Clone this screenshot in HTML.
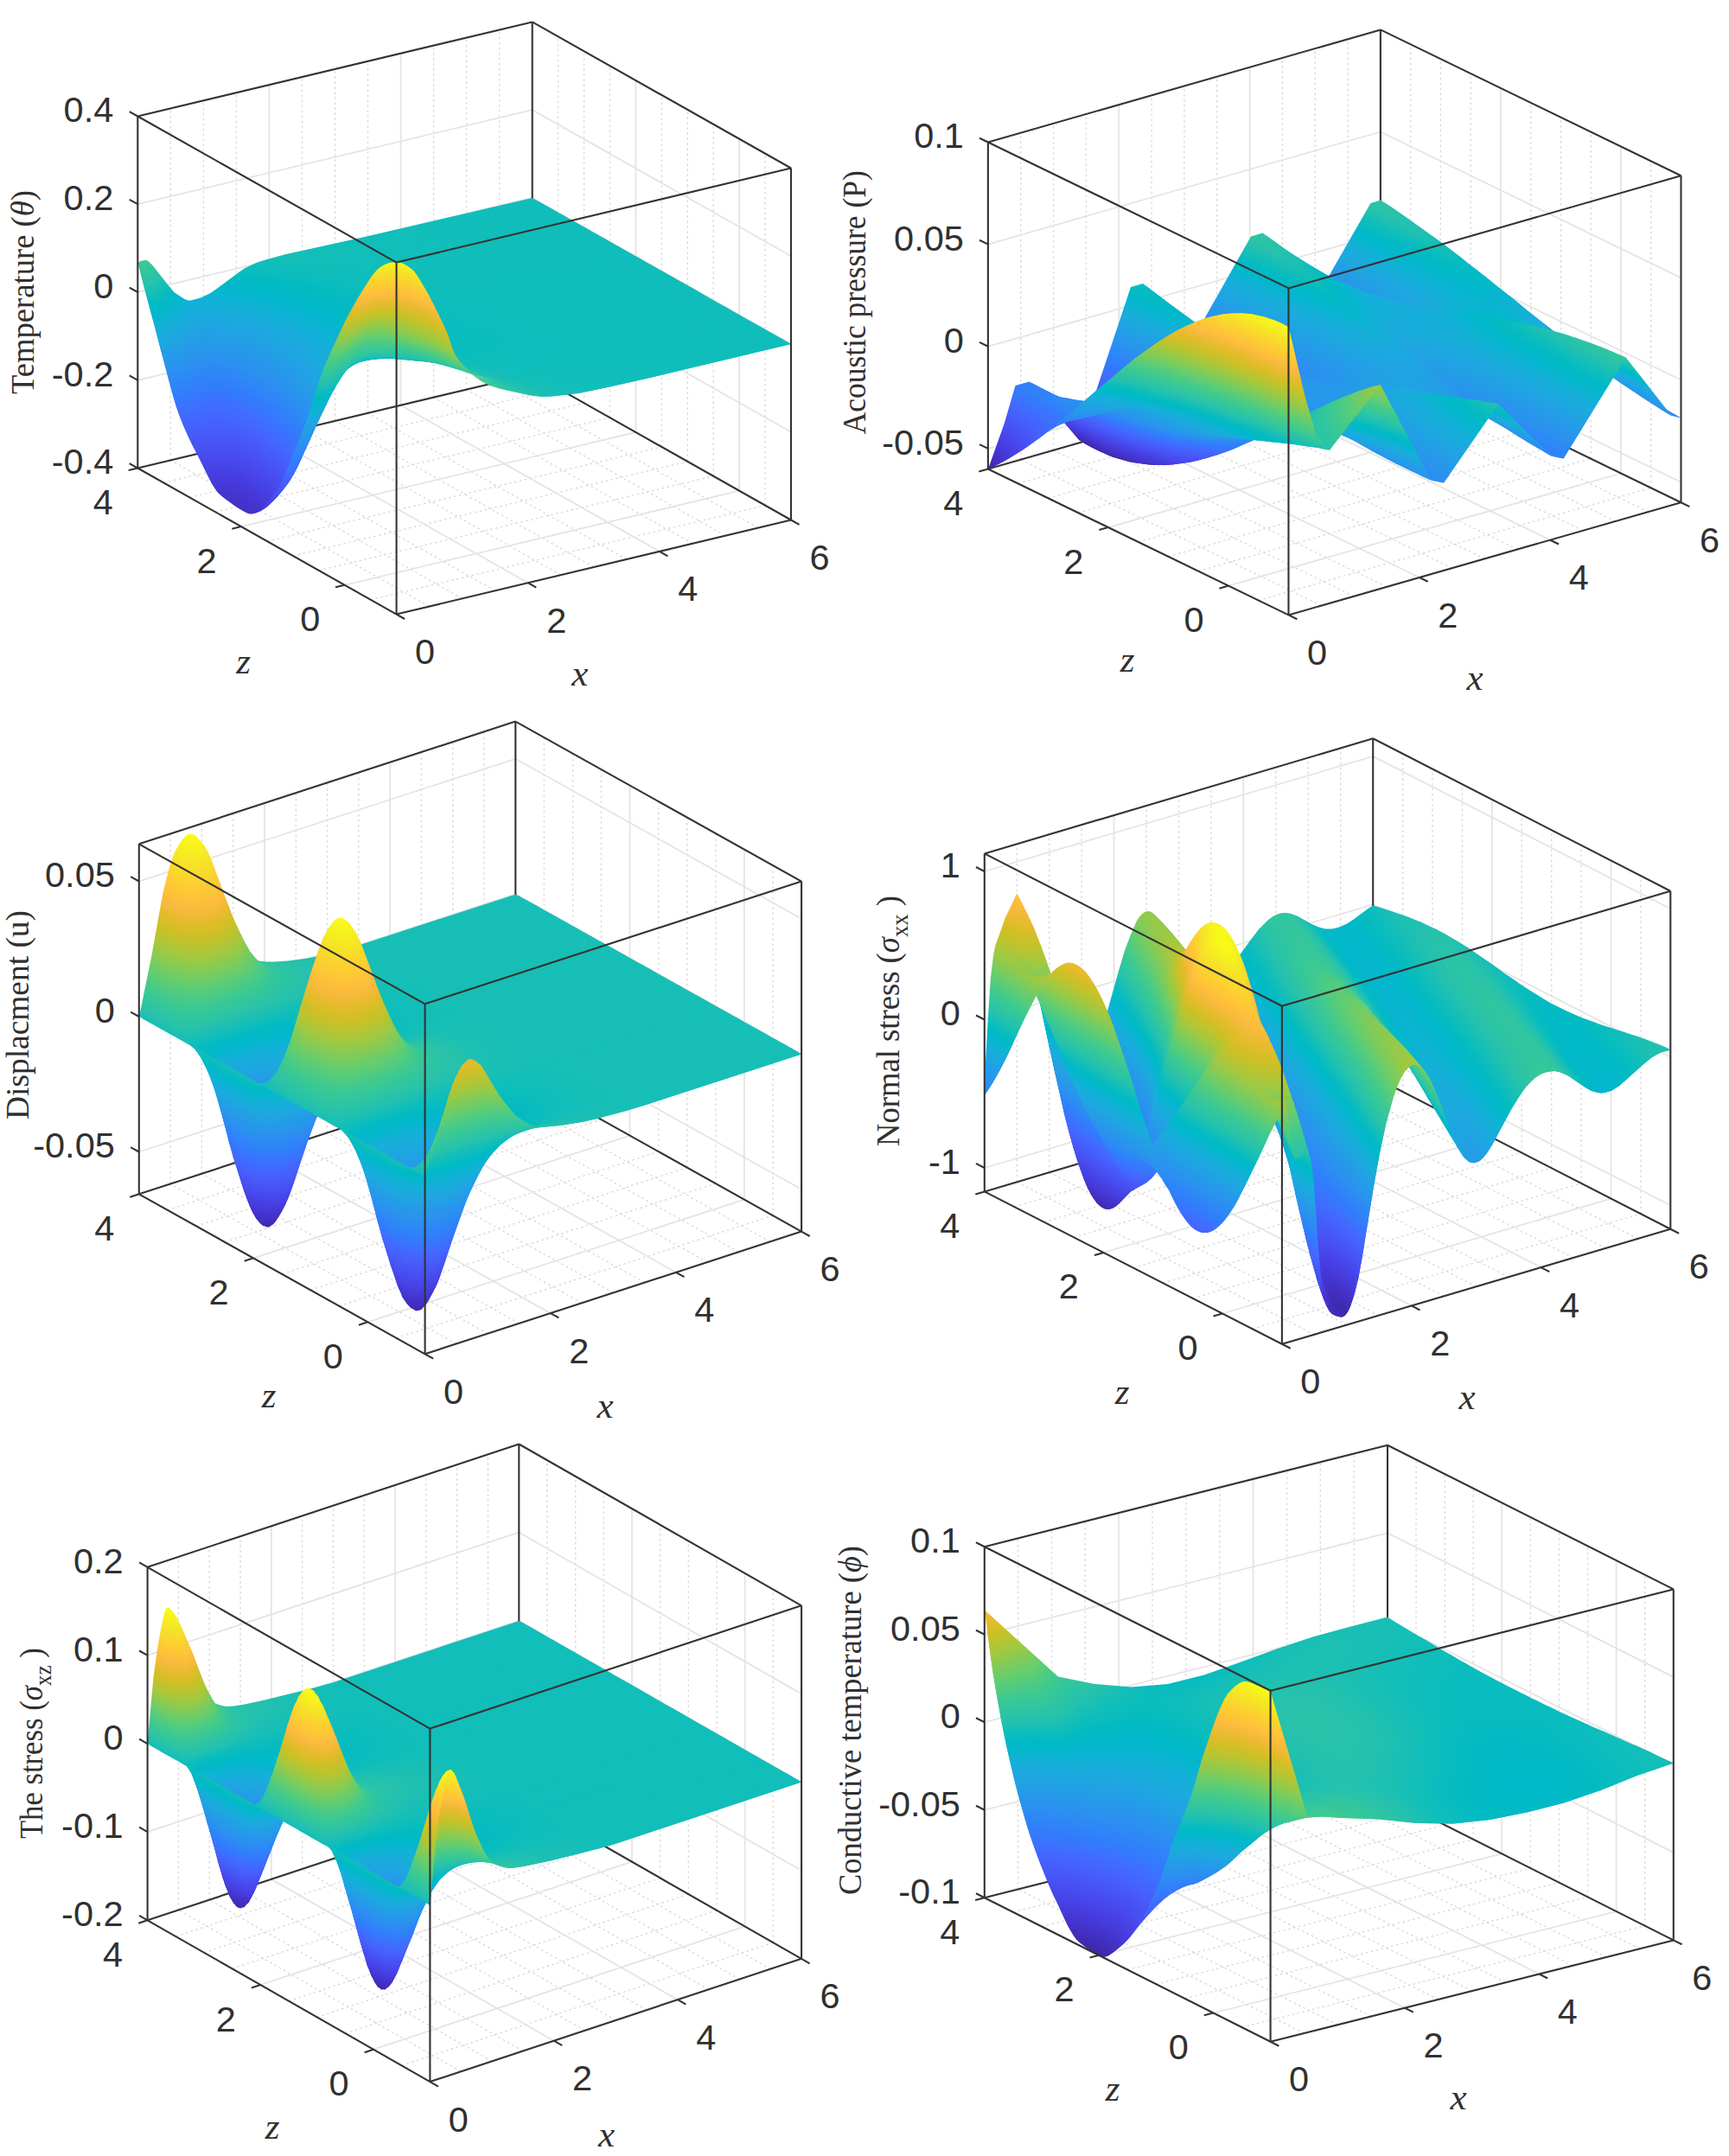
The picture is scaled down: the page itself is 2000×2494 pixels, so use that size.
<!DOCTYPE html>
<html><head><meta charset="utf-8"><title>Figure</title><style>
html,body{margin:0;padding:0;background:#fff}
svg{display:block}
.mn{fill:none;stroke:#dadada;stroke-width:1.4;stroke-dasharray:2.6 3.4}
.mj{fill:none;stroke:#e4e4e4;stroke-width:1.8}
.bx{fill:none;stroke:#333;stroke-width:2.1}
.t{font-family:"Liberation Sans",sans-serif;font-size:41.5px;fill:#303030}
.i{font-family:"Liberation Serif",serif;font-style:italic;font-size:43px;fill:#303030}
.y{font-family:"Liberation Serif",serif;font-size:37px;fill:#303030}
.y tspan.g{font-style:italic}
</style></head><body>
<svg width="2000" height="2494" viewBox="0 0 2000 2494">
<rect width="2000" height="2494" fill="#fff"/>
<g>
<path class="mn" d="M496.6 701.5L197.3 532.4M197.3 532.4L197.3 125.4M534.7 692.4L235.4 523.3M235.4 523.3L235.4 116.3M572.7 683.3L273.4 514.2M273.4 514.2L273.4 107.2M648.8 665.1L349.5 496.0M349.5 496.0L349.5 89.0M686.8 656.0L387.5 486.9M387.5 486.9L387.5 79.9M724.8 647.0L425.5 477.9M425.5 477.9L425.5 70.9M800.9 628.8L501.6 459.7M501.6 459.7L501.6 52.7M838.9 619.7L539.6 450.6M539.6 450.6L539.6 43.6M877.0 610.6L577.7 441.5M577.7 441.5L577.7 34.5M428.7 693.7L885.1 584.6M885.1 584.6L885.1 177.6M368.8 659.9L825.2 550.8M825.2 550.8L825.2 143.8M338.9 643.0L795.3 533.9M795.3 533.9L795.3 126.9M309.0 626.0L765.4 517.0M765.4 517.0L765.4 110.0M249.1 592.2L705.5 483.1M705.5 483.1L705.5 76.1M219.2 575.3L675.6 466.2M675.6 466.2L675.6 59.2M189.2 558.4L645.6 449.3M645.6 449.3L645.6 42.3"/>
<path class="mj" d="M610.7 674.2L311.4 505.1M311.4 505.1L311.4 98.1M762.9 637.9L463.6 468.8M463.6 468.8L463.6 61.8M398.7 676.8L855.1 567.7M855.1 567.7L855.1 160.7M279.0 609.1L735.4 500.0M735.4 500.0L735.4 93.0M159.3 439.8L615.7 330.6M615.7 330.6L915.0 499.8M159.3 338.0L615.7 228.9M615.7 228.9L915.0 398.0M159.3 236.2L615.7 127.1M615.7 127.1L915.0 296.2"/>
<path class="bx" d="M159.3 541.5L615.7 432.4M615.7 432.4L915.0 601.5M615.7 432.4L615.7 25.4"/>
<g class="s">
<defs><linearGradient id="ma" gradientUnits="userSpaceOnUse" x1="917.2" y1="1416.1" x2="734.3" y2="650.9"><stop offset="0" stop-color="#3e26a8"/><stop offset="0.063" stop-color="#4537d5"/><stop offset="0.095" stop-color="#4741e5"/><stop offset="0.143" stop-color="#4852f4"/><stop offset="0.19" stop-color="#4563fd"/><stop offset="0.222" stop-color="#3e6fff"/><stop offset="0.254" stop-color="#327cfc"/><stop offset="0.286" stop-color="#2e87f7"/><stop offset="0.317" stop-color="#2b91ef"/><stop offset="0.397" stop-color="#1ca9df"/><stop offset="0.413" stop-color="#18addb"/><stop offset="0.429" stop-color="#12b1d6"/><stop offset="0.444" stop-color="#08b5d0"/><stop offset="0.46" stop-color="#01b8ca"/><stop offset="0.476" stop-color="#02bac3"/><stop offset="0.492" stop-color="#0bbdbd"/><stop offset="0.524" stop-color="#24c1ae"/><stop offset="0.556" stop-color="#31c69f"/><stop offset="0.587" stop-color="#3fca8e"/><stop offset="0.635" stop-color="#64cd6f"/><stop offset="0.698" stop-color="#9dc943"/><stop offset="0.73" stop-color="#b9c431"/><stop offset="0.746" stop-color="#c5c22a"/><stop offset="0.762" stop-color="#d1bf27"/><stop offset="0.778" stop-color="#dcbd29"/><stop offset="0.794" stop-color="#e6bb2d"/><stop offset="0.825" stop-color="#f8ba3d"/><stop offset="0.841" stop-color="#febe3c"/><stop offset="0.889" stop-color="#fccf30"/><stop offset="0.937" stop-color="#f5e327"/><stop offset="0.984" stop-color="#f7f51b"/><stop offset="1" stop-color="#f9fb15"/></linearGradient></defs>
<g transform="scale(0.5)" fill="url(#ma)">
<path transform="translate(0 -479)" d="M319 1087l6-4 10-2 4 0 5 3 9 9 42 53 9 10 23 15 8 3 7 0 22-6 23-11 13-9 54-40 13-9 28-13 26-8 41-11 186-41 383-89 12 7-381 89-167 37-30 7-22 7-34 12-31 16-16 12-64 52-43 25-6 2-7 0-6-2-16-7-6-4-33-34-17-20-8-7-5-2-4 0-10 3-6 4z"/>
<path transform="translate(0 -474)" d="M325 1105l6-3 10-3 4 0 5 3 8 7 17 21 34 38 23 13 7 2 7 1 23-10 24-13 64-50 16-11 30-14 30-10 45-13 177-38 382-90 12 7-381 89-132 30-54 12-31 10-36 14-32 17-17 13-61 52-45 31-6 2-7 0-7-1-14-5-6-3-33-31-18-20-8-6-5-2-3 1-10 3-6 4z"/>
<path transform="translate(0 -469)" d="M331 1124l6-4 10-3 4 0 5 2 8 7 17 20 33 34 6 4 16 7 6 2 7 0 6-2 43-25 64-52 16-12 31-16 34-12 22-7 30-7 167-37 381-89 12 6-275 65-230 52-59 15-31 9-38 15-17 9-17 10-18 15-60 54-29 21-16 13-7 3-7 1-7-1-14-4-5-2-33-29-19-19-6-4-5-1-3 0-16 7z"/>
<path transform="translate(0 -464)" d="M337 1142l6-4 10-3 3-1 5 2 8 6 18 20 33 31 6 3 14 5 7 1 7 0 6-2 45-31 61-52 17-13 32-17 36-14 31-10 54-12 132-30 381-89 12 7-258 60-240 55-64 16-31 10-40 16-17 10-17 10-14 12-30 27-34 33-29 22-18 17-8 3-6 1-8 0-11-2-6-3-31-24-19-17-8-5-4-1-3 0-16 8z"/>
<path transform="translate(0 -460)" d="M343 1160l16-7 3 0 5 1 6 4 19 19 33 29 5 2 14 4 7 1 7-1 7-3 16-13 29-21 60-54 18-15 17-10 17-9 38-15 31-9 59-15 230-52 275-65 12 7-242 57-252 58-67 17-31 10-41 18-19 11-16 10-14 12-29 27-33 33-32 27-16 17-4 3-6 2-8 2-13-1-8-2-31-21-19-16-8-5-4-1-4 1-15 8z"/>
<path transform="translate(0 -455)" d="M349 1178l16-8 3 0 4 1 8 5 19 17 31 24 6 3 11 2 8 0 6-1 8-3 18-17 29-22 34-33 30-27 14-12 17-10 17-10 40-16 31-10 64-16 240-55 258-60 12 6-228 54-262 61-70 18-31 10-42 19-20 12-16 11-42 38-34 36-29 27-19 21-4 4-7 3-19 2-10-2-29-17-20-16-8-4-7 0-15 8z"/>
<path transform="translate(0 -450)" d="M355 1195l15-8 4-1 4 1 8 5 19 16 31 21 8 2 13 1 8-2 6-2 4-3 16-17 32-27 33-33 29-27 14-12 16-10 19-11 41-18 31-10 67-17 252-58 242-57 12 7-215 51-272 62-72 19-32 11-43 20-22 14-15 10-40 39-34 37-28 27-21 26-6 4-8 4-17 3-9-1-29-15-19-13-8-4-7 1-16 8z"/>
<path transform="translate(0 -445)" d="M361 1211l15-8 7 0 8 4 20 16 29 17 10 2 19-2 7-3 4-4 19-21 29-27 34-36 42-38 16-11 20-12 42-19 31-10 70-18 262-61 228-54 12 7-479 112-59 15-37 11-24 10-29 14-23 14-20 14-38 38-35 39-25 24-9 11-15 22-4 4-7 5-8 3-12 4-4 0-6-1-29-11-19-13-8-3-7 1-16 9z"/>
<path transform="translate(0 -440)" d="M366 1228l16-8 7-1 8 4 19 13 29 15 9 1 17-3 8-4 6-4 21-26 28-27 34-37 40-39 15-10 22-14 43-20 32-11 72-19 272-62 215-51 12 7-478 111-61 17-38 11-24 11-30 15-25 16-17 13-38 38-33 38-24 25-10 13-16 25-6 6-6 4-19 8-10 1-28-9-20-11-8-3-6 2-16 9z"/>
<path transform="translate(0 -436)" d="M372 1246l16-9 7-1 8 3 19 13 29 11 6 1 4 0 12-4 8-3 7-5 4-4 15-22 9-11 25-24 35-39 38-38 20-14 23-14 29-14 24-10 37-11 59-15 479-112 12 7-477 112-65 17-37 12-24 11-29 15-26 18-16 13-37 38-33 39-23 25-10 13-18 30-7 7-7 6-17 8-10 2-27-5-7-3-13-7-8-2-6 1-16 9z"/>
<path transform="translate(0 -431)" d="M378 1263l16-9 6-2 8 3 20 11 28 9 10-1 19-8 6-4 6-6 16-25 10-13 24-25 33-38 38-38 17-13 25-16 30-15 24-11 38-11 61-17 478-111 12 6-476 112-67 18-38 13-25 12-28 16-29 20-15 13-34 36-32 40-21 24-12 16-18 33-7 8-9 7-14 9-9 3-31-2-6-3-12-5-7-2-7 2-16 10z"/>
<path transform="translate(0 -426)" d="M384 1280l16-9 6-1 8 2 13 7 7 3 27 5 10-2 17-8 7-6 7-7 18-30 10-13 23-25 33-39 37-38 16-13 26-18 29-15 24-11 37-12 65-17 477-112 12 7-474 111-69 19-22 7-17 7-25 12-28 17-28 19-17 16-33 36-31 39-21 26-12 16-19 37-9 11-11 9-12 8-12 3-25 1-7-2-12-5-7 0-6 2-16 9z"/>
<path transform="translate(0 -421)" d="M390 1299l16-10 7-2 7 2 12 5 6 3 31 2 9-3 14-9 9-7 7-8 18-33 12-16 21-24 32-40 34-36 15-13 29-20 28-16 25-12 38-13 67-18 476-112 12 7-473 111-72 21-21 7-18 7-27 15-28 16-26 20-18 17-31 35-50 63-13 19-15 31-5 10-11 12-16 15-5 4-7 3-26 4-8-1-14-4-7 0-6 2-16 10z"/>
<path transform="translate(0 -416)" d="M396 1316l16-9 6-2 7 0 12 5 7 2 25-1 12-3 12-8 11-9 9-11 19-37 12-16 21-26 31-39 33-36 17-16 28-19 28-17 25-12 17-7 22-7 69-19 474-111 12 7-473 111-35 9-39 13-20 6-18 8-32 17-27 18-23 18-21 21-27 31-49 64-13 19-15 33-5 10-12 15-16 16-5 4-7 3-25 7-8 0-15-3-7 0-21 13z"/>
<path transform="translate(0 -412)" d="M402 1334l16-10 6-2 7 0 14 4 8 1 26-4 7-3 5-4 16-15 11-12 5-10 15-31 13-19 50-63 31-35 18-17 26-20 28-16 27-15 18-7 21-7 72-21 473-111 12 7-472 111-36 10-40 12-20 8-18 8-38 21-26 18-21 17-23 24-22 26-49 66-12 18-15 34-5 11-12 16-17 18-11 8-27 9-8 1-13-3-7 1-21 13z"/>
<path transform="translate(0 -407)" d="M408 1349l21-13 7 0 15 3 8 0 25-7 7-3 5-4 16-16 12-15 5-10 15-33 13-19 49-64 27-31 21-21 23-18 27-18 32-17 18-8 20-6 39-13 35-9 473-111 12 6-471 112-35 9-42 13-20 8-18 8-41 24-33 24-20 18-27 30-14 17-46 62-10 17-15 35-7 13-11 17-17 19-11 8-24 11-8 2-14-2-7 1-5 2-17 11z"/>
<path transform="translate(0 -402)" d="M414 1361l21-13 7-1 13 3 8-1 27-9 11-8 17-18 12-16 5-11 15-34 12-18 49-66 22-26 23-24 21-17 26-18 38-21 18-8 20-8 40-12 36-10 472-111 12 7-471 111-37 10-41 13-20 8-18 8-40 24-35 25-19 18-27 31-15 18-45 61-10 19-14 33-7 14-12 19-17 20-10 8-24 13-8 3-14-1-7 1-22 14z"/>
<path transform="translate(0 -397)" d="M420 1371l17-11 5-2 7-1 14 2 8-2 24-11 11-8 17-19 11-17 7-13 15-35 10-17 46-62 14-17 27-30 20-18 33-24 41-24 18-8 20-8 42-13 35-9 471-112 12 7-471 112-37 10-42 14-19 7-20 9-40 24-34 25-19 18-28 31-14 19-44 60-10 19-14 34-7 14-12 20-18 23-11 9-24 14-8 3-12 0-7 2-22 13z"/>
<path transform="translate(0 -392)" d="M426 1381l22-14 7-1 14 1 8-3 24-13 10-8 17-20 12-19 7-14 14-33 10-19 45-61 15-18 27-31 19-18 35-25 40-24 18-8 20-8 41-13 37-10 471-111 12 6-471 112-38 11-43 14-20 8-18 8-39 24-34 25-20 20-29 32-46 61-10 15-10 19-15 38-7 14-13 22-18 22-10 9-23 16-8 3-12 1-7 2-22 14z"/>
<path transform="translate(0 -387)" d="M432 1389l22-13 7-2 12 0 8-3 24-14 11-9 18-23 12-20 7-14 14-34 10-19 44-60 14-19 28-31 19-18 34-25 40-24 20-9 19-7 42-14 37-10 471-112 12 7-471 112-38 11-44 14-19 7-19 10-38 23-35 26-20 20-29 32-43 58-12 17-10 19-15 39-8 16-15 24-10 15-7 8-9 8-23 18-8 4-11 1-7 2-22 15z"/>
<path transform="translate(0 -383)" d="M438 1398l22-14 7-2 12-1 8-3 23-16 10-9 18-22 13-22 7-14 15-38 10-19 10-15 46-61 29-32 20-20 34-25 39-24 18-8 20-8 43-14 38-11 471-112 12 7-333 79-137 33-39 11-45 16-19 7-19 10-37 22-35 26-22 21-29 33-41 56-13 19-9 17-15 39-8 17-17 29-16 22-9 8-23 20-7 3-11 3-7 2-22 14z"/>
<path transform="translate(0 -378)" d="M444 1406l22-15 7-2 11-1 8-4 23-18 9-8 7-8 10-15 15-24 8-16 15-39 10-19 12-17 43-58 29-32 20-20 35-26 38-23 19-10 19-7 44-14 38-11 471-112 12 7-333 78-137 34-40 11-47 16-18 8-18 9-36 22-34 25-19 18-25 27-22 27-29 40-11 17-9 18-15 40-7 15-13 24-18 26-11 13-24 23-7 4-11 3-7 3-22 14z"/>
<path transform="translate(0 -373)" d="M450 1412l22-14 7-2 11-3 7-3 23-20 9-8 16-22 17-29 8-17 15-39 9-17 13-19 41-56 29-33 22-21 35-26 37-22 19-10 19-7 45-16 39-11 137-33 333-79 12 7-333 79-137 33-41 12-47 16-18 8-18 10-36 22-34 25-19 18-27 28-14 19-30 40-15 23-9 17-15 41-7 15-15 28-17 26-11 14-24 24-7 4-17 7-22 14z"/>
<path transform="translate(0 -368)" d="M456 1419l22-14 7-3 11-3 7-4 24-23 11-13 18-26 13-24 7-15 15-40 9-18 11-17 29-40 22-27 25-27 19-18 34-25 36-22 18-9 18-8 47-16 40-11 137-34 333-78 12 6-333 79-137 34-41 12-47 16-18 8-20 10-34 22-34 25-22 20-26 28-15 19-28 39-15 23-8 16-15 41-8 18-15 28-17 28-10 13-24 26-7 5-17 7-22 15z"/>
<path transform="translate(0 -363)" d="M462 1425l22-14 17-7 7-4 24-24 11-14 17-26 15-28 7-15 15-41 9-17 15-23 30-40 14-19 27-28 19-18 34-25 36-22 18-10 18-8 47-16 41-12 137-33 333-79 12 7-333 79-137 33-41 13-48 16-18 8-20 11-34 22-35 26-23 21-26 29-40 53-15 23-8 17-16 44-8 19-17 32-16 26-25 32-8 8-7 5-15 8-23 16z"/>
<path transform="translate(0 -359)" d="M468 1433l22-15 17-7 7-5 24-26 10-13 17-28 15-28 8-18 15-41 8-16 15-23 28-39 15-19 26-28 22-20 34-25 34-22 20-10 18-8 47-16 41-12 137-34 333-79 12 7-333 79-137 34-41 12-48 17-19 9-21 11-34 22-34 26-27 24-25 28-37 51-15 24-8 17-15 43-8 18-21 41-13 22-24 33-9 10-44 29z"/>
<path transform="translate(0 -354)" d="M474 1441l23-16 15-8 7-5 8-8 25-32 16-26 17-32 8-19 16-44 8-17 15-23 40-53 26-29 23-21 35-26 34-22 20-11 18-8 48-16 41-13 137-33 333-79 12 6-333 80-137 34-41 12-48 17-19 9-22 12-34 22-36 27-28 27-24 26-34 47-16 26-7 15-15 44-9 21-21 42-15 25-22 33-10 10-33 24-9 6z"/>
<path transform="translate(0 -349)" d="M480 1448l44-29 9-10 24-33 13-22 21-41 8-18 15-43 8-17 15-24 37-51 25-28 27-24 34-26 34-22 21-11 19-9 48-17 41-12 137-34 333-79 12 7-333 79-137 34-42 13-48 17-21 10-21 12-38 25-33 25-32 31-22 25-31 42-14 25-7 15-15 44-9 22-22 45-16 28-22 33-9 11-31 23-10 7z"/>
<path transform="translate(0 -344)" d="M486 1455l9-6 33-24 10-10 22-33 15-25 21-42 9-21 15-44 7-15 16-26 34-47 24-26 28-27 36-27 34-22 22-12 19-9 48-17 41-12 137-34 333-80 12 7-332 79-138 35-42 13-48 17-21 9-23 14-45 31-28 21-32 30-22 28-28 37-15 26-6 16-15 44-9 22-22 46-17 31-20 30-9 12-29 24-12 7z"/>
<path transform="translate(0 -339)" d="M492 1461l10-7 31-23 9-11 22-33 16-28 22-45 9-22 15-44 7-15 14-25 31-42 22-25 32-31 33-25 38-25 21-12 21-10 48-17 42-13 137-34 333-79 12 7-332 79-138 34-43 14-48 17-21 10-24 14-49 33-27 22-30 28-26 32-23 32-14 25-7 17-13 41-9 22-22 47-18 34-20 32-9 12-27 24-13 8z"/>
<path transform="translate(0 -334)" d="M498 1465l12-7 29-24 9-12 20-30 17-31 22-46 9-22 15-44 6-16 15-26 28-37 22-28 32-30 28-21 45-31 23-14 21-9 48-17 42-13 138-35 332-79 12 7-332 79-138 35-43 13-48 18-22 10-25 15-53 35-28 23-28 27-28 36-17 24-13 22-7 17-13 41-11 26-22 50-19 34-17 29-10 15-26 23-13 7z"/>
<path transform="translate(0 -330)" d="M504 1470l13-8 27-24 9-12 20-32 18-34 22-47 9-22 13-41 7-17 14-25 23-32 26-32 30-28 27-22 49-33 24-14 21-10 48-17 43-14 138-34 332-79 12 6-333 80-138 35-44 13-48 18-22 11-27 16-52 35-32 26-14 13-12 13-30 38-13 18-10 19-7 17-14 44-16 38-24 51-24 44-10 14-6 9-23 21-14 8z"/>
<path transform="translate(0 -325)" d="M510 1470l13-7 26-23 10-15 17-29 19-34 22-50 11-26 13-41 7-17 13-22 17-24 28-36 28-27 28-23 53-35 25-15 22-10 48-18 43-13 138-35 332-79 12 7-333 79-138 35-44 14-48 18-24 11-27 16-52 35-34 27-12 12-13 13-29 37-12 17-10 19-20 58-16 39-26 55-24 44-9 15-7 9-21 20-7 5-7 4z"/>
<path transform="translate(0 -320)" d="M516 1470l14-8 23-21 6-9 10-14 24-44 24-51 16-38 14-44 7-17 10-19 13-18 30-38 12-13 14-13 32-26 52-35 27-16 22-11 48-18 44-13 138-35 333-80 12 7-333 80-139 35-44 14-48 18-25 12-30 18-51 34-33 26-12 12-13 13-29 36-10 15-9 17-21 58-15 39-26 56-25 48-10 17-11 13-16 15-13 7z"/>
<path transform="translate(0 -315)" d="M522 1470l7-4 7-5 21-20 7-9 9-15 24-44 26-55 16-39 20-58 10-19 12-17 29-37 13-13 12-12 34-27 52-35 27-16 24-11 48-18 44-14 138-35 333-79 12 7-334 80-141 36-44 14-47 17-25 13-33 20-49 32-32 24-25 26-28 34-10 15-8 15-21 58-17 42-26 59-24 47-10 17-14 16-13 12-12 6z"/>
<path transform="translate(0 -310)" d="M528 1469l13-7 16-15 11-13 10-17 25-48 26-56 15-39 21-58 9-17 10-15 29-36 13-13 12-12 33-26 51-34 30-18 25-12 48-18 44-14 139-35 333-80 12 7-342 82-100 25-44 13-49 16-39 15-30 17-54 34-34 22-24 20-25 27-22 30-14 25-20 55-17 42-26 60-24 49-10 17-14 17-14 12-11 7z"/>
<path transform="translate(0 -306)" d="M534 1469l12-6 13-12 14-16 10-17 24-47 26-59 17-42 21-58 8-15 10-15 28-34 25-26 32-24 49-32 33-20 25-13 47-17 44-14 141-36 334-80 12 6-345 83-105 27-40 11-51 18-35 14-30 16-64 40-28 20-22 18-24 26-21 27-12 23-20 54-17 43-27 64-24 49-10 18-14 17-13 12-11 6z"/>
<path transform="translate(0 -301)" d="M540 1469l11-7 14-12 14-17 10-17 24-49 26-60 17-42 20-55 14-25 22-30 25-27 24-20 34-22 54-34 30-17 39-15 49-16 44-13 100-25 342-82 12 7-347 83-108 28-37 10-52 19-33 13-30 16-73 45-25 18-21 18-24 26-17 24-11 21-21 58-34 83-33 72-10 18-14 17-12 11-11 6z"/>
<path transform="translate(0 -296)" d="M546 1468l11-6 13-12 14-17 10-18 24-49 27-64 17-43 20-54 12-23 21-27 24-26 22-18 28-20 64-40 30-16 35-14 51-18 40-11 105-27 345-83 12 7-348 84-109 28-36 10-54 19-32 13-27 15-82 50-22 15-22 20-21 24-16 23-10 20-21 57-35 87-32 71-9 16-15 19-12 10-10 5z"/>
<path transform="translate(0 -291)" d="M552 1467l11-6 12-11 14-17 10-18 33-72 34-83 21-58 11-21 17-24 24-26 21-18 25-18 73-45 30-16 33-13 52-19 37-10 108-28 347-83 12 6-349 85-108 27-37 11-54 19-31 13-26 14-89 52-20 15-21 19-21 23-14 22-9 18-21 57-39 96-29 67-10 16-13 18-12 10-10 5z"/>
<path transform="translate(0 -286)" d="M558 1465l10-5 12-10 15-19 9-16 32-71 35-87 21-57 10-20 16-23 21-24 22-20 22-15 82-50 27-15 32-13 54-19 36-10 109-28 348-84 12 7-348 84-103 26-42 13-51 17-34 14-23 13-97 55-21 15-19 18-20 22-14 20-9 19-18 51-42 106-29 65-9 17-13 18-11 9-10 4z"/>
<path transform="translate(0 -282)" d="M564 1465l10-5 12-10 13-18 10-16 29-67 39-96 21-57 9-18 14-22 21-23 21-19 20-15 89-52 26-14 31-13 54-19 37-11 108-27 349-85 12 7-348 84-101 26-44 13-49 17-34 14-23 12-104 58-21 15-18 17-17 20-14 20-8 17-17 47-45 116-27 61-9 17-13 18-11 9-10 5z"/>
<path transform="translate(0 -277)" d="M570 1463l10-4 11-9 13-18 9-17 29-65 42-106 18-51 9-19 14-20 20-22 19-18 21-15 97-55 23-13 34-14 51-17 42-13 103-26 348-84 12 7-346 83-92 24-53 15-48 16-36 15-130 69-21 15-18 17-17 20-13 19-8 17-15 41-48 123-26 61-10 18-11 16-11 9-10 4z"/>
<path transform="translate(0 -272)" d="M576 1461l10-5 11-9 13-18 9-17 27-61 45-116 17-47 8-17 14-20 17-20 18-17 21-15 104-58 23-12 34-14 49-17 44-13 101-26 348-84 12 7-346 84-89 23-55 15-47 16-37 15-24 11-45 25-50 24-15 9-20 14-18 17-16 18-13 19-7 15-15 41-49 125-26 62-10 18-10 14-11 9-10 4z"/>
<path transform="translate(0 -267)" d="M594 1453l2-1-12 4-2 0zM584 1456l11-6 9-8 11-16 9-17 26-61 48-123 15-41 8-17 13-19 17-20 18-17 21-15 130-69 36-15 48-16 53-15 92-24 346-83 12 6-345 84-85 22-59 16-45 15-39 15-24 12-44 24-55 25-16 9-20 14-16 14-14 17-13 18-8 18-65 167-24 57-10 18-11 15-9 8-9 4z"/>
<path transform="translate(0 -262)" d="M600 1444l8-3-12 6-8 3zM596 1447l9-6 8-10 10-16 8-15 24-57 49-125 15-41 7-15 13-19 16-18 18-17 20-14 15-9 50-24 45-25 24-11 37-15 47-16 55-15 89-23 346-84 12 7-343 83-81 20-62 18-45 15-41 15-24 11-45 24-26 12-32 13-19 11-17 12-16 14-14 16-11 16-8 18-64 163-23 55-8 16-10 16-7 8-9 6z"/>
<path transform="translate(0 -257)" d="M606 1434l7-2 7-5-12 9-7 4-7 3zM608 1436l6-6 8-11 8-13 8-17 22-52 64-164 7-16 11-17 15-18 17-15 20-14 17-10 55-25 44-24 24-12 39-15 45-15 59-16 85-22 345-84 12 7-341 83-80 20-64 18-45 15-41 15-24 11-47 24-25 11-34 13-22 11-15 11-15 13-14 16-10 16-8 17-64 162-22 52-7 14-9 15-7 9-5 4z"/>
<path transform="translate(0 -253)" d="M612 1424l8-3 9-6-12 11-9 6-8 3zM617 1426l7-8 7-10 13-27 22-53 63-160 8-18 11-16 14-16 16-14 17-12 19-11 32-13 26-12 45-24 24-11 41-15 45-15 62-18 81-20 343-83 12 7-339 82-77 19-66 19-43 13-44 16-23 11-50 24-25 10-35 12-25 13-15 10-14 13-13 15-9 14-47 113-24 62-21 49-13 27-7 10-6 6z"/>
<path transform="translate(0 -248)" d="M618 1412l8-2 10-7-12 12-10 7-8 3zM624 1415l6-7 7-10 13-27 84-209 8-17 10-16 14-16 15-13 15-11 22-11 34-13 25-11 47-24 24-11 41-15 45-15 64-18 80-20 341-83 12 7-337 81-74 19-69 19-43 14-43 15-76 35-26 10-36 11-28 14-13 9-13 11-11 13-9 14-10 19-37 90-26 67-20 47-12 24-6 9-6 7z"/>
<path transform="translate(0 -243)" d="M624 1400l4-1 6-3 6-3 4-5-12 14-10 8-6 3-4 1zM632 1402l13-19 11-24 21-49 23-59 47-113 9-14 13-15 14-13 15-10 25-13 35-12 25-10 50-24 23-11 44-16 43-13 66-19 77-19 339-82 12 6-335 81-72 19-68 18-44 14-44 15-24 10-55 25-26 9-37 11-29 13-14 9-12 11-12 13-8 12-10 22-35 82-26 67-20 47-11 22-11 15z"/>
<path transform="translate(0 -238)" d="M630 1387l6-1 5-3 6-3 5-5-12 14-5 5-6 4-5 3-6 1zM640 1389l11-18 10-21 21-49 24-62 37-90 10-19 9-14 11-13 13-11 14-10 27-13 36-11 26-10 76-35 44-15 44-14 68-19 73-19 337-81 12 7-331 80-139 36-46 14-45 16-22 9-60 25-25 9-37 9-19 7-13 6-13 9-13 11-11 13-7 10-20 45-24 55-28 69-19 46-10 20-9 14z"/>
<path transform="translate(0 -233)" d="M636 1374l6-1 5-2 6-4 5-5-12 15-5 5-6 4-5 2-6 2zM646 1377l10-16 10-20 20-47 26-67 35-82 10-22 8-12 12-13 12-11 14-9 29-13 37-11 26-9 55-25 24-10 44-15 44-14 68-18 72-19 335-81 12 7-327 79-138 36-49 15-49 17-83 34-23 7-38 7-19 7-14 6-12 8-14 12-10 12-7 12-18 38-25 56-27 66-19 46-10 21-9 13z"/>
<path transform="translate(0 -229)" d="M642 1362l6-1 5-2 6-3 5-5-12 15-5 5-6 3-5 3-6 1zM652 1366l9-14 10-20 19-46 28-69 24-55 20-45 7-10 11-13 13-11 13-9 13-6 19-7 37-9 25-9 60-25 22-9 45-16 46-14 139-36 331-80 12 6-323 79-136 35-50 15-53 17-82 33-25 7-38 6-21 7-15 7-13 8-13 12-8 9-8 14-17 35-24 53-27 65-20 48-10 20-8 12z"/>
<path transform="translate(0 -224)" d="M648 1348l7-1 8-4 4-4 5-5-12 16-5 6-4 4-8 4-7 1zM660 1350l8-12 9-19 19-46 27-66 25-56 18-38 7-12 10-12 14-12 12-8 14-6 19-7 38-7 23-7 83-34 49-17 49-15 138-36 327-79 12 7-308 75-120 30-60 17-60 19-25 8-55 22-16 6-25 6-39 6-21 5-15 6-14 9-14 12-8 10-9 15-15 30-22 49-27 64-20 48-8 16-8 13z"/>
<path transform="translate(0 -219)" d="M654 1331l8-2 9-4 6-6 6-10-11 20-7 10-6 7-9 5-8 1zM672 1329l14-30 44-106 23-50 17-35 8-14 9-10 13-12 13-8 15-6 20-7 38-6 24-7 83-33 53-17 50-15 136-35 323-79 12 7-247 60-155 39-68 18-58 17-41 14-58 22-16 5-25 6-33 3-19 3-15 4-12 5-14 9-13 11-7 8-10 17-14 26-21 45-44 103-14 28z"/>
<path transform="translate(0 -214)" d="M660 1312l9-2 7-3 3-3 8-10 10-19-12 25-10 19-8 10-10 7-9 2zM685 1300l22-50 28-67 22-49 14-28 9-16 7-9 13-11 13-10 12-6-15 9-12 10-8 9-10 16-13 23-22 44-26 62-22 48zM825 1054l15-5 19-3-11 2-20 5-15 7zM848 1048l13-3 31-4 24-6 17-6 57-22 32-11 59-19 63-17 123-31 294-71 12 7-306 74-123 31-51 14-52 16-38 12-58 21-15 4-26 6-31 1-14 2z"/>
<path transform="translate(0 -209)" d="M666 1291l5 0 7-2 5-3 4-4 12-17 12-27-12 28-12 26-12 18-4 5-6 3-5 2-6 1zM699 1266l7-16 12-27-7 15zM718 1223l4-7-12 26-4 8zM710 1242l28-69 25-52 21-37 6-8 6-8 12-10-8 7-8 10-18 30-24 45-28 66zM808 1058l19-11 13-4 12-2 20-2 20 0-12 0-20 2-19 3-11 4-15 7-19 13zM880 1039l21-3 27-6 69-26 37-12 57-17 61-17 137-35 278-67 12 7-269 65-149 38-107 30-112 36-29 6-21 1z"/>
<path transform="translate(0 -205)" d="M672 1272l7-1 9-3 4-4 5-5 11-20 23-48-12 27-22 48-12 22-5 6-4 4-9 4-7 1zM719 1218l25-60 21-41 18-33 14-19 12-11-15 16-17 27-21 38-25 56zM809 1054l9-7 10-5 8-4 9-2 12-1 22-1 24 1-12 0-25 1-20 3-13 3-9 3-9 6-10 7-8 7zM891 1035l18-2 28-7 69-24 41-13 54-16 65-18 157-39 250-60 12 6-241 59-168 42-111 30-114 36-29 5-19 1z"/>
<path transform="translate(0 -200)" d="M678 1252l7-1 9-3 4-3 5-6 11-19 24-49-12 26-23 50-12 22-5 5-4 4-9 4-7 0zM726 1197l28-63 12-22-28 59zM766 1112l4-8-12 22-4 8zM758 1126l23-42 9-15 10-13 12-11-10 10-9 12-23 37zM812 1045l8-5 11-5 10-5 9-2 11 0 24 0 27 2-12 0-27 0-22 2-13 2-10 4-10 5-11 7-7 6zM900 1030l16-1 29-7 69-23 45-14 55-16 70-18 395-97 12 7-222 53-180 45-103 28-125 38-32 5-17 0z"/>
<path transform="translate(0 -195)" d="M684 1232l7 0 9-3 4-3 5-5 11-19 23-46-12 25-23 48-11 20-5 5-4 4-9 3-7 1zM731 1181l29-63 12-21-10 17-19 42zM772 1097l4-8-12 21-4 8zM764 1110l18-33 13-18 12-14-13 15-18 29zM807 1045l9-8 8-6 15-6 12-3 20-1 24 1 24 4-12-1-24-1-22 0-12 1-11 3-14 6-13 8-7 6-9 11zM907 1025l15-1 29-5 114-36 111-30 168-42 241-59 12 7-396 97-89 24-142 40-31 5-10 1-10 0z"/>
<path transform="translate(0 -190)" d="M690 1213l7 0 9-3 4-3 5-5 10-17 25-49-12 25-24 49-11 19-5 6-4 3-9 3-7 1zM738 1161l28-59 12-21-10 17-18 38zM778 1081l5-8-12 19-5 10zM771 1092l15-25 10-15 12-14-10 12-15 23zM808 1038l10-8 10-7 13-5 15-4 19 0 26 3 26 4-12-1-26-2-24 0-12 0-10 2-15 6-12 6-9 8-11 12zM915 1020l18-1 28-4 125-38 103-28 180-45 222-53 12 6-391 96-234 64-27 4-14 1-10-1z"/>
<path transform="translate(0 -185)" d="M696 1193l7 0 9-3 4-3 5-4 10-17 27-52-11 24-27 54-11 19-5 5-4 3-9 3-7 0zM747 1138l22-47 12-21-23 44zM781 1070l14-20-12 18-14 23zM783 1068l10-16 12-16-10 14zM805 1036l12-13 10-6 14-6 18-4 9-1 10 1 56 10-12-1-27-4-28-1-11 0-10 2-17 6-12 7-11 10-13 16zM922 1016l10 0 13-1 25-5 142-40 89-24 396-97 12 7-388 95-216 58-37 7-22 2-12-1z"/>
<path transform="translate(0 -180)" d="M702 1173l7 0 9-2 4-3 5-5 10-16 31-57-12 24-30 59-10 17-6 7-4 3-9 3-7 0zM756 1114l15-30 12-22-15 28zM783 1062l8-13 24-30 10-9 14-6 22-4 13-1 13 2 55 12-12-1-31-5-36-3-14 1-20 8-15 9-10 11-15 21-18 30zM930 1012l24-1 24-4 234-64 391-96 12 7-386 95-207 54-43 9-23 1-14 0z"/>
<path transform="translate(0 -176)" d="M708 1153l7 0 10-2 4-3 5-6 9-14 49-87 23-28 7-7 7-5 8-3 11-3 19-2 8 0 14 2 62 15-12-2-58-9-16-2-10 2-18 4-9 4-9 6-7 6-8 9-23 33-48 92-10 17-6 7-4 4-9 3-8 0zM939 1008l15 0 18-1 35-8 214-57 388-95 11 7-383 93-201 53-48 9-19 1-18 0z"/>
<path transform="translate(0 -171)" d="M714 1132l7 0 9-2 4-2 5-5 9-13 50-85 22-25 12-10 6-2 13-2 22-1 8 0 12 2 52 16 14 3-12-2-11-1-52-11-13-2-10 1-18 3-9 3-10 5-7 5-7 8-23 30-49 91-10 17-6 6-4 3-9 2-7 0zM947 1004l17 0 17-1 42-9 206-54 386-95 11 7-382 93-197 51-51 10-19 0-18 0z"/>
<path transform="translate(0 -166)" d="M720 1109l7 1 9-2 4-2 5-5 8-11 17-29 33-52 20-21 7-6 7-4 9-2 41 1 12 3 52 18 15 3-12-1-12-2-54-14-13-1-8 0-19 2-11 3-8 3-7 5-7 7-23 28-49 87-9 14-5 6-4 3-10 2-7 0zM954 1000l18 0 18-1 46-9 201-53 383-93 12 6-381 94-191 48-25 5-31 5-18 0-20-1z"/>
<path transform="translate(0 -161)" d="M726 1084l6 1 10-2 4-2 5-4 7-9 18-29 33-48 6-6 14-13 13-8 8-1 43 6 64 24 19 4-12-1-15-2-55-16-13-3-28 1-14 1-6 2-6 5-7 6-22 25-50 85-9 13-5 5-4 2-9 2-7 0zM964 996l18 0 16-1 50-9 196-51 382-93 12 7-279 68-285 71-28 6-33 4-17 0-20-1z"/>
<path transform="translate(0 -156)" d="M732 1058l6 0 10-1 3-1 5-3 6-8 19-28 33-45 5-5 14-11 7-4 7-3 7 0 16 5 29 6 65 28 13 4 11 1-12-1-11-1-10-2-56-19-12-3-40-1-9 1-7 4-6 6-22 22-33 52-17 29-8 11-5 5-4 2-9 2-7-1zM976 992l16 0 15-1 31-4 26-6 187-47 381-94 12 7-227 55-165 41-100 26-67 16-27 5-29 3-19 1-22-1z"/>
<path transform="translate(0 -152)" d="M738 1034l16 0 3-1 5-3 8-9 18-26 32-40 5-5 13-8 7-3 7-2 8 0 16 8 30 9 32 16 36 15 10 3 11 2-11-1-12-1-11-3-69-25-43-6-7 1-13 8-14 13-6 6-33 48-18 29-7 9-5 4-4 2-10 2-6-1zM984 989l18 0 16-1 31-4 27-5 279-70 283-69 12 7-260 63-229 57-65 15-27 5-27 3-24 2-23-2z"/>
<path transform="translate(0 -147)" d="M744 1013l16 0 6-3 8-8 20-27 31-35 6-5 11-5 8-4 7-1 8 1 17 10 30 11 31 17 32 15 13 4 10 3-12-2-10-2-13-4-64-27-29-6-16-5-7 0-7 3-7 4-14 11-5 5-33 45-19 28-6 8-5 3-3 1-10 1-6 0zM986 984l21 1 17 0 32-4 28-5 68-16 100-26 168-41 224-55 12 7-244 59-241 60-66 15-29 6-28 2-25 1-25-2z"/>
<path transform="translate(0 -142)" d="M750 992l16 1 6-3 8-8 20-25 31-31 6-5 10-4 8-2 6-1 8 1 19 13 30 13 31 18 27 13 13 6 12 3-12-2-11-2-11-5-30-13-32-15-29-9-16-8-8 0-7 2-7 3-13 8-5 5-32 40-18 26-8 9-5 3-3 1-16 0zM989 979l21 2 19 0 33-3 29-5 69-16 230-57 260-63 12 6-231 56-249 62-68 16-31 5-29 2-26 1-27-4z"/>
<path transform="translate(0 -137)" d="M756 973l16 1 6-3 8-7 19-22 30-30 10-5 12-3 8-1 6 0 4 2 19 16 30 14 35 21 30 16 16 5-12-2-10-3-13-6-27-12-32-17-29-11-17-10-8-1-7 1-8 4-11 5-6 5-31 35-20 27-8 8-6 3-16 0zM993 975l26 3 21 0 31-3 31-5 69-16 241-60 244-59 12 7-220 53-257 64-68 15-33 6-27 2-29-1-29-4z"/>
<path transform="translate(0 -132)" d="M762 954l16 1 5-1 8-7 20-22 29-25 11-5 11-2 8-1 6 1 4 2 20 18 32 17 30 20 32 17 17 6-12-2-10-3-13-6-27-13-31-18-30-13-19-13-8-1-6 1-8 2-10 4-6 5-31 31-20 25-8 8-6 3-16-1zM999 971l28 4 25 0 30-3 30-5 70-16 249-62 231-56 12 7-473 116-66 15-35 6-28 2-31-1-30-5z"/>
<path transform="translate(0 -128)" d="M768 937l16 1 5-1 8-6 20-21 28-22 10-4 20-1 7 2 4 3 16 17 7 5 27 15 31 21 32 18 18 7-12-3-16-5-30-16-35-21-30-14-19-16-4-2-6 0-8 1-12 3-10 5-30 30-19 22-8 7-6 3-16-1zM1005 968l29 4 29 1 27-2 33-6 68-15 257-64 220-53 12 6-471 116-64 14-35 6-29 2-33-1-31-5z"/>
<path transform="translate(0 -123)" d="M774 919l16 2 6-2 7-5 20-19 25-17 7-4 8-2 17 1 6 2 6 4 17 20 12 9 21 12 35 24 29 17 17 6-12-3-17-6-32-17-30-20-32-17-20-18-4-2-6-1-8 1-11 2-11 5-29 25-20 22-8 7-5 1-16-1zM1011 964l30 5 31 1 28-2 35-6 66-15 473-116 12 7-469 114-60 13-39 7-27 2-36-1-32-6z"/>
<path transform="translate(0 -118)" d="M780 902l15 1 7-1 7-5 20-18 30-17 8-1 16 2 8 3 6 4 18 23 13 10 20 13 35 24 29 17 17 7-12-3-18-7-32-18-31-21-27-15-7-5-16-17-4-3-7-2-20 1-10 4-28 22-20 21-8 6-5 1-16-1zM1017 961l31 5 33 1 29-2 35-6 64-14 471-116 12 7-466 114-57 12-43 8-27 2-38-2-32-6z"/>
<path transform="translate(0 -113)" d="M786 884l17 2 5-1 7-5 18-15 31-14 9-1 14 3 9 4 7 5 18 24 14 12 19 13 35 25 29 18 17 7-12-4-17-6-29-17-35-24-21-12-12-9-17-20-6-4-6-2-17-1-8 2-7 4-25 17-20 19-7 5-6 2-16-2zM1023 957l32 6 36 1 27-2 39-7 60-13 469-114 12 7-464 113-54 11-45 8-28 2-39-2-33-6z"/>
<path transform="translate(0 -108)" d="M791 867l18 2 5-1 7-4 12-10 6-4 29-11 10 0 13 3 9 5 8 6 6 7 13 20 14 13 18 13 36 27 29 17 19 8-12-4-19-7-29-17-35-24-20-13-13-10-18-23-6-4-8-3-16-2-8 1-30 17-20 18-7 5-7 1-15-1zM1031 954l31 6 38 2 28-2 43-8 55-12 466-114 12 7-463 113-51 11-48 8-26 2-40-3-33-6z"/>
<path transform="translate(0 -103)" d="M797 850l16 2 6 0 7-4 13-9 6-4 27-7 10-1 10 4 13 6 9 8 6 8 13 22 15 14 53 40 29 18 18 7-11-3-19-7-29-18-35-25-19-13-14-12-18-24-7-5-9-4-14-3-9 1-31 14-18 15-7 5-5 1-17-2zM1037 951l33 6 38 2 27-2 46-8 53-11 464-113 12 6-462 113-51 10-49 9-26 1-40-2-34-8z"/>
<path transform="translate(0 -99)" d="M803 834l21 2 7-2 14-9 9-4 26-4 7 1 5 2 16 8 11 9 5 8 15 25 7 8 9 8 52 40 29 18 18 8-11-3-19-8-29-17-36-27-18-13-14-13-13-20-6-7-8-6-9-5-13-3-10 0-29 11-6 4-12 10-7 4-5 1-18-2zM1043 949l33 6 40 3 26-2 48-8 51-11 463-113 12 7-461 112-50 10-50 8-26 2-40-3-35-8z"/>
<path transform="translate(0 -94)" d="M809 818l18 2 4 0 7-2 14-8 9-3 24-1 7 1 5 2 16 10 11 10 6 9 15 27 7 8 9 9 50 40 29 18 19 9-12-4-18-8-28-17-53-40-15-14-13-22-6-8-9-8-13-6-10-4-10 1-27 7-6 4-13 9-7 4-6 0-16-2zM1047 945l17 4 18 4 40 2 26-1 49-9 51-10 462-113 12 7-460 111-50 11-51 8-26 2-19-2-22-2-35-8z"/>
<path transform="translate(0 -89)" d="M815 802l18 2 4 0 7-2 14-7 8-1 25 1 11 4 16 12 12 11 6 10 15 28 7 9 9 9 50 41 29 18 19 8-12-3-18-8-28-18-52-40-9-8-7-8-15-25-5-8-11-9-16-8-5-2-7-1-26 4-9 4-14 9-7 2-21-2zM1053 942l35 8 40 3 26-2 50-8 51-10 461-112 12 7-458 110-51 11-52 8-25 1-18-1-23-3-36-9z"/>
<path transform="translate(0 -84)" d="M821 786l22 3 7-2 12-5 8-1 26 3 11 5 16 13 11 12 7 10 16 32 7 8 9 10 50 42 29 18 19 8-12-3-19-9-29-18-50-40-9-9-7-8-15-27-6-9-11-10-16-10-5-2-7-1-24 1-9 3-14 8-7 2-4 0-18-2zM1059 939l35 8 22 2 19 2 26-2 51-8 50-11 460-111 12 7-457 110-51 11-52 8-26 1-19-2-22-3-36-9z"/>
<path transform="translate(0 -79)" d="M827 771l22 3 7-1 12-5 8 0 24 6 12 6 17 15 11 13 7 11 16 32 7 9 8 9 38 33 13 11 28 17 19 9-12-4-18-8-29-18-51-42-8-8-7-9-15-28-6-10-12-11-16-12-11-4-25-1-8 1-14 7-7 2-4 0-18-2zM1064 935l36 9 22 3 19 1 26-1 51-8 52-11 458-110 12 6-456 110-50 11-54 7-25 1-20-1-22-3-37-10z"/>
<path transform="translate(0 -75)" d="M833 757l22 4 7-1 11-4 8 1 24 8 12 6 17 17 12 15 7 11 16 34 7 10 8 9 37 33 13 11 28 17 20 9-12-4-19-9-28-17-51-43-8-9-7-8-15-30-6-10-12-13-17-14-11-5-26-3-8 1-12 5-7 2-22-3zM1070 933l17 5 20 4 22 3 19 2 25-1 52-8 52-11 457-110 12 7-357 86-107 25-41 8-55 8-25 1-18-1-23-4-21-5-17-5z"/>
<path transform="translate(0 -70)" d="M839 742l22 4 7 0 11-3 7 1 24 11 10 6 18 17 13 18 8 13 16 35 7 10 8 9 35 33 15 12 26 16 21 10-12-4-19-9-28-18-50-43-8-9-7-9-16-32-7-11-11-13-17-15-12-6-24-6-8 0-12 5-7 1-22-3zM1075 930l17 5 21 5 22 3 19 1 26-1 52-7 52-11 456-110 12 7-357 86-107 25-41 8-55 8-25 1-18-2-24-4-38-10z"/>
<path transform="translate(0 -65)" d="M845 728l22 4 7 0 10-2 7 1 6 3 18 10 9 6 7 7 9 10 16 21 8 14 17 39 7 10 8 9 34 32 16 13 26 17 21 9-12-4-19-9-28-17-13-11-37-33-8-9-7-10-16-34-7-11-12-15-17-17-12-6-24-8-8-1-11 4-7 1-22-4zM1081 927l17 5 21 5 22 3 20 2 25-1 54-7 42-9 106-25 358-86 12 6-356 86-107 25-40 8-56 8-25 0-18-1-24-4-39-11z"/>
<path transform="translate(0 -60)" d="M851 713l23 5 15-1 7 1 8 5 24 17 12 13 21 28 9 16 17 40 7 10 8 10 32 31 17 14 26 16 22 11-12-5-21-10-26-16-15-12-35-33-8-9-7-10-16-35-8-13-13-18-18-17-10-6-24-11-7-1-11 3-7 0-22-4zM1087 924l38 10 24 4 18 2 25-1 55-8 41-8 107-25 357-86 12 7-355 85-107 25-40 8-57 8-24 0-18-2-24-4-40-10z"/>
<path transform="translate(0 -55)" d="M857 699l9 1 14 4 15 1 6 1 8 5 23 18 13 15 21 30 10 19 17 41 6 9 8 10 31 30 19 17 25 15 22 10-12-4-21-10-26-17-16-13-33-31-8-9-7-10-17-39-8-14-16-21-9-10-7-7-9-6-18-10-6-3-7-1-10 2-7 0-22-4zM1092 921l18 6 22 5 24 4 18 1 25 0 55-8 41-8 106-24 357-87 12 7-355 86-107 24-40 8-57 7-24 1-18-2-24-4-23-6-18-6z"/>
<path transform="translate(0 -51)" d="M863 686l9 2 15 4 14 2 5 1 9 6 20 18 15 18 21 31 10 19 18 45 6 9 8 10 28 29 21 17 24 16 22 10-12-5-21-10-25-16-17-15-32-30-8-10-6-9-17-40-9-16-21-28-11-12-25-18-8-5-7-1-15 1-23-5zM1096 918l17 6 24 6 24 4 18 2 25 0 56-8 41-7 106-25 357-86 12 7-355 85-107 25-40 7-57 7-25 1-18-3-24-4-25-7-17-5z"/>
<path transform="translate(0 -46)" d="M869 674l9 1 14 5 18 4 10 6 18 18 17 21 20 33 12 21 18 46 13 19 25 26 23 20 21 14 23 11-12-5-22-11-21-14-19-16-29-29-8-10-6-9-17-41-10-19-21-30-13-15-23-18-8-5-6-1-15-1-14-4-9-1zM1098 914l17 6 25 7 24 4 20 3 26 0 55-7 42-8 105-25 358-86 12 7-356 85-106 25-41 7-56 7-25 0-19-2-24-5-28-7-17-6z"/>
<path transform="translate(0 -41)" d="M875 663l9 1 15 5 14 4 7 4 8 7 25 29 22 33 17 32 19 49 11 18 15 16 32 29 16 11 24 13-12-6-24-13-16-11-34-32-12-13-12-17-17-42-10-20-22-33-15-18-20-18-9-6-5-1-14-2-15-4-9-2zM1097 908l16 7 25 7 27 6 21 3 15 1 14 0 52-7 45-8 102-23 362-87 12 6-358 86-104 24-43 8-55 6-28 0-20-3-26-6-28-7-17-7z"/>
<path transform="translate(0 -36)" d="M881 653l11 2 27 9 7 5 8 8 25 31 23 37 16 31 18 48 10 17 14 16 27 26 16 12 17 10-12-7-17-10-15-12-29-28-13-14-10-17-16-41-11-22-21-33-16-20-19-20-9-7-6-2-15-3-13-4-9-1zM1088 898l19 10 16 6 30 8 30 6 17 1 16 1 47-5 51-9 94-21 374-90 12 7-368 88-97 22-50 8-50 5-15 0-16-1-29-6-33-8-17-6-19-9z"/>
<path transform="translate(0 -31)" d="M887 645l12 2 25 10 7 4 8 9 25 32 23 39 17 34 18 48 8 14 11 14 17 17 19 17 15 10-12-7-15-11-17-16-19-18-11-14-8-14-17-44-10-21-22-36-16-21-19-21-10-8-30-10-11-1zM1080 888l20 12 19 8 22 7 31 7 23 4 18 2 15-1 30-3 52-8 63-14 93-21 322-78 12 7-387 92-84 19-55 9-44 4-18-1-20-3-30-7-29-8-21-9-20-11z"/>
<path transform="translate(0 -26)" d="M893 637l13 2 24 11 7 5 6 8 27 36 23 40 17 35 17 46 8 15 9 12 12 13 21 19 17 13-12-8-17-13-23-22-10-11-9-12-8-15-16-42-10-21-22-38-18-25-19-22-9-7-28-11-12-2zM1082 884l21 12 20 9 21 7 32 8 22 4 20 1 16 0 28-3 54-8 67-14 90-21 321-77 12 6-386 92-85 19-55 9-44 3-19-1-20-3-39-9-22-6-21-9-21-11z"/>
<path transform="translate(0 -22)" d="M899 631l6 0 7 2 23 11 6 5 7 8 27 38 24 43 17 36 16 44 8 16 9 13 10 11 21 19 17 13-12-8-16-13-22-21-10-11-8-11-8-15-17-45-16-32-23-39-25-33-8-9-8-5-25-10-12-2zM1085 882l19 11 22 10 19 7 33 8 25 4 20 2 16 0 28-3 56-8 70-15 88-20 319-77 12 7-387 92-84 19-56 8-32 3-13 0-18-1-22-3-39-9-22-7-23-9-19-11z"/>
<path transform="translate(0 -17)" d="M905 624l6 1 7 1 17 9 10 7 9 10 27 41 23 45 18 36 16 44 6 14 8 12 11 12 17 16 16 13-12-9-15-13-18-17-9-11-8-11-8-16-16-43-16-33-24-42-25-35-8-9-7-5-24-11-13-2zM1084 876l16 11 24 12 19 6 29 8 29 6 23 3 18 0 27-2 57-8 67-14 94-22 319-77 12 7-392 94-81 17-58 8-29 3-16 0-21-2-24-4-37-9-22-6-25-11-17-11z"/>
<path transform="translate(0 -12)" d="M911 619l12 1 13 7 13 8 10 12 25 40 25 48 19 40 14 41 7 15 8 12 9 11 28 25-12-10-28-26-8-9-8-12-6-14-16-44-16-33-24-44-25-37-10-11-6-5-23-11-7-2-6 0zM1082 869l16 12 15 8 20 9 21 7 41 10 27 4 22 1 25-1 59-8 64-14 99-22 321-77 12 7-316 75-84 20-77 16-59 8-29 3-21-1-26-4-42-9-24-7-20-8-16-8-16-11z"/>
<path transform="translate(0 -7)" d="M905 614l3 0 11 0-2 0zM919 614l12 2 15 9 10 8 10 13 24 40 26 52 18 38 14 41 6 13 14 19 18 19-12-11-18-19-13-18-7-15-14-41-16-34-25-47-24-37-10-12-6-6-21-11-7-2-5-1zM1074 857l17 14 16 12 17 8 20 8 25 6 47 10 24 3 20 0 59-7 55-10 119-27 325-78 12 7-318 76-101 23-67 14-31 4-33 4-23 1-23-2-29-6-49-11-20-6-17-8-16-10-17-14z"/>
<path transform="translate(0 -2)" d="M911 609l4 0 6 0-4 0zM921 609l5 1 7 2 17 11 8 7 9 13 24 40 25 50 18 38 14 41 6 13 10 15 14 15-6-5-14-16-10-15-6-13-14-41-16-35-25-49-24-39-10-12-6-7-20-11-7-2-5-1zM1072 850l18 16 17 13 15 8 21 8 26 7 50 11 24 3 22 0 62-7 57-11 116-26 324-77 6 3-322 77-113 25-60 12-64 7-22 0-24-3-52-11-26-7-20-7-15-8-16-12-18-16z"/>
</g>
</g>
<path class="bx" d="M159.3 541.5L458.6 710.6M458.6 710.6L915.0 601.5M159.3 541.5L159.3 134.5M915.0 601.5L915.0 194.5M458.6 710.6L458.6 303.6M159.3 134.5L458.6 303.6M458.6 303.6L915.0 194.5M159.3 134.5L615.7 25.4M615.7 25.4L915.0 194.5M458.6 710.6L468.2 716.0M610.7 674.2L620.3 679.6M762.9 637.9L772.4 643.3M915.0 601.5L924.6 606.9M398.7 676.8L388.0 679.3M279.0 609.1L268.3 611.7M159.3 541.5L148.6 544.1M159.3 541.5L149.7 536.1M159.3 439.8L149.7 434.3M159.3 338.0L149.7 332.6M159.3 236.2L149.7 230.8M159.3 134.5L149.7 129.1"/>
<text class="t" x="491.6" y="768.0" text-anchor="middle">0</text>
<text class="t" x="643.7" y="731.7" text-anchor="middle">2</text>
<text class="t" x="795.9" y="695.3" text-anchor="middle">4</text>
<text class="t" x="948.0" y="658.9" text-anchor="middle">6</text>
<text class="t" x="358.7" y="730.2" text-anchor="middle">0</text>
<text class="t" x="239.0" y="662.6" text-anchor="middle">2</text>
<text class="t" x="119.3" y="594.9" text-anchor="middle">4</text>
<text class="t" x="131.3" y="548.4" text-anchor="end">-0.4</text>
<text class="t" x="131.3" y="446.7" text-anchor="end">-0.2</text>
<text class="t" x="131.3" y="344.9" text-anchor="end">0</text>
<text class="t" x="131.3" y="243.2" text-anchor="end">0.2</text>
<text class="t" x="131.3" y="141.4" text-anchor="end">0.4</text>
<text class="i" x="281.7" y="779.0" text-anchor="middle">z</text>
<text class="i" x="670.9" y="793.0" text-anchor="middle">x</text>
<text class="y" transform="translate(39.3 338.0) rotate(-90)" text-anchor="middle" textLength="236" lengthAdjust="spacingAndGlyphs">Temperature (<tspan class="g">θ</tspan>)</text>
</g>
<g>
<path class="mn" d="M1528.3 700.6L1180.7 531.7M1180.7 531.7L1180.7 153.7M1566.2 689.7L1218.6 520.8M1218.6 520.8L1218.6 142.8M1604.0 678.9L1256.4 510.0M1256.4 510.0L1256.4 132.0M1679.7 657.2L1332.1 488.3M1332.1 488.3L1332.1 110.3M1717.5 646.3L1369.9 477.4M1369.9 477.4L1369.9 99.4M1755.3 635.5L1407.7 466.6M1407.7 466.6L1407.7 88.6M1831.0 613.8L1483.4 444.9M1483.4 444.9L1483.4 66.9M1868.8 603.0L1521.2 434.1M1521.2 434.1L1521.2 56.1M1906.7 592.1L1559.1 423.2M1559.1 423.2L1559.1 45.2M1455.7 694.5L1909.7 564.4M1909.7 564.4L1909.7 186.4M1386.2 660.7L1840.2 530.6M1840.2 530.6L1840.2 152.6M1351.5 643.8L1805.5 513.7M1805.5 513.7L1805.5 135.7M1316.7 627.0L1770.7 496.8M1770.7 496.8L1770.7 118.8M1247.2 593.2L1701.2 463.1M1701.2 463.1L1701.2 85.1M1212.4 576.3L1666.4 446.2M1666.4 446.2L1666.4 68.2M1177.7 559.4L1631.7 429.3M1631.7 429.3L1631.7 51.3"/>
<path class="mj" d="M1641.8 668.0L1294.2 499.1M1294.2 499.1L1294.2 121.1M1793.2 624.7L1445.6 455.8M1445.6 455.8L1445.6 77.8M1421.0 677.6L1875.0 547.5M1875.0 547.5L1875.0 169.5M1281.9 610.1L1735.9 480.0M1735.9 480.0L1735.9 102.0M1142.9 518.9L1596.9 388.8M1596.9 388.8L1944.5 557.7M1142.9 400.8L1596.9 270.6M1596.9 270.6L1944.5 439.5M1142.9 282.6L1596.9 152.5M1596.9 152.5L1944.5 321.4"/>
<path class="bx" d="M1142.9 542.5L1596.9 412.4M1596.9 412.4L1944.5 581.3M1596.9 412.4L1596.9 34.4"/>
<g class="s">
<defs><linearGradient id="mb" gradientUnits="userSpaceOnUse" x1="2981.0" y1="1422.8" x2="2804.5" y2="806.8"><stop offset="0" stop-color="#3e26a8"/><stop offset="0.063" stop-color="#4537d5"/><stop offset="0.095" stop-color="#4741e5"/><stop offset="0.143" stop-color="#4852f4"/><stop offset="0.19" stop-color="#4563fd"/><stop offset="0.222" stop-color="#3e6fff"/><stop offset="0.254" stop-color="#327cfc"/><stop offset="0.286" stop-color="#2e87f7"/><stop offset="0.317" stop-color="#2b91ef"/><stop offset="0.397" stop-color="#1ca9df"/><stop offset="0.413" stop-color="#18addb"/><stop offset="0.429" stop-color="#12b1d6"/><stop offset="0.444" stop-color="#08b5d0"/><stop offset="0.46" stop-color="#01b8ca"/><stop offset="0.476" stop-color="#02bac3"/><stop offset="0.492" stop-color="#0bbdbd"/><stop offset="0.524" stop-color="#24c1ae"/><stop offset="0.556" stop-color="#31c69f"/><stop offset="0.587" stop-color="#3fca8e"/><stop offset="0.635" stop-color="#64cd6f"/><stop offset="0.698" stop-color="#9dc943"/><stop offset="0.73" stop-color="#b9c431"/><stop offset="0.746" stop-color="#c5c22a"/><stop offset="0.762" stop-color="#d1bf27"/><stop offset="0.778" stop-color="#dcbd29"/><stop offset="0.794" stop-color="#e6bb2d"/><stop offset="0.825" stop-color="#f8ba3d"/><stop offset="0.841" stop-color="#febe3c"/><stop offset="0.889" stop-color="#fccf30"/><stop offset="0.937" stop-color="#f5e327"/><stop offset="0.984" stop-color="#f7f51b"/><stop offset="1" stop-color="#f9fb15"/></linearGradient></defs>
<g transform="scale(0.5)" fill="url(#mb)">
<path transform="translate(0 -534)" d="M2286 1619l37-104 26-89 32-9 14 7-32 6-26 86-37 97zM2395 1424l116 137-14-8-116-136zM2497 1553l1-1 117-351 1-3 28-8 14 11-28 7-1 2-117 351-1 0zM2658 1201l125 107-14-8-125-110zM2769 1300l1 0 124-219 27-8 14 10-27 7-124 218-1 0zM2935 1083l143 108-14-4-143-114zM3064 1187l2 0 105-183 23-7 14 9-23 6-106 179-1 0z"/>
<path transform="translate(0 -529)" d="M2293 1611l37-101 26-87 32-7 14 7-32 4-26 85-37 92zM2402 1423l116 137-14-8-116-136zM2504 1552l1 0 117-352 1-2 28-8 14 11-28 6-1 3-117 350-1 0zM2665 1201l125 105-14-7-125-109zM2776 1299l1 0 124-219 27-7 14 10-27 6-124 217-1 0zM2942 1083l143 106-14-5-143-111zM3071 1184l1 0 106-181 23-6 14 9-23 5-106 177-1 1z"/>
<path transform="translate(0 -524)" d="M2300 1603l37-97 26-86 32-6 14 8-32 2-26 83-37 89zM2409 1422l116 137-14-8-116-137zM2511 1551l1 0 117-351 1-2 28-7 14 10-28 6-1 3-117 349-1 0zM2672 1201l125 104-14-7-125-107zM2783 1298l1 0 124-218 27-7 1 1 14 10-1-1-27 6-124 216-1 0zM2950 1084l142 102-14-5-142-107zM3078 1181l1 0 106-179 23-6 14 9-23 5-106 175-1 1z"/>
<path transform="translate(0 -518)" d="M2307 1593l37-92 26-85 32-4 14 7-32 1-26 81-37 85zM2416 1419l116 137-14-7-116-137zM2518 1549l1 0 117-350 1-3 28-6 14 11-28 5-1 2-117 348-1 0zM2679 1201l125 102-14-8-125-105zM2790 1295l1 0 124-217 27-6 10 8 14 10-10-7-27 5-124 215-1 0zM2966 1090l133 92-14-4-133-98zM3085 1178l1-1 106-177 23-5 14 9-23 4-106 173-1 1z"/>
<path transform="translate(0 -513)" d="M2314 1585l37-89 26-83 32-2 14 7-32-1-26 79-37 81zM2423 1418l116 137-14-7-116-137zM2525 1548l1 0 117-349 1-3 28-6 14 11-28 5-1 2-117 347-1 0zM2686 1201l125 100-14-7-125-104zM2797 1294l1 0 124-216 27-6 18 13 14 10-18-12-27 4-124 214-1 0zM2981 1095l125 83-14-3-125-90zM3092 1175l1-1 106-175 23-5 14 10-23 4-106 170-1 0z"/>
<path transform="translate(0 -507)" d="M2321 1575l37-85 26-81 32-1 14 7-32-2-26 77-38 78zM2430 1415l116 137-14-7-116-137zM2532 1545l1 0 117-348 1-2 28-5 14 10-28 5-1 2-117 345-1 0zM2693 1200l125 99-14-7-125-102zM2804 1292l1 0 124-215 27-5 26 18 14 9-26-17-27 4-124 213-1 0zM2996 1099l117 75-14-3-117-81zM3099 1171l1-1 106-173 23-4 13 9-22 4-106 168-1 0z"/>
<path transform="translate(0 -502)" d="M2328 1566l37-81 26-79 32 1 14 7-32-4-26 75-38 73zM2437 1414l116 136-14-6-116-137zM2539 1544l1 0 117-347 1-2 28-5 14 11-28 3-1 3-117 343-1 0zM2700 1201l125 96-14-7-125-100zM2811 1290l1 0 124-214 27-4 34 23 14 9-34-22-27 4-124 211-1 0zM3011 1104l109 67-14-4-109-72zM3106 1167l1 0 106-170 23-4 13 9-22 3-106 166-1 0z"/>
<path transform="translate(0 -497)" d="M2334 1558l38-78 26-77 32 2 14 7-32-5-26 73-38 69zM2444 1412l115 136-13-6-116-137zM2546 1542l1 0 117-345 1-2 28-5 14 11-28 3-1 3-117 341-2 0zM2707 1201l125 95-14-7-125-99zM2818 1289l1 0 124-213 27-4 42 27 14 9-42-25-27 3-124 210-1 0zM3026 1108l101 60-14-4-101-65zM3113 1164l1 0 106-168 22-4 14 10-22 2-106 164-1 0z"/>
<path transform="translate(0 -491)" d="M2341 1547l38-73 26-75 32 4 14 6-32-7-26 72-38 65zM2451 1409l115 136-13-6-116-136zM2553 1539l1 0 117-343 1-3 28-3 7 5 14 10-7-5-28 3-2 2-116 340-2 0zM2721 1205l118 88-14-7-118-91zM2825 1286l1 0 124-211 27-4 50 31 14 9-50-29-27 3-124 208-1 0zM3041 1111l93 53-14-4-93-58zM3120 1160l1 0 106-166 22-3 14 10-22 2-106 161-1 0z"/>
<path transform="translate(0 -486)" d="M2348 1538l38-69 26-73 32 5 14 6-32-8-26 70-38 60zM2458 1407l115 136-14-6-115-136zM2559 1537l2 0 117-341 1-3 28-3 15 11 14 10-15-10-28 2-2 2-116 337-2 1zM2736 1211l110 80-14-6-110-84zM2832 1285l1 0 124-210 27-3 57 34 14 8-57-31-27 2-124 206-1 0zM3055 1114l86 47-14-4-86-51zM3127 1157l1 0 106-164 22-2 14 10-22 1-106 158-1 1z"/>
<path transform="translate(0 -481)" d="M2355 1529l38-65 26-72 14 3-26 68-38 57zM2433 1395l7 3-14-4-7-2zM2426 1394l25 5 14 7-25-8zM2465 1406l115 134-14-5-115-136zM2566 1535l2 0 118-342 28-3 22 16 13 10-21-15-28 2-119 337-1 0zM2749 1216l104 74-14-7-103-77zM2839 1283l1 0 124-208 27-3 65 37 14 8-65-34-27 2-124 204-1 1zM3070 1117l78 40-14-3-78-45zM3134 1154l1 0 106-161 22-2 14 10-22 1-106 155-1 0z"/>
<path transform="translate(0 -475)" d="M2362 1518l38-60 26-70 14 3-26 66-38 52zM2440 1391l14 5-13-4-15-4zM2441 1392l17 4 14 7-18-7zM2472 1403l115 133-14-4-115-136zM2573 1532l2-1 118-339 28-2 28 20 14 10-28-19-29 1-118 334-1 0zM2763 1220l97 67-14-7-97-70zM2846 1280l1 0 124-206 27-2 71 39 14 7-71-35-27 0-124 204-1 0zM3083 1118l72 35-14-3-72-39zM3141 1150l1-1 106-158 22-1 14 10-23 0-105 153-1 0z"/>
<path transform="translate(0 -470)" d="M2369 1509l38-57 26-68 14 3-26 64-38 48zM2447 1387l22 10-14-5-22-8zM2455 1392l10 3 13 6-9-4zM2478 1401l116 132-14-4-115-134zM2580 1529l1 0 119-337 28-2 35 25 14 10-35-24-29 1-118 331-1 0zM2777 1225l90 60-14-6-90-64zM2853 1279l1-1 124-204 27-2 78 41 14 7-78-37-28 1-123 201-1 0zM3097 1120l65 30-14-4-65-33zM3148 1146l1 0 106-155 22-1 14 10-23 0-105 149-1 1z"/>
<path transform="translate(0 -465)" d="M2376 1499l38-52 26-66 14 3-26 61-38 44zM2454 1384l30 14-14-6-30-11zM2470 1392l2 1 13 5-1 0zM2485 1398l116 132-14-4-115-133zM2587 1526l1 0 118-334 29-1 41 28 14 9-41-26-29 0-118 328-1 0zM2790 1228l84 55-14-6-84-58zM2860 1277l1 0 124-204 27 0 85 42 14 6-85-37-28 0-123 199-1 0zM3111 1121l58 25-14-3-58-28zM3155 1143l1 0 105-153 23 0 14 10-23-1-105 147-1 0z"/>
<path transform="translate(0 -459)" d="M2383 1488l38-48 26-64 14 3-27 60-37 39zM2461 1379l31 16 116 131-14-4-116-132-31-14zM2594 1522l1 0 118-331 29-1 46 31 14 9-46-29-29 0-118 325-1 0zM2802 1230l79 50-14-6-79-53zM2867 1274l1 0 123-201 28-1 92 43 14 6-92-38-28 0-123 197-1 0zM3125 1121l51 21-14-3-51-24zM3162 1139l1-1 105-149 23 0 14 10-23-1-105 144-1 0z"/>
<path transform="translate(0 -454)" d="M2390 1478l38-44 26-61 14 2-27 58-37 35zM2468 1375l31 18 116 130-14-4-116-132-31-14zM2601 1519l1 0 118-328 29 0 53 34 14 9-53-33-29 0-118 321-1 1zM2816 1234l71 44-13-6-72-47zM2874 1272l1 0 123-199 28 0 98 43 14 6-98-38-28-1-123 194-2 1zM3138 1122l45 16-14-3-45-19zM3169 1135l1 0 105-147 23 1 14 10-23-1-105 140-1 0z"/>
<path transform="translate(0 -448)" d="M2397 1467l37-39 27-60 13 2-26 56-37 31zM2474 1370l32 20 116 128-14-3-116-131-31-16zM2608 1515l1 0 118-325 29 0 59 37 14 9-59-35-29-1-118 318-1 0zM2829 1236l65 38-13-5-66-42zM2881 1269l1 0 123-197 28 0 104 43 14 5-104-36-28-2-123 192-2 0zM3151 1120l39 14-14-3-39-16zM3176 1131l1 0 105-144 23 1 14 10-23-1-105 137-1 0z"/>
<path transform="translate(0 -443)" d="M2404 1457l37-35 27-58 13 3-26 53-37 26zM2481 1367l32 21 116 126-14-2-116-130-31-18zM2615 1512l1-1 118-321 29 0 64 40 14 8-64-37-29-1-118 314-1 0zM2841 1238l60 34-14-5-60-37zM2887 1267l2-1 123-194 28 1 111 42 14 5-112-36-27-2-123 190-2 0zM3165 1120l31 10-13-3-32-12zM3183 1127l1 0 105-140 23 1 14 10-23-2-105 134-2 0z"/>
<path transform="translate(0 -438)" d="M2425 1436l3-2-14 10-3 3zM2414 1444l34-28 26-56 14 3-26 51-34 20zM2488 1363l32 22 116 125-14-2-116-128-32-20zM2622 1508l1 0 118-318 29 1 70 41 14 8-70-38-29-2-118 310-1 0zM2854 1240l54 30-14-6-54-32zM2894 1264l2 0 123-192 28 2 118 41 13 5-118-35-27-3-124 188-1 0zM3178 1120l25 7-13-3-25-9zM3190 1124l1 0 105-137 23 1 14 10-23-2-105 131-2 0z"/>
<path transform="translate(0 -432)" d="M2432 1424l11-5-14 8-11 8zM2429 1427l26-18 26-53 14 2-26 49-26 12zM2495 1358l32 24 116 123-14-2-116-126-32-21zM2629 1503l1 0 118-314 29 1 74 43 14 7-75-39-28-2-118 306-1 0zM2865 1240l50 26-14-5-50-28zM2901 1261l2 0 123-190 27 2 124 40 14 4-124-32-27-3-124 184-1 0zM3191 1117l19 5-14-3-19-6zM3196 1119l2 0 105-134 23 2 14 10-23-2-105 127-2 0z"/>
<path transform="translate(0 -427)" d="M2439 1414l19-7-14 6-19 12zM2444 1413l18-10 26-51 14 2-26 46-18 7zM2502 1354l32 25 116 122-14-2-116-125-32-22zM2636 1499l1 0 118-310 29 2 80 44 14 7-81-40-28-3-118 302-1 0zM2878 1242l44 22-14-5-44-24zM2908 1259l1 0 124-188 27 3 131 38 14 4-131-30-27-4-124 182-1 0zM3205 1116l12 3-14-3-12-4zM3203 1116l2 0 105-131 23 2 14 11-23-3-106 124-1 0z"/>
<path transform="translate(0 -422)" d="M2446 1403l27-6-14 4-27 13zM2459 1401l10-4 1-2 25-47 14 2-25 43-1 1-10 3zM2509 1350l32 26 116 121-14-2-116-123-32-24zM2643 1495l1 0 118-306 28 2 87 45 14 7-87-41-28-3-118 298-1 0zM2891 1243l38 19-14-6-38-20zM2915 1256l1 0 124-184 27 3 137 36 13 3-136-28-27-4-124 179-1 1zM3217 1114l7 1-14-3-6-1zM3210 1112l2 0 105-127 23 2 14 11-23-3-106 120-1 0z"/>
<path transform="translate(0 -416)" d="M2453 1392l34-5-14 4-34 12zM2473 1391l3-2 1-1 25-45 14 2-25 40-1 2-3 0zM2516 1345l32 28 116 118-14-1-116-122-32-25zM2650 1490l1 0 118-302 28 3 91 45 14 7-91-41-28-4-118 293-1 0zM2902 1243l34 15-14-5-34-17zM2922 1253l1 0 124-182 27 4 144 33 106-124 23 3 14 10-23-3-106 116-171-28-124 176-1 0z"/>
<path transform="translate(0 -411)" d="M2460 1381l37-1-14 3-37 9zM2483 1383l26-44 14 2-26 39zM2523 1341l32 29 116 117-14-1-116-121-32-26zM2657 1486l1 0 118-298 28 3 97 46 14 6-97-41-28-4-118 289-1 0zM2915 1243l28 12-14-4-28-14zM2929 1251l1-1 124-179 27 4 144 29 106-120 23 3 14 11-23-5-106 114-144-20-27-5-124 173-1 0z"/>
<path transform="translate(0 -405)" d="M2467 1369l37 4-14 3-37 5zM2490 1376l26-42 14 2-26 37zM2530 1336l148 145-14-1-116-118-32-28zM2664 1480l1 0 118-293 28 4 101 45 14 6-101-40-28-5-118 284-1 0zM2926 1242l24 10-14-5-24-11zM2936 1247l1 0 124-176 171 28 106-116 23 3 14 11-23-5-106 110-144-15-27-6-124 171-1 0z"/>
<path transform="translate(0 -400)" d="M2474 1358l37 8-14 3-37 1zM2497 1369l26-39 14 2-26 34zM2537 1332l148 144-14 0-116-117-32-29zM2671 1476l1 0 118-289 28 4 106 45 14 6-106-40-28-5-118 279-1 0zM2938 1242l19 7-14-5-19-8zM2943 1244l1 0 124-173 27 5 144 20 106-114 23 5 14 10-23-5-107 107-143-11-27-6-124 167-1 0z"/>
<path transform="translate(0 -395)" d="M2480 1347l38 13-14 3-37-4zM2504 1363l26-37 14 1-26 33zM2544 1327l32 34 116 110-14 0-148-145zM2678 1471l1 0 118-284 28 5 111 44 14 6-111-39-28-6-118 274-1 0zM2950 1242l14 4-14-4-14-6zM2950 1242l1 0 124-171 27 6 144 15 106-110 23 5 13 11-22-5-107 102-143-6-27-7-124 164-1 0z"/>
<path transform="translate(0 -389)" d="M2487 1335l38 17-14 3-37-8zM2511 1355l26-34 14 1-26 30zM2551 1322l32 35 116 108-14 0-148-144zM2685 1465l1 0 118-279 28 5 116 44 14 5-116-38-28-6-118 269-1 0zM2962 1240l9 2-14-4-9-3zM2957 1238l1 0 124-167 27 6 143 11 107-107 23 5 13 11-22-5-107 98-143-2-27-6-124 160-1 0z"/>
<path transform="translate(0 -384)" d="M2494 1324l38 21-14 4-38-13zM2518 1349l26-33 14 2-26 27zM2558 1318l32 36 115 105-13 1-116-110-32-34zM2692 1460l1 0 118-274 28 6 122 42 13 5-121-36-28-7-118 263-2 0zM2974 1239l4 1-14-5-3-1zM2964 1235l1 0 124-164 27 7 143 6 107-102 22 5 14 11-22-6-107 94-143 3-27-7-124 157-1 1z"/>
<path transform="translate(0 -379)" d="M2501 1313l38 26-14 3-38-17zM2525 1342l26-30 14 2-26 25zM2565 1314l32 37 115 103-13 1-116-108-32-35zM2699 1455l1 0 118-269 28 6 126 40 124-160 27 6 143 2 107-98 22 5 14 11-22-6-107 91-143 7-27-7-124 153-154-40-118 258-2 0z"/>
<path transform="translate(0 -373)" d="M2508 1301l38 30-14 3-38-21zM2532 1334l26-27 14 1-26 23zM2572 1308l32 38 115 101-14 1-115-105-32-36zM2705 1448l2 0 118-263 28 7 126 36 124-157 27 7 143-3 107-94 22 6 14 10-22-6-107 87-143 12-27-8-124 150-154-37-118 252-2 0z"/>
<path transform="translate(0 -368)" d="M2515 1290l38 34-14 4-38-26zM2539 1328l26-25 14 1-26 20zM2579 1304l32 39 115 98-14 2-115-103-32-37zM2712 1443l2 0 118-258 154 40 124-153 27 7 143-7 107-91 22 6 14 11-22-7-107 83-143 17-27-8-124 146-126-26-28-8-119 246-1 0z"/>
<path transform="translate(0 -362)" d="M2522 1278l38 38 1 0-14 4-1 0-38-30zM2547 1320l25-23 14 2-25 17zM2586 1299l32 40 115 95-14 2-115-101-32-38zM2719 1436l2 0 118-252 154 37 124-150 27 8 143-12 107-87 22 6 14 11-23-7-106 79-143 22-27-9-124 143-126-23-29-8-118 240-1 0z"/>
<path transform="translate(0 -357)" d="M2529 1267l38 43 1 0-14 3-1 0-38-34zM2554 1313l25-20 14 1-25 16zM2593 1294l31 42 116 92 1 0-14 2-1 0-115-98-32-39zM2727 1430l119-246 28 8 126 26 124-146 27 8 143-17 107-83 22 7 14 11-23-8-106 76-143 26-28-9-123 139-126-19-29-9-118 234z"/>
<path transform="translate(0 -352)" d="M2536 1256l38 47 1 0-14 3-1 0-38-38zM2561 1306l25-17 14 1-25 13zM2600 1290l31 42 116 90 1 0-14 2-1 0-115-95-32-40zM2734 1424l118-240 29 8 126 23 124-143 27 9 143-22 106-79 23 7 14 11-23-7-106 71-143 31-28-10-123 136-126-16-29-9-118 228z"/>
<path transform="translate(0 -346)" d="M2543 1244l37 51 2 0-14 4-1 0-38-43zM2568 1299l25-16 14 2-25 10zM2607 1285l31 43 116 87 1 0-14 2-1 0-116-92-31-42zM2741 1417l118-234 29 9 126 19 123-139 28 9 143-26 106-76 23 8 14 11-23-8-106 67-143 36-28-10-123 132-126-13-29-9-118 222z"/>
<path transform="translate(0 -341)" d="M2550 1233l37 55 2 0-14 4-1 0-38-47zM2575 1292l25-13 14 1-25 8zM2614 1280l31 45 116 83 1 0-14 3-1 0-116-90-31-42zM2748 1411l118-228 29 9 126 16 123-136 28 10 143-31 106-71 23 7 14 12-23-9-106 63-143 41-28-10-123 127-126-8-29-10-118 215z"/>
<path transform="translate(0 -336)" d="M2557 1222l37 59 2 0-14 4-2 0-37-51zM2582 1285l25-10 13 1-24 5zM2620 1276l32 45 116 81 1 0-14 3-1 0-116-87-31-43zM2755 1405l118-222 29 9 126 13 123-132 28 10 143-36 106-67 23 8 14 11-23-9-105 59-144 46-28-11-123 124-126-5-29-10-118 209z"/>
<path transform="translate(0 -330)" d="M2564 1211l37 62 4 0-14 4-4 0-37-55zM2591 1277l23-8 13 1-22 3zM2627 1270l32 47 116 77 1 0-14 3-1 0-116-83-31-45zM2762 1397l118-215 29 10 126 8 123-127 28 10 143-41 106-63 23 9 14 11-23-9-105 54-145 51-27-11-123 120-126-2-29-10-118 202z"/>
<path transform="translate(0 -325)" d="M2571 1200l37 66 1 1 10-1-14 2-11 2-37-59zM2605 1268l15-3 14 1-15 0zM2634 1266l32 47 116 74 1 0-14 4-1 0-116-81-32-45zM2769 1391l118-209 29 10 126 5 123-124 28 11 144-46 105-59 23 9 14 11-23-9-105 50-145 55-27-11-124 116-126 2-28-10-118 195z"/>
<path transform="translate(0 -320)" d="M2578 1189l37 70 1 1 17 1-14 0-17 3-1-1-37-62zM2619 1261l8-1 14 1-8 0zM2641 1261l32 48 116 72 1-1-14 4-1 0-116-77-32-47zM2776 1384l118-202 29 10 126 2 123-120 27 11 145-51 105-54 23 9 14 11-23-10-105 46-145 60-27-11-124 112-126 6-28-11-118 188z"/>
<path transform="translate(0 -314)" d="M2585 1177l37 74 1 1 24 4-14-1-24 1-1-1-37-66zM2633 1255l1 0 14 1-1 0zM2648 1256l32 49 116 68 1-1-14 4-1 0-116-74-32-47zM2783 1376l118-195 28 10 126-2 124-116 27 11 145-55 105-50 23 9 14 11-23-9-106 42-144 64-27-11-125 107-125 10-28-11-118 181z"/>
<path transform="translate(0 -309)" d="M2592 1166l37 78 1 1 25 6 32 50 116 64 1 0-14 4-1 1-116-72-32-48-25-1-1-1-37-70zM2790 1369l118-188 28 11 126-6 124-112 27 11 145-60 105-46 23 10 14 11-23-10-106 38-144 69-27-12-125 104-125 13-28-11-118 174z"/>
<path transform="translate(0 -303)" d="M2599 1154l37 82 1 1 25 9 32 50 116 61 1 0-14 4-1 1-116-68-32-49-25-4-1-1-37-74zM2797 1361l118-181 28 11 125-10 125-107 27 11 144-64 106-42 23 9 14 11-23-10-106 34-144 74-27-12-125 99-125 17-28-11-118 167z"/>
<path transform="translate(0 -298)" d="M2606 1144l37 85 1 2 25 10 32 51 116 58 1 0-14 4-1 0-116-64-32-50-25-6-1-1-37-78zM2804 1354l118-174 28 11 125-13 125-104 27 12 144-69 106-38 23 10 14 11-23-10-106 29-144 79-27-12-125 95-125 20-28-11-118 160z"/>
<path transform="translate(0 -293)" d="M2613 1133l37 89 26 15 32 52 116 54 1-1-14 5-1 0-116-61-32-50-25-9-1-1-37-82zM2811 1347l118-167 28 11 125-17 125-99 27 12 144-74 106-34 23 10 14 12-23-11-106 25-144 84-27-13-125 91-125 24-28-12-118 153z"/>
<path transform="translate(0 -287)" d="M2619 1122l38 93 26 16 32 53 117 50-14 5-1 0-116-58-32-51-25-10-1-2-37-85zM2818 1339l118-160 28 11 125-20 125-95 27 12 144-79 106-29 23 10 13 11-22-11-106 22-144 88-27-13-125 86-125 28-28-12-118 146z"/>
<path transform="translate(0 -282)" d="M2626 1111l38 97 26 19 32 53 117 46-14 5-1 1-116-54-32-52-26-15-37-89zM2825 1331l118-153 28 12 125-24 125-91 27 13 144-84 106-25 23 11 13 11-22-11-106 17-144 92-27-13-124 82-126 32-28-12-118 138z"/>
<path transform="translate(0 -277)" d="M2633 1101l38 100 26 21 32 54 117 43-14 5-117-50-32-53-26-16-38-93zM2832 1324l118-146 28 12 125-28 125-86 27 13 144-88 106-22 22 11 14 11-22-11-106 13-144 97-27-13-124 77-126 36-28-12-118 131z"/>
<path transform="translate(0 -271)" d="M2640 1090l38 103 26 24 32 54 117 39-14 5-117-46-32-53-26-19-38-97zM2839 1315l118-138 28 12 126-32 124-82 27 13 144-92 106-17 22 11 14 11-22-11-106 8-144 102-27-13-125 73-125 39-28-12-118 123z"/>
<path transform="translate(0 -266)" d="M2647 1080l38 106 26 26 32 55 117 35-14 6-117-43-32-54-26-21-38-100zM2846 1308l118-131 28 12 126-36 124-77 27 13 144-97 106-13 22 11 14 11-22-11-106 5-144 106-27-14-125 69-125 43-28-13-118 116z"/>
<path transform="translate(0 -260)" d="M2654 1069l38 109 26 29 32 55 117 31-14 6-117-39-32-54-26-24-38-103zM2853 1299l118-123 28 12 125-39 125-73 27 13 144-102 106-8 22 11 14 11-22-12-106 1-144 110-27-13-124 64-126 47-28-13-2 1-116 107z"/>
<path transform="translate(0 -255)" d="M2661 1059l38 112 26 31 32 56 116 27-13 6-117-35-32-55-26-26-38-106zM2860 1291l118-116 28 13 125-43 125-69 27 14 144-106 106-5 22 11 14 11-22-11-106-4-144 115-27-14-124 60-126 51-29-13-1 0-117 100z"/>
<path transform="translate(0 -250)" d="M2668 1049l38 116 26 33 32 56 116 23-13 6-117-31-32-55-26-29-38-109zM2867 1283l116-107 2-1 28 13 126-47 124-64 27 13 144-110 106-1 22 12 14 11-23-12-105-8-144 120-27-14-250 110-29-13-1 0-117 92z"/>
<path transform="translate(0 -244)" d="M2675 1038l38 119 26 35 31 57 117 19-14 6-116-27-32-56-26-31-38-112zM2873 1274l117-100 1 0 29 13 126-51 124-60 27 14 144-115 106 4 22 11 14 11-23-12-105-11-144 123-28-14-123 51-126 59-29-14-1 1-117 84z"/>
<path transform="translate(0 -239)" d="M2682 1028l38 122 26 38 31 56 117 16-14 6-116-23-32-56-26-33-38-116zM2880 1266l117-92 1 0 29 13 250-110 27 14 144-120 105 8 23 12 14 11-23-12-105-16-144 128-28-14-123 46-126 62-29-13-1 0-117 77z"/>
<path transform="translate(0 -234)" d="M2689 1019l37 125 27 39 31 57 117 12-14 6-117-19-31-57-26-35-38-119zM2887 1258l117-84 1-1 29 14 126-59 123-51 28 14 144-123 105 11 23 12 14 11-23-12-105-19-144 132-28-15-123 42-126 66-29-14-1 1-117 69z"/>
<path transform="translate(0 -228)" d="M2696 1009l37 127 27 42 31 57-14-2-31-56-26-38-38-122zM2777 1233l4 1 14 1-4 0zM2795 1235l113 8-14 6-113-15zM2894 1249l117-77 1 0 29 13 126-62 123-46 28 14 144-128 105 16 23 12 14 10-23-11-105-24-144 136-28-14-123 37-126 70-29-14-1 0-117 62z"/>
<path transform="translate(0 -223)" d="M2703 999l37 130 26 45 32 57-14-2-31-57-27-39-37-125zM2784 1229l9 1 14 1-9 0zM2807 1231l108 3-14 7-108-11zM2901 1241l117-69 1-1 29 14 126-66 123-42 28 15 144-132 14 2-144 141-28-15-123 32-126 74-29-13-1 0-117 53zM3483 962l4 2-14-4-4 0zM3473 960l101 19 23 12 14 11-23-12-101-26z"/>
<path transform="translate(0 -217)" d="M2710 989l37 133 58 104-14-2-31-57-27-42-37-127zM2791 1224l16 1 14 1-16 0zM2821 1226l102-1-14 6-2 1-100-7zM2909 1231l116-61 1 0 29 14 126-70 123-37 28 14 144-136 14 3-145 144-27-14-123 27-126 78-30-14-116 46zM3490 958l10 3-14-4-10-2zM3486 957l95 22 23 11 14 11-23-12-95-28z"/>
<path transform="translate(0 -212)" d="M2717 980l37 136 58 105-14-1-32-57-26-45-37-130zM2798 1220l22 1 14 0-22 0zM2834 1221l94-4 10-3-14 5-10 5-94-3zM2924 1219l108-49 1 0 29 13 126-74 123-32 28 15 144-141 14 3-145 149-27-15-124 23-126 81-29-13-108 35zM3497 954l17 6-14-4-17-5zM3500 956l88 23 23 12 14 11-23-12-88-30z"/>
<path transform="translate(0 -207)" d="M2724 971l37 138 26 51 32 57-14-1-58-104-37-133zM2805 1216l29 0 13-1-28 2zM2847 1215l88-6 18-5-14 4-18 7-87 1zM2939 1208l100-39 30 14 126-78 123-27 27 14 145-144 14 3-145 152-27-14-124 18-126 85-29-14-100 26zM3504 951l22 8-14-4-22-7zM3512 955l83 24 23 12 14 11-23-12-83-31z"/>
<path transform="translate(0 -201)" d="M2731 962l37 140 26 52 32 58-14-2-58-105-37-136zM2812 1210l35-1 14-1-35 4zM2861 1208l81-9 25-5-14 4-25 8-81 3zM2953 1198l93-30 29 13 126-81 124-23 27 15 145-149 13 3-144 156-27-14-124 14-126 88-29-13-93 17zM3510 946l30 12-14-5-29-10zM3526 953l76 26 23 12 14 10-23-12-76-31z"/>
<path transform="translate(0 -196)" d="M2738 953l37 143 26 54 32 58-14-2-32-57-26-51-37-138zM2819 1206l41-3 14-1-41 6zM2874 1202l108-15-14 2-33 9-75 5zM2968 1189l85-22 29 14 126-85 124-18 27 14 145-152 13 3-144 160-27-15-124 10-126 92-29-14-85 11zM3517 943l37 16-14-6-36-13zM3540 953l69 26 23 12 14 10-23-12-69-30z"/>
<path transform="translate(0 -191)" d="M2745 945l37 144 26 57 32 57-14-1-32-58-26-52-37-140zM2826 1202l48-5 14-2-48 8zM2888 1195l69-13 38-2-13 2-39 7-69 8zM2982 1182l78-15 29 13 126-88 124-14 27 14 144-156 14 3-144 164-27-14-124 5-126 95-29-14-79 5zM3524 939l44 21-14-6-44-18zM3554 954l62 25 23 12 14 11-23-12-62-30z"/>
<path transform="translate(0 -185)" d="M2752 936l38 149 25 55 32 58-14-1-32-58-26-54-37-143zM2833 1197l55-8 13-3-54 12zM2901 1186l63-13 45 0-14 1-107 15zM2995 1174l72-9 29 14 126-92 124-10 27 15 144-160 14 3-144 167-27-14-124 0-126 99-29-13-72-1zM3531 935l50 26-14-7-50-22zM3567 954l56 24 23 12 14 11-79-40z"/>
<path transform="translate(0 -180)" d="M2759 928l38 151 25 57 32 58-14-2-32-57-26-57-37-144zM2840 1192l61-11 14-3-61 16zM2915 1178l56-14 53 4-14 0-53 3-56 10zM3010 1168l64-4 29 14 126-95 124-5 27 14 144-164 14 4-144 170-27-14-124-4-126 103-29-14-64-5zM3538 932l57 31-14-8-57-27zM3581 955l49 24 23 12 14 10-72-38z"/>
<path transform="translate(0 -175)" d="M2765 920l39 154 25 58 32 57-14-1-32-58-25-55-38-149zM2847 1188l68-15 14-3-68 19zM2929 1170l49-14 60 8-14-1-60 0-49 10zM3024 1163l58 1 28 13 126-99 124 0 27 14 144-167 14 3-144 175-27-15-124-8-126 106-28-14-58-8zM3545 928l64 37-14-8-64-32zM3595 957l65 34 13 10-22-12-42-24z"/>
<path transform="translate(0 -169)" d="M2772 911l39 156 25 60 32 57-14-1-32-58-25-57-38-151zM2854 1183l75-19 14-4-75 24zM2943 1160l42-14 68 14-14-2-68-5-42 11zM3039 1158l50 4 28 14 126-103 124 4 27 14 144-170 14 3-144 178-27-15-124-12-126 109-28-13-50-11zM3552 924l71 43-14-8-71-38zM3609 959l58 31 13 10-22-11-35-22z"/>
<path transform="translate(0 -164)" d="M2779 904l39 157 25 62 32 57-14-2-32-57-25-58-39-154zM2861 1178l82-23 13-5-81 30zM2956 1150l36-12 75 20-14-3-75-10-35 10zM3053 1155l43 6 28 14 126-106 124 8 27 15 144-175 14 4-144 181-27-14-124-17-126 112-28-13-43-12zM3559 921l77 49-14-8-77-45zM3622 962l29 16 22 12 14 11-22-12-29-19z"/>
<path transform="translate(0 -158)" d="M2786 895l39 159 25 64 32 56-14-1-32-57-25-60-39-156zM2868 1173l88-29 14-5-88 35zM2970 1139l29-11 82 28-13-4-83-17-29 9zM3068 1152l35 8 28 13 126-109 14 1-126 116-28-13-36-12zM3271 1065l5 1-14-2-5 0zM3262 1064l119 12 27 15 144-178 14 4-144 184-27-14-119-21zM3566 917l84 56-14-9-84-51zM3636 964l22 14 22 11 14 11-22-12-22-15z"/>
<path transform="translate(0 -153)" d="M2793 888l39 161 25 65 32 56-14-1-32-57-25-62-39-157zM2875 1169l95-35 14-5-95 41zM2984 1129l22-9 89 36-14-5-89-24-22 7zM3081 1151l29 8 28 13 126-112 14 1-126 119-28-13-29-11zM3278 1061l11 3-14-3-11-1zM3275 1061l113 16 27 14 144-181 14 3-144 188-27-14-113-23zM3573 913l92 65-14-9-92-59zM3651 969l14 9 22 12 14 10-22-12-14-10z"/>
<path transform="translate(0 -148)" d="M2800 881l39 162 25 67 32 56-14-2-32-56-25-64-39-159zM2882 1164l102-40 14-6-102 48zM2998 1118l14-7 97 45-14-5-96-33-15 6zM3095 1151l22 7 28 13 126-116 14 2-126 122-50-23zM3285 1057l18 4-14-2-18-4zM3289 1059l106 18 27 14 144-184 14 3-144 191-27-14-106-26zM3580 910l99 73-14-10-99-66zM3665 973l7 5 22 12 14 10-22-12-7-5z"/>
<path transform="translate(0 -142)" d="M2807 874l39 163 25 68 32 55-14-1-32-56-25-65-39-161zM2889 1159l110-48 14-6-110 55zM3013 1105l6-3 105 55-14-6-104-42-7 2zM3110 1151l42 18 126-119 14 2-126 125-42-20zM3292 1052l26 7-14-3-26-6zM3304 1056l98 20 27 14 144-188 14 4-144 194-27-14-98-27zM3587 906l105 81-13-10-106-75zM3679 977l22 12 14 10-23-12z"/>
<path transform="translate(0 -137)" d="M2814 867l39 165 25 69 31 55-13-1-32-56-25-67-39-162zM2896 1155l115-55 14-6-116 62zM3025 1094l1-1 113 67-14-7-113-53-1 0zM3125 1153l34 15 126-122 14 2-126 128-34-16zM3299 1048l33 10-14-4-33-8zM3318 1054l91 22 27 14 144-191 14 4-144 196-27-13-91-28zM3594 903l105 84-13-10-106-78zM3686 977l22 12 14 10-23-12z"/>
<path transform="translate(0 -132)" d="M2821 861l39 165 25 71 31 55-13-2-32-55-25-68-39-163zM2903 1150l115-58 14-7-116 67zM3032 1085l1 0 117 77-14-8-117-62-1 0zM3136 1154l30 13 126-125 14 1-126 132-30-13zM3306 1043l39 14-13-4-40-11zM3332 1053l84 23 27 14 144-194 14 4-144 199-28-13-84-29zM3601 900l105 87-14-10-105-81zM3692 977l23 12 14 9-23-11z"/>
<path transform="translate(0 -126)" d="M2828 853l39 167 25 73 31 53-14-1-31-55-25-69-39-165zM2909 1145l116-62 14-7-116 70zM3039 1076l1 0 118 84-14-8-118-70-1 1zM3144 1152l29 13 126-128 14 1-126 135-29-13zM3313 1038l47 18-14-5-47-14zM3346 1051l77 24 27 13 144-196 14 4-144 202-28-13-76-29zM3608 896l105 90-14-10-105-84zM3699 976l23 12 14 9-23-11z"/>
<path transform="translate(0 -121)" d="M2835 847l39 168 25 74 31 53-14-1-31-55-25-71-39-165zM2916 1141l116-67 14-7-116 75zM3046 1067l1 0 118 92-14-8-118-77-1 0zM3151 1151l29 13 126-132 14 2-126 137-29-12zM3320 1034l54 22-14-5-54-19zM3360 1051l69 24 28 13 144-199 14 4-144 205-28-13-69-29zM3615 893l105 93-14-10-105-87zM3706 976l23 11 14 10-23-11z"/>
<path transform="translate(0 -115)" d="M2842 841l39 168 25 75 31 53-14-2-31-53-25-73-39-167zM2923 1135l116-70 14-7-116 79zM3053 1058l1 0 118 99-14-8-118-84-1 0zM3158 1149l29 13 126-135 14 2-126 140-29-12zM3327 1029l62 27-14-5-62-24zM3375 1051l61 23 28 13 144-202 14 4-144 207-89-40zM3622 889l105 96-14-10-105-90zM3713 975l23 11 14 10-23-11z"/>
<path transform="translate(0 -110)" d="M2849 835l39 169 24 77 32 52-14-2-31-53-25-74-39-168zM2930 1131l116-75 14-6-116 83zM3060 1050l1 0 118 106-14-8-118-92-1 0zM3165 1148l29 12 126-137 14 2-126 143-29-12zM3334 1025l69 32-14-6-69-28zM3389 1051l54 23 28 13 144-205 14 4-144 210-82-39zM3629 886l105 99-14-10-105-93zM3720 975l23 11 14 10-23-11z"/>
<path transform="translate(0 -105)" d="M2856 830l38 170 25 77 32 51-14-1-31-53-25-75-39-168zM2937 1127l116-79 14-6-116 86zM3067 1042l1-1 118 114-14-8-118-99-1 0zM3172 1147l29 12 126-140 14 2-126 145-29-11zM3341 1021l77 38-14-6-77-34zM3404 1053l74 33 144-207 14 5-145 211-27-12-46-24zM3636 884l105 101-14-10-105-96zM3727 975l23 11 14 9-23-10z"/>
<path transform="translate(0 -99)" d="M2863 824l37 166 26 82 32 51-14-1-32-52-24-77-39-169zM2944 1122l116-83 14-7-116 91zM3074 1032l1 0 118 120-14-7-118-106-1 0zM3179 1145l29 12 126-143 13 1-126 149-28-12zM3347 1015l86 46-14-7-85-40zM3419 1054l66 31 144-210 14 5-145 214-27-12-38-21zM3643 880l105 104-14-10-105-99zM3734 974l23 11 14 9-23-10z"/>
<path transform="translate(0 -94)" d="M2870 819l37 166 26 84 32 50-14-2-32-51-25-77-38-170zM2951 1117l116-86 14-7-116 95zM3081 1024l1 0 118 127-14-7-118-114-1 1zM3186 1144l29 11 126-145 13 1-126 151-28-11zM3354 1011l93 53-13-8-93-46zM3434 1056l30 16 27 12 145-211 14 4-145 216-27-12-31-17zM3650 877l105 107-14-10-105-101zM3741 974l23 10 14 9-23-9z"/>
<path transform="translate(0 -89)" d="M2877 814l37 167 26 85 32 49-14-2-32-51-26-82-37-166zM2958 1113l116-91 14-6-116 99zM3088 1016l1 0 118 134-14-8-118-120-1 0zM3193 1142l28 12 126-149 14 2-126 154-28-11zM3361 1007l101 60-14-8-101-54zM3448 1059l23 13 27 12 145-214 13 5-144 217-27-11-23-14zM3656 875l106 108-14-9-105-104zM3748 974l23 10 14 9-23-10z"/>
<path transform="translate(0 -83)" d="M2884 809l37 167 26 85 32 48-14-1-32-50-26-84-37-166zM2965 1108l116-95 14-6-116 102zM3095 1007l1 0 118 140-14-7-118-127-1 0zM3200 1140l28 11 126-151 14 2-126 156-28-11zM3368 1002l109 68-14-8-109-62zM3463 1062l15 8 27 12 145-216 13 5-144 220-27-12-15-9zM3663 871l106 111-14-9-105-107zM3755 973l23 9 14 10-23-10z"/>
<path transform="translate(0 -78)" d="M2891 804l37 167 26 87 32 47-14-1-32-49-26-85-37-167zM2972 1104l116-99 14-6-116 106zM3102 999l1 0 118 147-14-7-118-134-1 0zM3207 1139l28 11 126-154 14 2-126 158-28-10zM3375 998l117 76-14-8-117-70zM3478 1066l7 4 27 11 144-217 14 4-144 222-27-11-7-5zM3670 868l106 114-14-10-106-108zM3762 972l23 10 14 9-23-9z"/>
<path transform="translate(0 -72)" d="M2898 799l37 167 26 88 32 46-14-2-32-48-26-85-37-167zM2979 1098l116-102 14-6-116 110zM3109 990l1 0 118 154-14-8-118-140-1 0zM3214 1136l28 11 126-156 14 2-126 161-28-10zM3382 993l124 84-14-9-124-77zM3492 1068l27 12 144-220 14 5-144 223-27-11zM3677 865l106 115-14-9-106-111zM3769 971l23 10 14 8-23-9z"/>
<path transform="translate(0 -67)" d="M2905 796l37 166 26 89 32 45-14-2-32-47-26-87-37-167zM2986 1094l116-106 14-5-116 113zM3116 983l1-1 118 160-14-7-118-147-1 0zM3221 1135l28 10 126-158 14 2-126 163-28-10zM3389 989l124 88-14-9-124-81zM3499 1068l27 11 144-222 14 5-144 225-27-10zM3684 862l106 118-14-9-106-114zM3776 971l23 9 14 9-23-9z"/>
<path transform="translate(0 -62)" d="M2911 792l38 166 26 89 32 45-14-2-32-46-26-88-37-167zM2993 1090l116-110 14-5-116 117zM3123 975l1 0 118 165-14-6-118-154-1 0zM3228 1134l28 10 126-161 14 2-126 165-28-10zM3396 985l124 91-14-9-124-84zM3506 1067l27 11 144-223 14 5-144 226-27-10zM3691 860l106 120-14-10-106-115zM3783 970l23 9 13 9-22-8z"/>
<path transform="translate(0 -56)" d="M2918 788l38 166 26 89 32 44-14-2-32-45-26-89-37-166zM3000 1085l116-113 14-6-116 121zM3130 966l1 0 118 172-14-7-118-160-1 1zM3235 1131l28 10 126-163 14 2-126 167-28-9zM3403 980l124 94-14-8-124-88zM3513 1066l27 10 144-225 14 6-144 227-27-10zM3698 857l106 121-14-9-106-118zM3790 969l23 9 13 8-22-8z"/>
<path transform="translate(0 -51)" d="M2925 784l38 166 26 90 32 43-14-2-32-45-26-89-38-166zM3007 1081l116-117 13-5-115 124zM3136 959l2-1 118 178-14-7-118-165-1 0zM3242 1129l28 10 126-165 14 2-126 169-28-9zM3410 976l124 98-14-9-124-91zM3520 1065l27 10 144-226 14 5-144 229-27-9zM3705 854l106 124-14-9-106-120zM3797 969l22 8 14 9-22-8z"/>
<path transform="translate(0 -46)" d="M2932 782l38 164 26 91 32 42-14-2-32-44-26-89-38-166zM3014 1077l116-121 13-5-115 128zM3143 951l2 0 118 184-14-7-118-172-1 0zM3249 1128l28 9 126-167 14 2-126 171-28-8zM3417 972l124 101-14-9-124-94zM3527 1064l27 10 144-227 14 5-144 230-27-9zM3712 852l106 125-14-9-106-121zM3804 968l22 8 14 9-22-8z"/>
<path transform="translate(0 -40)" d="M2939 778l38 164 26 92 32 40-14-2-32-43-26-90-38-166zM3021 1072l115-124 14-5-115 131zM3150 943l2 0 118 189-14-7-118-178-2 1zM3256 1125l28 9 126-169 14 2-126 173-28-8zM3424 967l124 104-14-8-124-98zM3534 1063l27 9 144-229 14 6-144 231-27-9zM3719 849l106 127-14-9-106-124zM3811 967l22 8 14 8-22-7z"/>
<path transform="translate(0 -35)" d="M2946 775l38 164 26 92 32 39-14-2-32-42-26-91-38-164zM3028 1068l115-128 14-4-115 134zM3157 936l1-1 119 195-14-6-118-184-2 0zM3263 1124l28 8 126-171 14 2-126 175-28-8zM3431 963l124 107-14-8-124-101zM3541 1062l27 9 144-230 14 6-144 231-27-8zM3726 847l106 128-14-9-106-125zM3818 966l22 8 14 8-22-7z"/>
<path transform="translate(0 -30)" d="M2953 773l38 163 26 92 32 38-14-2-32-40-26-92-38-164zM3035 1064l115-131 14-5-115 138zM3164 928l1 0 118 200-13-6-118-189-2 0zM3270 1122l28 8 126-173 14 3-126 176-29-8zM3438 960l124 109-14-8-124-104zM3548 1061l27 9 144-231 14 6-144 232-27-8zM3733 845l105 129-13-8-106-127zM3825 966l22 7 14 8-23-7z"/>
<path transform="translate(0 -24)" d="M2960 770l38 162 26 92 31 37-13-2-32-39-26-92-38-164zM3042 1059l115-134 14-5-116 141zM3171 920l1 0 118 206-13-7-119-195-1 1zM3277 1119l28 8 126-175 14 3-126 178-29-7zM3445 955l124 112-14-8-124-107zM3555 1059l27 8 144-231 14 6-144 233-27-8zM3740 842l105 131-13-9-106-128zM3832 964l22 7 14 8-23-6z"/>
<path transform="translate(0 -19)" d="M2967 768l38 161 26 93 31 36-13-3-32-38-26-92-38-163zM3049 1055l115-138 14-4-116 145zM3178 913l1 0 118 211-14-7-118-200-1 0zM3283 1117l29 8 126-176 14 2-126 179-29-6zM3452 951l123 115-13-8-124-109zM3562 1058l27 8 144-232 14 6-144 233-28-7zM3747 840l105 132-14-9-105-129zM3838 963l23 7 14 8-23-6z"/>
<path transform="translate(0 -13)" d="M2974 766l38 159 26 93 31 35-14-3-31-37-26-92-38-162zM3055 1050l116-141 14-4-116 148zM3185 905l1 0 118 216-14-6-118-206-1 0zM3290 1115l29 7 126-178 14 2-126 181-29-6zM3459 946l123 118-13-8-124-112zM3569 1056l27 8 144-233 14 6-144 234-28-7zM3754 837l105 133-14-8-105-131zM3845 962l23 6 14 8-23-6z"/>
<path transform="translate(0 -8)" d="M2981 765l37 157 27 94 31 33-14-2-31-36-26-93-38-161zM3062 1047l116-145 14-3-116 150zM3192 899l1-1 118 221-14-6-118-211-1 0zM3297 1113l29 6 126-179 14 3-126 182-29-6zM3466 943l123 120-14-8-123-115zM3575 1055l28 7 144-233 14 6-144 234-28-6zM3761 835l105 134-14-8-105-132zM3852 961l23 6 14 8-23-6z"/>
<path transform="translate(0 -3)" d="M2981 760l37 157 27 94 31 33-7-1-31-35-26-93-38-159zM3069 1043l116-148 7-1-116 150zM3192 894l1-1 118 221-7-3-118-216-1 0zM3304 1111l29 6 126-181 7 2-126 182-29-6zM3466 938l123 120-7-4-123-118zM3582 1054l28 7 144-234 7 3-144 234-28-6zM3761 830l105 134-7-4-105-133zM3859 960l23 6 7 4-23-6z"/>
</g>
</g>
<path class="bx" d="M1142.9 542.5L1490.5 711.4M1490.5 711.4L1944.5 581.3M1142.9 542.5L1142.9 164.5M1944.5 581.3L1944.5 203.3M1490.5 711.4L1490.5 333.4M1142.9 164.5L1490.5 333.4M1490.5 333.4L1944.5 203.3M1142.9 164.5L1596.9 34.4M1596.9 34.4L1944.5 203.3M1490.5 711.4L1500.4 716.2M1641.8 668.0L1651.7 672.8M1793.2 624.7L1803.1 629.5M1944.5 581.3L1954.4 586.1M1421.0 677.6L1410.4 680.7M1281.9 610.1L1271.4 613.1M1142.9 542.5L1132.3 545.5M1142.9 518.9L1133.0 514.1M1142.9 400.8L1133.0 395.9M1142.9 282.6L1133.0 277.8M1142.9 164.5L1133.0 159.7"/>
<text class="t" x="1523.5" y="768.8" text-anchor="middle">0</text>
<text class="t" x="1674.8" y="725.5" text-anchor="middle">2</text>
<text class="t" x="1826.2" y="682.1" text-anchor="middle">4</text>
<text class="t" x="1977.5" y="638.7" text-anchor="middle">6</text>
<text class="t" x="1381.0" y="731.1" text-anchor="middle">0</text>
<text class="t" x="1241.9" y="663.5" text-anchor="middle">2</text>
<text class="t" x="1102.9" y="595.9" text-anchor="middle">4</text>
<text class="t" x="1114.9" y="525.8" text-anchor="end">-0.05</text>
<text class="t" x="1114.9" y="407.7" text-anchor="end">0</text>
<text class="t" x="1114.9" y="289.6" text-anchor="end">0.05</text>
<text class="t" x="1114.9" y="171.4" text-anchor="end">0.1</text>
<text class="i" x="1304.0" y="776.5" text-anchor="middle">z</text>
<text class="i" x="1706.0" y="798.0" text-anchor="middle">x</text>
<text class="y" transform="translate(1001.3 349.8) rotate(-90)" text-anchor="middle" textLength="305" lengthAdjust="spacingAndGlyphs">Acoustic pressure (P)</text>
</g>
<g>
<path class="mn" d="M527.9 1554.5L197.1 1369.5M197.1 1369.5L197.1 964.5M564.2 1542.7L233.4 1357.7M233.4 1357.7L233.4 952.7M600.5 1530.9L269.7 1345.9M269.7 1345.9L269.7 940.9M673.1 1507.3L342.3 1322.3M342.3 1322.3L342.3 917.3M709.4 1495.4L378.6 1310.4M378.6 1310.4L378.6 905.4M745.6 1483.6L414.8 1298.6M414.8 1298.6L414.8 893.6M818.2 1460.0L487.4 1275.0M487.4 1275.0L487.4 870.0M854.5 1448.2L523.7 1263.2M523.7 1263.2L523.7 858.2M890.8 1436.4L560.0 1251.4M560.0 1251.4L560.0 846.4M458.5 1547.8L894.0 1406.1M894.0 1406.1L894.0 1001.1M392.4 1510.8L827.9 1369.1M827.9 1369.1L827.9 964.1M359.3 1492.3L794.8 1350.6M794.8 1350.6L794.8 945.6M326.2 1473.8L761.7 1332.1M761.7 1332.1L761.7 927.1M260.0 1436.8L695.5 1295.1M695.5 1295.1L695.5 890.1M227.0 1418.3L662.5 1276.6M662.5 1276.6L662.5 871.6M193.9 1399.8L629.4 1258.1M629.4 1258.1L629.4 853.1"/>
<path class="mj" d="M636.8 1519.1L306.0 1334.1M306.0 1334.1L306.0 929.1M781.9 1471.8L451.1 1286.8M451.1 1286.8L451.1 881.8M425.4 1529.3L860.9 1387.6M860.9 1387.6L860.9 982.6M293.1 1455.3L728.6 1313.6M728.6 1313.6L728.6 908.6M160.8 1332.5L596.3 1190.8M596.3 1190.8L927.1 1375.8M160.8 1176.0L596.3 1034.3M596.3 1034.3L927.1 1219.3M160.8 1019.5L596.3 877.8M596.3 877.8L927.1 1062.8"/>
<path class="bx" d="M160.8 1381.3L596.3 1239.6M596.3 1239.6L927.1 1424.6M596.3 1239.6L596.3 834.6"/>
<g class="s">
<defs><linearGradient id="mc" gradientUnits="userSpaceOnUse" x1="983.2" y1="3132.5" x2="744.9" y2="2400.1"><stop offset="0" stop-color="#3e26a8"/><stop offset="0.063" stop-color="#4537d5"/><stop offset="0.095" stop-color="#4741e5"/><stop offset="0.143" stop-color="#4852f4"/><stop offset="0.19" stop-color="#4563fd"/><stop offset="0.222" stop-color="#3e6fff"/><stop offset="0.254" stop-color="#327cfc"/><stop offset="0.286" stop-color="#2e87f7"/><stop offset="0.317" stop-color="#2b91ef"/><stop offset="0.397" stop-color="#1ca9df"/><stop offset="0.413" stop-color="#18addb"/><stop offset="0.429" stop-color="#12b1d6"/><stop offset="0.444" stop-color="#08b5d0"/><stop offset="0.46" stop-color="#01b8ca"/><stop offset="0.476" stop-color="#02bac3"/><stop offset="0.492" stop-color="#0bbdbd"/><stop offset="0.524" stop-color="#24c1ae"/><stop offset="0.556" stop-color="#31c69f"/><stop offset="0.587" stop-color="#3fca8e"/><stop offset="0.635" stop-color="#64cd6f"/><stop offset="0.698" stop-color="#9dc943"/><stop offset="0.73" stop-color="#b9c431"/><stop offset="0.746" stop-color="#c5c22a"/><stop offset="0.762" stop-color="#d1bf27"/><stop offset="0.778" stop-color="#dcbd29"/><stop offset="0.794" stop-color="#e6bb2d"/><stop offset="0.825" stop-color="#f8ba3d"/><stop offset="0.841" stop-color="#febe3c"/><stop offset="0.889" stop-color="#fccf30"/><stop offset="0.937" stop-color="#f5e327"/><stop offset="0.984" stop-color="#f7f51b"/><stop offset="1" stop-color="#f9fb15"/></linearGradient></defs>
<g transform="scale(0.5)" fill="url(#mc)">
<path transform="translate(0 -582)" d="M322 2934l29-142 20-112 7-37 13-51 9-29 7-15 10-16 14-16-11 17-7 16-8 30-14 54-7 40-20 119-29 149zM431 2516l3-3 3-1 3 0 4 1 8 9 10 15 8 19 38 112 22 53 15 31 12 17 16 20 12 11 11 6-13-4-11-6-12-10-16-18-12-17-16-28-21-50-38-104-8-19-10-13-9-8-3-2-3 0-3 2-4 3zM583 2802l15 3 18 2 19 0 31-2 44-6 51-11 65-18 367-119 13 7-367 119-64 18-51 11-45 5-31 1-19 0-18-2-15-4z"/>
<path transform="translate(0 -576)" d="M328 2932l30-147 19-116 9-44 13-52 10-31 4-10 7-11 5-7 4-3 14-4-5 3-5 7-7 11-4 10-10 32-13 54-9 45-19 119-30 151zM443 2507l5 0 6 4 12 15 4 8 20 55 23 72 21 51 14 30 10 17 18 23 13 13 10 7-13-6-11-7-13-12-17-22-10-16-14-29-21-50-24-69-19-54-5-8-12-14-5-4-6 0zM586 2796l14 4 18 3 18 0 28-1 26-2 23-2 51-12 36-9 31-9 368-120 13 8-368 119-31 10-36 9-51 11-23 2-26 2-27 1-19-1-17-3-15-4z"/>
<path transform="translate(0 -571)" d="M335 2930l29-149 24-143 14-61 10-35 9-22 6-10 6-7 4-2 6 1 13 7-6-1-4 3-5 6-7 10-9 22-9 35-15 61-24 143-29 150zM456 2509l5 5 7 7 5 8 5 9 42 124 19 45 14 31 11 19 15 20 13 14 12 9-13-7-12-9-13-14-16-21-10-18-15-31-18-46-43-123-4-9-5-8-7-8-5-4zM591 2793l13 4 16 3 18 1 23 0 29-2 25-2 20-4 31-7 39-10 33-9 368-120 13 7-368 120-33 10-39 10-30 6-21 4-25 3-28 1-24 1-18-1-16-3-13-5z"/>
<path transform="translate(0 -565)" d="M341 2928l30-151 24-143 11-49 11-41 5-17 5-12 9-13 6-6 4-1 5 3 6 5 9 12 13 18-9-11-5-5-6-3-4 1-6 5-8 13-6 12-5 17-11 40-11 47-24 140-29 146zM479 2533l4 8 6 14 38 109 28 66 11 20 11 16 16 19 13 11-13-9-13-12-16-20-11-16-11-21-29-68-38-113-5-14-4-8zM593 2787l9 5 14 4 15 2 19 1 32-1 27-2 24-4 25-5 47-11 37-11 370-120 14 7-370 120-38 11-46 12-25 5-24 4-28 2-32 1-19 0-15-2-14-4-9-5z"/>
<path transform="translate(0 -559)" d="M348 2926l29-150 26-148 13-56 9-35 6-15 4-8 9-13 3-3 3-2 6 1 5 5 11 13 5 9 13 28-5-8-10-13-6-4-5 0-4 1-3 3-9 12-4 8-5 15-10 33-13 53-25 139-30 142zM490 2552l20 54 22 61 26 59 10 19 9 14 16 20 13 12-13-11-13-14-16-21-9-15-10-20-26-63-22-66-20-57zM593 2780l9 7 8 4 17 4 17 2 24 0 35-2 26-3 23-4 54-13 42-12 371-121 13 8-371 121-41 11-55 14-23 4-26 3-35 3-24 0-17-1-16-4-9-4-9-6z"/>
<path transform="translate(0 -553)" d="M355 2923l29-146 25-145 14-59 11-37 7-15 8-13 6-5 5 0 8 5 12 15 5 11 7 18 13 36-6-16-6-10-12-13-7-5-6 1-5 5-9 12-7 14-10 33-15 54-25 133-29 135zM505 2588l8 20-14-34-7-22zM499 2574l2 3 13 33-1-2zM514 2610l25 66 23 49 17 31 19 22-14-15-18-25-18-34-22-55-25-72zM584 2763l13 14 11 9 10 4 16 4 22 1 33-1 33-2 28-5 58-13 45-13 373-121 13 7-372 122-46 13-58 13-28 5-33 3-33 2-21-1-17-2-9-4-11-7-13-13z"/>
<path transform="translate(0 -547)" d="M361 2921l30-142 19-112 8-37 12-47 9-29 7-19 10-15 7-5 3-1 3 1 9 8 11 15 7 18 35 96 15 36 14 28-16-31-34-83-8-16-11-12-9-7-3-1-3 1-7 5-10 13-7 17-9 26-12 42-7 33-20 100-29 126zM560 2716l19 36-13-23-20-41zM566 2729l11 18 18 22 15 13 12 6 18 5 22 1 38-2 35-3 23-4 27-6 71-19 376-122 14 7-377 123-71 19-27 6-23 5-35 4-38 3-22-1-18-2-12-6-14-11-19-18-11-15z"/>
<path transform="translate(0 -541)" d="M368 2919l29-135 20-106 9-40 13-48 9-29 5-9 6-10 6-7 4-3 6 0 5 4 12 12 4 8 7 15 38 98 22 46 16 29 19 22 16 15 13 7 17 4 16 1 17 0 57-5 33-5 57-14 49-15 366-119 13 8-366 119-49 14-56 15-34 6-57 7-17 1-15 0-18-2-13-6-16-11-19-18-16-24-22-38-38-81-6-12-5-6-12-10-5-3-6 0-4 3-5 6-7 9-4 8-10 24-13 42-9 34-19 91-30 115z"/>
<path transform="translate(0 -536)" d="M375 2918l29-126 20-100 8-37 13-45 10-27 4-9 7-9 5-6 5-3 5 0 6 3 12 11 4 7 7 14 38 90 21 43 17 26 18 20 17 14 13 6 17 3 15 1 18 0 56-6 34-6 57-15 49-14 366-119 13 8-366 119-49 14-57 15-33 7-57 8-33 2-17-1-13-4-17-10-18-15-16-20-22-33-45-81-4-5-12-9-6-2-5 0-4 3-6 5-6 8-5 7-9 23-14 37-8 30-20 82-29 103z"/>
<path transform="translate(0 -530)" d="M381 2915l30-115 19-91 9-34 13-42 10-24 4-8 7-9 5-6 4-3 6 0 5 3 12 10 5 6 6 12 38 81 22 38 16 24 19 18 16 11 13 6 18 2 15 0 17-1 57-7 34-6 56-15 49-14 366-119 13 7-365 119-49 15-57 16-34 7-56 10-33 3-18 0-13-3-16-8-18-12-17-17-22-27-44-67-5-4-11-7-6-2-5 1-5 3-5 4-7 7-4 7-10 19-13 33-9 26-19 71-30 90z"/>
<path transform="translate(0 -524)" d="M388 2913l29-103 20-82 8-30 14-37 9-23 5-7 6-8 6-5 4-3 5 0 6 2 12 9 4 5 45 81 22 33 16 20 18 15 17 10 13 4 17 1 33-2 57-8 33-7 57-15 49-14 366-119 13 7-366 119-49 15-56 16-34 8-57 12-32 4-18 1-13-2-16-5-19-9-16-12-22-21-45-53-4-3-12-5-5-1-6 1-10 7-10 11-10 17-13 27-9 22-20 59-29 75z"/>
<path transform="translate(0 -518)" d="M394 2911l30-90 19-71 9-26 13-33 10-19 4-7 7-7 5-4 5-3 5-1 6 2 11 7 5 4 44 67 22 27 17 17 18 12 16 8 13 3 18 0 33-3 56-10 34-7 57-16 49-15 365-119 14 8-415 134-57 17-34 8-56 13-33 6-17 2-13 0-17-3-18-5-17-8-21-15-45-36-4-2-12-3-6 0-5 1-10 6-11 9-10 14-13 22-8 17-20 47-29 59z"/>
<path transform="translate(0 -512)" d="M401 2908l29-75 20-59 9-22 13-27 10-17 10-11 10-7 6-1 5 1 12 5 4 3 45 53 22 21 16 12 19 9 16 5 13 2 18-1 32-4 57-12 34-8 56-16 49-15 366-119 13 7-415 135-90 27-57 14-32 8-18 3-13 1-16 0-19-1-16-4-22-8-44-19-17-2-11 2-9 5-11 8-10 10-13 16-9 12-19 34-30 43z"/>
<path transform="translate(0 -506)" d="M408 2906l29-59 20-47 8-17 13-22 10-14 11-9 10-6 5-1 6 0 12 3 4 2 45 36 21 15 17 8 18 5 17 3 13 0 17-2 33-6 56-13 34-8 57-17 415-134 13 7-415 135-90 28-90 26-30 7-35 5-38 0-45-2-16 2-11 2-21 10-22 17-29 27-29 26z"/>
<path transform="translate(0 -500)" d="M414 2904l30-43 19-34 9-12 13-16 10-10 11-8 9-5 11-2 17 2 44 19 22 8 16 4 19 1 16 0 13-1 18-3 32-8 57-14 90-27 415-135 13 8-594 193-175 58-102 32z"/>
<path transform="translate(0 -495)" d="M421 2902l29-26 29-27 22-17 21-10 11-2 16-2 45 2 38 0 35-5 30-7 90-26 90-28 415-135 13 7-415 136-90 30-89 33-31 13-35 18-38 25-44 32-17 9-11 5-20 3-23-2-9-2-20-8-29-8z"/>
<path transform="translate(0 -489)" d="M427 2900l102-32 175-58 594-193 14 7-415 136-90 32-57 22-33 14-17 8-13 7-35 25-16 15-22 22-45 50-16 12-11 5-10 2-11-1-10-4-13-8-8-7-20-21-29-25z"/>
<path transform="translate(0 -483)" d="M447 2905l2 3-13-10-2 0zM436 2898l27 8 21 8 9 2 22 2 20-3 11-5 17-9 44-32 38-25 35-18 31-13 89-33 90-30 415-136 13 8-366 119-49 17-56 20-34 13-56 24-33 15-18 10-13 9-16 13-18 18-17 19-22 29-44 67-17 15-10 7-10 0-7-1-4-2-9-6-13-13-9-12-20-36-28-39z"/>
<path transform="translate(0 -477)" d="M454 2903l10 18-14-18-9-7zM450 2903l21 19 22 23 12 8 10 6 8 2 11 1 9-2 11-6 15-11 45-50 22-22 16-15 35-25 13-7 17-8 33-14 57-22 90-32 415-136 13 8-366 119-49 16-57 21-33 14-57 26-33 17-17 10-13 11-16 16-19 21-16 23-22 36-45 83-15 18-5 4-6 3-4 1-4 0-11-4-9-8-10-13-12-20-22-51-20-42z"/>
<path transform="translate(0 -471)" d="M461 2901l18 44-13-26-19-26zM466 2919l13 19 21 36 14 17 10 9 7 4 11 1 8-1 11-7 15-14 44-67 22-29 17-19 18-18 16-13 13-9 18-10 33-15 56-24 34-13 56-20 49-17 366-119 14 7-366 119-49 17-57 22-34 14-56 28-33 18-17 12-13 11-17 19-18 24-17 28-21 42-45 98-4 7-11 13-6 6-5 3-8 0-11-4-7-8-10-16-14-29-21-62-13-34z"/>
<path transform="translate(0 -465)" d="M467 2898l28 83-13-35-28-55zM482 2946l24 56 6 10 11 16 7 10 8 6 11 3 7-1 6-3 5-4 15-18 45-83 22-36 16-23 19-21 16-16 13-11 17-10 33-17 57-26 33-14 57-21 49-16 366-119 13 7-366 119-49 17-56 22-34 15-57 29-32 20-18 12-13 13-16 21-19 28-16 31-22 48-44 111-5 8-11 16-5 6-6 3-3 1-4-1-11-6-8-9-7-15-11-24-6-15-24-84z"/>
<path transform="translate(0 -459)" d="M474 2896l29 98 14 58-13-49-14-42-29-72zM504 3003l13 36 11 21 9 14 5 6 6 4 9 3 7-1 5-4 6-6 10-12 4-7 45-98 21-42 16-26 17-24 18-20 13-12 18-12 33-18 56-28 34-14 57-22 49-17 366-119 13 8-366 119-49 17-57 22-33 16-57 30-33 21-18 15-13 14-18 25-17 29-15 32-22 53-45 125-4 9-10 15-5 7-6 4-3 2-3-1-10-5-6-5-5-9-9-19-11-29-13-48z"/>
<path transform="translate(0 -454)" d="M480 2895l30 109 20 93-13-50-20-74-30-86zM517 3047l6 16 7 18 9 19 7 11 6 7 7 4 6 2 6-1 5-4 5-7 10-14 5-8 44-111 22-48 15-30 18-26 17-22 13-14 19-13 32-20 57-29 34-15 56-22 49-17 366-119 13 7-365 119-49 18-57 23-34 16-56 31-33 22-19 15-13 16-17 26-17 32-16 35-22 58-44 135-4 10-10 16-6 8-5 5-6 1-6-3-7-5-6-10-7-15-8-23-8-23-6-21z"/>
<path transform="translate(0 -448)" d="M487 2892l29 119 25 119-13-48-25-99-29-98zM528 3082l17 43 6 14 6 8 7 6 8 4 5-2 6-4 14-21 6-13 44-122 24-58 17-35 22-34 17-22 8-7 13-11 28-18 44-24 37-18 32-14 56-22 35-12 365-118 13 7-365 119-35 12-56 22-32 14-37 20-43 26-29 20-13 11-7 8-18 25-22 39-17 41-24 68-43 142-7 15-14 23-6 5-5 1-8-4-7-8-6-10-6-16-17-52z"/>
<path transform="translate(0 -442)" d="M494 2890l29 126 21 106 8 36-13-42-9-31-20-93-30-109zM539 3116l14 39 6 12 5 8 9 8 6 2 6-2 5-5 15-23 5-12 43-133 24-63 17-37 22-37 17-24 8-8 10-9 27-19 43-25 40-21 25-11 64-25 37-13 364-119 14 8-365 118-37 14-63 25-25 12-41 22-43 27-26 20-11 10-8 8-17 27-22 41-16 41-24 71-44 149-5 14-14 25-6 6-5 2-7-3-9-9-5-10-5-13-15-46z"/>
<path transform="translate(0 -436)" d="M500 2888l30 131 24 127 4 18 13 44-13-38-13-40-5-17-24-114-29-119zM558 3170l6 16 6 10 4 5 8 6 4 1 4-1 6-5 5-8 10-17 6-13 43-142 22-62 16-40 21-39 17-26 14-16 24-19 39-24 49-27 29-14 60-24 42-15 365-119 13 7-364 119-43 15-60 25-29 14-49 28-38 26-24 20-14 17-18 29-21 41-16 44-22 67-43 155-6 14-9 19-6 8-5 6-5 1-4-2-8-6-4-6-5-11-7-19z"/>
<path transform="translate(0 -430)" d="M507 2886l29 134 25 135 14 52 10 29-13-31-10-26-14-49-25-126-29-126zM572 3205l8 13 7 7 6 2 4-1 4-4 10-16 8-14 5-15 43-146 22-65 15-39 19-40 19-30 13-15 22-19 33-23 55-31 30-15 59-24 45-16 366-119 13 7-366 119-45 16-58 25-31 15-54 32-34 24-22 19-13 17-18 31-20 42-15 41-22 69-43 155-5 15-8 16-9 16-5 4-4 1-6-2-7-7-8-14z"/>
<path transform="translate(0 -424)" d="M513 2883l30 136 18 104 8 37 16 59 7 18 5 11-13-20-5-11-7-17-16-57-8-36-18-100-30-131zM584 3228l6 6 6 5 4 1 4-1 4-4 4-6 12-23 10-29 39-140 21-64 15-41 19-39 18-32 13-18 22-19 15-12 19-12 55-33 32-15 58-24 45-16 366-120 13 8-365 119-46 17-58 24-31 15-56 33-18 13-16 12-21 20-13 17-19 33-18 40-16 43-20 66-40 145-9 29-12 23-5 7-4 4-3 1-5-1-6-5-6-7z"/>
<path transform="translate(0 -418)" d="M520 2881l29 135 20 109 8 36 12 44 8 26 8 15 9 8-14-9-8-9-8-15-9-26-12-43-7-35-20-109-29-134zM600 3245l5 2 3 0 3-2 4-3 8-14 11-23 8-25 38-140 24-75 16-43 19-38 15-26 12-16 18-17 16-12 17-12 57-34 34-17 56-23 48-18 366-119 13 8-366 119-48 17-56 24-34 17-57 34-17 12-15 12-19 17-12 16-15 26-19 38-16 43-24 75-38 141-8 25-10 23-9 15-3 3-4 2-3 0-4-3z"/>
<path transform="translate(0 -413)" d="M527 2880l29 132 20 107 8 40 13 45 10 26 5 7 5 6 6 4 4 1-13 2-5-1-5-4-6-6-4-8-10-26-13-47-9-40-19-110-30-136zM614 3250l5-3 7-9 12-23 4-11 45-163 21-69 17-45 18-39 17-29 13-17 17-17 15-12 18-12 56-34 34-17 57-24 49-18 365-119 14 7-366 119-49 18-57 24-33 17-57 34-18 12-15 12-17 16-13 17-17 28-18 38-16 44-22 68-45 159-4 12-12 22-7 9-5 3z"/>
<path transform="translate(0 -407)" d="M533 2877l30 128 24 124 13 47 10 29 4 10 4 7 8 7 5 3 5 0 4-4-13 14-5 3-4 1-5-4-8-7-4-8-5-10-10-31-13-50-24-131-29-135zM627 3242l5-8 6-10 7-15 5-13 43-159 22-68 15-42 18-37 17-32 13-18 19-17 15-12 17-12 57-35 34-17 56-23 49-18 366-119 13 7-366 119-49 18-56 23-34 17-56 33-18 12-15 12-19 17-13 17-17 30-18 36-15 40-22 65-43 152-4 11-8 16-6 9-5 7z"/>
<path transform="translate(0 -401)" d="M540 2875l29 121 24 118 7 23 12 37 5 14 6 11 4 5 9 6 4 1 4-2 6-6 5-8-13 24-5 9-6 6-4 2-4-1-9-7-5-6-5-12-5-15-12-41-7-25-24-129-29-132zM642 3219l10-20 5-15 42-149 21-69 16-41 17-37 19-33 14-19 18-17 16-12 17-12 57-34 33-17 57-23 48-18 366-119 13 8-366 119-48 17-56 23-34 16-57 33-32 23-19 16-14 18-19 30-17 35-15 39-22 63-41 138-6 15-10 18z"/>
<path transform="translate(0 -395)" d="M547 2873l29 112 25 114 12 37 10 25 5 11 5 5 8 7 4 1 3 0 4-3 6-6 15-26-13 32-16 29-5 6-4 3-4 0-3-1-9-8-4-6-5-12-10-29-12-42-25-129-30-128zM660 3182l8-27 38-134 21-62 14-38 18-37 19-34 14-18 20-18 33-23 56-33 33-16 57-24 47-17 366-119 14 7-366 119-48 18-57 22-32 16-57 31-33 22-19 17-14 16-20 31-18 34-14 34-20 56-38 121-9 24z"/>
<path transform="translate(0 -389)" d="M553 2870l30 103 25 103 14 40 10 21 6 9 7 5 6 3 6-2 6-5 9-13 7-13 7-16-13 39-7 18-7 15-9 14-7 7-5 1-7-4-6-5-7-11-9-26-15-47-25-122-29-121zM673 3144l40-135 22-63 15-38 19-36 18-30 13-16 22-19 34-22 55-32 31-14 58-24 45-16 366-119 13 7-366 119-44 16-59 23-31 14-55 30-34 21-22 16-13 15-18 26-19 32-15 33-22 55-40 118z"/>
<path transform="translate(0 -383)" d="M560 2868l29 91 25 91 17 40 6 12 6 8 8 6 8 2 6-3 7-6 12-18 4-8 22-56-13 39-22 66-4 10-12 20-7 8-3 2-3 1-8-3-5-5-4-4-5-9-7-16-16-49-25-114-29-112zM697 3066l18-60 16-43 17-45 14-31 20-34 16-23 15-15 24-18 42-26 44-24 27-12 61-24 42-15 365-119 13 8-365 118-41 15-61 23-28 12-44 22-42 23-23 17-16 13-16 20-20 29-14 26-17 38-15 36-19 50z"/>
<path transform="translate(0 -377)" d="M566 2866l30 77 18 60 8 21 17 35 7 9 6 6 10 4 5 0 3-1 9-7 12-16 9-19 34-79-13 34-34 100-10 23-12 19-4 5-4 3-4 2-4-1-10-6-6-8-7-13-17-46-8-29-18-78-30-103zM721 2990l19-51 17-39 12-23 18-30 14-20 12-13 21-16 25-16 43-23 35-18 35-15 54-20 33-12 365-119 13 7-398 131-88 34-36 16-43 21-25 15-20 14-12 11-15 16-18 24-12 20-16 31-20 41z"/>
<path transform="translate(0 -372)" d="M573 2865l29 62 20 52 8 16 13 22 8 11 7 5 11 3 6-1 7-4 9-9 9-12 8-14 35-70 21-37-14 26-20 49-35 92-8 18-10 16-8 11-7 5-6 1-11-6-7-8-9-17-13-31-7-24-20-73-29-91zM750 2915l14-30 12-21 21-30 16-19 16-13 21-15 24-13 39-20 49-23 87-33 382-124 13 7-382 125-87 31-49 21-62 30-22 13-15 10-17 16-20 23-12 17-14 22z"/>
<path transform="translate(0 -366)" d="M580 2862l29 48 20 39 8 14 13 15 9 8 7 3 12 1 5-1 7-4 17-17 46-74 22-32 16-20-13 18-17 29-21 44-39 89-7 16-9 13-9 10-6 5-6 1-5-1-7-3-6-6-9-13-13-26-9-23-19-63-30-77zM778 2860l14-20 15-19 12-13 11-9 19-13 23-13 42-20 33-16 56-22 59-21 375-123 14 8-376 122-59 21-55 20-75 33-43 21-11 7-12 10-29 29z"/>
<path transform="translate(0 -360)" d="M586 2860l30 31 19 26 9 9 13 10 9 5 7 2 12-1 6-2 6-3 17-14 42-53 19-21 20-21 20-17-13 13-20 24-21 33-18 33-35 70-8 14-16 19-6 5-6 2-5 0-7-2-8-5-8-11-13-21-9-18-20-52-29-62zM802 2824l13-14 11-10 8-7 18-10 22-12 31-15 62-28 105-38 372-121 13 8-372 121-105 36-62 24-53 23-26 13-24 17z"/>
<path transform="translate(0 -354)" d="M593 2858l29 14 20 12 9 5 13 4 9 1 10 0 10-2 11-4 16-10 44-38 24-19 19-14 26-16-13 10-26 25-19 24-24 35-44 71-16 16-6 4-5 2-10 0-5-1-5-2-10-9-13-15-8-14-20-39-29-48zM820 2801l20-15 31-17 59-26 51-21 98-34 372-121 13 7-371 121-98 33-110 41-32 13-20 9z"/>
<path transform="translate(0 -348)" d="M586 2848l1 1 14 6-2 0zM601 2855l56-4 23-4 20-5 28-11 77-36 47-19-13 6-23 16-24 21-34 37-43 54-17 14-12 6-9 1-10-2-10-5-13-10-9-9-19-26-29-30zM839 2782l24-12 35-15 60-24 50-19 80-27 369-120 13 7-449 147-169 57z"/>
<path transform="translate(0 -342)" d="M593 2846l7 3 14-1-8 5zM614 2848l53-38 21-12 19-8 28-6 43-3 36-5 29-6 25-6-13 5-25 12-29 18-36 28-44 38-16 10-11 5-9 2-10 0-9-1-12-3-9-4-22-14-23-11zM855 2769l33-14 52-19 95-34 429-140 13 8-429 139-95 30-85 25z"/>
<path transform="translate(0 -337)" d="M599 2844l15-1 13-9-14 18zM627 2834l17-22 21-30 13-15 17-16 11-7 9-3 11-2 15 0 44 14 22 4 15 2 32 0 28-4-14 4-59 23-81 38-26 10-20 5-17 3-51 5zM868 2759l181-61 421-137 14 7-422 137-92 28-56 15-32 7z"/>
<path transform="translate(0 -331)" d="M606 2842l22-15 13-17-22 39zM641 2810l31-62 16-26 9-12 7-8 11-8 8-3 11 0 14 3 44 31 22 12 15 6 17 4 17 2 13 0 17-2-14 3-29 8-34 7-37 4-44 4-25 6-19 7-16 9-17 10-30 22zM879 2750l90-27 90-28 418-136 13 7-418 135-90 26-57 14-32 6z"/>
<path transform="translate(0 -325)" d="M613 2840l30-39 13-26-30 72zM656 2775l23-63 18-35 7-12 8-9 11-9 7-3 10 1 10 3 4 3 45 47 22 19 15 10 17 7 18 5 13 2 18-2-13 3-31 5-35 1-15-3-22-4-45-14-14 0-10 1-7 3-11 6-16 12-17 19-23 33zM889 2742l90-24 90-27 415-135 13 8-366 119-49 15-56 16-34 9-57 11-33 5z"/>
<path transform="translate(0 -319)" d="M619 2837l26-47 15-29 13-37-14 46-26 75zM673 2724l15-50 12-29 9-18 7-12 9-9 8-6 6-1 11 4 8 4 4 4 44 61 21 25 16 15 18 11 18 7 13 3 19 0-13 1-20 3-13 0-17-2-19-4-15-6-22-12-43-30-12-4-11 0-7 1-7 5-9 6-7 8-21 31-15 31zM898 2734l33-7 56-13 90-26 413-134 14 7-366 119-48 15-57 16-32 7-57 11-33 4z"/>
<path transform="translate(0 -313)" d="M626 2835l29-69 19-52 13-43-18 73-30 99zM687 2671l11-37 12-32 9-20 6-10 10-10 5-4 7 0 5 2 7 4 5 4 5 6 43 75 22 30 15 18 19 15 17 9 13 4 20 1-13 1-20 2-13-2-17-4-19-8-15-10-22-19-44-46-4-3-5-2-12-3-7 1-5 2-10 9-7 7-8 14-12 23-11 26zM905 2727l32-5 57-12 33-8 56-16 48-15 366-119 13 7-366 119-48 15-56 15-33 7-56 9-33 2z"/>
<path transform="translate(0 -307)" d="M633 2833l29-85 24-80 13-44-24 105-29 111zM699 2624l16-52 12-29 6-9 10-11 5-3 7 1 5 3 9 7 6 8 44 88 22 36 15 21 18 17 18 12 13 5 20 2-14 1-19 0-13-3-18-7-18-11-16-15-21-25-44-61-6-5-15-7-6 0-6 3-9 9-6 7-12 23-16 39zM911 2721l33-4 57-11 32-7 57-16 48-15 366-119 13 8-366 119-48 14-57 15-32 7-57 7-32 1z"/>
<path transform="translate(0 -301)" d="M639 2831l30-99 19-77 9-30 13-42-9 36-19 97-30 122zM710 2583l15-50 11-27 9-12 6-6 6-2 5 2 6 4 9 8 5 9 42 96 22 41 15 25 7 8 11 11 18 15 15 7 18 3-13-1-19-1-14-4-18-11-18-14-15-18-22-31-42-73-6-6-14-9-5-1-6 1-6 6-9 10-11 22-15 40zM917 2714l32-2 57-9 34-7 56-15 48-15 366-119 13 8-365 119-48 14-57 14-34 6-56 7-18 0-15 0z"/>
<path transform="translate(0 -296)" d="M646 2829l29-111 24-105 15-49 14-42-16 58-24 125-29 132zM728 2522l12-35 5-11 7-9 5-6 5-3 6 1 5 5 11 12 6 9 41 104 21 43 15 27 8 11 8 10 20 19 8 5 6 3 17 4-13-2-17-2-14-6-20-14-9-8-7-9-16-21-20-35-42-84-5-8-11-9-5-3-6-1-5 2-6 5-6 8-6 10-12 30zM921 2709l33-1 57-7 34-7 56-14 50-15 366-119 13 7-366 119-50 15-55 14-35 6-57 4-17 1-16-1z"/>
<path transform="translate(0 -290)" d="M652 2827l30-122 25-121 12-42 10-29 13-37-10 33-12 48-25 138-29 139zM742 2476l5-15 5-8 7-12 6-5 4-2 4 1 5 3 6 7 7 8 5 11 42 111 20 46 14 27 15 21 20 22 14 10 17 4-13-2-17-3-14-8-21-18-14-17-14-24-21-39-41-94-5-9-7-7-6-6-5-2-4-1-5 2-5 5-8 10-9 21zM925 2703l15 1 17 0 57-6 36-6 54-14 54-15 365-119 14 7-366 119-54 15-54 13-36 6-57 4-17-1-15-2z"/>
<path transform="translate(0 -284)" d="M659 2825l29-132 25-130 17-60 6-20 6-13 13-29-5 14-7 22-16 66-25 144-30 145zM755 2441l11-18 4-5 5-2 4 0 4 3 13 15 5 8 5 13 39 111 20 46 13 27 12 19 22 26 14 11 6 3 8 2-13-3-14-4-14-10-22-22-12-17-13-24-20-41-39-98-6-12-4-7-13-13-4-3-5 0-4 3-4 4-11 17zM927 2697l15 2 18 1 55-4 39-7 54-12 55-16 367-120 13 8-367 119-55 16-54 12-39 6-55 2-18-1-15-3z"/>
<path transform="translate(0 -278)" d="M666 2822l29-139 20-110 7-37 11-43 9-29 7-19 8-13 13-19-7 13-8 21-9 31-11 45-7 40-20 118-29 149zM770 2413l8-9 3-1 3 0 8 5 12 15 9 21 38 111 18 45 13 29 12 21 20 25 14 13 7 4 6 3-13-4-7-2-6-4-14-12-20-23-12-19-13-27-18-41-38-103-9-19-12-14-8-5-3 0-3 2-8 8zM928 2691l15 3 18 2 20-1 32-2 43-5 52-12 62-18 367-119 13 7-367 120-62 17-51 11-44 5-31 2-21 0-18-2-15-4z"/>
<path transform="translate(0 -272)" d="M672 2820l30-145 19-115 9-43 13-52 10-31 4-10 6-8 5-8 4-4 14-8-5 4-5 8-6 9-4 10-10 32-13 53-9 45-19 120-30 150zM786 2396l5-1 7 5 12 15 4 8 20 55 24 72 20 51 15 32 10 16 18 22 13 13 11 7-14-5-11-7-13-12-17-21-10-15-15-31-21-49-24-68-19-53-5-8-12-14-6-4-6 0zM931 2686l16 4 16 2 18 0 30-1 25-2 23-3 50-11 66-19 368-119 13 7-368 120-30 9-36 9-50 11-23 3-25 1-29 1-19 0-16-3-15-4z"/>
<path transform="translate(0 -266)" d="M679 2818l29-149 23-136 13-58 10-37 9-24 6-11 7-9 4-3 4 0 14 3-5 0-4 3-7 9-6 11-9 25-10 37-13 58-23 138-29 150zM798 2394l5 3 6 6 8 12 5 9 42 124 20 48 14 31 11 18 16 22 13 13 11 8-13-7-11-8-13-13-16-21-11-18-15-30-19-48-43-123-4-9-9-11-5-6-6-3zM936 2681l14 5 16 2 19 1 25-1 27-1 24-3 20-4 31-7 37-9 33-10 368-120 13 8-368 119-33 10-37 9-31 8-20 3-24 3-27 2-25 0-18-1-17-3-14-4z"/>
<path transform="translate(0 -260)" d="M685 2815l30-150 24-144 17-74 7-23 5-15 5-8 7-12 5-4 4-2 5 2 6 5 13 15-5-5-6-2-4 2-5 4-7 11-5 9-5 15-7 22-17 73-24 141-29 148zM813 2405l11 14 5 11 41 116 18 46 13 28 11 20 13 18 14 16 12 10-13-9-12-10-14-16-13-19-11-20-13-29-19-46-40-119-5-12-11-14zM938 2675l9 5 15 4 16 2 19 0 33-1 27-2 24-4 26-6 44-11 36-10 369-120 14 7-369 121-36 10-45 11-26 6-24 3-27 3-33 1-18 0-17-2-15-4-9-4z"/>
<path transform="translate(0 -255)" d="M692 2814l29-150 26-149 12-52 9-36 6-15 4-10 9-13 6-6 5 0 5 3 7 7 8 13 14 25-9-12-7-7-5-3-4 0-7 6-9 13-4 9-5 15-10 34-12 50-25 142-30 144zM832 2431l8 20 36 101 27 63 10 18 9 14 17 21 15 13-14-10-14-14-17-23-9-14-10-20-27-66-36-107-9-21zM940 2671l9 6 11 4 15 3 18 1 28 0 30-2 24-3 23-4 52-13 42-11 371-121 13 7-371 121-41 12-53 12-22 5-24 3-31 2-28 1-18-1-15-3-11-3-8-6z"/>
<path transform="translate(0 -249)" d="M699 2812l29-148 25-147 14-59 10-34 7-16 6-10 7-8 5-3 3 1 4 1 8 10 8 11 7 15 13 34-7-14-7-10-9-8-7-2-5 2-7 8-6 10-7 15-9 31-15 55-25 136-29 137zM845 2459l37 98 25 56 10 18 8 14 13 16 12 13-13-13-12-14-13-18-9-15-9-21-25-60-37-108zM937 2661l11 10 10 5 14 4 16 3 23 0 36-1 27-3 25-4 56-14 43-12 372-121 13 8-371 121-44 12-55 14-25 4-28 3-36 3-22 0-17-2-14-3-10-5-11-9z"/>
<path transform="translate(0 -243)" d="M705 2810l30-144 26-147 16-65 7-21 5-13 10-16 6-6 4-1 3 1 8 5 9 12 6 10 25 69 13 36-25-60-5-9-10-10-8-5-3-1-3 1-7 6-10 15-5 12-7 19-16 58-26 132-29 129zM873 2530l14 36 13 28 17 32 13 21-13-20-14-24-16-37-13-32-14-40zM917 2627l14 19 15 17 12 9 11 5 19 4 23 1 42-2 33-4 21-4 35-8 59-16 375-122 14 8-376 122-59 16-55 13-34 4-42 3-22 0-20-2-11-4-12-8-15-15-14-16z"/>
<path transform="translate(0 -237)" d="M712 2807l29-137 20-109 9-41 13-49 10-29 4-9 6-10 6-7 4-3 6 0 5 3 12 14 4 7 7 15 38 101 22 48 16 29 19 23 16 15 13 8 17 4 16 1 17 0 57-5 34-5 56-14 49-14 366-119 13 7-366 119-49 15-56 14-34 7-57 6-17 1-15-1-18-2-13-6-16-12-19-19-16-25-22-39-38-85-6-13-5-6-12-11-5-3-6 1-4 2-5 6-7 9-4 9-10 25-13 43-9 35-19 94-30 120z"/>
<path transform="translate(0 -231)" d="M719 2805l29-129 20-102 8-39 13-46 10-28 4-8 7-10 5-6 5-3 5 0 6 3 12 12 4 7 7 14 38 93 21 45 17 27 18 21 17 14 13 6 17 4 15 1 18-1 56-5 34-6 57-14 49-14 366-119 13 7-366 119-49 15-57 14-33 7-57 8-33 1-17-1-13-5-16-11-19-16-16-21-22-35-45-86-4-5-12-9-6-2-5 0-4 3-6 5-6 8-5 8-9 23-14 39-8 32-20 85-29 107z"/>
<path transform="translate(0 -225)" d="M725 2803l30-120 19-94 9-35 13-43 10-25 4-9 7-9 5-6 4-2 6-1 5 3 12 11 5 6 6 13 38 85 22 39 16 25 19 19 16 12 13 6 18 2 15 1 17-1 57-6 34-7 56-14 49-15 366-119 13 8-365 119-49 14-57 16-34 7-56 9-33 3-17-1-14-3-16-9-18-13-17-18-21-29-45-73-4-4-12-8-6-1-5 0-5 3-5 5-7 7-4 7-10 21-13 34-9 28-19 74-30 95z"/>
<path transform="translate(0 -219)" d="M732 2800l29-107 20-85 8-32 14-39 9-23 5-8 6-8 6-5 4-3 5 0 6 2 12 9 4 5 45 86 22 35 16 21 19 16 16 11 13 5 17 1 33-1 57-8 33-7 57-14 49-15 366-119 13 7-366 119-49 15-56 16-34 8-57 11-32 4-18 0-13-2-16-6-19-10-16-14-22-23-45-58-4-4-12-5-5-1-6 0-10 7-6 7-4 5-10 18-13 29-9 24-20 63-29 81z"/>
<path transform="translate(0 -214)" d="M738 2799l30-95 19-74 9-28 13-34 10-21 4-7 7-7 5-5 5-3 5 0 6 1 12 8 4 4 45 73 21 29 17 18 18 13 16 9 14 3 17 1 33-3 56-9 34-7 57-16 49-14 365-119 14 7-366 119-49 15-57 17-34 8-56 13-33 5-17 2-13-1-17-4-18-7-16-9-22-17-45-42-4-3-12-3-6-1-5 1-10 6-11 11-10 14-13 24-8 19-20 51-29 65z"/>
<path transform="translate(0 -208)" d="M745 2797l29-81 20-63 9-24 13-29 10-18 4-5 6-7 10-7 6 0 5 1 12 5 4 4 45 58 22 23 16 14 19 10 16 6 13 2 18 0 32-4 57-11 34-8 56-16 49-15 366-119 13 8-415 134-90 26-57 15-32 7-18 2-13 1-16-1-19-3-16-6-22-9-44-26-17-3-10 2-10 5-11 8-10 11-13 18-9 15-19 38-30 49z"/>
<path transform="translate(0 -202)" d="M752 2794l29-65 20-51 8-19 13-24 10-14 11-11 10-6 5-1 6 1 12 3 4 3 45 42 22 17 16 9 18 7 17 4 13 1 17-2 33-5 56-13 34-8 57-17 49-15 366-119 13 7-415 135-90 28-90 24-30 6-35 3-16-1-22-3-45-9-16 1-11 2-10 5-11 6-22 20-29 34-29 33z"/>
<path transform="translate(0 -196)" d="M758 2792l30-49 19-38 9-15 13-18 10-11 11-8 10-5 10-2 17 3 44 26 22 9 16 6 19 3 16 1 13-1 18-2 32-7 57-15 90-26 415-134 13 7-414 135-180 57-65 18-83 17-27 7-21 8-23 11-58 31z"/>
<path transform="translate(0 -190)" d="M765 2790l29-33 29-34 22-20 11-6 10-5 11-2 16-1 45 9 22 3 16 1 35-3 30-6 90-24 90-28 415-135 13 8-415 135-90 30-89 32-31 11-35 16-38 21-44 26-28 12-20 4-23 2-28-4-30-2z"/>
<path transform="translate(0 -184)" d="M771 2788l58-31 23-11 21-8 27-7 83-17 65-18 180-57 414-135 14 8-415 135-90 32-90 34-30 15-35 22-16 13-22 20-45 43-16 11-11 6-10 1-11 0-10-2-13-6-8-6-20-16-29-19z"/>
<path transform="translate(0 -179)" d="M778 2786l30 2 28 4 23-2 20-4 28-12 44-26 38-21 35-16 31-11 89-32 90-30 415-135 13 7-414 136-91 33-56 23-33 15-18 9-13 8-16 13-18 16-17 18-22 26-44 61-17 14-10 6-10 1-11-2-10-6-13-11-9-11-19-30-30-35z"/>
<path transform="translate(0 -173)" d="M798 2791l8 13-14-15-7-5zM792 2789l23 15 22 18 11 5 11 5 8 2 11-1 9-2 11-5 15-11 45-43 22-20 16-13 35-22 30-15 90-34 90-32 415-135 13 7-366 119-49 17-56 20-34 14-57 25-33 16-17 11-13 10-16 15-19 20-16 22-22 33-45 77-15 17-5 4-6 3-8 1-11-3-9-7-11-14-11-16-22-47-22-41z"/>
<path transform="translate(0 -167)" d="M805 2789l15 33-13-23-16-17zM807 2799l16 21 21 31 13 14 9 7 8 4 11 1 9-1 11-6 15-14 44-61 22-26 17-18 18-16 16-13 13-8 18-9 33-15 56-23 91-33 414-136 14 8-366 119-49 17-57 21-34 14-56 27-33 18-17 11-13 11-17 18-18 23-17 26-21 40-45 93-4 6-11 13-6 5-5 4-4 1-5-1-11-5-7-8-10-15-13-25-21-58-16-39z"/>
<path transform="translate(0 -161)" d="M811 2787l24 65-13-31-24-42zM822 2821l9 17 19 42 6 9 9 13 9 10 8 5 11 3 7-1 6-3 5-4 15-17 45-77 22-33 16-22 19-20 16-15 13-10 17-11 33-16 57-25 34-14 56-20 49-17 366-119 13 7-366 119-49 18-56 21-34 15-57 28-32 20-18 12-13 12-16 20-19 27-16 30-22 46-44 107-5 7-11 15-5 6-5 3-4 1-4-1-11-5-8-9-8-16-10-21-6-14-19-66-9-26z"/>
<path transform="translate(0 -155)" d="M818 2784l26 83 14 53-13-46-14-38-26-59zM845 2874l15 40 19 32 6 7 6 4 9 3 8-1 5-4 6-5 14-18 45-93 21-40 16-24 17-23 18-19 13-11 18-12 33-18 56-27 34-14 57-21 49-17 366-119 13 7-366 119-49 17-57 23-33 15-57 30-33 20-18 14-13 14-18 24-17 29-15 31-22 51-45 120-4 9-10 15-5 6-6 5-3 1-4 0-10-6-6-6-6-11-19-44-15-57z"/>
<path transform="translate(0 -149)" d="M824 2782l30 105 18 81-13-50-18-62-30-81zM859 2918l10 28 12 25 9 15 6 7 7 3 6 2 6-1 5-4 6-6 9-14 5-7 44-107 22-46 15-28 18-26 17-21 13-13 19-13 32-20 57-28 34-15 56-21 49-18 366-119 13 8-365 119-49 17-57 23-34 16-56 31-33 21-19 15-13 15-17 26-17 31-16 34-21 56-45 132-4 10-10 16-6 7-5 5-6 1-6-3-7-5-6-9-9-20-12-33-10-36z"/>
<path transform="translate(0 -143)" d="M831 2780l29 115 24 112-13-49-24-92-29-94zM871 2958l16 42 7 13 5 9 6 5 10 5 5-1 7-5 14-19 6-13 44-118 24-56 17-34 22-33 19-23 21-17 29-18 43-23 36-18 35-14 53-21 34-11 365-119 13 7-365 119-33 12-54 21-35 15-36 19-43 25-28 20-15 12-7 7-9 11-10 15-21 38-18 40-24 66-43 139-7 15-14 23-7 6-5 0-10-7-5-6-6-11-6-16-17-52z"/>
<path transform="translate(0 -138)" d="M838 2779l29 123 20 99 7 33-13-44-8-28-19-86-30-105zM881 2990l16 44 6 12 5 8 9 7 6 2 6-2 5-5 15-22 5-12 44-130 23-61 18-37 22-36 17-23 20-17 27-19 43-25 39-19 26-12 62-24 36-13 364-118 14 7-365 119-36 13-62 25-26 11-38 21-44 26-27 20-12 11-8 8-17 26-22 40-17 43-24 69-44 147-5 14-14 25-6 6-5 1-7-2-9-9-5-10-5-13-17-52z"/>
<path transform="translate(0 -132)" d="M844 2776l30 129 24 126 14 51-13-41-15-45-24-112-29-115zM899 3041l12 30 5 8 5 5 7 4 4 0 6-4 6-8 11-19 6-13 43-139 22-60 16-39 21-38 18-28 16-15 24-19 41-25 46-25 27-13 61-24 41-15 365-119 13 8-364 119-42 14-61 25-27 13-46 26-41 27-24 20-8 7-7 10-19 30-21 41-16 43-22 67-43 153-6 14-11 20-6 10-5 3-5 0-6-5-6-5-5-9-12-34z"/>
<path transform="translate(0 -126)" d="M851 2774l29 133 25 135 12 44 10 30-13-34-10-27-12-41-25-124-29-123zM914 3082l4 10 5 7 7 7 6 2 4 0 4-3 10-15 9-16 5-15 43-144 22-63 15-39 19-39 19-29 13-16 23-19 35-23 53-31 30-14 59-24 45-16 365-119 13 8-365 118-44 16-59 25-31 15-53 31-35 24-23 20-13 17-18 31-20 41-15 42-22 68-42 154-6 15-9 18-9 15-5 3-4 1-6-3-7-8-5-7-4-11z"/>
<path transform="translate(0 -120)" d="M857 2772l30 135 25 137 15 56 7 20 5 12-13-24-6-12-6-19-15-53-25-131-30-129zM926 3108l4 6 8 7 4 2 5 0 4-3 4-6 12-22 5-10 5-17 40-142 21-64 15-40 19-39 18-32 13-17 22-19 34-24 55-32 32-16 58-23 45-17 366-119 13 7-365 119-46 17-58 24-31 16-56 33-18 12-16 12-21 20-13 17-19 33-18 40-16 43-20 66-41 148-5 18-4 10-12 23-5 6-4 3-5 0-4-2-7-7-5-7z"/>
<path transform="translate(0 -114)" d="M864 2769l30 136 18 104 8 37 18 65 7 17 6 10-13-13-7-10-6-17-19-64-7-37-19-102-29-133zM938 3125l10 7 4 1 3-2 8-10 12-23 10-29 39-142 21-65 15-42 18-40 19-32 13-18 21-19 15-11 17-12 57-34 33-16 56-23 47-17 366-119 13 7-366 119-47 17-56 24-33 16-56 34-18 12-15 11-21 20-13 17-18 33-19 40-15 43-21 66-39 144-10 30-12 23-7 10-4 1-4 0-10-8z"/>
<path transform="translate(0 -108)" d="M871 2767l29 134 20 108 8 40 13 45 9 24 5 8 3 4 6 6 6 3-13-2-6-3-6-6-4-4-4-8-9-25-13-46-9-40-19-110-30-135zM957 3137l5-2 7-8 8-16 8-17 8-25 38-141 21-69 17-45 18-39 17-29 13-17 17-17 15-12 18-12 56-34 34-17 57-24 49-18 365-119 14 8-366 119-49 18-57 23-33 17-57 34-17 12-16 12-17 17-13 17-17 28-18 39-16 44-22 68-38 139-8 25-8 17-8 16-7 8-5 2z"/>
<path transform="translate(0 -102)" d="M877 2765l30 129 23 121 12 46 10 34 9 18 6 6 6 5 5 1 4-2-13 10-5 2-4-2-7-5-5-6-9-20-11-35-12-48-22-126-30-136zM969 3133l4-5 5-9 10-19 5-12 44-162 22-70 15-41 18-38 17-31 13-18 19-18 15-12 17-12 57-34 34-17 56-24 49-18 366-119 13 7-365 119-49 18-57 24-34 17-56 33-18 12-15 12-19 17-13 18-17 30-18 36-15 40-22 67-44 156-5 11-9 19-6 9-4 4z"/>
<path transform="translate(0 -97)" d="M884 2763l29 124 24 120 17 56 11 27 4 7 5 5 7 4 4 1 5-3 5-6-13 20-6 7-4 3-4-1-7-5-5-5-5-8-11-29-16-61-24-129-29-134zM982 3118l13-25 5-14 43-154 22-69 15-42 17-37 19-33 13-18 18-18 16-12 17-12 57-34 33-17 57-23 49-18 366-119 13 7-366 119-49 18-56 23-34 17-57 33-17 11-15 12-19 17-13 16-19 32-17 35-15 39-22 65-42 144-6 13-13 24z"/>
<path transform="translate(0 -91)" d="M891 2761l29 116 25 117 12 38 10 26 5 11 5 6 8 6 4 1 3 0 4-2 6-7 14-24-13 29-15 27-5 6-4 3-4 0-3-2-9-7-4-7-5-12-10-29-12-43-25-131-30-129zM1003 3078l8-26 39-139 21-64 14-38 18-37 19-34 14-19 20-18 15-12 18-11 56-34 33-16 57-23 48-18 365-119 14 8-366 119-48 17-57 23-32 16-57 31-33 22-19 17-14 17-20 32-17 34-15 35-20 58-40 126-8 24z"/>
<path transform="translate(0 -85)" d="M897 2759l30 106 25 107 13 38 9 23 6 9 4 5 9 5 3 1 4-1 5-4 8-10 9-17 6-12-13 36-6 15-10 19-7 11-6 4-3 1-3-1-9-7-4-5-6-11-10-27-13-44-25-125-29-124zM1015 3045l41-140 22-65 15-39 19-37 18-31 13-17 22-19 34-23 55-32 32-15 57-23 46-17 366-119 13 7-366 120-45 16-58 23-32 14-55 30-34 22-22 17-13 15-18 28-19 33-15 35-22 56-41 125z"/>
<path transform="translate(0 -79)" d="M904 2757l29 94 25 96 15 39 7 14 5 9 6 5 6 3 5 2 5-1 7-6 8-12 9-15 19-48-14 38-18 57-9 17-8 14-7 6-5 1-5-2-6-4-6-7-5-11-7-16-15-48-25-117-29-116zM1036 2975l29-91 23-64 16-38 21-37 16-24 14-15 24-19 40-25 47-25 29-13 59-24 43-16 365-118 13 7-365 119-42 15-60 23-29 12-46 24-41 23-24 17-14 14-16 20-21 33-16 32-23 54-28 78z"/>
<path transform="translate(0 -73)" d="M910 2754l30 82 18 64 8 22 17 37 7 11 5 5 10 5 7 0 7-5 9-10 8-11 5-11 28-69-13 38-28 85-6 12-7 14-9 12-4 4-4 2-6-1-10-7-5-8-7-13-17-48-8-30-18-81-30-106zM1056 2912l13-40 22-56 14-33 13-24 19-30 15-19 18-17 24-16 44-25 40-21 25-11 63-25 37-13 365-119 13 8-364 119-37 12-63 24-26 11-40 19-43 23-24 15-19 14-15 16-19 25-13 20-14 27-22 46-13 32z"/>
<path transform="translate(0 -67)" d="M917 2752l29 68 20 56 8 18 12 21 8 13 8 7 9 3 6 1 7-4 7-7 12-15 9-16 35-75 14-27-13 28-14 35-35 97-9 20-12 19-7 9-7 4-7-2-8-5-8-10-9-18-12-30-7-26-20-77-29-94zM1088 2823l16-37 13-25 21-33 16-20 12-12 22-16 22-13 33-19 31-15 27-12 87-34 387-126 13 8-386 126-88 32-57 25-56 28-22 14-12 10-16 16-21 26-13 20-16 29z"/>
<path transform="translate(0 -61)" d="M924 2750l29 53 20 43 8 16 12 16 9 9 8 5 11 2 5-1 7-4 8-8 10-11 45-78 30-47-13 22-31 63-37 91-7 17-10 15-9 10-6 5-6 0-11-4-7-8-9-15-12-25-9-25-19-67-30-82zM1113 2767l12-21 17-24 14-18 14-12 18-13 22-14 37-19 35-17 45-19 77-28 377-123 14 7-378 123-76 27-46 18-72 32-22 12-18 10-13 10-14 14-18 18-12 15z"/>
<path transform="translate(0 -56)" d="M930 2748l30 37 19 31 9 11 13 12 9 6 7 2 12 0 6-2 6-4 17-14 42-59 15-19 21-24 19-18-14 14-18 25-21 36-15 29-35 75-8 14-16 21-6 5-6 2-5-1-7-2-7-6-9-11-13-23-9-20-20-56-29-68zM1141 2721l14-16 12-12 10-8 15-10 21-12 28-15 38-17 30-13 58-22 48-17 373-121 13 7-373 122-106 37-67 27-49 22-25 14-26 20z"/>
<path transform="translate(0 -50)" d="M937 2746l29 20 20 18 9 6 13 6 9 3 10 0 10-1 11-5 16-11 44-44 22-20 19-16 24-16-13 10-24 26-20 26-21 35-44 76-16 17-6 4-5 3-10-1-5-1-5-3-10-10-13-17-8-16-20-43-29-53zM1160 2696l22-18 29-17 59-27 53-22 99-36 373-121 13 8-372 121-100 34-53 19-59 23-29 13-22 13z"/>
<path transform="translate(0 -44)" d="M944 2744l29 3 28 5 23 0 20-5 26-11 72-43 18-10 32-14-13 7-15 11-17 15-19 19-27 34-36 51-8 10-16 13-11 6-9 0-10-2-10-6-13-12-9-11-19-31-30-37zM1179 2676l19-11 33-16 59-25 46-18 94-32 371-121 14 7-465 152-106 37-52 20z"/>
<path transform="translate(0 -38)" d="M937 2734l5 4 14 1-6 2zM956 2739l54-26 21-9 20-8 28-8 78-18 52-14-13 5-24 13-28 20-35 31-44 44-16 11-11 5-10 2-11 0-8-3-12-5-10-6-21-19-24-16zM1196 2661l32-14 47-19 98-35 435-142 13 7-434 141-178 57z"/>
<path transform="translate(0 -32)" d="M944 2732l11 1 14-6-12 12zM969 2727l18-20 22-26 12-12 18-14 20-10 11-2 15-1 44 7 37 3 31-2 26-5-13 4-26 11-31 15-37 21-44 27-26 12-20 4-18 1-12-1-22-4-19-2zM1210 2649l88-31 93-32 424-138 13 8-424 137-92 28-89 24z"/>
<path transform="translate(0 -26)" d="M950 2729l20-9 13-14-20 31zM983 2706l12-21 21-39 14-20 10-12 7-8 11-7 8-3 11-2 15 3 44 24 22 10 15 4 17 3 17 1 13 0 16-3-14 4-62 17-81 19-27 8-35 14-47 22zM1222 2640l180-58 419-136 13 7-419 136-90 26-57 15-32 6z"/>
<path transform="translate(0 -20)" d="M957 2727l26-27 13-22-26 57zM996 2678l26-65 18-33 7-12 8-9 11-8 7-4 6 0 5 1 10 3 4 2 45 41 22 16 15 9 18 6 17 4 13 1 17-1-13 2-30 6-35 3-37-2-45-8-14 1-11 2-18 8-16 12-17 16-26 31zM1232 2631l89-25 91-27 416-135 13 7-366 119-50 16-55 16-35 9-57 12-33 6z"/>
<path transform="translate(0 -15)" d="M963 2726l22-35 15-27 14-34-16 45-21 58zM1014 2630l17-54 20-43 6-11 7-8 11-9 7-3 10 3 9 4 4 3 45 57 21 23 16 13 18 10 18 6 13 2 18 0-13 1-19 3-13 1-17-1-19-3-15-4-22-10-44-24-13-2-10 0-8 2-11 7-13 12-19 27-18 32zM1241 2624l33-7 56-14 91-26 413-135 14 8-366 119-48 15-57 15-34 9-56 10-33 5z"/>
<path transform="translate(0 -9)" d="M970 2724l29-64 17-42 13-42-16 61-30 94zM1029 2576l12-40 12-31 9-19 6-11 10-10 6-5 7 0 5 2 7 4 5 4 5 4 43 71 22 28 15 17 19 13 17 9 13 4 20 0-13 1-20 2-13-1-17-3-19-7-15-9-22-16-43-40-10-5-12-2-7 1-6 3-10 8-7 8-8 13-12 22-12 27zM1249 2617l32-5 57-13 33-8 56-17 48-15 366-119 13 8-366 119-48 14-56 15-33 8-56 9-33 3z"/>
<path transform="translate(0 -3)" d="M977 2721l29-79 20-62 6-22-19 73-30 94zM1032 2558l7-22 8-24 9-21 8-15 5-8 10-10 5-4 7 0 5 2 7 4 5 4 5 4 43 71 22 28 15 17 19 13 18 10 13 3 20 0-7 0-19 1-13-2-19-6-18-10-16-13-21-23-44-56-4-3-6-3-12-5-6 1-6 3-9 9-6 7-7 13-9 18-9 20-6 19zM1256 2610l33-4 57-11 32-8 57-16 47-14 366-119 6 4-366 119-46 14-57 15-33 8-56 9-33 3z"/>
</g>
</g>
<path class="bx" d="M160.8 1381.3L491.6 1566.3M491.6 1566.3L927.1 1424.6M160.8 1381.3L160.8 976.3M927.1 1424.6L927.1 1019.6M491.6 1566.3L491.6 1161.3M160.8 976.3L491.6 1161.3M491.6 1161.3L927.1 1019.6M160.8 976.3L596.3 834.6M596.3 834.6L927.1 1019.6M491.6 1566.3L501.2 1571.7M636.8 1519.1L646.4 1524.4M781.9 1471.8L791.5 1477.2M927.1 1424.6L936.7 1430.0M425.4 1529.3L415.0 1532.7M293.1 1455.3L282.7 1458.7M160.8 1381.3L150.3 1384.7M160.8 1332.5L151.2 1327.1M160.8 1176.0L151.2 1170.6M160.8 1019.5L151.2 1014.1"/>
<text class="t" x="524.6" y="1623.7" text-anchor="middle">0</text>
<text class="t" x="669.8" y="1576.5" text-anchor="middle">2</text>
<text class="t" x="814.9" y="1529.3" text-anchor="middle">4</text>
<text class="t" x="960.1" y="1482.0" text-anchor="middle">6</text>
<text class="t" x="385.4" y="1582.7" text-anchor="middle">0</text>
<text class="t" x="253.1" y="1508.7" text-anchor="middle">2</text>
<text class="t" x="120.8" y="1434.7" text-anchor="middle">4</text>
<text class="t" x="132.8" y="1339.4" text-anchor="end">-0.05</text>
<text class="t" x="132.8" y="1182.9" text-anchor="end">0</text>
<text class="t" x="132.8" y="1026.4" text-anchor="end">0.05</text>
<text class="i" x="311.0" y="1628.0" text-anchor="middle">z</text>
<text class="i" x="700.0" y="1640.0" text-anchor="middle">x</text>
<text class="y" transform="translate(32.6 1174.0) rotate(-90)" text-anchor="middle" textLength="242" lengthAdjust="spacingAndGlyphs">Displacment (u)</text>
</g>
<g>
<path class="mn" d="M1520.4 1543.7L1176.2 1367.3M1176.2 1367.3L1176.2 976.3M1557.8 1532.6L1213.7 1356.2M1213.7 1356.2L1213.7 965.2M1595.2 1521.5L1251.1 1345.1M1251.1 1345.1L1251.1 954.1M1670.2 1499.3L1326.0 1322.9M1326.0 1322.9L1326.0 931.9M1707.6 1488.2L1363.5 1311.9M1363.5 1311.9L1363.5 920.9M1745.0 1477.2L1400.9 1300.8M1400.9 1300.8L1400.9 909.8M1820.0 1455.0L1475.8 1278.6M1475.8 1278.6L1475.8 887.6M1857.4 1443.9L1513.3 1267.5M1513.3 1267.5L1513.3 876.5M1894.8 1432.8L1550.7 1256.4M1550.7 1256.4L1550.7 865.4M1448.5 1537.2L1897.9 1404.1M1897.9 1404.1L1897.9 1013.1M1379.7 1501.9L1829.1 1368.8M1829.1 1368.8L1829.1 977.8M1345.3 1484.2L1794.7 1351.1M1794.7 1351.1L1794.7 960.1M1310.8 1466.6L1760.2 1333.5M1760.2 1333.5L1760.2 942.5M1242.0 1431.3L1691.4 1298.2M1691.4 1298.2L1691.4 907.2M1207.6 1413.7L1657.0 1280.6M1657.0 1280.6L1657.0 889.6M1173.2 1396.0L1622.6 1262.9M1622.6 1262.9L1622.6 871.9"/>
<path class="mj" d="M1632.7 1510.4L1288.6 1334.0M1288.6 1334.0L1288.6 943.0M1782.5 1466.1L1438.4 1289.7M1438.4 1289.7L1438.4 898.7M1414.1 1519.5L1863.5 1386.4M1863.5 1386.4L1863.5 995.4M1276.4 1449.0L1725.8 1315.9M1725.8 1315.9L1725.8 924.9M1138.8 1351.0L1588.2 1217.9M1588.2 1217.9L1932.3 1394.3M1138.8 1179.5L1588.2 1046.4M1588.2 1046.4L1932.3 1222.8M1138.8 1008.0L1588.2 874.9M1588.2 874.9L1932.3 1051.3"/>
<path class="bx" d="M1138.8 1378.4L1588.2 1245.3M1588.2 1245.3L1932.3 1421.7M1588.2 1245.3L1588.2 854.3"/>
<g class="s">
<defs><linearGradient id="md" gradientUnits="userSpaceOnUse" x1="2965.8" y1="3091.7" x2="2758.9" y2="2393.0"><stop offset="0" stop-color="#3e26a8"/><stop offset="0.063" stop-color="#4537d5"/><stop offset="0.095" stop-color="#4741e5"/><stop offset="0.143" stop-color="#4852f4"/><stop offset="0.19" stop-color="#4563fd"/><stop offset="0.222" stop-color="#3e6fff"/><stop offset="0.254" stop-color="#327cfc"/><stop offset="0.286" stop-color="#2e87f7"/><stop offset="0.317" stop-color="#2b91ef"/><stop offset="0.397" stop-color="#1ca9df"/><stop offset="0.413" stop-color="#18addb"/><stop offset="0.429" stop-color="#12b1d6"/><stop offset="0.444" stop-color="#08b5d0"/><stop offset="0.46" stop-color="#01b8ca"/><stop offset="0.476" stop-color="#02bac3"/><stop offset="0.492" stop-color="#0bbdbd"/><stop offset="0.524" stop-color="#24c1ae"/><stop offset="0.556" stop-color="#31c69f"/><stop offset="0.587" stop-color="#3fca8e"/><stop offset="0.635" stop-color="#64cd6f"/><stop offset="0.698" stop-color="#9dc943"/><stop offset="0.73" stop-color="#b9c431"/><stop offset="0.746" stop-color="#c5c22a"/><stop offset="0.762" stop-color="#d1bf27"/><stop offset="0.778" stop-color="#dcbd29"/><stop offset="0.794" stop-color="#e6bb2d"/><stop offset="0.825" stop-color="#f8ba3d"/><stop offset="0.841" stop-color="#febe3c"/><stop offset="0.889" stop-color="#fccf30"/><stop offset="0.937" stop-color="#f5e327"/><stop offset="0.984" stop-color="#f7f51b"/><stop offset="1" stop-color="#f9fb15"/></linearGradient></defs>
<g transform="scale(0.5)" fill="url(#md)">
<path transform="translate(0 -554)" d="M2278 3088l2-79 7-120 5-75 6-49 5-25 9-24 14-40 15-30 9-21 2-3 2 1 14 28-4-7-1 0-2 1-18 33-6 13-12 38-10 23-5 18-5 45-5 57-6 117-3 79zM2368 2651l5 29 13 92 6 38-13-63-6-28-12-74-4-14-3-8zM2379 2747l27 104 10 44 14 65-9-39-29-111zM2430 2960l21 101 13 53-13-50-13-56-22-113zM2451 3064l10 34 4 9 6 7 5 2 7-1 7-6 6-8 12-30 24-71 13-46 43-154 15-50 13-34 13-30 7-11 7-7 5-4 7-2 7 1 7 5 13 14-8-8-6-4-8-1-7 3-7 6-7 11-8 15-8 18-13 34-14 46-15 52-32 123-26 91-10 33-9 23-6 9-6 8-5 4-5 1-4-2-5-6-4-10-5-14zM2682 2682l8 11 9 16 37 81 17 31-14-23-12-24-37-77-11-18-10-11zM2739 2798l15 22 8 9 7 5 6 4 8 3 7 0 8-2 7-3 7-5 16-15 18-22 44-61 22-29 21-21 9-7 9-5 7-3 9-2 8 0 9 1 17 6 34 19 16 7 15 4 16 0 16-4 18-8 14-9 35-26 11-7 14 4-12 8-37 28-17 11-18 9-17 4-16 0-17-5-14-7-33-18-15-7-8-1-8-1-8 1-8 3-9 4-10 7-10 9-11 12-25 31-55 77-15 17-13 12-8 4-8 2-8 0-7-1-6-4-8-7-8-9-8-11z"/>
<path transform="translate(0 -548)" d="M2284 3073l3-80 6-119 6-72 6-44 4-18 9-22 16-47 20-40 2-3 3-1 13 27-2-4-1-1-2 1-17 29-6 13-13 40-10 20-5 18-5 46-5 59-6 96-2 80zM2372 2654l6 27 15 116 6 39-13-64-7-36-13-83-4-20-3-6zM2386 2772l27 106 10 44 13 64-37-150zM2436 2986l20 87 13 51-14-49-12-54-20-99zM2455 3075l10 33 5 9 5 7 6 1 6-2 6-7 6-9 6-12 6-19 23-72 13-47 42-152 16-51 13-38 15-32 7-11 6-8 7-4 6-2 6 2 7 4 14 15-7-8-7-4-6-1-6 1-6 3-6 8-7 10-7 12-17 42-19 59-72 271-8 27-6 20-7 15-7 11-5 7-5 2-4-1-5-5-4-9-6-16zM2686 2680l8 11 9 16 37 82 18 33-14-23-13-25-38-79-11-18-10-12zM2744 2799l15 22 6 8 7 6 7 4 7 2 6 0 8-1 7-3 8-6 16-15 16-20 44-62 23-29 20-21 10-9 9-5 9-4 8-2 9 0 9 1 17 7 33 18 16 8 16 4 16 0 15-3 18-9 15-9 37-28 12-8 14 4-15 10-38 29-17 11-18 9-15 4-16 0-17-5-15-7-33-19-16-6-8-2-8 0-8 1-7 2-11 5-10 7-10 9-11 13-26 32-54 77-14 17-13 11-8 4-7 3-8 0-7-2-8-5-7-5-6-8-8-12z"/>
<path transform="translate(0 -543)" d="M2291 3057l3-79 6-117 5-57 5-45 5-18 10-23 16-46 19-36 2-3 2 0 14 27-2-4-1 0-2 1-15 23-7 15-13 39-4 7-6 10-5 14-6 41-4 56-6 93-2 79zM2378 2660l6 29 14 126 9 54-13-65-8-43-14-99-4-22-4-7zM2394 2804l27 106 10 44 13 63-37-148zM2444 3017l17 74 13 44-14-48-11-47-18-86zM2460 3087l10 33 4 8 6 6 5 1 5-3 6-6 7-11 7-19 9-27 30-103 42-160 15-48 13-38 8-20 8-16 7-11 7-8 6-5 7-2 7 1 7 5 13 14-6-7-7-4-7-2-5 2-7 4-7 8-7 10-6 13-9 21-9 24-20 61-16 63-54 212-14 44-12 27-6 8-4 2-5 0-4-5-5-9-5-15zM2689 2678l8 12 9 16 37 83 18 34-13-23-14-26-37-80-11-19-10-11zM2748 2800l14 23 7 7 7 6 6 4 7 2 7 1 8-2 6-3 7-5 16-15 17-21 42-60 24-31 21-23 10-8 9-6 9-4 8-1 9-1 9 2 17 6 35 20 15 6 16 5 16 0 16-4 18-9 17-11 37-28 12-8 14 4-17 11-39 31-17 11-18 9-16 4-16 0-16-5-15-7-33-19-16-7-9-2-8 0-8 1-8 3-10 5-10 7-11 11-12 12-26 34-51 75-15 17-12 11-8 4-8 3-8 0-7-2-7-4-7-6-7-8-8-12z"/>
<path transform="translate(0 -537)" d="M2298 3040l2-80 6-96 5-59 5-46 5-18 10-20 18-51 17-29 2-3 2 1 14 28-2-4-1 0-3 1-13 19-7 15-13 38-5 8-7 7-4 14-5 31-4 52-6 89-2 78zM2384 2667l2 8 4 20 15 145 5 32 4 24-14-65-7-45-16-123-3-17-4-7zM2400 2831l27 106 11 43 13 61-10-41-18-66-9-38zM2451 3041l14 57 10 36-14-49-23-105zM2461 3085l11 39 6 12 4 6 5 2 6-2 5-7 7-11 8-18 9-28 71-267 14-49 15-42 16-36 6-12 7-8 7-6 7-2 6 0 8 5 14 15-8-8-8-5-8 0-8 5-7 8-8 12-9 18-9 22-16 46-17 60-66 267-10 32-10 25-5 8-4 5-5 2-3-2-4-4-4-8-9-25zM2693 2676l8 12 9 17 38 86 18 34-14-23-13-26-39-84-11-19-10-12zM2752 2802l15 22 6 8 7 5 7 4 7 2 6 0 7-2 7-3 7-5 14-14 17-21 43-62 23-31 12-13 11-11 10-8 9-6 9-3 8-2 9 0 9 1 18 7 33 19 15 7 17 5 16 0 15-4 18-9 17-11 38-29 15-10 14 5-19 12-41 31-15 11-18 10-16 4-16 0-17-5-14-7-34-20-17-7-9-1-8-1-8 1-7 3-11 5-10 7-11 11-12 14-25 32-53 77-13 17-13 11-8 5-6 2-8 1-7-2-8-4-6-6-7-8-8-11z"/>
<path transform="translate(0 -532)" d="M2305 3023l2-79 6-93 4-56 6-41 5-14 6-10 4-7 13-39 6-13 14-24 4-2 2 2 14 31-2-6-2-1-2 1-11 14-8 15-16 42-3 4-6 3-2 2-2 5-2 9-5 31-4 54-5 70-2 76zM2391 2678l3 17 4 27 14 145 5 33 4 24-14-66-9-54-14-126-4-20-3-11zM2407 2858l37 148 14 59-10-39-17-60-10-42zM2458 3065l18 69-14-50-18-78zM2462 3084l13 43 5 15 5 8 4 3 5 0 5-5 6-9 11-26 9-28 68-264 15-54 15-44 9-22 8-17 8-13 7-9 6-5 7-3 7 1 8 5 13 15-9-9-7-4-8 0-8 5-8 9-9 14-9 19-9 23-16 47-18 66-30 123-32 135-11 38-10 27-4 8-5 4-4 1-4-2-4-7-5-9-10-29zM2696 2675l8 12 9 17 38 88 11 20 9 16-14-23-15-29-37-83-11-19-11-14zM2757 2805l8 13 8 10 7 8 7 5 8 3 8 0 8-2 8-4 13-11 15-17 54-78 25-33 12-12 11-11 10-7 10-5 8-2 8-1 8 0 8 2 16 7 33 19 15 7 16 5 16 0 16-4 18-9 17-11 39-31 17-11 14 5-22 13-41 33-16 11-18 10-16 4-15 0-17-5-15-7-34-20-16-7-9-2-8 0-9 1-8 3-10 5-11 8-12 11-12 14-25 33-50 76-14 16-12 12-8 5-7 2-8 1-6-1-7-4-7-5-7-8-7-11z"/>
<path transform="translate(0 -526)" d="M2312 3004l2-78 6-89 4-52 5-31 4-14 7-7 5-8 13-38 7-15 13-19 3-1 2 1 14 32-3-5-2 0-3 2-7 9-9 16-16 40-2 3-2 1-7-1-2 3-2 7-5 27-4 50-5 66-2 74zM2397 2685l3 16 3 27 16 165 5 33 4 24-14-65-4-24-5-32-15-145-4-20-3-11zM2414 2885l9 38 18 66 11 46 14 57-28-100-10-42zM2466 3092l11 41-13-51-12-47zM2464 3082l13 48 6 15 5 11 5 5 4 0 5-3 5-9 12-27 10-32 64-259 17-60 14-45 17-40 8-15 8-10 8-7 7-2 6 1 8 5 14 15-9-9-8-4-8 0-8 5-8 8-9 15-9 18-10 25-13 41-16 57-30 124-33 146-13 49-10 28-5 7-4 4-4 1-4-4-5-7-5-12-12-32zM2700 2673l8 12 9 17 39 91 10 21 9 16-14-23-15-32-37-84-12-20-11-13zM2761 2807l8 12 8 11 8 7 7 5 6 2 8 1 8-2 8-5 12-10 15-17 54-79 26-34 12-13 11-10 11-8 10-5 7-2 8-1 8 1 8 1 17 7 34 20 14 7 17 5 16 0 16-4 18-10 15-11 41-31 19-12 14 4-11 6-13 9-43 34-15 11-17 9-16 5-16 0-17-5-15-7-34-21-17-7-9-2-8 0-9 1-8 3-11 6-11 9-12 12-13 14-23 31-51 77-13 17-12 11-8 5-6 3-8 0-7-1-7-4-6-5-14-17z"/>
<path transform="translate(0 -520)" d="M2319 2985l2-76 5-70 4-54 5-31 2-9 2-5 2-2 6-3 4-7 14-36 7-15 12-17 2-1 3 1 13 33-2-3-3 0-12 13-5 11-13 31-4 8-3 2-6-4-2-1-2 3-3 6-4 27-4 37-4 62-2 72zM2402 2693l4 15 3 27 17 184 4 33 5 24-14-64-4-24-5-33-17-164-3-21-3-10zM2421 2912l10 42 17 60 14 53 13 53-29-99-11-45zM2475 3120l4 12-14-51-3-14zM2465 3081l15 52 6 18 6 11 4 6 5 1 4-3 6-8 10-26 12-41 31-130 29-120 17-62 16-50 9-24 9-20 7-14 8-11 8-7 8-3 7 1 8 4 13 16-9-10-7-3-8 0-9 5-8 9-9 15-10 21-9 23-15 45-16 58-27 114-32 152-15 55-10 28-4 7-4 3-4 0-5-4-5-9-6-12-12-36zM2703 2671l8 12 9 17 40 93 10 21 9 15-14-23-15-29-38-88-11-20-11-14zM2765 2806l8 13 8 11 8 8 6 4 7 3 8 0 8-2 8-4 12-11 15-18 52-79 25-32 12-14 12-10 11-9 10-5 8-2 8-1 8 0 9 2 16 7 34 20 15 7 17 5 15 0 16-4 18-10 16-11 41-33 22-13 13 5-11 6-14 9-44 36-16 11-17 9-16 5-15 0-17-5-15-7-35-21-16-8-9-2-9 0-8 1-9 3-11 7-12 9-12 12-12 14-24 32-49 77-14 17-11 11-8 5-7 3-6 1-7-1-7-4-7-5-6-7-8-12z"/>
<path transform="translate(0 -515)" d="M2326 2966l2-74 5-66 4-50 5-27 2-7 2-3 7 1 2-1 2-3 16-40 8-15 10-12 2 0 2 2 14 35-2-4-2-1-5 3-7 7-6 12-13 29-4 8-2 1-3-1-6-9-3 0-2 4-4 23-4 32-4 58-2 69zM2409 2706l4 17 3 30 17 193 4 33 5 24-14-64-6-31-4-36-16-165-3-24-4-12zM2428 2939l11 46 17 58 19 71 8 26 8 20 8 13 3 3 2 1 3-1 3-2 6-9 5-14 15-49 10-42 25-113 23-98 18-69 17-53 9-24 9-20 8-14 8-11 8-7 8-3 6 1 8 5 14 16-9-10-8-4-8 1-9 5-9 10-9 15-10 21-9 23-18 59-20 79-18 80-27 131-15 63-10 35-4 11-5 7-2 2-3 1-4-1-3-3-7-9-8-17-6-19-32-100-12-47zM2707 2670l8 12 9 17 40 97 10 21 9 15-13-23-16-32-38-89-12-20-11-14zM2770 2809l14 22 8 8 7 4 7 3 7 0 8-2 8-4 12-12 14-16 52-79 24-33 13-14 12-11 11-9 12-6 7-2 8-1 8 0 9 2 17 7 34 21 15 7 17 5 16 0 16-5 17-9 15-11 43-34 13-9 11-6 13 5-12 6-16 11-45 37-15 11-16 9-16 4-8 1-9 0-17-5-14-7-35-22-17-7-9-2-9-1-8 2-9 3-11 6-11 9-13 12-13 15-24 33-49 78-12 16-12 11-7 5-7 3-7 1-7-1-6-3-7-6-7-7-7-10z"/>
<path transform="translate(0 -509)" d="M2333 2946l2-72 7-88 2-19 3-19 3-6 1-2 2-1 14 14-4-4-2 2-3 11-3 14-6 75-3 66zM2367 2753l4 10-14-20-4-4zM2357 2743l4 1 4-5 15-36 8-14 6-8 4-3 2 1 2 3 14 37-2-5-2-2-4 1-4 4-5 5-4 7-17 36-3 2-4-4zM2416 2719l2 12 4 28 17 202 4 36 6 31-14-63-5-24-4-33-17-184-3-27-4-15zM2435 2965l12 49 15 47 18 64 8 23 8 19 7 12 4 3 2 1 2-1 4-3 4-7 6-13 12-43 11-47 26-122 22-92 19-74 17-55 8-24 9-20 9-16 8-10 8-7 8-3 8 2 8 5 14 16-9-10-9-5-8 0-9 5-9 10-9 14-10 21-9 24-18 58-22 86-15 71-27 136-16 70-9 32-5 12-3 6-2 2-4 2-3 0-3-2-7-7-8-15-8-20-28-83-13-48zM2712 2669l7 13 9 18 40 95 10 21 9 16-14-23-16-32-38-90-11-21-10-13zM2773 2809l15 22 8 8 6 5 7 2 8 1 8-3 8-4 12-12 13-17 51-78 25-33 12-14 12-12 12-9 11-6 8-3 9-1 8 0 9 2 16 8 35 21 15 7 17 5 15 0 16-5 17-9 16-11 44-36 14-9 11-6 14 4-13 7-16 11-47 38-16 12-16 9-15 4-16 1-17-5-16-8-35-22-17-7-9-2-9 0-8 1-9 3-12 7-11 8-12 12-14 16-23 33-49 78-13 18-11 11-7 4-7 3-6 1-7-1-7-3-7-6-6-7-7-10z"/>
<path transform="translate(0 -504)" d="M2340 2926l2-69 5-70 5-34 2-9 4-5 13 12-2-2-1 0-2 4-5 23-5 59-3 62zM2371 2751l8 21-14-23-5-8-2-2zM2365 2749l4 1 3-4 15-34 6-12 11-10 2 0 2 2 14 39-2-5-3-1-3 2-5 3-7 10-16 32-3 3-4-3zM2422 2731l3 16 4 31 16 208 5 37 6 29-14-60-5-24-4-33-18-204-4-26-3-13zM2442 2992l12 47 32 100 7 22 8 16 7 9 3 2 4 0 2-1 3-3 5-8 4-12 11-37 13-58 26-126 18-80 20-80 17-56 9-24 9-21 9-16 8-11 9-7 8-3 7 2 8 5 14 16-9-10-9-5-8 0-9 5-9 9-10 16-9 19-10 26-9 28-10 36-21 88-14 64-26 134-15 74-9 33-5 12-3 6-6 4-3 1-4-2-6-6-8-13-7-16-27-72-8-25-5-22zM2715 2668l8 13 9 18 39 96 10 22 10 18-13-23-16-32-39-94-12-21-10-13zM2778 2812l8 13 6 8 8 8 7 5 7 2 8 0 6-3 8-4 12-12 14-17 51-80 23-32 14-16 12-11 11-9 11-6 8-2 9-2 8 1 9 2 17 7 35 22 14 7 17 5 16 0 16-5 17-9 15-11 45-37 16-11 12-6 14 5-15 7-16 11-49 40-15 12-16 9-16 4-16 1-16-5-15-8-36-22-18-8-9-2-9 0-9 2-9 3-11 6-13 10-12 13-12 14-23 32-49 81-12 16-12 12-6 4-7 3-7 1-7-1-5-2-7-5-7-8-7-9z"/>
<path transform="translate(0 -498)" d="M2346 2906l3-66 5-65 5-29 2-6 2-2 14 11-2-2-2 1-3 6-2 12-6 52-2 58zM2377 2749l9 30-14-25-6-14-3-2zM2372 2754l4 2 3-3 15-32 7-13 6-5 3-2 3 1 2 3 14 40-3-5-2-2-3 1-5 3-8 9-15 30-4 2-3-4zM2429 2745l3 19 3 32 17 214 5 36 5 29-13-58-5-24-4-33-18-212-4-28-3-15zM2449 3017l13 48 28 83 8 20 8 15 7 7 3 2 3 0 4-2 2-2 3-6 5-12 10-36 16-72 24-125 14-62 21-87 18-61 9-25 9-21 9-16 9-12 9-8 8-2 8 2 8 5 14 16-9-10-9-5-5-1-4 1-9 5-9 10-10 16-9 19-11 27-15 52-18 73-16 74-42 216-10 40-8 20-3 4-3 2-4 1-3 0-7-5-7-9-7-17-25-60-8-23-6-21zM2719 2666l7 13 9 18 41 100 10 22 9 16-14-23-16-33-28-69-11-26-11-21-10-13zM2781 2812l8 13 7 9 8 7 6 5 7 2 8 0 7-2 8-5 11-11 13-17 51-81 22-32 14-16 12-12 13-9 11-6 9-3 8-1 9 0 9 2 16 7 35 22 16 8 17 5 16-1 15-4 16-9 16-12 47-38 16-11 13-7 14 5-17 8-17 11-49 42-16 12-16 9-15 4-16 1-17-5-15-8-35-23-18-8-9-2-9 0-9 2-9 3-13 7-12 10-12 12-13 15-22 33-49 80-12 17-11 12-7 5-7 3-6 1-7-2-6-2-7-5-6-8-7-9z"/>
<path transform="translate(0 -493)" d="M2353 2886l3-62 3-38 4-36 3-8 2-4 14 8-3-1-2 4-4 24-4 30-2 53zM2382 2746l3 9 6 24 3 11-14-27-9-23-2-2-1 0zM2380 2763l3 1 3-3 14-30 8-11 6-4 3-2 3 1 2 5 14 42-3-6-2-3-3 1-5 2-8 8-15 27-4 1-2-2zM2436 2762l2 11 3 30 13 167 5 65 5 35 5 27-13-56-6-29-5-37-16-208-4-31-3-16zM2456 3041l5 22 8 25 27 72 8 19 8 12 6 5 4 1 3-1 6-6 8-19 8-30 15-74 26-134 12-59 21-84 18-63 9-25 9-21 9-17 9-12 9-8 7-2 8 1 9 6 14 17-9-11-9-5-4-1-5 1-9 4-10 11-9 14-9 19-10 27-16 53-18 73-15 76-41 217-9 37-4 14-5 9-6 7-3 2-3 1-4-1-3-2-7-7-8-14-23-51-8-22-6-20zM2722 2666l8 12 9 19 40 101 11 22 10 17-14-23-16-32-29-73-11-26-12-21-10-13zM2786 2814l8 13 6 9 7 7 7 4 7 2 8 0 6-2 8-5 11-11 14-18 49-81 23-32 13-16 13-12 12-9 11-7 9-3 8-1 9 0 9 2 18 8 36 22 15 8 16 5 16-1 16-4 16-9 15-12 49-40 16-11 15-7 14 5-17 8-18 11-17 13-35 31-16 12-15 8-15 5-15 1-8-2-9-3-16-8-36-24-18-7-10-2-9 0-9 1-9 4-12 7-13 10-12 12-12 15-23 34-47 79-12 18-12 11-6 6-7 3-7 1-6-1-5-2-7-5-7-7-6-10z"/>
<path transform="translate(0 -487)" d="M2360 2865l2-58 4-34 3-25 2-9 3-3 13 7-2-1-2 3-3 16-4 26-2 49zM2387 2743l4 10 7 33 3 12-14-28-2-5-7-24-2-5-2 0zM2387 2770l2 2 4-2 14-28 7-9 5-4 4-2 2 1 3 3 13 43-2-5-2-1-7 1-8 8-15 23-4 1-2-3zM2441 2774l4 16 3 32 17 224 4 38 7 33-14-53-5-29-5-36-18-226-3-28-3-14zM2462 3064l6 21 8 23 25 60 7 17 7 9 7 5 3 0 4-1 3-2 3-4 8-20 8-30 53-270 19-81 18-64 9-26 9-21 9-17 9-13 9-8 9-3 8 2 9 6 14 17-9-11-9-5-5-1-4 0-5 2-5 3-11 11-9 15-9 19-10 27-15 54-17 70-16 78-39 217-9 38-5 14-4 9-6 8-7 4-3 0-3-1-7-7-8-12-21-40-7-17-7-22zM2726 2664l7 13 9 18 41 102 10 22 10 18-14-23-15-33-40-97-11-22-11-15zM2789 2814l8 13 7 9 7 7 6 4 7 2 7 0 7-2 8-5 11-10 13-18 50-82 23-34 13-15 12-12 12-10 13-6 9-4 9-1 9 1 9 2 18 8 34 22 15 8 17 5 16-1 15-4 16-9 16-12 49-42 17-11 17-8 14 6-18 7-19 12-17 14-36 32-17 12-15 8-14 5-8 1-8-1-8-1-9-3-16-9-34-23-10-5-9-3-11-2-9 0-9 1-10 4-12 8-12 9-12 12-12 15-22 33-48 81-12 18-11 12-7 5-7 4-6 1-6-1-7-3-5-4-7-7-7-10z"/>
<path transform="translate(0 -481)" d="M2367 2844l2-53 6-46 2-8 2-4 14 7-2-2-1 1-4 12-3 21-2 44zM2393 2740l5 15 6 39 4 13-14-29-3-11-7-28-2-5-3-1zM2394 2778l2 2 4-1 14-25 8-9 5-3 3-1 2 1 2 4 14 44-2-5-2-2-4 0-3 1-8 6-16 20-2 1-1 0-2-4zM2448 2790l4 18 3 33 11 159 6 67 4 37 7 32-14-51-5-27-5-35-5-65-13-167-3-30-4-15zM2469 3085l6 20 8 22 23 51 8 14 7 7 3 2 4 1 3-1 3-2 7-9 8-21 9-37 41-217 13-66 17-71 16-55 9-26 9-21 9-17 9-12 9-7 8-3 8 2 9 7 14 16-10-11-9-6-4 0-5 0-4 1-6 4-9 10-9 14-9 19-10 28-16 53-17 72-14 74-40 221-9 39-4 13-5 10-5 8-7 6-6 0-6-4-9-12-19-30-7-15-7-20zM2729 2662l8 13 9 19 42 105 10 22 10 18-14-23-17-36-39-98-11-21-12-15zM2794 2816l13 20 7 7 7 4 7 2 6 0 7-2 8-5 11-11 14-18 49-83 23-33 12-15 12-12 13-10 12-7 9-3 9-2 9 1 9 2 18 7 36 24 16 8 9 3 8 2 15-1 15-5 15-8 16-12 35-31 17-13 18-11 17-8 14 6-21 8-19 12-18 14-36 32-16 13-15 8-15 5-8 1-7-1-8-1-9-4-15-8-36-23-10-5-9-4-10-2-10 0-9 2-10 4-13 7-12 10-11 11-13 16-22 34-47 82-13 18-10 11-6 5-7 4-7 1-6-1-6-3-6-4-5-6-7-9z"/>
<path transform="translate(0 -476)" d="M2374 2825l2-49 5-33 2-9 2-3 14 6-2-2-3 3-4 21-2 38zM2399 2737l4 17 8 49 4 14-14-30-3-12-8-37-3-6-2-1zM2401 2787l2 3 4-1 15-23 8-8 7-1 2 1 2 5 14 45-3-8-4-1-3 0-8 4-17 19-2 0-1-1-2-4zM2455 2808l3 19 4 35 11 160 6 66 4 36 7 30-14-48-7-33-4-38-17-224-3-32-4-16zM2476 3106l7 22 7 17 21 40 9 14 7 5 3 1 3-1 7-5 6-8 8-21 9-38 39-217 14-67 15-68 16-56 9-26 9-22 8-15 9-13 9-8 9-4 4 0 5 1 9 7 14 16-11-11-9-5-9 0-5 2-5 3-9 10-9 14-9 20-10 28-14 51-16 66-16 82-37 214-9 40-4 14-6 14-7 11-5 5-6 2-7-3-9-10-17-22-6-13-7-18zM2732 2660l8 15 9 18 42 106 10 23 10 18-13-23-17-36-28-73-12-26-12-24-11-14zM2798 2817l13 20 7 7 6 4 7 3 7 0 7-3 8-5 11-11 13-19 49-83 22-33 12-15 13-13 12-9 12-7 9-4 9-1 9 0 11 2 9 3 10 5 34 23 16 9 9 3 8 1 8 1 8-1 14-5 15-8 17-12 36-32 17-14 19-12 18-7 14 5-18 7-18 10-20 15-38 34-15 13-18 11-16 5-8 1-8-1-8-2-9-3-14-8-36-24-10-5-11-4-10-2-10 0-9 2-10 4-12 7-13 10-11 12-12 16-22 33-47 84-12 18-10 11-7 5-7 4-6 1-6-1-7-3-5-4-6-6-7-9z"/>
<path transform="translate(0 -470)" d="M2381 2805l2-44 3-21 4-12 14 2-2 0-2 2-3 13-2 33zM2404 2730l2 6 3 14 9 61 5 19-14-32-3-10-11-53-3-7-1-1-1 1zM2409 2798l2 2 4-2 13-18 8-7 4-1 4 0 2 2 2 5 14 46-3-8-4-2-3-1-8 4-16 14-3 1-2-3zM2462 2825l3 20 3 22 11 160 7 80 4 34 7 28-14-44-7-32-4-37-6-67-11-159-3-33-4-18zM2483 3125l7 20 7 15 19 30 9 12 6 4 4 1 3-2 7-6 5-9 5-11 4-14 9-40 38-210 14-75 16-68 14-52 9-26 9-22 8-15 9-13 9-7 9-3 9 1 9 7 14 16-10-11-9-6-5 0-5 0-9 5-9 9-9 14-9 20-10 28-18 64-17 76-14 74-27 162-9 49-7 32-10 28-6 10-6 6-5 2-7-1-9-8-15-15-6-11-7-16zM2735 2658l9 15 9 19 43 110 10 22 10 17-14-22-17-36-29-76-11-27-13-24-11-14zM2802 2819l7 11 7 8 6 7 7 4 7 2 7-1 6-2 7-5 11-12 14-19 48-84 23-34 12-15 11-11 13-10 12-7 10-4 9-1 9 0 10 2 9 4 10 5 36 23 15 8 9 4 8 1 7 1 8-1 15-5 15-8 16-13 36-32 18-14 19-12 21-8 13 5-19 7-19 11-20 15-38 35-16 13-17 10-16 6-7 0-8 0-8-2-9-3-16-8-37-25-10-5-9-4-10-2-10 0-10 3-12 4-12 8-11 9-11 12-13 16-21 33-46 84-13 18-10 12-6 5-6 3-7 2-5 0-7-3-6-4-5-6-7-9z"/>
<path transform="translate(0 -465)" d="M2388 2786l2-38 3-17 3-7 13 2-1-1-1 0-3 9-3 27zM2409 2726l3 5 3 16 10 74 5 20-14-32-5-17-9-55-3-11-2-2-1 0zM2416 2809l2 2 3-1 15-17 8-5 3 0 4 1 2 2 2 6 14 46-3-9-4-2-3-1-8 2-16 12-3-1-2-3zM2469 2843l3 21 3 23 11 161 5 66 6 44 7 25-14-40-7-30-4-36-6-66-11-160-4-35-3-19zM2490 3143l7 18 6 13 18 24 9 9 7 2 6-2 5-6 7-12 9-26 9-40 36-208 15-77 14-64 15-53 9-27 9-23 9-17 9-12 9-7 9-3 9 2 9 7 14 17-11-12-9-6-5-1-5 0-9 4-10 11-9 14-9 20-9 25-14 51-15 64-17 90-35 209-9 40-5 18-6 14-5 11-6 8-6 3-6 0-9-5-13-9-7-9-6-15zM2739 2658l9 15 9 18 42 111 10 22 10 18-13-23-17-36-29-76-12-27-12-24-11-15zM2806 2819l6 11 7 9 7 7 7 4 6 2 7-1 7-2 7-5 11-12 12-18 48-85 23-35 12-15 12-12 12-9 12-7 10-4 9-2 10 0 11 2 9 4 10 5 36 24 14 8 9 3 8 2 8 1 8-1 16-5 18-11 15-13 38-34 20-15 18-10 18-7 13 7-21 7-19 10-20 16-40 36-15 13-17 10-16 5-8 1-8 0-8-2-9-3-15-9-37-25-11-5-10-4-10-1-10 0-10 2-11 4-13 8-11 9-11 12-12 16-22 35-45 83-12 19-10 11-7 6-7 4-6 1-6-1-6-2-5-4-6-6-7-9z"/>
<path transform="translate(0 -459)" d="M2395 2767l2-33 4-15 14 0-1-1-1 1-2 3-3 21zM2415 2719l2 7 4 17 11 88 4 21-13-33-5-19-10-67-3-12-3-2-1 0zM2423 2819l2 3 3-1 15-14 7-3 6 0 3 2 2 4 14 46-4-6-5-3-8 1-16 8-3-1-3-3zM2475 2856l3 18 3 32 12 160 5 64 6 41 3 14 4 10-14-37-7-28-4-34-7-80-11-160-4-31-3-15zM2497 3158l7 16 6 11 16 17 9 6 7 1 5-3 6-7 6-11 9-25 7-32 49-279 16-73 16-63 9-27 9-22 8-15 9-12 9-8 9-2 9 1 9 7 14 16-10-11-9-6-6-1-4 0-9 5-10 10-9 16-9 20-9 25-17 62-16 73-13 75-25 155-9 50-10 42-10 29-6 11-6 7-5 4-6 1-13-4-7-4-7-8-5-10zM2741 2654l9 15 10 21 44 114 10 22 10 18-14-23-17-36-30-80-11-27-12-24-7-10-6-6zM2810 2821l7 11 7 9 5 5 7 4 7 2 7-1 6-2 7-5 11-12 13-18 47-86 22-35 13-16 11-11 12-10 13-7 10-4 10-2 9 0 10 2 9 4 10 5 37 25 16 8 9 3 8 2 8 0 7 0 16-6 17-10 16-13 38-35 20-15 19-11 19-7 14 7-22 7-21 10-21 17-39 36-16 13-17 11-16 5-7 1-8 0-8-2-9-4-15-8-38-25-10-6-10-3-11-2-10 0-12 2-10 4-12 8-11 10-12 12-11 15-21 35-45 84-13 19-10 12-6 6-6 3-7 2-5 0-6-2-6-4-5-5-7-9z"/>
<path transform="translate(0 -454)" d="M2401 2750l3-27 3-9 14-1-1-1-3 0-2 16zM2421 2713l2 7 3 18 13 103 4 22-13-33-5-20-11-80-4-13-1-2-1-1-1 0zM2430 2830l2 3 3 1 15-11 8-3 3 0 3 2 4 6 14 47-4-7-5-4-8 0-16 5-3-2-3-4zM2482 2875l3 18 3 33 10 143 7 77 6 38 3 13 3 8-13-33-7-25-5-33-6-77-11-161-4-32-3-16zM2504 3172l6 15 7 9 14 10 9 4 6-1 6-4 6-8 5-11 10-30 8-34 9-50 25-152 13-75 15-69 17-63 9-27 9-22 8-15 9-12 9-7 9-2 9 2 9 7 13 17-9-11-7-6-8-3-8 1-8 5-8 8-8 13-8 17-9 24-10 33-9 35-9 40-18 98-30 190-9 44-9 33-7 19-5 12-6 8-7 6-9 1-8 0-4-1-7-5-7-10zM2744 2654l9 15 11 21 43 114 10 23 11 18-14-23-17-37-30-80-12-27-12-24-7-10-5-7zM2814 2822l7 11 6 9 6 5 7 4 6 2 7-1 7-3 7-4 11-13 12-18 47-87 22-34 12-16 11-12 12-9 12-7 11-4 10-2 10 0 10 2 11 4 10 5 36 24 15 9 9 3 8 2 8 0 8-1 16-5 17-10 15-13 40-36 20-16 19-10 21-7 14 6-24 7-10 4-11 7-21 16-41 38-15 13-17 11-16 5-8 1-8-1-8-1-9-4-14-8-38-26-11-5-10-4-11-2-10 0-11 2-11 5-13 7-11 10-11 12-11 16-22 35-44 84-12 19-10 13-7 6-5 3-7 2-6 0-5-2-6-4-6-5-6-9z"/>
<path transform="translate(0 -448)" d="M2408 2732l3-21 13-9-2 10zM2424 2702l1 2-13 6-1 1zM2412 2710l1-2 14-3-2-1zM2427 2705l2 7 3 20 13 110 3 23 2 9-14-33-4-21-12-95-4-14-2-4-1 1zM2436 2841l3 3 3 1 16-8 8-1 5 3 4 6 13 47-3-8-4-4-8-1-17 2-4-2-2-5zM2488 2892l4 18 2 21 11 154 7 74 6 35 3 11 3 7-13-28-4-10-3-14-6-41-5-64-12-160-3-32-3-18zM2511 3184l6 12 7 7 10 4 10 3 6-1 6-5 5-8 6-12 10-30 9-38 9-50 23-148 14-76 15-70 15-60 9-27 9-22 8-16 9-12 9-7 9-3 9 2 9 7 14 16-9-10-8-6-9-3-8 2-8 5-8 10-7 13-8 18-9 25-9 31-9 35-8 36-17 92-30 192-9 44-9 34-6 18-6 13-5 10-7 7-9 5-11 2-7-3-7-8zM2747 2650l10 17 10 22 44 115 10 23 10 18-14-23-17-37-29-78-12-30-14-27-6-10-6-6zM2817 2822l7 11 7 9 7 6 5 3 7 2 7-1 6-3 7-5 11-12 13-19 47-88 21-35 11-14 12-12 11-10 12-7 10-4 12-2 10 0 11 2 10 4 10 5 36 25 16 8 9 4 8 2 8 0 7-1 16-5 17-11 16-13 39-36 21-17 21-10 22-7 14 6-14 3-11 4-11 5-11 6-23 17-40 39-16 13-17 11-15 5-8 1-8-1-8-2-9-3-15-8-38-26-10-6-10-4-11-2-12 0-11 2-11 5-11 6-12 10-11 13-11 15-21 36-45 87-12 18-10 12-6 6-6 4-7 2-5 0-6-2-6-4-5-5-7-9z"/>
<path transform="translate(0 -443)" d="M2415 2717l2-16 14-6-2 3zM2431 2695l4 10 3 21 13 127 4 24 2 9-14-34-4-22-14-110-4-18-1-1-3 0zM2443 2852l3 4 3 2 16-5 8 0 5 4 4 7 13 46-3-8-5-4-6-3-18-2-4-2-2-5zM2495 2910l4 19 2 21 11 151 6 60 5 38 4 11 3 6-14-25-3-9-3-14-5-33-7-77-10-143-3-33-3-18zM2516 3191l6 10 7 7 6 2 13 0 7-3 5-5 6-9 5-13 11-32 10-43 9-52 22-143 14-77 13-65 16-59 9-28 8-19 7-16 9-13 9-7 9-3 9 2 9 7 14 16-9-10-8-6-9-3-8 2-7 5-8 10-8 14-8 18-9 26-9 30-8 31-8 37-15 88-30 186-9 45-10 41-5 18-6 14-6 11-6 8-12 8-7 3-7-1-7-7zM2749 2648l10 17 10 21 13 30 32 88 12 25 10 18-14-23-8-15-9-21-31-84-13-30-13-26-7-10-6-6zM2822 2824l7 11 6 9 6 5 7 4 7 1 6-1 7-4 7-5 10-12 12-19 46-88 22-35 11-15 11-12 11-10 13-7 10-4 11-2 10 0 11 2 10 4 11 5 38 26 14 8 9 4 8 1 8 1 8-1 16-5 17-11 15-13 41-38 21-16 11-7 10-4 24-7 14 7-15 3-11 3-12 5-12 7-23 18-40 37-15 14-17 11-16 6-8 0-8 0-7-2-9-3-16-9-38-26-12-6-10-4-11-2-11 0-11 2-12 5-11 7-11 9-11 13-12 16-20 34-45 89-11 18-10 13-7 6-5 4-7 2-6 0-5-2-6-4-11-13z"/>
<path transform="translate(0 -437)" d="M2422 2701l2-10 14-4-2-3zM2438 2687l4 14 3 26 14 145 3 15 3 13-14-34-3-12-2-14-15-127-3-16-4-6zM2451 2866l3 3 2 1 17-2 6 1 6 4 3 8 14 46-3-9-5-5-5-2-19-6-3-2-2-3zM2502 2927l4 19 2 21 10 134 7 70 5 34 4 10 3 5-14-21-3-8-4-13-5-40-6-64-11-154-2-21-4-18zM2523 3199l6 8 7 4 6 0 10-3 7-4 6-6 5-10 5-10 10-33 11-48 8-44 23-145 13-79 14-66 14-55 9-28 8-20 8-16 9-13 9-8 9-3 9 2 9 7 14 16-9-11-9-6-9-2-8 2-8 6-8 11-8 15-8 19-9 26-8 28-14 64-15 82-28 180-10 53-10 42-11 34-6 11-6 8-10 10-8 6-6 1-4-2-3-2zM2752 2645l10 16 11 24 12 30 34 91 10 23 10 18-14-23-7-16-9-21-31-82-13-33-14-26-6-10-7-7zM2825 2824l7 11 7 9 7 6 5 3 6 1 7-1 6-3 7-5 11-14 13-19 45-87 21-36 11-15 11-13 12-10 12-7 11-4 12-2 11 0 10 2 10 4 10 6 38 26 15 8 9 3 8 2 8 1 8-1 15-5 17-11 16-13 40-39 23-17 11-6 11-5 11-4 14-3 14 8-16 2-12 3-13 6-11 6-24 18-40 39-16 14-17 11-7 3-8 2-8 1-8 0-8-2-9-3-16-9-38-27-11-6-10-3-11-3-13 0-11 2-11 4-11 7-12 10-10 12-11 16-20 35-45 90-11 19-11 13-6 6-6 4-6 2-5 0-6-2-5-3-6-5-7-9z"/>
<path transform="translate(0 -431)" d="M2443 2672l3 13 4 23 15 165 4 24 3 13-14-33-3-12-2-15-16-144-5-21-1-2-2 3zM2458 2877l2 3 3 1 18 2 5 2 5 3 3 7 14 45-3-7-4-4-25-13-4-6zM2508 2940l3 15 4 28 10 130 7 66 5 30 4 8 3 4-14-17-3-6-4-11-5-38-6-60-11-151-3-29-4-14zM2530 3204l7 7 7 1 7-3 12-8 6-8 6-11 6-14 5-18 10-41 9-45 30-186 15-88 14-59 17-56 6-17 7-15 7-11 8-9 6-4 8-2 8 2 8 6 14 15-9-10-9-6-9-2-8 3-8 8-8 11-8 16-9 23-14 48-14 61-13 76-28 181-10 52-10 44-12 35-5 12-6 9-10 13-7 6-6 2-6-1zM2753 2640l11 18 12 25 13 31 34 92 10 23 10 18-14-23-8-16-9-21-31-86-14-32-14-28-7-9-7-7zM2829 2824l7 11 6 9 7 6 6 3 5 1 7-1 7-3 7-6 11-13 12-20 45-89 22-36 11-15 11-13 11-9 11-7 12-4 11-2 11 0 11 3 11 4 10 5 38 26 16 9 9 3 7 2 8 0 8 0 16-6 17-11 15-14 40-37 23-18 12-7 12-5 11-3 15-3 14 7-17 3-13 3-12 4-12 7-13 9-12 10-41 40-15 13-17 12-8 3-8 2-8 1-8-1-7-1-9-4-16-9-38-26-12-6-10-4-12-3-12 0-12 2-11 4-11 7-11 11-10 12-12 16-20 36-44 89-11 19-10 13-7 7-5 4-6 2-6 0-5-2-6-3-6-5-6-9z"/>
<path transform="translate(0 -426)" d="M2450 2662l6 48 16 173 3 25 4 14-14-33-3-13-4-24-15-154-4-18-1-4-2-3zM2465 2889l2 3 3 2 19 6 4 2 5 4 3 6 14 44-4-7-3-4-25-17-4-6zM2515 2956l3 16 4 28 10 125 5 53 6 31 3 8 4 3-14-13-3-6-3-7-5-34-7-70-10-134-4-29-3-15zM2536 3207l3 4 4 1 6 0 8-5 10-10 7-9 6-11 11-34 10-42 10-53 28-180 15-82 13-60 15-49 8-21 7-14 6-12 7-8 7-5 8-2 7 1 8 5 14 15-9-10-9-5-4-1-5 0-8 4-8 8-7 12-8 17-9 23-14 46-12 57-12 71-29 180-10 54-10 44-10 33-6 14-6 12-9 14-7 8-7 3-5 0zM2754 2636l12 19 13 26 13 33 34 92 11 26 10 17-13-22-8-16-9-21-33-89-13-33-8-16-8-13-8-11-7-7zM2834 2827l12 18 7 6 5 3 6 1 7-1 6-3 7-6 11-14 13-20 45-90 20-35 11-16 11-13 12-9 11-7 10-4 11-2 13 0 11 3 10 3 11 6 38 27 16 9 9 3 8 2 8 0 8-1 8-2 7-3 17-11 16-14 40-39 24-18 11-6 13-6 12-3 16-2 13 7-18 2-13 3-13 5-13 7-12 9-13 11-40 39-16 14-17 11-7 4-8 2-8 1-8-1-8-2-9-3-16-9-38-27-11-6-11-4-13-3-12 0-11 1-11 5-12 7-11 11-10 12-11 17-19 34-44 91-11 19-11 14-6 7-6 3-6 3-5 0-6-2-5-3-6-5-6-8z"/>
<path transform="translate(0 -420)" d="M2457 2652l6 59 16 182 3 25 4 14-14-33-3-13-4-24-15-165-4-23-3-13zM2472 2899l4 6 25 13 4 4 3 7 14 43-3-6-3-5-25-21-3-4-2-4zM2522 2972l3 15 2 17 10 118 6 52 6 32 3 8 3 3-13-10-4-6-2-7-6-35-5-57-10-130-4-28-3-15zM2542 3207l5 4 7-1 7-5 10-12 7-10 6-14 12-35 10-44 10-52 28-181 12-70 13-58 13-48 15-37 6-13 8-11 7-6 8-3 7 1 7 4 14 13-9-8-8-4-4-1-5 1-7 4-8 9-8 13-9 19-8 21-11 40-13 58-11 65-27 173-10 55-10 47-11 38-13 28-8 14-6 9-7 6-6 1zM2754 2629l14 21 13 27 14 34 35 95 11 25 10 18-14-23-8-15-9-22-32-89-15-35-9-18-8-13-8-11-8-7zM2837 2826l12 19 7 6 6 3 5 1 7-1 7-4 7-5 11-14 11-19 46-94 20-35 12-16 10-12 11-9 11-7 11-5 12-1 11 0 12 3 10 4 12 6 38 26 16 9 9 4 7 1 8 1 8-1 8-2 8-3 17-12 15-13 41-40 12-10 13-9 12-7 12-4 13-3 17-3 13 8-19 2-13 3-14 4-13 8-13 8-12 11-41 41-16 14-17 11-8 4-8 2-8 1-8-1-7-2-9-4-16-9-39-27-12-6-11-4-12-3-13-1-11 2-11 5-11 7-10 10-11 12-11 17-20 37-43 90-11 20-10 13-7 7-5 4-6 3-6 0-5-2-6-3-6-6-5-7z"/>
<path transform="translate(0 -415)" d="M2463 2644l6 57 16 192 3 29 5 20-14-31-4-14-3-25-16-173-6-48zM2479 2911l4 6 25 17 3 4 4 7 14 42-6-11-17-16-10-12-3-6zM2529 2987l3 15 2 17 10 112 6 48 6 27 3 6 3 1-13-5-4-4-2-6-6-31-5-53-10-125-4-28-3-16zM2549 3208l5 2 7-4 7-7 9-13 6-12 6-13 11-36 10-44 12-60 25-167 13-72 12-59 11-40 8-22 8-19 7-13 7-10 6-6 8-4 7 0 8 4 14 12-9-8-8-4-8 1-8 4-8 9-9 15-8 17-8 21-11 42-11 54-10 59-28 179-10 55-9 41-11 36-12 31-13 25-7 8-6 3zM2756 2625l13 20 15 29 14 37 36 98 10 23 10 18-13-23-8-16-9-21-33-90-16-38-9-18-7-13-9-11-8-7zM2841 2827l12 19 7 6 5 3 6 1 7-1 6-4 7-6 11-14 13-21 44-91 20-36 11-17 10-11 11-11 12-7 10-4 11-1 12 0 13 3 11 4 11 6 38 27 16 9 9 3 8 2 8 1 8-1 8-2 7-4 17-11 16-14 40-39 13-11 12-9 13-7 13-5 13-3 18-2 14 8-20 1-13 3-15 5-14 7-12 9-13 11-42 42-16 14-17 11-7 3-8 3-8 0-8 0-8-2-9-4-16-9-39-28-12-6-12-5-12-3-12 0-11 2-11 4-11 7-10 10-10 12-11 17-21 37-42 92-11 20-11 14-6 7-6 4-6 3-5 0-6-2-5-3-6-6-6-7z"/>
<path transform="translate(0 -409)" d="M2470 2636l22 266 4 36 5 16-14-31-5-16-3-25-16-182-6-59zM2487 2923l3 5 9 8 16 13 3 4 4 8 13 40-5-12-15-15-14-20zM2535 3001l4 15 2 16 10 106 5 36 5 26 4 6 3 0-14-1-3-4-2-6-6-32-6-52-10-118-2-17-3-15zM2554 3205l5 1 7-4 5-7 8-13 8-15 7-16 11-37 10-45 10-54 28-180 10-59 11-55 12-42 13-35 8-16 7-11 7-7 6-4 7-1 8 2 14 12-8-7-8-3-8 1-7 4-8 9-10 17-6 14-7 18-11 42-12 55-37 231-10 55-9 42-10 37-13 35-13 25-5 8-6 4zM2756 2619l6 8 8 12 16 32 15 36 37 102 11 25 10 17-14-22-8-16-9-21-34-95-17-41-9-17-9-15-9-11-8-6zM2845 2829l7 11 6 7 6 6 6 2 6 1 6-2 6-3 7-6 10-13 12-21 45-94 20-37 12-17 10-12 10-9 11-7 10-4 11-2 13 1 12 3 11 4 12 6 39 27 16 9 9 4 7 2 8 1 8-1 8-2 8-4 17-11 16-14 41-41 12-11 13-8 13-8 14-4 13-3 19-2 14 8-21 1-15 3-14 4-14 7-12 9-14 11-42 43-16 14-17 12-8 3-8 2-8 1-8-1-7-2-9-3-16-9-39-28-13-7-12-5-12-3-13-1-11 2-10 4-11 8-11 10-10 12-11 17-19 37-43 93-11 20-10 15-11 10-6 3-6 1-5-1-6-3-5-6-6-7z"/>
<path transform="translate(0 -404)" d="M2477 2631l20 269 5 41 2 12 4 11-14-30-5-16-4-36-16-192-6-57zM2494 2934l13 16 15 14 5 9 14 38-4-8-14-16-15-23zM2541 3011l4 12 3 22 9 89 6 41 3 16 2 6 2 3 4 0-14 2-3-4-3-7-4-23-6-48-10-112-3-23-4-12zM2560 3202l5-1 6-6 6-7 8-15 14-35 12-39 10-47 10-56 26-165 10-60 11-56 10-39 12-33 8-16 8-12 7-8 7-4 6-1 7 2 14 10-8-6-7-2-8 1-6 4-9 10-8 12-7 14-7 18-11 43-11 55-36 224-9 50-9 43-10 39-14 38-12 27-7 11-4 5zM2757 2614l7 8 8 12 15 31 16 39 38 105 11 25 11 18-14-22-8-16-9-22-36-98-17-41-10-19-9-14-9-11-8-5zM2849 2830l7 10 5 8 7 5 5 3 6 1 7-2 5-3 7-6 10-14 13-21 43-94 21-37 11-17 10-12 11-11 12-7 10-4 11-1 12 1 13 3 11 4 11 6 39 28 16 9 9 4 8 2 8 0 8 0 8-3 7-3 17-11 16-14 42-42 13-11 12-9 14-7 15-5 13-3 20-1 14 8-22 1-15 2-15 4-14 8-14 9-13 11-43 44-16 14-17 12-7 3-8 2-8 1-8-1-8-2-9-4-16-9-40-28-12-7-13-5-12-3-11-1-12 1-10 4-11 8-10 9-10 13-11 17-19 37-43 95-11 21-11 14-5 7-6 4-5 3-6 1-6-1-5-3-6-6-5-7z"/>
<path transform="translate(0 -398)" d="M2484 2627l2 43 17 227 6 52 2 12 3 11-13-29-5-16-4-36-22-266zM2501 2943l14 20 15 15 4 8 14 37-4-9-15-18-15-24zM2548 3023l3 12 3 13 10 90 4 30 4 15 2 6 2 2 4-1-14 6-4-4-2-6-4-23-5-36-10-106-3-22-4-13zM2566 3196l4-2 7-8 6-9 6-13 15-37 11-41 9-42 10-55 36-224 12-57 10-39 5-17 7-17 7-12 8-12 6-8 6-3 7-2 6 1 14 10-8-6-8-2-6 2-8 5-9 10-7 11-7 15-5 17-10 39-12 56-34 216-9 50-9 44-10 39-14 40-11 27-7 12-4 6zM2758 2609l7 7 8 12 17 34 17 41 38 105 11 26 10 18-14-23-8-16-9-21-36-99-17-43-11-20-9-14-9-11-9-6zM2852 2829l7 11 6 7 6 6 6 3 6 1 6-2 6-3 7-7 10-13 12-22 44-95 20-38 11-17 11-13 10-9 11-7 10-4 11-2 12 1 12 3 12 5 13 7 39 28 16 9 9 3 7 2 8 1 8-1 8-2 8-3 17-12 16-14 42-43 14-11 12-9 14-7 14-4 15-3 21-1 14 9-24 0-15 2-15 4-15 7-13 9-14 12-43 45-17 15-16 10-8 4-8 2-8 0-7 0-8-2-9-4-16-9-41-29-13-7-13-6-13-3-11-1-10 2-10 4-12 7-10 10-10 13-11 18-19 38-42 94-11 21-10 15-6 6-5 5-6 3-5 1-6-1-6-4-5-5-6-7z"/>
<path transform="translate(0 -392)" d="M2491 2624l2 48 17 234 6 51 3 16 3 8-13-27-4-9-2-10-6-47-20-269zM2509 2954l14 21 14 16 4 8 14 34-5-8-13-18-15-26zM2555 3033l3 12 3 13 9 74 4 29 2 10 4 8 2 3 3-2-13 8-4-3-2-6-5-22-4-35-9-89-3-22-4-12zM2572 3188l4-3 6-7 5-10 7-15 15-39 11-41 9-42 10-56 36-224 10-50 10-40 10-29 6-11 7-10 7-10 7-5 6-2 7 0 13 8-8-5-6-1-8 3-9 6-7 8-5 9-6 13-6 17-10 40-10 49-35 215-17 90-10 40-13 42-11 30-12 22zM2758 2602l7 7 8 11 8 14 9 19 19 47 39 108 11 26 11 18-14-23-16-35-38-105-19-45-10-20-10-15-9-10-9-5zM2856 2829l7 11 5 7 7 6 6 3 5 1 7-2 5-3 7-7 10-14 13-22 44-97 20-39 11-17 10-12 10-9 11-7 11-4 10-1 11 1 12 3 13 5 12 7 40 28 16 9 9 4 8 2 8 1 8-1 8-2 7-3 17-12 16-14 43-44 13-11 14-9 14-8 15-4 15-2 22-1 14 9-25 0-16 1-15 5-15 6-14 9-14 13-44 45-17 16-17 11-8 3-7 2-8 0-8-1-8-2-9-4-15-9-41-29-15-8-12-5-11-4-12-1-10 2-10 4-11 7-10 10-10 13-11 18-20 38-42 98-10 19-10 16-6 6-6 5-5 3-6 1-6-1-5-4-6-5-5-7z"/>
<path transform="translate(0 -387)" d="M2498 2623l2 53 16 226 7 63 3 15 3 9-13-26-4-9-2-9-6-47-18-239-2-43zM2516 2963l14 24 12 15 5 7 14 32-4-6-12-17-16-29zM2561 3041l3 10 3 16 9 68 5 24 4 12 3 1 3-2-14 11-3-3-2-6-5-21-13-114-4-18-3-10zM2577 3181l4-3 5-9 7-13 7-16 14-43 12-42 9-44 9-50 34-216 11-51 10-41 10-28 10-18 7-8 7-6 7-3 6 0 14 7-7-4-8-1-9 3-8 5-5 6-6 10-10 28-10 40-10 50-35 214-16 82-10 41-12 41-12 32-11 26zM2760 2597l6 7 8 10 8 14 9 19 20 50 41 112 12 28 10 17-14-22-7-16-9-21-40-109-20-48-10-19-10-15-9-9-9-5zM2860 2832l7 10 6 7 5 5 6 3 6 1 6-2 6-4 7-6 10-14 12-23 44-99 19-37 11-17 10-13 11-10 11-7 10-4 10-1 11 1 13 3 12 6 13 7 41 29 15 8 9 4 7 3 8 0 8 0 8-2 8-3 17-11 17-15 43-45 14-12 13-9 15-7 15-4 15-2 24 0 14 8-27 0-16 1-16 4-14 7-14 9-14 12-47 48-15 14-17 11-8 4-8 1-8 1-8-1-16-6-16-10-42-29-14-8-13-6-11-3-11-1-10 1-10 4-12 8-10 10-10 13-10 17-19 39-43 99-10 20-10 15-6 7-5 5-6 3-5 1-6-2-5-2-5-5-6-7z"/>
<path transform="translate(0 -381)" d="M2505 2623l2 57 9 141 10 125 3 25 4 15 14 31-13-27-14-25-3-13-4-23-10-122-10-146-2-48zM2534 2990l20 30 14 29-15-21-6-11zM2568 3049l5 19 9 60 5 22 2 7 2 3 2 1 4-4-14 14-2-1-2-4-5-16-4-29-9-74-4-18-3-9zM2583 3171l3-3 4-7 13-31 14-40 10-36 9-41 9-48 32-203 13-66 9-39 8-26 8-20 9-14 13-10-4 3-5 4-8 13-7 21-9 32-7 30-8 41-31 194-15 78-9 39-12 44-11 32-14 39zM2737 2587l9-1-14 4-8 7zM2732 2590l8-4 6-1 14 5-6-3-8-1zM2760 2590l8 7 7 11 8 13 9 19 21 50 42 118 13 28 10 18-14-23-8-15-9-22-40-111-22-51-11-21-10-15-9-8-5-2-4-1zM2864 2831l7 11 5 7 6 5 6 3 5 1 7-2 6-4 6-6 10-15 13-23 44-100 19-38 10-16 10-13 10-10 11-7 10-4 10-2 12 1 11 4 12 5 15 8 41 29 15 9 9 4 8 2 8 1 8 0 7-2 8-3 17-11 17-16 44-45 14-13 14-9 15-6 15-5 16-1 25 0 14 9-29-1-15 1-16 3-16 7-14 10-15 12-46 49-16 14-17 11-7 3-8 2-8 1-8-1-9-3-9-4-15-9-42-30-15-9-12-6-12-3-11-1-10 1-9 4-11 7-10 11-10 13-10 17-20 39-42 101-10 20-10 16-6 7-6 5-5 3-6 0-4 0-6-3-6-5-5-7z"/>
<path transform="translate(0 -376)" d="M2512 2625l2 61 8 128 5 79 6 61 3 24 4 14 18 39-14-26-17-32-3-13-4-23-4-46-6-74-10-152-2-53zM2544 3005l16 23 13 27-15-24zM2573 3055l4 8 3 12 9 53 3 15 3 5 2 2 2 0 2-2-13 13-3-1-2-5-3-12-4-19-9-68-3-16-4-12zM2588 3161l2-1 3-5 15-37 15-46 10-38 8-36 8-48 32-195 11-61 8-36 9-32 7-18 8-14 13-13-4 3-3 4-7 13-9 26-8 29-14 67-30 186-14 78-9 38-14 49-19 62-5 12zM2737 2581l5-2 6 0 7 3 8 4 10 11 12 18 11 24 12 31 52 141 11 26 10 17-14-22-9-18-10-25-33-94-15-38-13-31-12-21-6-10-6-6-7-5-5-3-7 0-9 3-6 4-5 6zM2867 2832l7 11 6 7 5 5 6 3 6 1 6-2 6-4 7-7 10-14 12-24 43-99 19-39 11-18 10-13 10-10 12-8 9-3 10-1 11 1 11 3 13 6 14 8 42 29 16 10 16 6 8 1 8-1 8-1 8-4 17-11 15-14 47-48 14-12 14-9 14-7 16-4 16-1 27 0 13 10-30-2-16 1-15 3-16 7-15 9-14 12-48 50-15 15-17 11-8 3-8 2-8 0-8-1-9-2-9-4-14-9-46-33-14-8-12-6-11-3-10-1-11 2-9 3-10 7-10 10-10 14-11 19-19 40-42 100-10 20-10 17-6 6-5 5-6 3-5 1-5-1-6-3-5-5-6-7z"/>
<path transform="translate(0 -370)" d="M2518 2627l3 65 8 131 5 78 6 59 3 22 4 14 20 45-14-24-19-39-3-12-4-22-4-44-7-90-9-141-2-57zM2553 3017l13 19 14 25-13-20zM2580 3061l4 7 3 12 8 41 3 13 2 4 3 1 2-1 2-3-14 15-2-1-2-3-3-11-13-78-3-13-4-8zM2593 3150l3-2 3-6 16-46 13-45 10-39 16-79 32-193 11-61 7-30 7-28 8-22 7-13 14-14-7 7-8 15-8 22-8 29-12 62-29 178-14 73-18 74-24 89-5 14zM2740 2572l4-2 6 0 6 3 9 7 11 12 11 18 10 22 12 31 53 145 13 28 10 18-14-22-9-19-10-25-50-135-12-29-11-22-13-17-5-5-7-4-9-1-8 1-5 3-6 7zM2871 2832l7 11 5 7 6 5 6 3 5 0 7-1 6-4 6-7 10-15 12-22 43-103 20-39 11-18 10-14 10-9 11-8 9-3 10-1 10 1 12 3 12 6 15 9 42 30 15 9 9 4 9 3 8 1 8-1 8-2 7-3 17-11 16-14 46-49 15-12 14-10 16-7 16-3 15-1 29 1 13 9-31-2-17 0-17 4-16 7-14 9-15 13-47 50-16 15-17 11-7 3-8 2-8 0-8-1-9-3-9-4-16-9-47-34-13-8-12-6-10-3-10-1-10 1-9 4-11 8-10 10-10 14-11 18-19 41-41 101-10 21-10 16-6 7-6 5-5 3-6 1-4-1-6-3-6-5-5-7z"/>
<path transform="translate(0 -365)" d="M2525 2632l3 68 7 133 6 77 5 47 3 25 4 18 17 39 6 11-14-22-7-12-15-35-4-14-3-24-6-61-5-79-8-128-2-61zM2562 3028l10 14 14 22-10-14zM2586 3064l3 7 4 9 8 35 3 11 3 4 3-1 2-4-14 15-3-3-4-9-11-64-3-12-5-10zM2598 3140l2-2 3-4 4-12 19-63 17-63 16-79 30-186 11-61 7-30 8-28 8-22 7-13 13-14-3 3-5 6-7 16-8 22-7 26-11 56-29 176-13 66-13 59-31 118-4 14zM2743 2563l5-2 4 1 5 2 5 5 16 18 12 21 11 22 11 29 53 147 13 31 11 19-13-22-9-18-12-27-52-145-12-26-10-20-7-10-6-9-7-5-8-4-8-2-5 1-6 3-4 5zM2876 2834l6 11 6 7 6 4 5 3 6 0 5-2 6-3 7-7 10-16 11-22 44-105 19-39 10-17 10-14 10-10 12-7 9-4 10-1 10 1 11 4 12 6 14 8 44 31 15 10 9 4 9 2 8 1 8 0 8-2 8-3 17-11 15-15 48-50 14-12 15-9 16-7 15-3 16-1 30 2 14 9-34-3-16 0-17 4-16 6-15 9-15 14-48 51-15 14-17 12-8 3-8 1-8 1-9-1-9-3-9-5-15-9-49-35-12-8-11-5-10-4-11-1-8 1-9 4-12 7-10 11-10 14-10 18-19 41-42 103-10 21-10 17-6 7-5 5-6 3-4 1-6-1-4-2-6-5-6-7z"/>
<path transform="translate(0 -359)" d="M2532 2637l2 71 8 135 6 75 4 45 4 22 4 17 18 42 8 14-14-20-7-13-17-37-5-17-3-22-6-59-5-78-8-131-3-65zM2572 3038l5 6 14 20-5-6zM2591 3064l4 7 4 8 7 29 4 9 1 1 2 1 3-4-13 13-4-3-3-10-11-54-4-9-4-8zM2603 3128l3-2 5-12 23-84 15-58 14-72 31-185 11-60 7-30 6-23 8-21 7-13 14-15-8 9-8 15-8 22-7 26-11 57-27 161-11 61-10 46-25 99-10 47-6 19zM2747 2553l3-1 5 0 4 2 5 4 18 24 11 20 9 21 11 28 54 152 14 31 12 22-14-22-10-21-11-27-53-146-10-24-10-21-7-11-7-9-8-7-10-7-5-2-6 0-4 3-5 6zM2879 2834l7 11 5 6 6 5 6 3 5 0 6-2 6-4 6-7 10-15 12-22 43-107 20-40 10-17 10-14 10-10 11-8 9-3 9-1 10 1 11 4 12 5 13 9 46 33 16 9 9 4 9 3 8 1 8 0 8-2 7-3 17-11 16-15 47-50 15-13 14-9 16-7 17-4 17 0 31 2 14 10-36-4-17 0-17 3-15 6-15 10-16 13-48 52-16 15-17 11-9 4-7 1-8 0-9-1-9-3-9-4-17-11-48-36-13-7-10-5-10-4-10-1-9 1-9 4-10 7-10 11-10 14-11 18-19 41-41 105-10 22-10 17-6 7-6 5-5 3-5 1-5-1-5-3-6-4-5-7z"/>
<path transform="translate(0 -353)" d="M2539 2643l2 73 8 136 7 85 6 45 5 21 20 47 14 21 3 6 10 29 4 3 3-4-14 13-3-4-2-7-8-35-3-11-4-7-11-16-6-11-17-39-4-18-6-46-6-86-9-150-3-68zM2607 3118l3-1 2-4 4-14 32-123 10-43 13-71 31-182 11-56 11-39 6-14 7-13 13-15-8 8-7 15-7 18-7 26-11 56-27 158-10 55-9 41-24 98-13 68-6 19zM2750 2543l5-1 3 0 5 3 4 4 15 23 14 27 19 47 36 105 18 49 15 34 12 21-13-22-9-18-10-24-54-150-13-30-10-22-7-11-6-9-12-12-6-6-6-2-4 1-5 3-4 5zM2883 2833l6 11 6 7 6 5 5 2 6 1 5-2 6-4 7-7 10-16 11-22 43-106 19-41 10-18 10-14 10-11 12-7 9-4 8-1 11 1 10 4 11 5 12 8 49 35 15 9 9 5 9 3 9 1 8-1 8-1 8-3 17-12 15-14 48-51 15-14 15-9 16-6 17-4 16 0 34 3 14 10-38-4-16-1-17 3-17 6-15 10-16 13-15 15-32 37-17 16-17 11-9 4-8 1-8 0-9-1-9-3-10-5-18-12-48-36-22-12-10-4-9-1-9 1-9 4-10 7-10 10-10 15-11 20-19 43-40 101-10 22-10 17-5 8-6 5-6 4-5 1-5 0-5-3-6-5-6-7z"/>
<path transform="translate(0 -348)" d="M2546 2652l2 75 8 135 6 71 5 46 6 23 21 49 16 25 10 23 2 2 2 0 2-3-14 10-2-2-2-6-7-25-5-13-15-24-20-44-3-10-3-16-6-48-7-88-8-135-2-71zM2612 3108l2-1 2-3 5-14 12-56 28-115 14-68 27-160 10-56 11-47 6-16 7-15 13-20-6 9-7 15-6 17-6 27-12 59-31 179-9 42-25 106-14 81-4 16-3 10zM2749 2537l6-3 4-1 5 1 4 4 11 15 18 36 9 21 10 26 37 109 19 53 14 34 14 24-14-22-9-18-11-27-55-155-12-30-11-21-7-13-12-16-6-8-6-4-6-2-4 2-6 6-5 9zM2886 2834l7 11 5 7 6 4 6 3 5 0 6-1 6-4 6-7 10-16 12-23 42-108 19-41 11-18 10-14 10-11 11-8 9-3 9-1 10 2 10 3 23 13 47 35 17 11 9 4 9 3 9 1 8 0 7-1 9-4 17-11 16-15 48-52 16-13 15-10 15-6 17-3 17 0 36 4 14 9-8 0-34-4-16-1-16 3-17 6-16 10-16 14-14 15-33 36-17 17-17 11-9 3-7 2-9 0-9-2-9-3-10-5-20-13-47-36-11-7-10-5-10-4-9-1-9 1-8 3-10 7-10 11-10 14-12 21-19 43-39 103-10 22-10 18-6 8-6 5-5 4-6 1-4-1-6-2-5-5-6-7z"/>
<path transform="translate(0 -342)" d="M2553 2661l2 76 8 135 6 67 5 43 5 17 9 19 13 32 15 22 9 18 3 2 2-2-13 8-4-5-10-29-13-21-6-11-18-42-4-19-6-45-7-85-8-136-2-73zM2617 3098l2 0 2-4 5-14 14-73 28-118 13-63 36-206 10-43 4-14 6-13 14-22-7 11-6 13-5 19-6 24-11 58-28 158-34 151-17 102-3 16-4 10zM2751 2528l4-3 5-2 4 0 3 1 8 9 10 19 20 43 10 26 41 124 18 50 16 37 13 24-13-22-10-21-12-27-56-160-12-31-10-21-19-31-6-7-6-5-4 0-6 2-7 7-5 10zM2890 2834l6 10 6 7 7 6 5 2 6 0 6-2 5-5 7-7 10-17 11-24 42-106 19-43 10-17 10-15 10-10 12-8 9-3 9-1 9 2 10 3 21 13 47 35 18 12 10 5 9 3 9 1 8 0 8-1 9-4 17-11 17-16 32-37 15-15 16-13 15-10 17-6 17-3 16 1 38 4 14 9-10 0-35-5-15-1-17 2-17 6-15 10-16 14-16 16-32 37-17 16-9 7-8 5-9 3-8 2-9 0-9-2-9-3-10-5-21-15-48-36-20-12-10-4-9-1-9 1-8 4-10 7-10 11-10 15-10 19-19 44-40 104-10 22-10 19-5 7-6 6-6 3-5 2-5-1-5-3-6-5-6-6z"/>
<path transform="translate(0 -337)" d="M2560 2672l2 77 7 116 5 70 6 44 4 17 9 18 16 37 14 19 8 13 2 1 2-1-14 6-3-5-8-19-12-19-6-10-19-45-6-23-5-46-6-71-8-135-2-75zM2621 3089l3 1 2-3 5-20 16-87 25-106 10-48 39-221 9-38 9-25 14-23-6 9-5 14-6 20-7 30-36 194-32 148-6 32-12 86-5 22-3 9zM2753 2519l3-3 5-3 5 1 5 2 8 8 8 15 31 81 39 120 17 47 17 41 8 16 7 11-14-23-12-26-15-37-56-162-11-27-17-33-11-19-6-5-5-1-4 1-6 3-5 7-5 9zM2892 2832l7 11 5 8 7 6 6 2 5 1 6-2 6-4 6-7 10-16 12-24 42-111 19-43 11-18 10-14 10-11 10-7 8-3 9-1 9 1 10 4 10 5 11 7 47 36 20 13 10 5 9 3 9 2 9 0 7-2 9-3 17-11 17-17 33-36 14-15 16-14 16-10 17-6 16-3 16 1 34 4 8 0 14 10-12 0-37-6-14-1-17 2-17 6-16 10-16 14-15 16-33 38-17 16-9 7-9 5-9 3-8 1-8 0-9-1-11-4-10-6-22-15-45-36-19-12-10-3-9-2-9 1-8 3-10 7-10 11-11 16-10 18-18 42-40 109-10 23-10 18-6 8-5 5-6 4-6 1-5-1-6-3-6-5-5-7z"/>
<path transform="translate(0 -331)" d="M2567 2682l2 79 7 113 4 56 6 44 4 18 10 18 16 37 19 26 4 2 2-2-14 8-3-4-8-16-10-14-6-10-12-30-9-19-6-24-6-47-5-74-7-117-2-76zM2627 3081l2-1 3-4 4-17 16-96 35-157 38-211 9-39 9-26 14-23-7 12-6 16-13 58-32 167-31 143-7 42-13 101-4 18-3 9zM2757 2507l3-3 3-2 5 0 4 2 5 4 4 5 8 15 9 23 25 69 36 113 15 46 20 47 7 15 8 13-13-22-14-28-16-41-55-162-29-67-10-17-5-4-4-1-6 1-5 3-5 6-4 8zM2896 2832l12 18 7 6 5 3 6 0 5-1 6-4 7-8 10-16 11-24 43-112 19-44 10-18 10-15 10-10 10-7 8-3 9-1 9 2 10 3 19 12 48 36 21 15 10 5 9 3 9 2 9 0 8-2 9-3 8-5 9-7 17-16 32-37 16-16 16-14 15-10 17-6 17-2 15 1 35 5 10 0 13 10-11-1-37-5-17-2-18 2-15 6-16 10-17 14-15 15-33 39-17 17-9 6-9 6-8 3-9 1-9 0-10-2-10-4-10-5-24-17-45-37-18-11-9-3-9-2-9 1-8 3-10 7-10 11-10 15-10 19-18 43-41 110-10 23-10 18-5 8-6 6-6 3-5 2-6-1-5-3-6-6-6-7z"/>
<path transform="translate(0 -326)" d="M2574 2695l2 79 7 111 4 52 6 40 3 12 11 18 11 27 6 11 17 21 3 1 3-2-14 8-4-3-21-32-13-33-11-20-4-17-6-44-5-70-7-116-2-77zM2633 3073l2-1 1-2 5-17 19-124 33-154 36-194 9-39 9-25 14-22-5 9-5 11-10 38-11 54-24 123-29 132-9 54-15 119-3 19-3 11zM2761 2495l4-3 3-1 3 1 5 2 9 11 9 17 9 25 24 75 34 108 15 44 19 48 9 18 8 13-14-22-12-26-14-35-15-41-39-120-23-62-11-23-9-15-4-4-6-3-5 1-5 2-4 6-4 6zM2898 2831l7 11 6 9 7 6 6 3 5 0 6-2 6-4 6-7 10-17 12-24 42-114 20-44 10-18 10-15 10-11 10-6 8-3 9-1 9 2 9 3 19 12 45 36 22 15 10 6 11 4 9 1 8 0 8-1 9-3 9-5 9-7 17-16 33-38 15-16 16-14 16-10 17-6 17-2 14 1 37 6 12 0 13 10-13-1-38-6-16-2-18 2-16 5-16 10-16 14-16 17-34 39-17 16-9 7-9 5-7 3-9 2-9 0-11-2-10-4-11-6-24-17-44-37-18-12-9-3-9-2-8 1-8 3-10 7-10 11-10 15-11 19-18 43-40 112-11 26-10 18-6 7-6 5-5 3-6 1-5-1-6-4-6-5-5-8z"/>
<path transform="translate(0 -320)" d="M2580 2708l3 78 5 91 5 55 5 41 4 11 11 15 12 29 6 11 4 6 12 11 2 2 2-1-14 7-16-21-6-9-15-35-10-18-4-18-6-44-4-56-7-113-2-79zM2637 3064l3 0 2-4 3-13 5-27 11-86 6-36 33-155 31-161 11-50 6-18 4-11 14-21-6 9-4 11-12 42-10 46-22 114-28 126-9 56-16 138-4 25-4 8zM2766 2482l3-2 4-1 3 2 3 2 9 12 9 18 10 30 54 176 16 49 19 49 9 19 9 16-14-24-13-29-16-41-48-149-26-72-9-23-9-15-5-4-5-3-5-1-4 2-5 4-3 6zM2900 2828l7 12 7 9 7 7 5 3 7 1 6-2 5-4 7-8 11-18 11-25 42-113 19-45 10-19 10-14 10-11 10-7 8-2 8-1 9 2 9 3 18 11 45 37 24 17 10 5 10 4 10 2 9 0 9-1 8-3 9-6 9-6 17-17 33-39 15-15 17-14 16-10 15-6 18-2 17 2 37 5 11 1 14 10-16-1-38-7-17-1-18 1-15 6-16 9-17 14-14 16-35 41-17 16-9 7-9 5-9 3-9 2-9 0-10-3-11-4-12-7-23-17-44-37-17-11-9-4-9-2-8 1-8 2-10 7-10 11-9 14-10 19-19 46-41 113-11 26-10 18-5 7-6 6-6 3-5 1-6-2-6-3-5-6-7-8z"/>
<path transform="translate(0 -314)" d="M2587 2721l3 77 5 89 5 51 4 31 4 11 2 4 7 4 3 4 13 31 6 10 13 13 4 1 2-2-14 10-2 0-2-2-13-15-4-7-16-36-11-18-4-18-6-45-5-58-5-94-2-79zM2644 3055l3-2 2-6 3-17 16-126 9-54 29-132 33-167 10-40 8-21 13-20-4 6-5 11-12 43-10 45-20 98-28 125-9 57-17 158-4 21-3 11zM2770 2470l4-2 3 0 4 2 3 3 9 14 9 21 9 27 49 169 19 61 19 50 11 21 9 15-14-23-15-31-17-45-45-142-25-78-9-24-9-17-6-7-6-4-4-1-3 1-5 4-3 6zM2904 2828l7 12 6 9 7 6 6 3 6 1 6-2 6-4 6-7 12-19 11-25 41-115 20-45 10-19 10-15 10-10 10-7 8-2 8-1 9 2 9 4 17 11 44 37 24 17 11 6 10 4 11 2 9 0 9-2 7-3 9-5 9-7 17-16 34-39 16-17 16-14 16-10 16-5 18-2 16 2 38 6 13 1 14 10-18-1-39-8-16-1-18 1-16 5-16 10-17 15-15 15-34 40-18 18-9 7-9 5-9 3-9 2-10-1-10-2-11-5-12-7-23-17-44-38-17-12-9-3-7-2-8 0-8 3-10 7-10 11-9 14-10 19-20 47-40 114-11 26-10 18-6 8-6 5-5 3-6 1-5-1-6-4-6-5-6-9z"/>
<path transform="translate(0 -309)" d="M2594 2736l2 76 6 85 5 47 4 26 2 7 3 3 6 1 5 5 13 29 7 11 12 10 3 1 2-2-14 12-2-1-2-2-15-16-6-11-12-29-11-15-4-11-5-41-5-55-5-91-3-78zM2650 3047l2-3 3-6 3-17 17-146 9-56 28-126 31-155 10-40 5-13 4-9 14-17-4 5-6 12-12 41-56 251-6 32-5 35-16 168-4 21-3 11zM2776 2459l2-1 4 0 3 2 4 4 7 14 9 22 11 31 24 91 40 134 10 29 10 26 10 22 9 16-14-24-16-35-15-43-66-212-11-33-10-20-5-7-5-5-4-2-4 1-3 2-4 5zM2905 2825l14 22 6 7 7 4 7 2 5-2 7-4 7-8 11-19 11-25 42-116 19-46 10-19 10-15 10-11 10-6 8-3 8 0 8 2 9 4 17 11 44 37 23 17 12 7 11 4 10 3 9 0 9-2 9-3 9-5 9-7 17-16 35-41 14-16 17-14 16-9 15-6 18-1 17 1 38 7 16 1 14 9-8 1-12-1-41-8-15-2-18 1-16 5-16 9-17 15-14 15-35 42-18 18-9 6-9 6-9 3-9 2-10-1-11-3-12-4-12-8-22-17-43-38-18-13-9-4-8-1-8 0-7 3-10 7-9 9-10 16-10 19-19 47-40 116-12 26-10 19-7 8-5 5-6 3-5 0-6-1-7-5-5-6-7-9z"/>
<path transform="translate(0 -303)" d="M2601 2751l2 74 8 105 6 37 3 8 1 1 3 0-14-3-4-7-3-14-6-47-7-118-3-77zM2610 2973l3 2 14-1-3 2zM2627 2974l3 0 4 3 13 28 7 10 11 9 2 0 3-1-14 13-2 0-3-2-12-12-6-10-13-31-3-4-4-2zM2656 3036l2-2 2-6 5-26 17-158 9-57 28-125 28-134 11-42 5-13 4-10 14-15-5 5-5 12-7 19-7 24-27 117-15 64-11 47-5 33-5 35-18 189-3 20-3 10zM2781 2448l2-1 3 0 4 3 3 4 7 14 9 23 11 37 35 132 27 92 10 31 10 26 9 20 10 18-14-24-15-35-17-48-43-142-21-74-10-30-10-22-9-12-5-3-3 0-4 2-3 4zM2907 2823l8 14 7 9 7 7 7 5 6 1 7-2 6-4 6-7 12-20 11-25 41-117 20-47 10-19 10-15 10-11 10-6 7-3 8 0 7 2 9 3 17 12 44 38 23 17 12 7 11 5 10 2 10 1 9-2 9-3 9-5 9-7 18-18 34-40 15-15 17-15 16-10 16-5 18-1 16 1 39 8 18 1 14 9-9 1-14-2-41-8-16-2-17 1-15 5-17 9-17 15-15 16-35 41-18 18-10 8-9 5-9 3-9 1-10 0-11-3-12-5-13-8-21-17-43-39-17-12-9-4-7-2-8 0-7 3-10 6-9 10-10 16-10 19-20 48-40 117-11 27-10 18-7 9-6 4-5 3-6 1-6-2-6-4-7-7-7-10z"/>
<path transform="translate(0 -298)" d="M2608 2767l2 72 7 88 2 19 4 18 2 6 1 2 2 1-14-5-3-9-2-10-6-49-7-99-2-76zM2614 2968l3 1 4 1 14-4-7 7zM2635 2966l2 0 4 3 13 26 7 10 5 4 6 3 2 0 2-3-13 16-3 1-2-1-8-7-4-5-6-9-12-27-3-5-4-2zM2663 3025l2-4 2-8 4-21 16-168 5-35 6-32 10-48 18-75 25-119 13-44 4-12 5-8 14-13-5 4-6 11-6 17-7 22-40 163-12 51-5 32-5 36-18 200-3 24-4 11zM2787 2438l4 1 6 6 5 11 8 21 14 44 29 118 29 104 11 35 10 27 9 21 11 19-14-25-16-37-18-52-36-124-23-87-11-31-11-26-8-13-3-3-3-1-4 2-3 3zM2909 2820l8 14 7 12 7 7 7 5 7 1 6-1 6-4 7-7 11-18 11-25 13-34 31-91 19-46 10-19 9-14 10-10 11-7 6-2 8 0 8 2 9 4 17 12 43 38 22 17 12 8 12 4 11 3 10 1 9-2 9-3 9-6 9-6 18-18 35-42 14-15 17-15 16-9 16-5 18-1 15 2 41 8 12 1 8-1 14 10-11 0-14-1-43-9-15-2-17 1-16 5-16 9-17 14-15 17-35 42-18 18-10 8-9 5-9 3-9 1-10 0-12-3-12-5-13-8-22-18-42-40-17-13-8-3-8-2-8 0-7 2-10 7-9 10-10 15-10 20-18 46-41 121-12 27-10 18-7 9-5 5-6 2-7 1-6-2-7-5-7-8-6-10z"/>
<path transform="translate(0 -292)" d="M2615 2782l2 70 6 70 2 20 3 19 3 6 1 2 2 0-14-5-3-8-2-11-6-51-6-80-2-74zM2620 2964l2 1 6-3 14-5-8 12zM2642 2957l2-1 3 2 14 25 7 9 4 3 6 2 2 0 2-2-14 18-2 0-3-1-10-9-6-9-12-26-4-5-3-1zM2668 3013l3-3 2-8 3-20 18-189 5-35 5-33 11-47 16-68 25-109 12-41 6-14 5-7 13-10-2 1-3 3-6 10-7 16-6 20-39 147-12 55-6 34-4 39-17 199-3 27-3 10-2 5zM2792 2429l5 2 5 7 6 13 6 16 14 51 29 122 26 95 12 36 10 29 10 24 10 19-14-25-17-40-18-55-30-106-26-100-11-37-9-23-8-15-3-4-4-2-3 0-3 3zM2911 2818l8 15 8 11 7 8 6 5 7 2 7-1 7-4 6-7 12-19 12-28 43-123 18-45 10-19 10-16 9-10 10-6 7-3 8 0 7 2 9 4 17 12 43 39 21 17 13 8 12 5 11 3 10 0 9-1 9-3 9-5 10-8 18-18 35-41 15-16 17-15 17-9 15-5 17-1 16 2 41 8 14 2 9-1 14 10-13 0-14-1-44-10-16-2-17 1-15 5-16 9-17 14-15 16-36 44-18 18-10 8-9 5-9 3-10 1-11 0-11-4-13-5-12-8-21-17-42-42-17-12-9-5-8-1-7 0-7 3-10 7-9 10-9 14-10 21-18 45-42 123-11 27-10 18-7 9-6 5-6 3-7 0-7-2-7-6-6-7-7-11z"/>
<path transform="translate(0 -287)" d="M2622 2799l2 66 6 65 4 29 2 6 1 2 3-1-14-5-3-8-3-11-4-38-6-76-2-72zM2626 2961l2 1 6-6 2-2 14-8-2 3-8 17zM2650 2946l2 0 3 3 13 22 7 8 4 2 6 2 2-1 2-2-14 20-2 1-3-1-6-4-4-4-6-8-12-25-4-4-2-1zM2675 3000l3-5 2-8 3-24 17-189 5-39 5-34 11-52 40-160 12-39 6-13 4-7 14-8-6 4-5 8-7 15-7 19-36 130-12 54-6 34-4 39-18 219-4 24-3 12zM2797 2422l4 2 5 5 4 10 6 16 17 62 29 126 23 85 11 38 11 33 10 24 10 20-13-26-17-41-19-60-26-93-28-113-14-44-8-21-6-13-4-4-3-1-2 0-4 3zM2914 2817l7 15 8 12 8 9 7 4 7 2 6-1 7-4 7-7 11-19 12-28 43-124 18-46 10-20 10-15 9-10 10-7 7-2 8 0 8 2 8 3 17 13 42 40 22 18 13 8 12 5 12 3 10 0 9-1 9-3 9-5 10-8 18-18 35-42 15-17 17-14 16-9 16-5 17-1 15 2 43 9 14 1 11 0 13 9-13 1-15-1-46-10-15-3-16 1-16 4-17 10-17 15-14 16-36 44-18 18-10 7-9 5-9 4-10 1-12 0-11-3-12-6-12-8-22-17-43-44-16-13-8-3-8-2-8 0-7 2-10 8-9 10-9 14-10 21-18 46-41 124-12 27-10 18-7 9-5 5-7 3-7 1-6-3-7-5-7-7-8-12z"/>
<path transform="translate(0 -281)" d="M2629 2815l2 63 4 48 5 30 2 6 2 2-13-8-5-17-4-41-5-57-2-70zM2631 2956l1 2 2 0 7-11 2-2 14-10-4 7-5 17-4 5zM2657 2935l2-1 3 3 13 19 6 8 5 2 5 1 3-1 2-4-14 22-2 2-3 0-6-3-5-3-5-8-12-23-4-4-2 0zM2682 2984l2-5 3-10 3-27 17-199 4-39 6-34 12-55 36-139 13-37 5-11 6-8 14-5-6 2-7 9-5 10-7 17-34 114-13 56-5 25-4 36-18 226-4 32-2 13-2 7zM2803 2415l4 3 5 6 9 25 19 75 29 131 17 65 12 42 11 34 11 26 10 20-14-26-9-21-9-25-19-62-23-83-28-118-15-55-7-18-6-11-5-5-3 0-3 2zM2916 2816l8 15 8 12 8 8 6 5 8 3 7-2 7-4 6-7 12-19 12-28 43-126 18-45 10-21 10-15 9-10 10-7 7-2 8 0 7 2 8 4 17 12 42 42 21 17 12 8 13 5 11 4 11 0 10-1 9-3 9-5 10-8 18-18 36-44 15-16 17-14 16-9 15-5 17-1 16 2 44 10 14 1 13 0 13 9-14 1-16-1-15-3-32-8-16-2-16 0-15 5-16 8-17 15-16 17-36 44-18 18-10 8-10 6-9 3-10 1-11-1-11-3-13-5-12-8-21-18-42-44-17-13-8-4-8-2-7 0-7 2-10 7-9 11-9 14-10 21-18 47-42 125-11 27-10 18-7 9-7 6-6 3-7 0-7-2-7-6-8-9-6-10z"/>
<path transform="translate(0 -276)" d="M2635 2832l3 59 3 33 5 31 2 6 2 2-14-9-2-6-2-11-5-42-3-41-2-66zM2636 2954l3 2 2-2 5-13 4-6 14-11-4 8-7 25-3 6zM2664 2924l2-1 3 2 13 17 6 7 5 1 4 1 3-1 2-3-14 23-2 2-4 0-4-2-5-3-5-7-13-22-3-3-2 0zM2688 2970l2-4 2-9 4-24 18-219 4-39 6-34 12-54 35-126 7-20 5-13 6-10 6-6 13-2-5 1-7 6-7 11-6 16-33 102-8 29-5 26-6 36-5 42-18 233-3 24-3 11zM2808 2410l5 4 4 8 6 15 6 20 17 72 28 130 22 86 19 59 9 22 9 17-14-26-9-21-9-24-21-71-19-73-27-118-17-63-7-19-5-12-6-5-4 1zM2919 2817l8 15 8 12 8 8 8 6 8 1 6-2 7-5 7-7 11-20 13-29 41-124 18-46 10-21 10-15 9-10 10-7 7-2 7 0 8 2 8 3 16 13 43 44 22 17 12 8 12 6 11 3 12 0 10-1 9-4 9-5 10-7 18-18 36-44 14-16 17-15 17-10 16-4 16-1 15 3 46 10 15 1 13-1 14 9-15 2-17-1-15-3-34-9-16-2-16 0-15 5-16 9-16 14-16 18-35 43-19 19-10 8-10 6-9 3-10 1-12 0-12-4-12-5-13-8-21-19-42-45-16-13-8-4-8-2-7 0-7 2-10 7-9 11-9 14-10 21-18 47-40 123-12 28-11 21-6 9-7 6-7 4-7 0-6-2-7-5-8-9-7-11z"/>
<path transform="translate(0 -270)" d="M2642 2848l3 54 3 30 3 21 3 7 2 1-14-10-2-6-2-11-4-30-3-37-2-63zM2642 2951l2 2 3-2 6-20 4-7 13-13-3 10-8 34-3 6zM2670 2911l3-1 3 1 12 15 7 6 5 1 4 0 2-2 3-3-14 25-2 2-3 1-4-1-5-2-6-8-13-19-3-3-2 1zM2695 2953l2-5 2-10 4-27 17-215 4-42 6-36 13-58 33-111 7-18 5-12 7-10 5-5 14 2-5-1-7 4-7 9-7 13-31 90-8 28-6 25-5 34-5 42-18 240-3 26-3 12zM2814 2406l5 4 4 9 10 33 44 205 20 80 10 35 11 30 10 25 9 17-14-26-9-21-10-28-22-72-16-67-28-126-17-66-6-17-4-10-5-5-2-2-4 0zM2923 2818l8 15 7 10 7 8 8 6 8 2 7-2 7-4 7-9 12-20 12-29 42-125 18-47 10-21 10-16 9-10 10-6 7-2 6 0 8 2 8 4 17 13 42 44 21 18 12 8 13 5 11 3 11 1 10-1 9-3 10-6 10-8 18-18 36-44 16-17 17-15 16-8 15-5 16 0 16 2 32 8 15 3 16 1 14-1 14 9-17 2-17-1-15-3-36-10-16-2-16 0-14 5-16 9-17 15-14 16-38 46-19 19-10 7-10 6-9 3-10 1-11-1-13-3-12-6-12-8-22-19-40-45-17-14-8-4-8-2-6 0-7 2-9 6-10 12-9 14-10 21-18 48-41 124-11 28-11 21-7 9-7 7-6 3-7 1-7-2-8-6-7-8-6-10z"/>
<path transform="translate(0 -264)" d="M2649 2863l2 50 6 39 2 6 3 1-14-10-2-6-3-12-5-52-3-59zM2648 2949l2 2 2-3 9-31 4-6 13-14-2 4-2 8-8 39-2 8-2 3zM2678 2897l3-1 2 0 12 14 7 4 5 1 4-1 2-2 3-4-14 27-2 3-3 1-4-1-5-1-6-7-13-17-2-2-2 0zM2702 2935l3-11 3-24 18-233 5-42 6-36 5-26 8-29 32-99 6-17 6-10 5-7 6-3 14 4-6-2-3 0-3 2-6 6-7 12-29 75-8 25-7 28-4 25-5 38-5 67-13 176-3 33-2 14-2 7zM2819 2402l4 5 5 8 4 13 6 21 43 205 19 79 10 36 10 30 10 26 9 18-14-27-9-21-10-29-22-78-14-56-32-150-13-50-5-17-5-10-4-5-3-2-3 0zM2925 2816l8 15 7 11 8 9 8 5 8 2 6-1 8-5 7-8 11-19 12-29 13-35 31-97 18-46 10-21 9-14 9-10 10-6 7-2 7 0 8 2 8 4 15 13 42 45 21 19 13 8 11 5 12 3 12 1 10-1 9-3 10-5 10-8 19-19 37-46 15-16 16-14 16-9 15-5 16 0 16 2 34 9 15 3 17 1 15-2 14 9-18 3-18-1-17-3-36-10-15-3-15 0-15 4-15 9-17 15-16 17-37 46-19 20-10 7-10 6-10 3-11 1-12-1-11-3-11-5-13-8-21-20-42-47-15-13-8-5-8-2-7 0-7 2-9 6-10 12-9 14-10 22-18 48-40 125-13 30-11 21-7 9-6 6-7 3-7 0-8-3-6-5-7-7-7-11z"/>
<path transform="translate(0 -259)" d="M2656 2879l2 46 5 27 2 7 1 1 1-1-13-10-4-12-5-46-3-54zM2654 2949l2 1 3-6 8-34 2-7 3-4 13-16-2 5-2 9-9 51-2 7-3 4zM2685 2883l3-1 2 1 13 11 7 3 5 0 3-2 2-2 2-4-13 28-3 3-2 2-4 0-5-1-7-6-12-15-2-1-2 0zM2709 2917l3-12 3-26 17-227 5-46 5-37 6-26 9-33 29-84 7-15 6-10 5-5 6-2 14 6-6-4-3 0-4 2-5 5-7 10-28 65-8 24-7 28-4 26-5 41-17 234-3 35-5 23zM2824 2400l5 7 5 9 9 31 42 212 18 76 10 35 11 31 10 26 9 18-14-27-10-24-10-30-22-76-13-58-34-160-10-41-6-18-4-10-5-5-5-2zM2929 2818l8 15 6 10 8 9 8 5 8 2 7-2 8-5 6-8 13-21 12-30 43-130 18-47 10-21 9-14 9-10 10-6 7-2 6 0 7 2 8 4 17 14 40 45 22 19 12 8 12 6 13 3 11 1 10-1 9-3 10-6 10-7 19-19 38-46 14-16 17-15 16-9 14-5 16 0 16 2 36 10 15 3 17 1 17-2 14 8-19 4-19-1-17-3-37-11-16-3-15 1-14 4-16 8-17 15-15 18-36 45-21 20-11 9-10 5-10 3-10 2-13-1-11-4-11-5-12-9-21-19-41-48-17-15-8-4-7-2-6 0-7 2-10 7-9 11-9 14-10 22-17 45-42 129-11 29-11 21-7 9-7 7-6 4-8 1-8-2-7-5-7-8-6-10z"/>
<path transform="translate(0 -253)" d="M2663 2894l2 40 4 18 2 7 1 0-14-14-3-17-4-26-2-50zM2658 2945l1 2 3 1 3-7 9-43 2-8 2-4 14-17-2 5-2 10-10 62-4 11-2 2zM2692 2869l2-2 3 0 13 9 6 2 4-1 4-1 4-6-14 29-4 4-5 1-3-1-7-4-12-14-2 0-3 1zM2714 2899l3-5 2-10 3-28 17-232 5-45 5-37 7-29 8-26 27-70 7-14 5-9 6-4 5-1 14 8-7-5-5 1-6 4-7 9-25 52-8 23-7 25-6 34-4 43-18 250-3 26-4 11zM2828 2397l6 8 4 10 5 13 5 23 41 206 18 78 10 36 10 31 9 23 9 19-14-27-9-22-10-30-20-73-14-59-33-165-10-43-6-18-5-10-4-5-6-3zM2931 2817l8 15 8 12 7 7 8 6 7 1 8-1 8-6 7-8 12-21 13-30 11-33 31-99 18-47 10-21 9-14 10-11 9-6 8-1 8 1 8 3 9 6 16 15 41 47 13 11 11 9 10 5 10 4 10 3 10 0 11-1 10-3 10-6 10-7 19-20 37-46 16-17 17-15 15-9 15-4 15 0 15 3 36 10 17 3 18 1 18-3 14 9-18 3-17 1-19-4-38-11-16-3-17 0-16 4-15 9-17 14-16 18-36 45-20 21-11 9-10 5-11 3-11 2-12-1-11-4-12-5-12-9-20-20-41-48-17-15-7-5-7-2-7 0-7 2-10 7-9 11-9 15-9 18-18 49-41 130-13 31-11 21-7 9-6 6-7 4-8 1-8-2-7-6-6-7-7-11z"/>
<path transform="translate(0 -248)" d="M2670 2910l2 34 3 14 3 3-14-16-6-31-2-46zM2664 2945l1 3 1 1 1-1 4-7 10-55 2-9 2-5 14-17-4 16-12 75-3 12-2 3zM2699 2855l2-3 3 0 13 7 7 0 7-3 4-6-14 30-4 5-5 1-3 0-6-3-13-11-2-1-3 1zM2721 2880l3-6 2-11 3-30 17-235 4-44 5-30 6-25 7-26 7-18 18-41 7-14 6-8 6-6 6-1 14 10-7-5-6 0-6 5-7 9-16 27-7 13-8 21-6 26-6 35-4 47-17 237-4 27-3 13zM2832 2395l5 8 6 12 4 14 6 22 39 205 18 80 10 37 9 28 9 24 9 19-13-28-9-23-9-26-10-35-11-39-13-61-34-170-9-39-5-18-5-9-5-7-6-4zM2934 2816l7 16 8 12 7 8 8 5 8 2 8-1 8-6 7-9 13-22 12-30 12-36 31-96 18-48 10-21 9-14 9-10 10-7 8-1 8 1 8 3 9 6 15 16 41 47 12 12 11 8 10 6 11 5 10 2 10 1 10-2 10-3 10-5 11-9 21-20 36-45 15-18 17-15 16-8 14-4 15-1 16 3 37 11 17 3 19 1 19-4 14 9-19 4-18 1-21-4-37-11-15-4-18 0-16 4-16 9-17 15-14 16-37 47-12 12-10 10-11 8-10 5-11 4-12 1-12-1-11-4-11-6-12-8-20-21-39-48-17-16-8-4-7-3-6 0-7 2-10 7-9 11-9 15-9 19-18 49-29 94-13 36-12 31-11 22-8 10-7 7-8 4-7 0-7-3-7-5-7-8-7-11z"/>
<path transform="translate(0 -242)" d="M2677 2924l2 29 3 8 1 1-13-17-5-22-2-40zM2670 2945l1 3 1 0 1 0 3-8 4-17 8-50 2-10 3-6 14-19-3 8-3 11-12 89-3 13-3 3zM2707 2838l2-2 3 0 12 4 7-1 6-4 5-7-14 31-4 6-4 1-4 1-7-3-11-7-2-1-3 1zM2728 2859l4-11 3-26 17-236 4-48 6-37 5-24 8-24 7-16 15-30 8-14 5-7 7-5 6 1 13 12-6-6-6-1-6 2-8 9-14 20-7 12-8 20-5 21-6 33-4 45-17 238-4 28-3 13zM2836 2394l6 9 6 13 5 17 5 18 8 39 30 165 18 82 9 33 10 32 9 24 9 19-14-28-9-23-10-30-19-72-15-68-30-158-9-40-6-19-4-11-6-9-6-5zM2937 2817l8 16 8 12 7 8 7 5 8 1 8-2 8-6 8-9 12-22 13-30 12-36 30-97 18-49 9-18 9-15 9-11 10-7 7-2 7 0 7 2 7 5 17 15 41 48 20 20 12 9 12 5 11 4 12 1 11-2 11-3 10-5 11-9 20-21 36-45 16-18 17-14 15-9 16-4 17 0 16 3 38 11 19 4 17-1 18-3 14 8-21 5-19 1-20-4-38-12-16-4-17 0-15 4-16 8-17 15-16 18-38 48-20 21-11 8-12 6-11 3-11 2-11-2-12-3-11-6-11-9-20-21-41-50-16-15-7-5-7-2-8-1-7 3-9 6-9 11-9 15-10 22-17 46-40 129-12 32-13 24-8 10-6 7-8 4-7 1-8-2-7-5-6-8-7-11z"/>
<path transform="translate(0 -237)" d="M2684 2938l2 23-14-28-2-34zM2672 2933l1 4 14 25-1-1zM2687 2962l2 3-14-18-2-10zM2675 2947l3 3 1-1 3-9 5-24 8-56 2-10 3-8 14-19-3 9-3 11-13 105-3 14-3 3zM2714 2823l2-2 2-1 13 1 7-1 6-5 5-7-14 31-4 6-4 2-4 1-6 0-12-7-3 0-2 1zM2735 2839l3-13 4-27 17-237 4-47 6-35 5-22 7-20 7-14 12-22 8-12 7-8 3-3 4 0 5 1 14 14-7-7-5-2-7 3-9 8-11 12-7 11-8 19-6 20-5 36-5 47-15 223-4 29-3 15zM2841 2394l6 11 6 17 10 37 36 196 18 84 9 33 9 30 9 24 9 19-13-28-9-24-9-27-18-68-16-75-29-156-9-41-5-15-5-14-6-10-7-7zM2940 2817l7 16 8 13 7 7 8 6 8 1 8-2 7-5 8-9 13-22 13-32 13-37 31-101 17-45 9-19 9-15 9-11 10-7 7-2 6 0 7 3 8 4 17 16 39 48 20 21 12 8 11 6 11 4 12 1 12-1 11-4 10-5 11-8 10-10 12-12 37-47 14-16 17-15 16-9 16-4 18 0 15 4 37 11 21 4 18-1 19-4 13 8-21 6-20 1-21-4-39-13-15-3-17-1-16 4-16 9-17 14-15 18-37 47-22 22-11 9-11 6-13 4-11 1-11-1-11-4-11-6-12-9-20-22-39-50-9-10-8-6-8-5-7-2-6 0-7 2-9 6-9 11-9 15-9 19-17 47-30 98-13 37-12 32-12 23-8 11-7 6-8 5-7 1-7-3-7-5-7-8-7-12z"/>
<path transform="translate(0 -231)" d="M2691 2950l2 17-14-25-2-29zM2679 2942l1 2 14 23-1 0zM2694 2967l1 1-14-20-1-4zM2681 2948l1 2 1 1 2-1 3-9 4-26 9-69 3-11 3-8 14-20-4 9-3 20-12 106-4 19-2 6-1 1zM2721 2807l4-3 14-2 5-2 6-5 5-7-14 32-5 5-6 4-6 0-12-4-3 0-2 2zM2741 2820l2-6 2-10 4-28 17-238 4-45 5-28 4-19 4-13 6-14 7-12 14-20 8-9 7-2 3 0 4 2 14 17-7-9-4-2-3 0-8 2-11 8-7 6-7 11-6 15-5 15-5 33-5 45-17 233-3 25-3 11zM2846 2395l5 11 7 18 11 43 34 187 10 51 9 39 9 34 9 28 9 24 8 17-14-29-9-23-9-28-9-32-9-37-17-83-26-142-9-42-5-20-6-14-7-13-5-6zM2943 2818l8 16 7 11 6 8 7 5 7 2 7 0 7-4 7-6 7-9 7-11 14-33 14-39 39-125 14-34 12-24 7-10 8-8 7-5 8-2 8 1 8 4 9 7 10 10 14 16-18-20-8-6-8-4-8-1-6 1-8 4-7 6-7 9-7 12-14 33-15 42-39 127-12 32-13 24-8 12-8 8-7 5-7 1-8-2-7-5-6-8-7-11zM3185 2588l12 17-14-19-12-14zM3183 2586l33 41 11 12 12 10 11 7 11 5 11 2 11 0 12-2 10-4 10-6 10-8 19-20 37-47 15-17 17-15 15-9 16-4 9-1 9 1 16 4 38 12 20 4 19-1 21-5 13 8-22 6-10 2-11 0-22-4-39-13-16-4-17-1-15 4-16 9-17 15-16 18-37 47-20 21-10 8-10 6-12 5-10 2-11 0-10-1-10-5-11-7-10-8-12-12-28-36z"/>
<path transform="translate(0 -225)" d="M2697 2961l3 12-14-24-2-23zM2686 2949l2 3 1 1 1-1 4-10 4-28 10-83 3-11 3-9 14-20-4 10-3 21-9 86-6 44-3 16-3 5zM2728 2791l4-4 15-6 5-3 6-6 3-6-13 32-5 6-5 4-7 1-13-1-2 1-2 2zM2748 2798l4-17 4-29 15-223 5-47 5-36 5-17 4-12 6-12 7-10 12-14 8-6 7-2 3 1 3 3 14 19-7-9-6-4-8 0-13 6-6 6-7 10-6 14-3 12-4 26-6 55-16 217-3 25-4 12zM2850 2396l6 12 7 19 11 43 8 41 25 149 18 86 8 30 9 29 9 24 8 17-14-29-7-21-9-28-17-65-17-84-26-145-9-41-6-20-5-15-7-14-6-7zM2945 2817l8 16 7 12 7 8 7 5 6 2 7 0 7-3 8-7 6-8 8-13 15-33 14-43 39-122 12-32 12-25 7-10 8-9 7-5 8-2 7 0 8 3 9 6 9 9 14 16-9-11-9-8-8-6-7-2-7-1-7 2-7 4-7 7-6 9-7 12-14 31-14 43-38 124-14 35-12 25-8 12-8 9-8 5-7 2-7-2-7-5-8-9-7-12zM3185 2582l19 26-14-19-19-23zM3190 2589l31 39 11 12 10 9 11 7 10 4 12 3 11 0 11-3 10-4 10-6 10-8 21-21 37-47 15-18 17-14 16-9 16-4 17 1 15 3 39 13 21 4 20-1 21-6 14 7-13 5-12 3-11 2-10 0-11-2-11-2-40-14-15-4-17-1-8 2-8 2-16 9-17 15-15 18-37 48-21 21-10 8-10 6-11 5-10 3-11 0-10-2-11-4-10-6-10-8-11-12-26-34z"/>
<path transform="translate(0 -220)" d="M2704 2973l3 5-14-22-2-17zM2693 2956l2 1 2-4 4-15 4-32 9-81 3-20 4-9 14-20-4 10-3 22-15 140-3 21-3 9zM2735 2776l4-5 20-13 6-6 3-6-13 31-5 7-6 5-5 2-14 2-4 3zM2755 2777l4-18 3-29 16-222 5-45 4-28 4-13 5-16 6-10 6-9 13-10 8-4 6 0 7 6 14 23-7-12-7-6-7-1-12 1-6 4-6 7-6 10-4 13-6 33-4 44-16 213-3 25-4 13zM2856 2402l6 13 5 17 13 49 7 42 25 144 17 82 8 30 8 26 9 24 8 18-14-31-8-21-9-28-16-63-17-85-23-135-9-43-11-38-7-15-6-9zM2948 2816l8 18 6 11 7 9 7 5 7 3 7-1 7-3 8-7 7-9 8-14 14-33 15-42 38-124 12-32 12-23 6-11 8-9 7-5 8-3 7 0 8 2 7 5 9 8 14 16-16-17-7-5-7-2-7-1-7 2-6 4-7 7-7 9-7 12-13 32-14 39-40 131-14 35-12 25-8 12-8 9-7 5-7 1-8-2-7-5-8-9-6-12zM3185 2577l26 36-14-19-14-20-12-13zM3197 2594l28 36 12 12 10 8 11 7 10 5 10 1 11 0 10-2 12-5 10-6 10-8 20-21 37-47 16-18 17-15 16-9 15-4 17 1 16 4 39 13 22 4 11 0 10-2 22-6 14 7-15 6-11 3-11 2-11 0-11-2-12-2-40-15-16-4-17-1-8 2-7 2-16 9-17 16-16 18-37 47-20 22-10 8-11 7-12 5-10 2-10 1-10-2-10-4-10-6-10-9-10-10-24-31z"/>
<path transform="translate(0 -214)" d="M2711 2982l1 0-13-25-2-7zM2699 2957l1 5 2-3 2-6 2-12 5-34 11-105 3-16 4-8 14-20-4 8-3 18-16 158-4 31-3 8-1 1zM2743 2758l3-4 20-16 5-5 3-6-14 31-3 5-6 5-5 3-14 5-3 2zM2760 2758l5-15 3-25 16-217 6-55 4-26 3-12 6-14 6-9 5-5 13-7 7-2 7 3 6 6 14 25-7-12-7-7-8-4-11-1-7 3-5 6-6 10-3 11-5 25-5 54-15 195-3 26-5 16zM2861 2405l5 14 7 22 12 52 32 180 15 78 7 27 8 26 8 22 9 20-14-31-9-25-8-25-14-60-15-75-23-136-9-45-13-43-7-16-5-10zM2950 2815l8 18 7 12 7 9 6 6 7 2 8 0 7-3 7-8 7-8 8-14 16-36 14-42 39-124 12-33 11-23 7-11 7-8 6-5 8-4 7 0 8 2 8 5 9 8 14 16-8-9-8-8-8-5-7-2-7-1-6 2-7 5-6 6-6 9-7 12-14 32-13 40-41 131-13 36-14 27-7 12-8 9-8 5-7 1-8-2-6-5-7-9-8-14zM3188 2574l29 41-14-20-17-22-12-15zM3203 2595l26 35 11 12 10 8 10 7 10 4 10 2 12 0 10-3 11-4 10-6 11-9 21-21 37-48 15-18 17-15 16-9 8-2 8-2 17 1 15 4 40 14 11 2 11 2 10 0 11-2 12-3 13-5 14 7-16 7-11 3-12 3-12 0-11-1-12-3-41-15-15-4-17-1-8 1-8 3-16 9-17 15-15 18-37 48-21 21-10 9-11 7-11 5-10 3-10 1-10-2-11-4-9-5-10-9-10-10-22-30z"/>
<path transform="translate(0 -209)" d="M2704 2962l3 5 1-2 2-7 2-13 6-47 10-101 3-22 2-8 3-4 14-20-5 13-3 23-16 168-3 27-5 17zM2750 2743l4-6 19-18 8-12-14 30-3 6-6 5-19 12-3 3zM2767 2737l5-15 3-25 16-213 4-44 6-33 3-10 6-12 6-7 5-4 11-2 8 1 7 4 6 7 13 29-6-14-7-9-8-6-10-4-7 1-5 4-6 8-3 9-5 23-6 50-14 189-4 26-4 17zM2866 2413l12 35 12 52 9 48 22 133 15 73 13 51 8 22 8 18-14-33-7-22-8-26-14-57-13-70-24-138-9-44-12-44-6-15-5-12zM2951 2812l8 19 7 13 7 10 8 7 6 3 8 0 7-4 8-7 7-9 7-13 16-35 16-46 38-124 12-34 12-23 6-11 7-8 7-5 8-4 7 0 7 3 8 5 8 7 14 15-9-10-9-8-8-4-8-2-8 2-6 4-8 8-7 10-12 25-13 33-39 129-16 46-15 37-8 14-7 10-7 7-7 4-6 2-6-1-7-4-5-5-7-10-7-13zM3190 2571l31 46-13-20-19-27-13-14zM3208 2597l25 34 11 11 10 9 10 7 10 4 10 2 11-1 10-2 12-5 11-7 10-8 20-22 37-47 16-18 17-16 16-9 7-2 8-2 17 1 16 4 40 15 12 2 11 2 11 0 11-2 11-3 15-6 14 7-16 7-12 4-13 2-12 1-11-1-13-3-41-16-16-4-17-1-8 1-7 3-16 9-17 15-16 19-37 47-20 22-11 9-12 8-11 5-10 3-10 1-9-2-10-4-9-5-9-8-10-10-23-30z"/>
<path transform="translate(0 -203)" d="M2711 2971l1 0 1-1 2-3 4-27 17-167 3-18 5-10 14-20-5 11-4 28-17 188-4 28-3 18zM2758 2725l23-28 7-11-14 30-3 6-5 5-22 18zM2774 2716l5-16 3-26 15-195 5-54 5-25 3-11 5-8 5-7 7-4 10 1 9 3 7 6 5 9 14 32-6-13-6-12-8-8-10-7-7-1-6 2-5 6-4 7-4 20-6 46-15 192-4 22-3 11zM2872 2421l11 37 13 55 29 170 13 68 13 50 12 34-14-35-12-42-12-55-13-66-21-126-9-45-12-48-6-16-6-13zM2949 2800l8 20 8 18 7 11 8 10 8 5 7 1 8-3 8-7 8-10 8-13 8-16 9-22 15-46 39-125 12-33 11-24 7-11 7-8 6-5 7-3 7-1 7 2 8 5 7 6 14 16-9-10-8-7-8-4-7-1-8 2-7 4-7 7-8 12-11 24-12 33-40 129-15 47-17 39-8 14-8 11-8 8-6 3-7 1-7-3-7-5-5-7-7-12-8-17zM3191 2567l13 17 23 35-14-20-21-30-15-18zM3213 2599l24 32 10 11 10 9 10 7 10 4 11 2 10-1 10-2 11-5 11-8 11-9 21-21 37-48 15-18 17-15 16-9 8-3 8-1 17 1 15 4 41 15 12 3 11 1 12 0 12-3 11-3 16-7 14 7-17 8-12 4-14 3-12 1-13-1-12-3-42-16-15-5-17-1-8 1-8 3-16 9-16 16-16 18-37 48-21 22-11 9-11 8-11 6-10 3-10 0-9-1-9-3-9-5-9-8-11-10-21-29z"/>
<path transform="translate(0 -198)" d="M2718 2980l5-17 3-27 17-177 3-18 5-11 13-19-4 11-5 28-16 197-7 58zM2764 2711l24-32 6-10-14 29-7 10-22 22zM2780 2698l4-13 5-32 14-189 6-50 5-23 3-9 4-7 6-4 7-2 9 3 9 6 6 8 6 11 14 34-6-14-6-13-8-10-10-10-7-3-6 1-5 4-4 8-4 20-6 46-15 174-3 21-4 14zM2878 2431l11 40 11 52 30 169 12 63 11 46 11 34-13-38-12-40-12-57-30-175-9-46-13-51-11-31zM2951 2797l7 21 9 21 8 13 7 8 8 6 8 1 8-3 8-6 7-11 9-15 8-16 9-23 16-46 38-125 11-31 12-25 6-11 7-9 7-6 7-3 6-1 7 2 8 4 8 7 14 15-9-10-8-6-8-4-8-1-8 2-7 5-6 8-7 11-11 23-13 34-39 129-17 50-17 39-8 15-7 11-8 7-7 4-7 0-7-3-6-5-7-10-8-13-7-15zM3194 2564l12 17 26 40-14-20-24-35-14-17zM3218 2601l24 32 10 11 10 9 9 6 10 4 10 2 10-1 10-3 11-5 12-8 11-9 20-22 37-47 16-19 17-15 16-9 7-3 8-1 17 1 16 4 41 16 13 3 11 1 12-1 13-2 12-4 16-7 14 6-18 9-14 5-13 3-13 1-12-1-12-3-43-17-16-5-9-1-8 0-8 2-7 2-16 10-17 15-16 19-37 48-20 22-11 9-11 8-12 6-10 3-10 1-9-1-9-3-9-5-9-7-9-10-21-29z"/>
<path transform="translate(0 -192)" d="M2725 2987l3-18 4-28 18-197 4-23 6-10 14-19-5 8-2 7-5 29-18 218-5 55zM2774 2692l25-40-13 27-6 9-20 23zM2786 2679l3-7 2-8 4-22 15-192 5-39 4-23 4-9 4-7 6-3 7 0 9 5 9 9 6 9 6 12 14 38-6-16-7-14-8-12-9-11-6-6-6-1-6 3-3 5-4 17-6 41-15 166-3 21-6 17zM2884 2442l10 37 11 53 29 168 11 58 12 47 10 31-14-39-10-37-11-52-30-170-10-52-11-47-11-35zM2953 2797l8 22 8 18 9 16 8 9 7 5 8 1 8-3 8-7 8-11 9-16 17-39 15-47 39-126 11-31 11-25 7-11 6-7 6-7 7-3 7-1 6 1 8 4 8 7 14 15-9-10-8-6-8-4-6-1-8 2-7 5-7 8-7 11-11 23-12 34-40 130-16 50-9 23-9 20-8 14-8 11-7 7-7 4-6 1-7-3-8-6-8-11-6-12-7-15zM3196 2561l13 19 27 43-13-21-25-37-16-19zM3223 2602l23 32 10 11 9 8 9 6 10 4 9 1 11 0 10-3 11-5 11-8 11-9 22-23 37-48 16-18 16-16 16-9 8-3 8-1 17 1 15 5 42 16 12 3 13 1 12-1 14-3 12-4 17-8 13 6-19 10-13 6-14 3-13 1-12-1-14-4-43-17-15-4-9-2-8 1-8 1-8 3-16 9-16 16-16 18-37 48-22 23-12 11-11 8-10 5-10 4-9 1-9-2-9-3-9-5-9-7-9-10-21-27z"/>
<path transform="translate(0 -186)" d="M2732 2993l7-58 13-163 5-43 2-14 3-12 13-19 13-22-10 19-3 8-4 16-2 16-4 48-19 244zM2788 2662l18-29-14 26-4 8-13 17zM2792 2659l6-16 3-21 15-174 6-46 4-20 4-8 4-4 6-1 6 2 8 7 9 11 7 11 6 13 13 41-5-17-7-16-8-14-9-13-7-7-6-2-5 1-3 5-5 17-5 40-14 147-3 21-6 17zM2889 2454l10 39 11 48 29 168 9 47 11 49 10 33-14-41-10-39-10-48-27-157-11-59-11-48-10-33zM2955 2797l7 20 8 18 9 16 9 12 8 5 8 1 8-3 7-7 8-11 8-13 9-19 9-23 17-50 38-126 11-31 12-25 6-12 6-7 7-7 6-3 6-1 7 1 7 3 7 6 14 15-8-8-8-7-7-3-7-1-8 3-7 5-6 9-7 11-11 25-12 31-39 130-17 51-18 43-8 15-8 12-7 8-7 4-7 0-7-2-8-7-8-11-7-13-6-13zM3197 2556l15 21 29 47-14-21-27-42-9-11-8-9zM3227 2603l23 31 10 11 9 8 9 6 10 4 9 1 10 0 10-3 11-6 12-8 11-9 21-23 37-48 16-19 17-15 16-10 7-2 8-2 8 0 9 1 16 5 43 17 12 3 12 1 13-1 13-3 14-5 18-9 13 6-20 11-13 6-15 4-13 1-13-1-13-3-44-18-16-5-9-1-8 0-8 1-7 3-16 9-17 16-16 19-38 49-21 23-11 10-12 8-10 6-10 3-9 2-9-1-9-3-9-6-9-7-9-10-19-26z"/>
<path transform="translate(0 -181)" d="M2739 2998l5-55 14-171 5-56 3-14 3-13 17-28 14-22-17 34-4 13-3 22-7 77-17 230zM2800 2639l11-18-14 24-11 16zM2797 2645l6-12 4-21 4-30 12-145 6-41 4-17 3-5 5-3 7 1 5 4 8 10 9 13 6 11 5 14 14 44-11-32-8-17-9-15-7-9-6-5-5-1-3 2-5 14-5 36-15 146-5 21-5 13zM2895 2468l9 36 10 49 37 208 12 49 10 34-14-42-9-35-10-48-27-156-11-59-11-45-10-35zM2959 2802l7 20 8 18 8 15 9 11 7 5 8 1 8-3 8-7 8-11 9-16 9-20 9-23 16-50 39-127 11-31 10-23 7-12 7-9 5-6 7-4 7-1 6 1 7 4 7 5 14 15-8-9-8-6-8-3-7 0-6 2-7 6-7 8-7 11-11 25-11 31-41 135-16 50-18 44-8 15-8 12-7 7-7 4-6 1-7-2-9-6-8-10-7-11-5-14zM3200 2554l14 20 33 54-14-22-29-45-9-12-9-10zM3233 2606l21 30 9 10 9 8 9 6 9 4 9 1 10 0 11-3 10-5 11-8 12-11 22-22 38-50 16-18 16-16 16-9 8-3 8-1 8-1 9 2 15 4 43 17 14 4 12 1 13-1 14-3 13-6 19-10 14 6-21 12-15 7-14 4-15 1-12-1-14-4-44-18-15-5-9-1-8 0-8 1-8 3-16 10-16 16-16 18-38 50-24 25-11 10-11 8-11 6-9 3-9 1-7-1-9-3-8-5-8-6-9-9-19-26z"/>
<path transform="translate(0 -175)" d="M2746 3002l19-244 5-57 4-19 3-10 20-35 14-22-8 15-13 30-4 12-2 14-8 84-14 204-3 42zM2811 2615l3-5-13 22-4 5zM2801 2632l5-10 4-8 4-21 3-29 13-136 4-31 5-17 3-5 5-1 6 2 6 6 8 11 9 15 11 28 14 46-12-37-16-33-7-10-7-7-4-2-4 2-4 13-5 26-11 109-4 33-5 18-8 16zM2901 2482l9 38 9 44 37 207 10 44 10 34-14-43-9-35-10-48-26-150-11-59-10-46-9-32zM2962 2806l7 21 8 18 8 12 9 10 8 6 8 0 7-3 8-8 8-11 9-17 18-43 17-51 38-127 11-32 11-23 6-12 6-8 6-6 6-4 6-2 7 1 6 3 7 5 14 14-8-8-8-6-7-2-6 0-7 3-7 6-7 9-6 12-12 25-11 32-39 131-17 51-18 45-8 16-8 12-8 9-6 4-7 1-8-2-8-5-6-7-7-12-6-14zM3201 2549l16 22 34 58-13-21-32-51-10-13-9-9zM3238 2608l21 30 9 10 9 7 9 6 9 3 9 2 9-1 10-4 10-5 11-8 12-10 22-24 38-49 16-19 17-16 16-9 7-3 8-1 8 0 9 1 16 5 44 18 13 3 13 1 13-1 15-4 13-6 20-11 14 6-23 14-15 6-15 5-14 1-14-1-13-4-44-18-16-5-9-2-8 0-7 2-8 2-16 10-17 16-16 19-39 51-24 25-11 11-10 7-10 6-9 3-9 1-8-1-9-3-8-4-8-7-9-9-18-25z"/>
<path transform="translate(0 -170)" d="M2752 3004l18-245 7-71 4-19 3-10 15-29 14-25 6-17 4-30 13-128 6-40 4-10 3-2 6 1 8 7 7 12 11 19 6 16 7 20 14 50-7-24-7-19-10-25-9-18-9-13-5-5-4 2-3 8-4 15-3 21-10 94-4 28-6 17-15 28-14 33-4 11-3 18-5 42-5 72-13 181-2 47zM2908 2503l8 34 9 45 34 195 11 44 10 35-14-44-9-36-9-43-26-149-11-59-9-42-8-30zM2966 2812l7 21 6 16 7 11 9 10 9 5 8 1 8-3 9-9 8-12 9-17 18-45 17-51 38-127 10-29 10-24 12-21 6-7 7-5 5-1 7 0 7 2 6 5 14 14-8-8-6-5-7-2-7 0-7 3-6 6-7 9-7 12-11 26-11 32-41 135-18 54-17 43-7 15-8 13-8 8-7 5-8 1-9-2-6-5-6-6-6-10-5-14zM3203 2546l17 25 36 61-14-22-32-53-12-16-9-9zM3242 2610l21 29 9 10 9 8 8 5 9 4 9 1 9-1 9-3 11-6 11-8 11-10 24-25 38-50 16-18 16-16 16-10 8-3 8-1 8 0 9 1 15 5 44 18 14 4 12 1 15-1 14-4 15-7 21-12 14 6-24 14-15 7-16 5-15 2-13-1-14-4-45-19-15-5-9-1-8 0-8 1-8 3-16 9-16 16-16 19-39 51-25 28-11 10-11 7-9 5-9 4-9 1-7-1-9-3-8-4-8-7-8-8-18-24z"/>
<path transform="translate(0 -164)" d="M2759 3005l3-42 14-204 8-84 3-19 4-10 14-32 15-26 6-17 4-29 11-111 4-23 3-15 3-9 4-2 5 3 8 9 8 14 10 21 7 17 7 21 14 52-7-24-8-24-11-28-9-19-8-14-5-5-2 0-2 3-4 9-5 31-9 77-5 27-5 17-14 26-15 38-4 11-3 18-5 40-6 88-12 172-2 51zM2914 2519l15 75 34 189 10 44 10 34-14-44-7-31-8-37-35-196-10-50-9-36zM2969 2817l7 21 6 14 7 12 7 8 11 5 7 1 8-3 9-9 8-12 9-18 18-45 17-51 39-131 10-29 10-24 13-21 5-6 7-5 6-2 7 0 5 2 7 5 14 14-8-8-7-5-7-2-6 1-7 3-6 5-7 9-6 12-12 26-11 32-40 136-19 58-17 43-8 16-7 11-8 9-6 5-10 2-8 0-6-4-6-6-5-11-6-14zM3206 2543l17 24 38 66-14-22-35-58-11-15-9-9zM3247 2611l19 28 9 10 9 8 8 5 9 4 9 1 9-1 9-3 10-5 11-8 11-11 24-25 39-51 16-19 17-16 16-10 8-2 7-2 8 0 9 2 16 5 44 18 13 4 14 1 14-1 15-5 15-6 23-14 14 5-26 16-16 8-15 5-15 2-13-1-15-4-45-20-16-5-9-1-8 0-7 1-8 3-16 10-17 16-16 18-39 52-26 29-10 9-10 8-9 5-9 4-9 1-8 0-8-3-8-4-7-6-8-8-18-25z"/>
<path transform="translate(0 -159)" d="M2766 3005l2-47 13-181 5-72 5-42 3-18 4-11 14-33 15-28 6-17 4-28 10-94 3-21 4-15 3-8 4-2 5 5 9 13 8 16 10 24 7 19 7 23 13 55-6-27-8-25-11-31-9-21-9-19-5-6-2-1-2 2-4 8-4 21-10 77-5 23-4 12-15 30-15 37-3 11-3 17-5 39-7 87-11 178-2 56zM2920 2543l15 71 31 175 9 41 9 31-13-46-14-60-32-184-9-45-9-38zM2971 2815l6 23 7 18 7 13 7 7 9 5 10 1 8-4 9-9 7-12 8-15 18-45 18-54 41-135 10-29 10-25 12-21 6-6 6-5 5-2 7 0 6 2 6 4 14 14-8-8-7-4-6-2-7 1-7 4-5 6-7 9-7 13-10 24-11 32-42 139-19 59-17 43-8 16-6 11-8 10-8 6-9 3-8 0-6-4-5-7-6-11-7-19zM3208 2540l8 10 9 14 40 72-13-23-38-62-11-16-9-9zM3252 2613l19 28 9 10 8 7 7 5 9 4 9 1 9-1 9-3 10-6 11-7 11-10 25-28 39-51 16-19 16-16 16-9 8-3 8-1 8 0 9 1 15 5 45 19 14 4 13 1 15-2 16-5 15-7 24-14 14 5-27 17-16 8-16 6-15 2-14-1-14-4-14-5-33-15-15-5-9-2-8 0-8 2-8 2-16 10-18 17-14 18-42 54-26 29-19 16-9 6-9 3-7 1-8 0-8-2-8-5-8-6-8-8-17-23z"/>
<path transform="translate(0 -153)" d="M2773 3002l2-51 12-172 6-88 5-40 3-18 4-11 15-38 14-26 5-17 5-27 9-77 5-31 4-9 2-3 2 0 4 4 8 13 9 18 11 28 8 23 6 24 14 57-8-31-9-29-12-35-15-36-3-7-3-3-4 3-2 5-4 19-9 63-5 21-4 13-15 30-16 42-3 12-4 20-4 42-7 89-10 166-2 60zM2926 2561l14 66 30 168 8 37 8 29-14-49-14-64-31-177-15-67zM2972 2812l7 24 6 20 7 15 7 9 8 5 5 0 6 0 9-4 9-9 8-12 8-16 18-45 19-58 39-132 10-30 10-25 13-22 6-8 6-4 6-3 6 0 6 2 7 5 14 14-8-8-7-5-7-2-7 1-6 4-6 6-7 10-6 12-10 24-13 36-41 139-21 63-15 41-8 16-7 11-8 10-11 9-7 4-7-1-5-4-6-9-7-14-6-20zM3212 2538l7 10 9 15 42 74-14-22-38-66-11-16-9-9zM3256 2615l19 28 9 10 8 6 8 5 9 3 8 1 9-1 9-3 9-5 10-8 10-9 26-29 40-53 16-18 17-16 16-10 8-3 7-1 8 0 9 1 16 5 45 20 15 4 13 1 15-2 15-5 16-8 26-16 14 5-30 19-15 9-16 6-16 2-14-1-15-4-13-5-33-16-16-5-9-2-8 1-9 1-7 3-16 10-17 17-16 19-42 55-25 29-19 16-9 5-8 3-8 2-8-1-8-2-8-4-7-7-8-8-16-22z"/>
<path transform="translate(0 -148)" d="M2780 3000l2-56 11-178 7-87 5-39 3-17 3-11 15-37 15-30 4-12 5-23 10-77 4-21 4-8 3-2 3 3 5 9 12 27 11 29 9 28 8 29 14 59-8-32-8-27-12-38-18-50-3-7-4-3-3 3-2 5-5 21-8 49-3 14-5 12-13 28-17 47-3 11-4 19-5 53-7 92-9 153-2 64zM2933 2586l12 62 30 161 7 35 7 25-14-50-11-52-29-164-16-76zM2975 2819l7 24 8 23 7 14 5 7 7 4 5 1 4-1 11-6 9-10 8-12 8-15 17-43 20-62 41-136 10-29 10-25 12-23 6-7 5-5 6-2 7-1 5 2 7 4 14 14-7-7-7-4-6-2-7 1-7 4-5 5-7 10-7 13-11 26-12 37-44 147-18 57-16 41-8 16-7 12-10 13-9 9-6 3-6 0-6-5-6-10-7-15-6-17zM3214 2535l8 10 9 15 31 59 13 21-14-23-41-71-10-14-10-11zM3261 2617l18 27 9 10 8 7 8 5 9 3 7 1 9-2 9-3 9-6 19-16 26-29 42-54 14-18 18-17 16-10 8-2 8-2 8 0 9 2 15 5 33 15 14 5 14 4 14 1 15-2 16-6 16-8 27-17 14 5-31 20-17 9-15 6-16 3-15-1-14-3-15-6-32-16-16-6-9-1-8 0-9 2-8 3-16 10-18 17-14 18-45 59-24 27-18 16-9 5-8 4-7 1-8 0-8-3-7-3-8-6-8-8-15-22z"/>
<path transform="translate(0 -142)" d="M2787 2994l2-60 10-166 7-89 4-42 4-20 3-12 16-42 15-30 4-13 5-21 9-63 4-19 2-5 4-3 3 3 3 7 15 36 12 35 9 29 8 31 14 61-15-58-33-107-4-7-2-3-2 1-1 1-3 4-3 13-7 37-4 19-4 10-11 23-7 17-15 45-5 22-5 51-7 90-9 155-2 68zM2940 2611l11 57 27 147 7 32 7 26-14-52-10-48-28-157-14-66zM2978 2821l7 25 7 24 7 14 7 10 7 4 3 0 5-2 10-7 10-10 8-13 8-15 16-44 21-63 40-136 11-33 10-25 13-23 5-7 6-4 6-3 6-1 6 2 7 5 13 14-6-7-7-5-7-2-7 1-6 4-6 6-7 9-6 13-12 27-12 36-48 163-17 53-17 43-7 13-9 14-9 13-6 7-6 2-6-1-5-5-7-11-7-16-5-17zM3217 2533l8 10 9 15 32 60 13 23-14-22-41-75-10-15-10-10zM3265 2619l18 26 8 9 8 7 8 5 8 3 8 1 9-1 9-4 9-5 19-16 25-29 42-55 16-19 17-17 16-10 7-3 9-1 8-1 9 2 16 5 33 16 13 5 15 4 14 1 16-2 16-6 15-9 30-19 13 5-32 22-17 10-17 6-16 3-14-1-15-4-14-6-33-16-16-6-9-1-8 0-9 2-7 3-16 10-18 18-16 19-46 60-22 26-18 16-8 5-8 4-8 1-8 0-8-2-6-4-7-5-8-8-16-22z"/>
<path transform="translate(0 -136)" d="M2794 2988l2-64 10-170 7-87 5-48 5-20 16-44 15-34 5-12 3-14 8-49 5-21 2-5 3-3 3 1 3 6 14 40-4-11-3-7-3-3-4 4-3 11-10 45-19 43-17 49-5 18-7 54-6 88-9 157-2 70zM2900 2464l5 22-14-47-5-15zM2891 2439l26 76 15 54 14 62-13-50-28-95zM2946 2631l37 197 12 53-14-53-9-43-27-149-13-67zM2981 2828l7 26 8 22 8 17 7 8 3 3 3 0 7-2 8-7 11-13 7-11 8-15 17-43 19-60 42-144 12-33 10-26 12-24 6-7 5-5 6-3 7-1 5 1 7 4 14 14-7-7-7-4-6-2-7 2-7 4-5 6-7 11-7 13-11 27-13 37-49 168-17 53-16 40-20 38-7 9-5 5-6 1-4-2-7-7-6-10-5-13-6-17zM3220 2529l8 10 9 15 32 63 14 24-14-22-42-77-11-16-10-11zM3269 2619l18 26 8 9 8 7 8 5 7 3 8 1 9-1 8-3 9-5 19-17 24-27 45-59 14-18 18-17 16-10 8-3 9-2 8 0 9 1 16 6 32 16 15 6 14 3 15 1 16-3 15-6 17-9 31-20 13 5-35 23-16 10-17 7-16 3-15-1-15-4-15-6-32-17-16-5-9-2-8 0-9 2-8 3-8 5-9 6-18 18-15 20-48 62-21 25-18 16-8 5-8 3-8 2-6 0-8-3-7-3-7-6-8-8-15-22z"/>
<path transform="translate(0 -131)" d="M2801 2981l2-68 9-155 7-90 5-51 5-22 15-45 7-17 11-23 4-10 4-19 7-37 3-13 3-4 2-2 2 1 2 4 14 38-3-11-4-6-2 0-1 0-2 4-11 42-20 43-18 53-4 19-6 45-6 85-9 157-3 74zM2903 2468l10 43-13-50-11-31zM2900 2461l25 81 14 53 14 63-13-51-27-96zM2953 2658l34 183 13 52-14-52-10-48-26-142-11-56zM2986 2841l6 21 6 20 7 15 8 11 6 4 3 0 3-1 7-6 9-11 10-16 8-15 17-43 18-56 46-156 11-34 10-26 13-23 5-8 6-5 5-3 7-1 6 1 7 5 13 13-6-6-7-5-7-1-7 1-6 4-7 8-7 11-7 14-11 28-13 40-50 170-15 50-15 38-21 44-6 9-6 5-4 1-6-2-6-7-6-9-6-13-4-14zM3223 2527l8 11 9 15 33 65 14 26-13-23-43-80-11-17-10-10zM3274 2621l16 26 8 9 8 7 8 5 8 3 8 0 9-1 8-3 9-6 18-16 22-26 46-60 16-19 18-18 16-10 7-3 9-2 8 0 9 1 16 6 33 16 14 6 15 4 14 1 16-3 17-6 17-10 32-22 14 5-37 26-16 9-16 7-17 4-15-1-16-4-14-6-34-17-16-6-9-1-8 0-9 1-7 3-8 5-9 7-19 19-17 21-47 63-21 24-16 15-8 5-8 3-8 2-7 0-8-2-6-4-7-5-8-8-15-21z"/>
<path transform="translate(0 -125)" d="M2808 2971l2-70 9-157 6-88 6-48 5-20 16-49 21-47 12-53 3-6 3-1 2 3 14 35-4-10-2-3-2 0-2 3-12 35-12 25-6 14-19 57-4 20-6 46-7 88-7 140-3 76zM2907 2470l13 63-14-54-9-33-4-11zM2906 2479l27 91 13 50 13 65-11-48-28-104zM2959 2685l32 163 12 53-13-53-9-43-35-185zM2990 2848l6 26 6 16 5 12 7 11 7 5 6 1 6-5 7-9 20-36 17-43 17-53 48-164 13-38 10-25 12-24 6-7 5-6 6-3 7-1 5 2 7 4 14 14-8-8-7-4-6-1-7 2-7 5-7 8-6 12-7 14-13 32-13 41-48 168-15 47-18 48-11 27-8 16-6 8-5 4-6 1-5-3-6-6-5-7-5-13-5-15zM3227 2525l8 11 9 15 33 68 15 27-14-23-44-84-11-17-10-11zM3278 2623l17 25 8 9 8 7 8 5 8 2 7 1 8-2 8-3 8-5 18-16 21-25 48-62 15-20 18-18 9-6 8-5 8-3 9-2 8 0 9 2 16 5 32 17 15 6 15 4 15 1 16-3 17-7 16-10 35-23 14 4-40 28-16 10-17 8-17 3-14-1-16-4-16-7-31-16-16-6-15-2-14 2-9 4-9 6-9 8-10 10-21 24-60 81-17 18-15 11-9 5-8 1-9 0-7-3-8-5-8-7-8-10-9-13z"/>
<path transform="translate(0 -120)" d="M2814 2962l3-74 8-139 6-91 6-50 5-26 21-59 15-34 13-45 3-4 1 0 3 2 13 34-3-10-2-3-3 0-2 4-10 27-16 34-20 59-4 18-6 42-7 85-8 140-2 77zM2911 2476l17 86-14-57-11-48-5-15zM2914 2505l26 91 13 51 13 65-11-48-27-102zM2966 2712l30 149 12 53-14-53-10-48-31-166zM2994 2861l6 21 5 17 6 13 7 9 6 5 6 1 6-4 6-9 8-14 14-29 16-41 15-50 49-166 12-38 11-29 13-25 6-9 6-5 6-4 6 0 6 1 7 5 13 14-7-8-7-5-7-1-7 2-6 5-7 9-7 11-7 14-13 35-15 45-47 167-15 48-23 65-13 28-5 9-5 3-6 2-6-2-6-5-4-7-9-25zM3230 2524l8 11 9 15 34 70 16 29-14-23-45-88-11-17-10-11zM3283 2626l16 23 7 10 8 7 7 4 8 3 8 0 8-1 8-3 7-5 18-16 21-24 47-63 17-21 19-19 9-7 8-5 7-3 9-1 8 0 9 1 16 6 34 17 14 6 16 4 15 1 17-4 16-7 16-9 37-26 14 4-43 31-15 9-17 8-17 4-16-1-16-4-15-7-32-17-16-6-14-2-15 3-9 4-9 6-10 8-10 11-21 26-60 79-16 18-14 12-9 4-8 2-8 0-8-3-8-5-7-7-8-9-9-13z"/>
<path transform="translate(0 -114)" d="M2821 2950l3-76 7-140 7-88 6-46 4-20 20-60 17-36 12-35 2-3 2 0 14 29-4-7-1 0-2 1-11 25-10 20-26 72-5 18-5 44-6 70-8 138-2 79zM2915 2475l5 26 15 85-14-59-13-64-4-11-3-6zM2921 2527l27 99 11 48 14 65-10-44-28-109zM2973 2739l26 129 14 57-14-52-10-47-30-152zM2999 2873l10 35 6 12 5 8 7 5 7 0 5-3 7-9 8-16 11-27 18-48 15-47 47-165 13-41 12-30 12-25 7-10 5-6 6-4 7-1 5 1 7 4 14 14-8-8-7-3-7-1-6 2-7 6-7 9-7 12-7 17-14 36-16 49-45 162-13 45-24 71-6 17-6 12-6 8-5 5-6 2-5-1-5-4-4-7-9-24zM3233 2520l9 13 9 16 35 73 15 28-13-23-48-93-11-17-10-11zM3288 2627l15 24 8 9 7 6 7 4 7 3 8 1 8-2 8-3 8-5 17-16 19-23 47-63 18-23 19-19 9-7 8-5 8-3 9-2 8 0 9 1 17 6 32 17 16 7 16 4 15 1 17-4 17-8 16-9 39-28 14 5-10 6-36 26-15 10-18 8-17 4-15-1-16-4-15-7-32-18-16-6-8-1-8-1-14 3-9 5-9 6-10 8-11 11-23 29-57 78-16 18-14 11-9 4-8 2-7 0-8-2-8-5-8-7-8-10-8-12z"/>
<path transform="translate(0 -109)" d="M2828 2938l2-77 8-140 6-73 6-48 4-21 21-62 16-34 10-27 2-4 3 0 13 27-3-6-1 0-2 2-19 38-6 14-12 37-9 23-5 18-5 45-6 72-7 119-2 79zM2919 2479l6 26 11 76 7 36-14-61-15-82-5-16-3-6zM2929 2556l26 97 11 48 14 66-10-45-27-105zM2980 2767l24 115 13 55-14-51-11-52-26-133zM3003 2886l11 34 5 12 6 7 7 3 6-1 6-4 5-9 13-28 25-69 13-44 45-159 15-46 12-34 13-28 7-10 6-6 5-3 7-2 6 1 7 5 13 14-8-8-6-4-7-1-7 3-7 6-7 10-7 12-8 18-14 36-16 54-44 160-14 46-22 72-11 29-6 9-6 6-5 4-6 0-4-4-5-6-4-10-5-14zM3236 2519l9 12 9 17 35 74 17 31-14-23-12-23-36-74-11-17-10-11zM3292 2630l16 24 8 9 6 5 7 4 8 3 7 0 8-2 6-3 8-5 17-15 18-22 46-62 20-26 20-20 9-7 9-5 7-4 9-2 9 0 9 2 16 6 33 17 15 7 16 4 16 1 17-4 17-8 15-9 43-31 14 5-13 8-37 27-14 10-18 8-16 4-16-1-15-4-16-7-33-18-16-6-7-2-8 0-15 3-9 4-10 7-10 9-10 10-25 31-56 78-15 16-13 12-8 4-8 2-8 1-8-2-7-5-8-7-8-9-8-12z"/>
<path transform="translate(0 -103)" d="M2835 2924l2-79 7-121 6-75 5-49 6-25 9-24 13-40 15-30 9-22 2-2 2 0 14 28-3-7-1 0-3 2-18 32-5 14-12 37-11 24-4 18-6 46-4 57-7 116-2 80zM2925 2485l6 29 12 91 7 38-14-63-5-28-13-74-3-14-4-7zM2936 2580l27 104 10 44 14 65-9-39-28-111zM2987 2793l21 101 15 57-14-49-12-56-24-118zM3009 2902l6 20 4 12 5 8 5 7 6 1 7-2 5-5 6-8 6-12 6-17 25-75 55-195 16-51 13-37 14-29 7-10 5-6 6-4 7-2 6 1 7 4 14 14-8-8-7-3-8-1-6 3-7 6-8 11-8 15-8 18-12 34-15 46-47 175-26 91-10 33-9 22-5 10-6 7-6 4-4 1-5-3-4-6-8-20zM3240 2516l8 11 9 17 37 80 17 31-14-23-13-24-37-77-11-18-10-11zM3297 2632l14 22 8 9 7 6 7 4 8 2 6 0 8-1 7-3 8-6 16-14 18-22 43-61 23-29 20-21 9-7 9-5 8-3 9-2 9 0 9 1 16 6 33 18 16 7 16 4 15 1 16-4 18-8 15-10 36-26 10-6 14 4-13 8-37 28-17 11-18 9-17 4-15-1-16-4-15-7-33-19-16-6-8-2-8 0-8 1-7 2-9 5-11 7-10 9-11 12-25 31-54 76-14 17-14 12-8 4-7 3-8 0-8-2-7-4-8-6-8-10-7-11z"/>
<path transform="translate(0 -97)" d="M2842 2908l2-79 7-119 6-72 5-45 5-18 9-23 15-46 21-41 2-3 2-1 14 27-2-4-2-1-2 1-17 29-5 14-14 39-10 21-4 18-6 46-4 60-6 96-2 80zM2930 2488l5 26 15 116 7 39-14-64-7-36-12-82-5-20-3-6zM2943 2605l27 105 10 45 14 64-37-150zM2994 2819l20 92 14 50-14-48-13-54-21-104zM3014 2913l5 19 5 12 4 9 6 5 6 1 5-3 7-7 6-9 11-29 23-76 54-195 16-51 14-38 14-32 7-11 7-8 6-4 6-2 7 1 7 5 13 14-6-7-7-4-7-2-6 2-5 3-7 8-7 10-6 13-17 41-19 60-72 270-14 44-5 13-7 12-6 8-5 4-4 0-2-1-4-5-5-9-4-13zM3243 2514l8 11 9 17 37 81 18 34-14-23-13-26-36-77-12-20-10-11zM3301 2634l15 22 8 8 7 6 6 4 7 1 7 1 8-2 13-8 16-15 17-20 44-62 23-30 20-21 11-8 9-6 7-3 9-2 9 0 9 1 17 7 33 18 16 7 15 4 16 1 16-4 18-8 14-10 37-27 13-8 13 4-14 9-38 30-17 11-18 9-16 4-16-1-16-4-15-7-34-19-15-7-8-1-8-1-8 1-8 3-10 5-10 7-10 9-12 13-25 33-53 75-15 17-12 11-8 4-8 3-8 0-8-2-6-3-8-7-7-8-8-11z"/>
<path transform="translate(0 -92)" d="M2849 2893l2-80 7-116 4-57 6-46 4-18 11-24 15-46 19-36 3-2 2-1 14 27-3-3-1-1-2 1-15 23-6 16-14 38-3 7-7 10-4 15-6 41-5 56-5 94-2 79zM2936 2494l2 8 3 20 15 126 9 54-14-65-8-43-13-98-5-22-3-7zM2951 2637l27 106 10 44 14 63-37-148zM3002 2850l17 74 12 44-14-48-11-47-18-86zM3017 2920l10 33 5 9 6 6 4 1 6-3 6-7 7-12 8-19 9-28 28-99 43-159 16-52 13-38 15-33 6-11 7-8 7-5 7-2 6 1 7 4 14 15-7-7-7-5-6-1-6 1-7 5-7 8-6 10-7 13-9 21-9 24-19 62-17 62-53 208-13 45-7 16-7 13-5 8-5 2-4 0-5-5-4-9-6-16zM3247 2513l8 11 9 17 38 85 18 33-14-23-15-28-35-78-13-20-10-12zM3306 2636l15 22 6 8 7 5 7 4 7 2 6 0 8-2 14-8 15-15 16-20 44-62 22-29 22-23 10-8 9-6 9-4 8-2 9 0 9 1 18 7 33 19 15 7 17 5 16 0 15-4 18-9 17-11 37-28 13-8 13 4-16 11-40 30-16 11-18 9-15 5-16 0-17-5-16-7-32-19-17-7-9-2-8 0-8 1-8 2-10 6-10 7-11 11-11 12-25 32-53 76-13 17-13 11-7 5-8 2-8 1-7-2-8-4-7-6-6-7-8-12z"/>
<path transform="translate(0 -86)" d="M2856 2876l2-80 6-96 4-60 6-46 4-18 10-21 18-51 17-29 2-2 3 0 13 28-2-4-1 0-2 1-14 20-6 15-14 38-4 8-7 6-5 15-4 31-5 52-5 90-3 78zM2941 2501l3 7 3 21 16 144 4 32 5 24-14-66-8-44-15-116-4-23-3-7zM2958 2663l27 106 10 44 14 61-10-41-18-66-9-38zM3009 2874l13 57 10 36-13-49-24-105zM3019 2918l11 39 5 13 5 6 4 2 6-2 6-6 6-12 8-17 9-28 71-266 15-49 14-43 16-36 8-13 7-9 6-5 7-2 7 2 7 4 13 14-8-8-7-4-8 0-8 5-8 8-8 12-9 19-9 22-16 46-16 59-67 267-9 29-10 25-4 9-5 5-4 3-4-1-3-3-5-8-10-28zM3250 2510l8 12 9 17 38 86 18 34-13-23-14-26-37-82-11-19-11-13zM3310 2636l14 22 7 8 7 6 6 3 7 2 7 0 7-1 6-3 7-5 16-15 16-20 42-62 24-31 22-24 10-8 9-6 9-3 9-2 9-1 9 2 17 7 34 19 15 7 16 4 16 1 16-4 18-9 17-11 38-30 14-9 14 5-19 12-40 31-16 11-18 9-16 5-15-1-17-4-15-7-34-20-16-7-9-2-8 0-8 1-8 3-10 5-10 7-12 11-12 14-25 32-52 77-14 16-12 12-8 4-7 3-8 0-6-1-8-5-7-5-7-8-8-12z"/>
<path transform="translate(0 -81)" d="M2863 2859l2-79 5-94 5-56 6-41 4-15 7-10 4-9 13-36 5-14 15-24 3-2 2 2 14 30-2-5-1-1-2 1-12 14-7 15-16 42-4 5-5 2-2 2-4 10-4 26-5 48-5 87-3 76zM2948 2511l4 17 3 27 16 154 8 48-14-66-9-54-15-126-3-20-4-10zM2965 2691l37 148 14 59-10-39-17-60-10-42zM3016 2898l18 69-14-50-18-78zM3020 2917l12 44 6 15 4 7 5 4 4 0 6-5 6-9 11-25 9-28 67-263 16-55 15-43 9-23 7-17 8-13 7-9 7-5 6-3 7 1 8 5 14 14-8-8-8-4-8 0-8 4-7 9-9 14-9 18-9 22-16 47-18 65-32 128-31 134-11 38-10 26-5 8-4 4-5 1-3-2-5-7-4-10-10-29zM3254 2509l8 12 9 17 39 90 9 18 9 16-14-23-14-29-37-83-12-19-11-13zM3314 2639l8 13 8 10 8 8 8 6 8 3 7 0 8-2 8-5 12-10 15-17 55-79 26-33 11-12 11-11 11-7 10-4 8-3 7 0 8 0 8 2 16 7 32 19 15 7 17 4 16 1 15-4 18-9 17-12 40-30 16-11 14 5-21 13-42 33-16 11-17 9-16 5-16-1-17-4-14-7-34-21-17-7-9-2-8 0-8 1-8 3-10 5-11 8-11 11-14 15-24 33-51 76-13 16-13 12-8 5-6 2-8 1-7-2-7-4-6-5-7-8-8-11z"/>
<path transform="translate(0 -75)" d="M2869 2840l3-78 5-90 5-52 4-31 5-15 7-6 4-8 14-38 5-13 14-21 3-2 2 1 14 32-2-5-2 0-4 2-7 9-9 16-15 40-3 3-2 2-7-1-2 3-2 7-5 27-4 50-5 67-2 74zM2954 2519l3 16 4 27 15 164 5 33 4 24-13-65-5-24-4-32-16-144-3-21-4-10zM2972 2718l9 38 18 66 11 46 14 57-28-100-11-42zM3024 2925l11 41-14-50-11-48zM3021 2916l14 47 5 16 6 11 4 5 5 0 4-3 6-8 11-27 10-32 64-258 17-61 15-44 17-41 8-14 7-11 8-7 7-2 7 0 8 5 13 15-9-9-8-4-7 1-8 5-8 8-9 15-9 18-10 26-17 52-18 67-26 108-25 112-9 37-12 43-9 24-4 8-5 4-3 0-5-4-4-7-6-12-11-33zM3257 2507l8 12 9 17 40 91 10 21 9 16-14-23-15-29-38-86-11-20-11-14zM3319 2641l8 13 8 10 7 8 7 4 8 3 8 0 8-2 8-5 12-10 15-18 52-77 26-34 13-13 11-11 10-7 10-5 8-2 8-1 8 0 8 2 16 7 34 20 15 7 17 4 15 1 16-5 18-9 16-11 40-31 19-12 14 4-10 6-14 9-41 33-17 12-17 9-16 4-15 1-17-5-15-7-35-21-16-7-9-2-8 0-9 1-8 3-10 5-12 9-12 11-12 14-25 34-50 76-14 17-11 11-8 5-7 2-8 1-6-2-7-3-7-6-13-17z"/>
<path transform="translate(0 -70)" d="M2876 2822l3-76 4-70 5-55 4-31 5-15 2-2 5-2 5-7 15-40 6-13 11-16 4-1 2 3 14 34-2-5-3-2-2 1-4 4-7 9-5 8-16 41-3 3-2 0-6-4-2 0-2 2-2 7-5 28-3 36-5 63-2 72zM2961 2531l2 11 3 27 17 184 5 33 4 24-13-64-5-25-4-32-17-164-4-20-2-8zM2979 2746l10 42 17 60 13 53 14 53-14-48-15-51-12-45zM3033 2954l4 16-13-51-5-18zM3024 2919l13 48 7 18 5 12 5 6 4 1 5-2 5-9 11-25 12-41 30-130 31-123 16-62 16-50 17-41 8-14 8-11 8-7 7-3 7 0 8 5 14 15-9-9-8-4-8 1-9 5-8 9-9 15-10 21-9 23-14 46-16 58-27 114-33 151-13 51-10 30-5 7-4 4-4 1-4-4-6-8-5-12-13-35zM3261 2506l8 12 9 17 39 93 10 21 9 16-14-23-14-30-38-87-12-20-11-14zM3322 2642l8 13 8 10 8 8 7 4 6 3 8 1 8-2 8-5 12-10 15-18 53-79 25-32 13-15 11-10 11-9 11-5 7-2 8-1 8 1 8 1 17 7 34 21 14 7 17 4 16 1 16-5 17-9 16-11 42-33 21-13 14 4-11 6-15 10-43 35-16 12-17 9-16 4-16 0-17-4-14-8-35-21-17-7-9-2-8 0-9 1-8 3-11 6-11 9-12 12-14 15-24 32-49 77-13 17-12 11-8 5-6 3-7 0-7-1-7-3-6-6-7-7-8-11z"/>
<path transform="translate(0 -64)" d="M2883 2802l2-74 5-67 4-50 5-27 2-7 2-3 7 1 2-2 3-3 15-40 8-15 10-12 3 0 2 2 14 35-3-5-2-1-4 3-7 8-7 12-12 29-5 8-2 1-2-1-7-9-2 1-2 4-5 23-3 33-5 58-2 69zM2967 2540l3 17 3 29 17 193 5 33 4 24-14-64-5-31-5-36-15-164-4-24-3-12zM2985 2772l12 46 17 57 19 72 9 29 7 20 7 11 4 3 2 1 2 0 3-3 6-9 6-14 14-48 10-42 25-112 25-103 18-68 16-50 9-24 9-20 7-14 8-11 8-7 8-3 8 1 8 6 13 16-9-10-7-5-8 0-9 5-9 10-9 14-10 21-9 23-18 57-20 80-20 83-27 132-14 62-10 35-5 11-4 7-3 2-3 1-3-2-4-3-6-9-8-18-38-119-13-47zM3265 2506l8 12 9 18 40 94 10 21 9 15-14-23-16-32-38-88-11-20-10-13zM3327 2643l15 22 7 8 7 5 7 2 8 1 8-2 8-5 12-11 15-18 51-78 25-33 13-15 12-10 11-9 10-5 8-2 8-1 8 0 9 2 16 7 35 21 15 7 17 5 15-1 16-4 17-9 17-12 41-33 14-9 10-6 14 5-13 6-14 10-46 38-16 11-16 8-15 5-16 0-17-4-16-8-35-22-16-7-9-2-9 0-8 1-9 3-11 7-12 9-12 12-14 15-23 33-48 76-14 18-11 11-8 5-7 3-7 1-6-2-7-3-7-5-6-8-7-10z"/>
<path transform="translate(0 -58)" d="M2890 2782l2-72 7-89 2-19 4-19 2-7 1-1 2-1 14 13-3-3-3 2-3 11-2 15-7 75-2 66zM2924 2587l5 10-14-20-5-3zM2915 2577l3 1 5-5 14-36 8-14 7-8 3-3 3 0 2 4 14 37-3-6-2-1-3 1-5 4-4 5-5 7-17 36-3 2-3-4zM2974 2553l3 19 3 32 16 189 4 37 6 30-14-62-4-24-5-33-17-184-3-27-3-14zM2992 2798l13 49 14 47 18 64 8 24 8 19 8 12 3 3 2 1 3-1 3-2 5-7 5-14 14-47 12-51 26-122 19-82 19-74 17-55 9-24 9-20 9-17 8-10 8-7 8-3 7 1 8 6 14 16-9-10-9-5-8 0-9 5-9 10-9 15-10 21-9 23-18 59-21 86-16 71-27 135-16 70-9 32-4 11-4 6-2 3-3 2-3-1-4-2-7-7-7-15-8-21-28-83-14-49zM3269 2504l8 12 9 18 39 95 10 21 9 16-13-23-16-32-38-90-12-21-10-12zM3331 2643l14 22 8 8 7 5 6 3 8 0 8-2 8-5 12-11 14-17 52-79 23-32 14-16 12-11 11-9 11-6 8-2 8-1 8 0 9 2 17 7 35 21 14 8 17 4 16 0 16-4 17-9 16-12 43-35 15-10 11-6 14 5-14 7-16 10-47 39-15 12-16 8-16 5-16 0-17-4-15-8-34-22-18-7-9-2-9-1-9 2-9 3-11 7-11 8-13 13-13 15-23 32-49 79-14 17-11 12-7 4-6 3-7 1-7-1-7-4-6-5-7-8-7-10z"/>
<path transform="translate(0 -53)" d="M2897 2762l2-69 6-71 4-34 3-9 3-5 14 11-3-2-1 1-2 4-4 23-6 60-2 62zM2929 2585l8 21-14-23-6-8-2-1zM2923 2583l3 1 4-4 14-34 7-12 10-10 2 0 3 2 13 38-2-4-2-1-4 1-5 5-8 11-15 30-3 3-3-3zM2979 2564l4 17 3 30 17 208 4 36 6 30-14-60-4-24-5-33-18-204-3-25-3-13zM2999 2825l13 47 31 100 8 22 8 17 7 9 3 2 3 1 2-1 4-4 4-8 5-12 10-36 13-57 26-126 18-80 20-81 17-56 9-24 9-20 9-17 8-11 9-8 8-2 8 1 8 6 14 16-9-10-9-5-8 0-9 5-9 9-10 16-9 19-11 27-9 28-10 36-21 88-13 64-26 133-16 74-9 33-4 11-4 6-5 5-4 0-3-1-7-7-8-13-7-16-27-73-7-25-6-22zM3273 2503l7 12 9 18 41 99 10 21 9 16-14-23-16-32-39-94-11-21-10-12zM3335 2646l8 13 7 9 8 8 6 4 7 2 8 0 7-2 8-5 12-11 13-17 51-80 24-32 13-16 12-11 12-9 11-6 8-3 9-1 8 0 9 2 16 7 35 22 16 8 17 4 16 0 15-5 16-8 16-11 46-38 14-10 13-6 14 5-15 7-17 11-48 40-16 12-16 8-15 5-16 0-17-4-15-8-34-22-18-8-9-2-9 0-9 1-9 3-12 7-12 9-12 12-14 16-22 32-49 79-12 17-11 12-7 5-7 3-6 1-7-1-7-3-7-5-6-8-7-9z"/>
<path transform="translate(0 -47)" d="M2904 2742l2-66 6-66 4-29 2-6 3-2 13 11-2-3-2 2-2 6-3 12-5 53-2 58zM2934 2584l9 29-13-25-7-14-2-1zM2930 2588l3 2 3-3 15-33 8-12 6-5 3-2 2 0 2 4 14 40-2-5-2-2-4 1-4 3-8 9-16 30-3 2-4-4zM2986 2579l4 18 3 33 17 213 4 36 6 29-14-59-4-23-5-33-18-212-3-28-4-14zM3006 2849l14 49 28 83 8 21 7 15 7 7 4 2 3 1 3-2 2-3 4-6 4-11 10-36 16-71 25-125 15-67 20-83 18-61 9-25 9-21 9-16 9-12 9-8 8-2 7 1 8 6 14 16-9-10-9-5-4-1-5 1-9 5-9 10-10 16-9 19-10 27-16 53-18 73-16 73-41 216-10 40-5 13-3 6-3 5-4 2-3 1-4-1-6-5-7-9-8-17-25-61-8-23-5-21zM3276 2501l8 12 9 19 40 99 10 22 11 18-14-23-17-35-28-69-11-26-12-20-10-13zM3340 2648l8 12 6 9 7 7 7 4 7 2 7 0 7-2 8-5 11-10 14-18 50-80 24-33 13-16 13-12 11-8 11-6 9-3 8-2 9 1 9 2 18 7 34 22 15 8 17 4 16 0 16-5 16-8 15-12 47-39 16-10 14-7 13 5-15 8-18 11-50 42-15 12-16 8-15 5-16 0-7-1-9-3-16-8-36-23-18-8-9-2-9 0-9 2-9 3-12 7-13 10-12 12-12 15-23 33-47 78-12 17-12 12-6 6-7 3-7 1-7-1-5-2-7-5-7-7-6-9z"/>
<path transform="translate(0 -42)" d="M2911 2722l2-62 3-38 5-36 2-9 2-4 14 8-2-1-2 4-5 24-3 31-2 54zM2939 2581l3 8 6 24 3 11-13-27-9-23-3-2-1 1zM2938 2597l2 1 3-3 15-30 8-11 5-5 4-1 2 1 2 4 14 42-2-6-2-2-4 0-4 2-8 9-16 27-3 1-3-2zM2993 2595l2 12 4 30 12 166 6 64 4 36 6 27-14-56-6-30-4-36-17-208-3-30-4-17zM3013 2874l6 22 7 25 27 73 8 18 8 13 7 5 3 1 4-1 5-5 8-19 8-30 16-74 26-133 12-59 20-85 18-62 9-26 9-21 9-16 9-13 9-8 8-3 8 2 9 6 14 16-9-10-9-5-5-1-4 0-9 5-11 11-9 14-9 20-10 27-15 52-18 74-16 76-40 216-9 37-5 14-4 9-6 7-3 2-4 0-7-2-6-8-8-15-24-51-8-22-5-20zM3280 2500l7 13 9 18 41 101 10 22 10 18-14-23-15-33-40-96-11-22-11-14zM3343 2649l8 12 7 9 7 7 6 4 7 3 8 0 7-3 8-5 11-11 13-17 50-81 23-33 14-16 12-12 13-9 11-6 9-3 8-1 9 0 9 2 18 8 34 22 15 8 17 4 16 0 15-5 16-8 16-12 48-40 17-11 15-7 13 5-17 7-18 12-16 13-35 31-16 11-16 9-14 5-16 0-8-1-9-4-16-8-34-22-11-6-9-3-10-2-9 0-9 2-9 3-11 7-12 10-13 12-12 15-22 33-49 81-12 17-11 12-7 5-7 3-6 1-6-1-6-2-6-5-7-7-7-9z"/>
<path transform="translate(0 -36)" d="M2918 2701l2-58 3-34 4-26 2-9 2-3 14 7-2-1-3 3-3 17-3 26-3 49zM2945 2578l3 9 7 33 3 12-13-28-3-5-6-24-3-4-2 0zM2945 2604l2 2 3-2 15-28 7-9 4-4 5-2 2 1 2 3 14 42-2-4-3-2-6 2-8 7-16 24-3 1-3-3zM2999 2607l3 17 4 31 16 224 5 38 7 34-14-54-6-29-4-36-18-226-4-28-3-13zM3020 2897l5 21 8 23 25 61 8 17 7 9 6 5 4 1 3-1 4-2 3-5 3-6 5-13 8-30 52-269 21-86 18-63 9-25 9-21 9-17 9-12 9-7 7-3 8 2 9 6 14 16-9-10-9-5-4-1-5 0-4 2-6 3-10 11-9 15-9 19-10 28-16 54-17 70-14 72-41 223-9 37-8 21-5 8-7 5-3 0-4-1-7-5-9-14-21-41-7-17-6-21zM3283 2498l8 13 9 18 41 105 11 22 10 17-14-23-17-35-39-97-11-21-12-15zM3348 2650l8 13 7 9 6 6 7 4 7 2 6 0 7-3 8-5 11-11 14-18 49-82 23-32 12-15 12-12 13-10 12-7 9-3 9-1 9 0 9 2 18 8 35 23 16 8 9 3 7 1 16 0 15-5 16-8 15-12 50-42 18-11 15-8 14 6-18 7-19 12-17 14-36 31-17 13-14 8-15 5-8 1-7-1-8-2-9-3-15-8-36-23-10-5-9-4-10-1-9-1-9 2-10 4-13 7-12 10-11 12-13 15-22 33-47 82-13 17-10 11-6 6-7 3-7 1-5 0-7-3-6-4-7-7-6-9z"/>
<path transform="translate(0 -31)" d="M2925 2682l2-54 5-46 3-9 2-4 14 7-3-2-1 1-3 12-3 22-3 44zM2951 2576l4 15 7 38 3 13-14-29-3-11-7-27-2-5-2-1zM2951 2613l3 2 3-1 15-25 8-10 4-2 3-1 3 1 2 3 14 44-3-5-2-2-3 0-4 1-7 6-16 21-2 1-2-1-2-3zM3006 2624l3 18 3 33 12 159 5 67 5 37 7 32-14-51-6-27-4-36-6-64-12-166-4-30-3-16zM3027 2919l5 20 8 22 24 51 8 15 6 8 7 2 4 0 3-2 7-9 8-21 10-42 39-211 13-66 17-71 16-55 9-26 9-22 9-16 9-13 9-7 9-3 8 1 9 7 14 17-11-12-9-5-4-1-5 1-4 1-6 4-9 10-9 14-9 20-10 27-15 54-17 72-16 80-37 209-9 40-5 14-4 11-6 9-6 6-4 1-3 0-7-5-9-12-19-31-7-15-6-20zM3287 2498l7 12 9 19 42 105 10 22 10 18-14-23-16-36-40-98-11-21-11-15zM3351 2651l8 13 7 9 7 6 7 4 6 2 7 0 7-3 8-5 11-11 13-19 49-81 22-33 12-15 13-12 12-10 13-7 9-3 9-2 9 0 8 2 9 3 11 6 34 22 16 8 9 4 8 1 16 0 14-5 16-9 16-11 35-31 16-13 18-12 17-7 14 5-19 8-20 13-17 13-37 33-17 13-15 8-14 5-8 0-8 0-8-2-9-3-14-8-36-24-10-5-9-3-11-2-9 0-9 1-10 4-12 7-12 10-13 12-12 16-23 34-46 81-12 18-11 12-7 5-7 3-6 1-6 0-7-3-5-5-6-6-7-9z"/>
<path transform="translate(0 -25)" d="M2931 2661l3-49 4-33 2-10 3-3 13 6-2-2-2 3-5 22-2 38zM2956 2572l5 16 8 49 3 14-14-30-3-12-8-37-2-5-2-1zM2958 2621l3 3 3-1 16-24 8-7 6-2 3 2 2 4 14 45-4-7-3-2-4 0-4 2-5 4-15 18-3 0-1-1-2-4zM3013 2641l3 19 3 35 12 160 5 66 5 36 6 30-13-47-7-34-5-38-16-224-4-31-3-17zM3034 2940l6 21 7 17 21 41 9 14 7 5 4 1 3 0 7-5 5-8 5-10 4-15 9-39 38-211 15-73 16-66 16-56 9-26 9-21 7-15 9-12 9-8 9-3 5 0 4 1 9 7 14 17-10-12-9-5-9-1-6 2-4 3-9 9-9 14-9 20-10 27-16 54-16 67-15 82-37 214-9 39-5 15-6 13-6 11-6 5-6 1-6-3-9-10-17-22-7-13-7-19zM3290 2496l9 15 9 19 40 104 11 22 10 18-14-23-17-36-28-73-11-26-11-22-12-15zM3355 2651l13 20 7 7 7 5 7 2 6 0 7-2 8-5 11-11 14-19 49-84 23-34 12-14 12-13 13-9 12-7 9-3 9-2 9 1 10 2 18 8 36 23 15 8 9 3 8 2 7 1 8-1 15-5 14-8 17-13 36-31 17-14 19-12 18-7 14 5-18 7-18 10-19 15-38 34-16 13-17 10-16 5-7 1-8 0-8-2-9-3-16-8-36-24-10-5-10-4-10-2-10 0-9 2-10 4-13 7-12 10-11 12-13 16-21 33-47 84-13 18-10 11-6 5-7 3-7 2-6-1-6-3-6-5-6-6-6-9z"/>
<path transform="translate(0 -19)" d="M2938 2641l3-44 3-22 3-12 14 2-1 0-2 3-4 13-2 33zM2961 2565l2 5 4 15 9 60 4 19-14-32-3-10-10-53-3-7-3 1zM2966 2632l3 2 3-2 13-18 8-7 5-2 3 0 2 2 3 5 13 46-2-6-2-3-3-1-4 0-8 4-14 14-4 0-2-2zM3019 2658l4 20 2 22 12 175 6 65 5 34 6 28-13-44-7-32-5-37-5-67-12-159-3-33-3-18zM3041 2958l6 20 7 15 19 31 9 12 7 5 3 0 4-1 6-6 6-9 4-11 5-14 9-40 37-209 15-75 15-68 15-52 9-27 9-22 8-15 9-12 9-8 9-4 9 2 9 6 13 17-10-12-9-5-4-1-6 1-9 5-9 9-9 15-9 19-10 28-14 51-16 68-16 83-36 212-9 40-10 28-6 11-5 7-6 3-7-1-9-7-15-17-7-11-7-17zM3292 2493l9 14 9 19 43 110 10 22 10 18-13-23-17-36-29-76-12-27-12-23-11-15zM3360 2653l6 11 7 9 7 6 7 4 6 2 7 0 7-3 8-5 11-12 12-18 49-84 22-34 12-15 13-12 12-10 12-7 9-3 9-1 9 0 11 2 9 3 10 5 36 24 14 8 9 3 8 2 8 0 8 0 14-5 15-8 17-13 37-33 17-13 20-13 19-8 14 6-19 7-19 11-21 15-38 35-16 13-16 10-16 5-8 1-8 0-8-2-9-3-15-9-36-24-10-5-11-4-10-2-10 0-10 2-10 4-12 8-12 9-11 11-12 16-22 34-47 85-12 18-10 12-7 5-6 3-6 1-6 0-7-3-5-4-6-5-7-9z"/>
<path transform="translate(0 -14)" d="M2945 2622l2-38 4-18 2-6 14 1-1-1-1 0-4 9-2 28zM2967 2561l2 5 3 16 11 73 4 20-14-32-4-17-9-54-4-11-2-2-1 1zM2973 2643l2 2 4-1 14-17 8-5 4-1 3 1 2 2 3 6 13 46-3-8-3-3-4-1-8 3-15 11-4 0-2-3zM3026 2676l4 21 2 23 11 161 6 67 5 43 7 26-14-41-6-30-5-36-5-66-12-160-3-35-3-19zM3047 2976l7 19 7 13 18 24 9 9 7 2 5-2 6-6 7-11 9-26 9-39 35-208 16-82 15-64 14-52 9-27 9-22 8-14 9-13 9-7 9-3 9 2 9 6 14 17-10-12-9-5-6-1-4 0-9 4-10 11-9 15-9 20-9 25-15 51-15 64-16 90-35 209-9 39-6 18-5 15-6 10-6 7-5 4-6-1-9-4-13-10-7-10-7-14zM3296 2492l9 15 10 21 42 108 10 22 10 18-14-23-17-36-29-76-11-27-13-24-11-15zM3363 2653l7 12 7 9 6 6 7 5 7 1 7 0 6-3 7-4 11-12 14-19 47-84 22-35 13-15 12-13 12-9 13-7 10-4 9-1 9 0 10 2 9 4 10 5 36 24 16 8 9 3 8 2 8 0 7-1 16-5 17-10 16-13 38-34 19-15 18-10 18-7 14 6-22 7-19 11-20 15-39 36-16 13-17 11-16 5-7 1-8-1-8-1-9-4-16-8-36-24-10-6-10-4-10-2-10 0-10 2-12 5-12 7-11 9-11 12-13 16-21 34-46 85-13 19-10 11-6 6-7 3-7 2-6-1-5-2-6-5-5-5-7-10z"/>
<path transform="translate(0 -8)" d="M2952 2603l2-33 5-16 14 0-2-1-1 1-2 3-2 22zM2973 2554l2 6 3 17 11 88 5 20-14-32-4-19-10-66-4-12-2-2-1 0zM2980 2653l2 2 4 0 14-14 7-4 7 0 2 2 2 4 14 47-3-7-4-2-3-1-7 1-15 9-4-1-2-4zM3032 2690l3 17 4 32 11 160 6 65 5 41 4 14 3 9-14-37-6-28-5-34-6-65-12-175-3-30-4-16zM3054 2991l7 17 7 11 15 17 9 7 7 1 6-3 5-7 6-11 9-24 8-32 9-49 28-168 12-68 16-72 17-62 9-26 9-22 8-14 9-12 9-7 9-3 9 3 9 6 13 17-10-12-9-6-5-1-5 0-9 4-10 10-9 15-9 20-9 25-17 60-15 72-15 82-25 154-9 50-10 41-10 29-6 11-5 7-6 4-5 0-14-4-7-4-6-8-6-11zM3299 2490l9 15 9 19 44 114 10 22 10 18-13-23-17-36-30-80-12-27-12-24-11-15zM3368 2655l6 11 7 9 7 6 7 4 6 2 7-1 7-3 7-5 11-13 12-18 47-85 22-34 12-16 11-11 13-10 12-7 10-4 10-2 9 0 10 2 11 4 10 5 36 24 15 9 9 3 8 2 8 0 8-1 16-5 16-10 16-13 38-35 21-15 19-11 19-7 14 7-23 6-20 11-21 17-40 36-15 13-17 11-16 5-8 1-8-1-8-2-9-3-14-8-38-26-11-5-10-4-11-2-10 1-11 2-10 4-13 8-11 10-11 12-11 15-22 35-45 84-11 17-10 13-7 6-7 4-6 1-6 0-6-2-5-4-6-5-7-9z"/>
<path transform="translate(0 -3)" d="M2959 2586l2-28 4-9 6-1-3 4-2 22zM2971 2548l4 7 3 17 11 88 5 20-7-16-4-20-12-79-3-13-1-2-1-1-1 0zM2987 2664l2 3 4 0 14-11 8-3 3 1 4 2 3 6 7 23-3-7-4-2-3-1-7 1-15 9-4-1-2-4zM3032 2685l3 17 4 32 11 160 6 65 5 41 4 14 3 9-7-17-7-26-4-33-7-77-11-161-3-31-4-16zM3061 3006l7 14 7 10 13 10 9 4 7 0 5-4 6-7 6-12 10-30 8-33 9-50 24-152 14-75 16-74 16-62 9-26 9-22 8-14 9-12 9-6 9-2 9 2 10 9 7 8-10-11-9-4-5-1-5 1-9 5-9 10-9 15-9 20-9 26-17 62-16 73-13 76-25 154-9 50-9 37-10 31-5 11-6 8-6 4-5 1-10-2-10-5-7-7-7-13zM3297 2482l10 16 10 21 12 28 31 83 10 23 10 18-7-11-8-17-9-21-31-80-11-28-12-24-12-16zM3373 2660l7 10 7 8 6 5 6 4 6 1 7-1 6-3 7-6 11-12 13-19 46-85 21-34 13-16 11-12 11-9 12-7 12-5 10-2 10 0 10 2 10 4 10 6 36 24 16 8 9 4 8 1 8 1 7-1 16-5 17-11 16-13 39-36 20-15 19-11 22-7 7 4-23 6-20 11-21 17-40 36-15 13-17 11-16 5-8 1-8-1-8-2-9-3-14-8-38-26-11-5-10-4-11-2-10 1-11 2-10 4-13 8-11 10-11 12-11 15-22 35-45 84-12 19-10 12-7 6-7 3-6 2-6-1-6-2-5-5-6-5-7-10z"/>
</g>
</g>
<path class="bx" d="M1138.8 1378.4L1482.9 1554.8M1482.9 1554.8L1932.3 1421.7M1138.8 1378.4L1138.8 987.4M1932.3 1421.7L1932.3 1030.7M1482.9 1554.8L1482.9 1163.8M1138.8 987.4L1482.9 1163.8M1482.9 1163.8L1932.3 1030.7M1138.8 987.4L1588.2 854.3M1588.2 854.3L1932.3 1030.7M1482.9 1554.8L1492.7 1559.8M1632.7 1510.4L1642.5 1515.5M1782.5 1466.1L1792.3 1471.1M1932.3 1421.7L1942.1 1426.7M1414.1 1519.5L1403.5 1522.6M1276.4 1449.0L1265.9 1452.1M1138.8 1378.4L1128.3 1381.5M1138.8 1351.0L1129.0 1345.9M1138.8 1179.5L1129.0 1174.5M1138.8 1008.0L1129.0 1003.0"/>
<text class="t" x="1515.9" y="1612.2" text-anchor="middle">0</text>
<text class="t" x="1665.7" y="1567.9" text-anchor="middle">2</text>
<text class="t" x="1815.5" y="1523.5" text-anchor="middle">4</text>
<text class="t" x="1965.3" y="1479.1" text-anchor="middle">6</text>
<text class="t" x="1374.1" y="1573.0" text-anchor="middle">0</text>
<text class="t" x="1236.4" y="1502.4" text-anchor="middle">2</text>
<text class="t" x="1098.8" y="1431.8" text-anchor="middle">4</text>
<text class="t" x="1110.8" y="1357.9" text-anchor="end">-1</text>
<text class="t" x="1110.8" y="1186.4" text-anchor="end">0</text>
<text class="t" x="1110.8" y="1014.9" text-anchor="end">1</text>
<text class="i" x="1298.0" y="1624.0" text-anchor="middle">z</text>
<text class="i" x="1697.0" y="1630.0" text-anchor="middle">x</text>
<text class="y" transform="translate(1040.0 1181.0) rotate(-90)" text-anchor="middle" textLength="290" lengthAdjust="spacingAndGlyphs">Normal stress (<tspan class="g">σ</tspan><tspan dy="10" font-size="27">xx</tspan><tspan dy="-10"> )</tspan></text>
</g>
<g>
<path class="mn" d="M533.2 2396.2L206.4 2209.4M206.4 2209.4L206.4 1800.9M569.0 2384.4L242.2 2197.6M242.2 2197.6L242.2 1789.1M604.8 2372.5L278.0 2185.7M278.0 2185.7L278.0 1777.2M676.4 2348.8L349.6 2162.0M349.6 2162.0L349.6 1753.5M712.2 2336.9L385.5 2150.2M385.5 2150.2L385.5 1741.7M748.1 2325.1L421.3 2138.3M421.3 2138.3L421.3 1729.8M819.7 2301.4L492.9 2114.6M492.9 2114.6L492.9 1706.1M855.5 2289.5L528.7 2102.7M528.7 2102.7L528.7 1694.2M891.3 2277.7L564.5 2090.9M564.5 2090.9L564.5 1682.4M464.7 2389.4L894.4 2247.1M894.4 2247.1L894.4 1838.6M399.4 2352.1L829.1 2209.8M829.1 2209.8L829.1 1801.3M366.7 2333.4L796.4 2191.1M796.4 2191.1L796.4 1782.6M334.0 2314.7L763.7 2172.4M763.7 2172.4L763.7 1763.9M268.6 2277.3L698.3 2135.0M698.3 2135.0L698.3 1726.5M236.0 2258.7L665.7 2116.4M665.7 2116.4L665.7 1707.9M203.3 2240.0L633.0 2097.7M633.0 2097.7L633.0 1689.2"/>
<path class="mj" d="M640.6 2360.7L313.8 2173.9M313.8 2173.9L313.8 1765.4M783.9 2313.2L457.1 2126.4M457.1 2126.4L457.1 1717.9M432.0 2370.7L861.7 2228.4M861.7 2228.4L861.7 1819.9M301.3 2296.0L731.0 2153.7M731.0 2153.7L731.0 1745.2M170.6 2119.2L600.3 1976.9M600.3 1976.9L927.1 2163.7M170.6 2017.1L600.3 1874.8M600.3 1874.8L927.1 2061.6M170.6 1914.9L600.3 1772.6M600.3 1772.6L927.1 1959.4"/>
<path class="bx" d="M170.6 2221.3L600.3 2079.0M600.3 2079.0L927.1 2265.8M600.3 2079.0L600.3 1670.5"/>
<g class="s">
<defs><linearGradient id="me" gradientUnits="userSpaceOnUse" x1="994.8" y1="4707.8" x2="815.6" y2="4166.8"><stop offset="0" stop-color="#3e26a8"/><stop offset="0.063" stop-color="#4537d5"/><stop offset="0.095" stop-color="#4741e5"/><stop offset="0.143" stop-color="#4852f4"/><stop offset="0.19" stop-color="#4563fd"/><stop offset="0.222" stop-color="#3e6fff"/><stop offset="0.254" stop-color="#327cfc"/><stop offset="0.286" stop-color="#2e87f7"/><stop offset="0.317" stop-color="#2b91ef"/><stop offset="0.397" stop-color="#1ca9df"/><stop offset="0.413" stop-color="#18addb"/><stop offset="0.429" stop-color="#12b1d6"/><stop offset="0.444" stop-color="#08b5d0"/><stop offset="0.46" stop-color="#01b8ca"/><stop offset="0.476" stop-color="#02bac3"/><stop offset="0.492" stop-color="#0bbdbd"/><stop offset="0.524" stop-color="#24c1ae"/><stop offset="0.556" stop-color="#31c69f"/><stop offset="0.587" stop-color="#3fca8e"/><stop offset="0.635" stop-color="#64cd6f"/><stop offset="0.698" stop-color="#9dc943"/><stop offset="0.73" stop-color="#b9c431"/><stop offset="0.746" stop-color="#c5c22a"/><stop offset="0.762" stop-color="#d1bf27"/><stop offset="0.778" stop-color="#dcbd29"/><stop offset="0.794" stop-color="#e6bb2d"/><stop offset="0.825" stop-color="#f8ba3d"/><stop offset="0.841" stop-color="#febe3c"/><stop offset="0.889" stop-color="#fccf30"/><stop offset="0.937" stop-color="#f5e327"/><stop offset="0.984" stop-color="#f7f51b"/><stop offset="1" stop-color="#f9fb15"/></linearGradient></defs>
<g transform="scale(0.5)" fill="url(#me)">
<path transform="translate(0 -587)" d="M341 4621l14-154 6-43 6-40 9-47 6-24 3-6 2-1 4 0 3 4 13 16-3-3-4-1-2 2-3 6-6 23-9 46-6 38-6 42-14 150zM407 4326l6 12 18 41 21 66 9 23 21 43 8 11 7 7-13-9-7-7-8-12-21-45-9-23-22-69-17-42-6-12zM484 4520l14 8 14 5 12 2 17-1 25-4 42-9 110-27 51-14 432-143 13 7-432 143-51 14-110 28-42 9-25 4-17 1-12-1-14-5-14-8z"/>
<path transform="translate(0 -581)" d="M348 4619l8-100 7-63 5-40 11-63 6-30 4-10 3-6 2-1 3 0 3 4 5 7 13 25-5-7-3-3-3-1-2 2-3 6-4 9-6 28-11 59-5 38-7 59-8 94zM418 4342l20 46 21 61 7 19 20 40 8 11 8 9-14-11-7-9-8-12-20-43-8-21-20-66-20-49zM488 4517l14 8 14 6 13 2 16-1 25-4 42-8 107-27 56-16 432-143 13 8-432 143-56 16-107 27-42 9-25 4-16 1-13-2-13-4-14-8z"/>
<path transform="translate(0 -575)" d="M354 4617l10-109 7-68 12-72 9-40 3-10 3-6 4-2 3 2 3 4 4 7 15 36 13 29-15-32-4-6-3-4-3-1-4 1-3 6-3 9-9 37-11 66-8 61-10 99zM440 4388l8 18 17 49 8 18 19 35 7 11 7 8-13-13-7-8-7-13-19-40-8-20-17-54-8-20zM493 4514l10 7 12 6 13 3 12 1 18-2 23-3 81-19 79-20 37-11 436-144 13 7-436 145-37 11-79 20-81 20-23 4-18 2-12 0-13-3-12-5-10-6z"/>
<path transform="translate(0 -569)" d="M361 4614l9-104 8-65 13-75 5-25 5-15 3-8 2-2 3 0 4 3 8 13 19 46 13 33-19-38-7-12-5-2-3 0-2 2-3 7-5 13-5 22-13 66-7 57-10 92zM453 4415l19 48 7 16 17 29 12 16-13-15-12-19-17-34-7-19-19-55zM495 4509l8 7 14 8 14 5 12 1 17-1 20-4 71-15 93-24 39-12 437-144 13 7-437 145-39 11-93 25-71 17-20 4-16 1-13 0-14-4-14-6-8-6z"/>
<path transform="translate(0 -563)" d="M367 4612l10-99 9-68 14-74 4-18 4-13 3-6 4-1 4 2 4 6 21 42 13 35 13 35-13-29-21-34-4-5-4-1-4 1-3 5-4 11-4 15-14 63-9 57-10 84zM470 4453l14 31-14-28-13-38zM470 4456l12 23 11 19 9 12 7 7 16 8 15 3 13 1 23-3 77-17 129-34 445-148 13 8-445 147-129 36-77 18-23 4-13 0-15-2-16-6-7-5-9-10-22-33z"/>
<path transform="translate(0 -558)" d="M374 4611l11-101 8-61 10-48 6-27 6-16 3-5 2-1 3 0 4 2 7 12 18 36 26 64 14 25 11 16 9 10 10 6 17 5 16 1 29-3 49-11 150-40 450-149 13 8-450 148-150 42-48 12-29 5-17 0-17-3-9-3-10-8-11-12-14-18-26-50-18-27-7-9-4-1-3 0-2 1-3 4-6 13-16 61-8 49-11 80z"/>
<path transform="translate(0 -552)" d="M380 4609l11-92 9-55 9-44 7-24 5-15 3-5 3-1 3 0 3 2 8 10 18 32 26 58 14 21 10 14 10 10 10 4 17 4 16 1 29-4 48-11 151-41 450-149 13 7-450 149-151 43-48 13-29 6-16 1-17-2-10-3-10-6-10-9-14-15-26-40-18-23-8-6-3-2-3 0-2 2-4 3-5 12-16 52-9 41-11 69z"/>
<path transform="translate(0 -546)" d="M387 4606l11-80 8-49 16-61 6-13 3-4 2-1 3 0 4 1 7 9 18 27 26 50 14 18 11 12 10 8 9 3 17 3 17 0 29-5 48-12 150-42 450-148 13 7-450 149-150 45-48 13-29 6-17 2-17 0-9-2-10-4-11-7-14-11-26-30-18-17-7-5-7 0-5 4-6 9-16 43-8 34-11 56z"/>
<path transform="translate(0 -540)" d="M393 4604l11-69 9-41 16-52 5-12 4-3 2-2 3 0 3 2 8 6 18 23 26 40 14 15 10 9 10 6 10 3 17 2 16-1 29-6 48-13 151-43 450-149 13 8-450 149-151 46-48 14-29 7-16 3-17 1-10 0-10-2-24-11-26-21-18-10-8-3-6 0-6 4-5 7-16 33-9 26-10 41z"/>
<path transform="translate(0 -534)" d="M400 4602l11-56 8-34 16-43 6-9 5-4 7 0 7 5 18 17 26 30 14 11 11 7 10 4 9 2 17 0 17-2 29-6 48-13 150-45 450-149 13 8-450 149-150 47-77 23-34 6-9 2-10-1-25-3-25-10-19-4-7-1-7 1-5 3-5 5-17 23-8 17-11 27z"/>
<path transform="translate(0 -528)" d="M407 4599l10-41 9-26 16-33 5-7 6-4 6 0 8 3 18 10 26 21 24 11 10 2 10 0 17-1 16-3 29-7 48-14 151-46 450-149 13 7-450 149-228 74-33 9-19 4-25 4-44 4-14 3-11 5-16 12-9 8-10 13z"/>
<path transform="translate(0 -522)" d="M413 4597l11-27 8-17 17-23 5-5 5-3 7-1 7 1 19 4 25 10 25 3 10 1 9-2 34-6 77-23 150-47 450-149 14 7-451 149-227 77-53 20-69 32-14 6-10 2-16 1-9 0-11-2z"/>
<path transform="translate(0 -516)" d="M420 4595l10-13 9-8 16-12 11-5 14-3 44-4 25-4 19-4 33-9 228-74 450-149 13 8-450 149-150 52-78 28-33 15-19 11-25 18-26 24-18 15-8 5-6 4-5 0-6-1-16-9-9-10-10-17z"/>
<path transform="translate(0 -510)" d="M439 4600l5 14-14-20-4-1zM430 4594l17 1 15-1 10-2 14-6 69-32 53-20 227-77 451-149 13 8-450 149-151 53-77 30-16 7-18 10-9 6-10 9-25 25-25 35-19 21-7 8-7 4-5 0-5-4-15-18-8-14-8-23z"/>
<path transform="translate(0 -504)" d="M446 4598l9 41-13-33-9-16zM442 4606l9 10 12 8 8 3 8 0 6-4 8-5 18-15 26-24 25-18 19-11 33-15 78-28 150-52 450-149 13 7-450 150-150 54-49 19-29 12-16 9-17 11-10 8-9 10-25 33-26 45-18 27-8 10-6 4-3 1-5-3-8-12-12-24-9-28z"/>
<path transform="translate(0 -499)" d="M452 4597l14 73-13-42-14-39zM453 4628l7 12 13 16 6 5 3 1 3 0 7-4 7-8 19-21 25-35 25-25 10-9 9-6 18-10 16-7 77-30 151-53 450-149 13 7-450 149-151 56-48 20-29 13-16 10-17 13-10 8-10 12-24 39-26 55-19 34-7 11-6 5-4 0-3-2-6-10-13-32-7-23z"/>
<path transform="translate(0 -493)" d="M459 4594l10 65 7 39-13-45-8-25-9-41zM463 4653l9 19 8 15 7 7 3 1 2-1 6-4 8-10 18-27 26-45 25-33 9-10 10-8 17-11 16-9 29-12 49-19 150-54 450-150 13 8-450 149-150 57-49 20-29 14-16 11-17 14-10 10-9 14-25 45-26 64-18 39-8 13-6 6-2 0-3-2-7-12-8-24-9-30z"/>
<path transform="translate(0 -487)" d="M465 4592l11 82 10 53-13-46-10-38-11-58zM473 4681l10 27 7 12 5 5 4 0 3-2 8-11 18-30 30-64 15-24 10-16 11-12 17-14 17-11 20-10 78-31 139-52 447-148 13 7-447 149-139 53-50 21-28 13-19 11-18 13-17 17-11 16-10 20-15 32-30 83-18 40-4 8-4 6-3 2-4 0-5-8-6-18-11-38z"/>
<path transform="translate(0 -481)" d="M472 4590l14 114 5 31 7 28-13-47-7-21-5-24-14-89zM485 4716l7 22 7 12 3 3 2 1 5-4 8-11 17-35 30-74 25-45 11-15 14-13 17-13 17-10 29-13 49-20 144-55 448-148 13 7-448 149-144 56-49 22-29 14-17 11-17 15-14 16-11 17-11 23-14 32-30 92-17 43-8 14-3 4-2 1-2-1-3-4-7-17-7-29z"/>
<path transform="translate(0 -475)" d="M478 4588l9 81 6 51 6 32 11 48-13-47-11-38-6-27-6-41-9-67zM497 4753l5 16 5 9 2 1 3 0 5-5 7-14 18-40 29-80 23-49 10-15 12-13 17-15 17-11 29-15 50-21 147-57 449-149 13 8-449 149-147 59-50 22-29 15-17 13-17 17-12 14-10 18-23 57-29 96-17 47-8 16-5 6-2 0-3-2-5-11-5-19z"/>
<path transform="translate(0 -469)" d="M485 4585l9 87 7 62 5 32 14 62-13-42-14-53-5-27-7-53-9-75zM507 4786l5 11 4 4 2 0 2-1 5-6 6-13 17-44 28-86 24-54 9-17 11-13 18-18 18-12 29-15 49-21 148-59 449-149 13 8-449 149-40 16-108 44-49 22-29 16-17 13-19 20-11 14-9 19-24 61-28 98-17 50-6 15-5 7-2 1-2 0-4-6-5-12z"/>
<path transform="translate(0 -463)" d="M492 4583l9 101 8 62 12 64 8 35-13-35-9-31-11-57-8-56-10-90zM516 4810l4 8 4 2 2-1 3-3 5-10 22-59 28-92 16-40 12-25 8-14 13-15 14-13 14-11 29-15 48-22 150-60 450-149 13 7-450 150-98 39-52 22-48 22-29 16-14 11-14 15-13 16-8 15-12 27-16 44-28 102-22 64-5 11-3 4-2 1-4-3-4-9z"/>
<path transform="translate(0 -457)" d="M498 4581l10 104 7 64 13 71 6 23 4 13-13-28-5-12-5-21-13-66-7-59-10-97zM525 4828l4 6 3 0 5-6 5-11 20-59 27-95 16-43 12-27 9-15 12-14 15-16 15-12 29-16 48-21 52-22 97-39 450-149 13 7-450 150-97 39-52 22-48 22-29 17-15 12-15 16-12 15-9 16-12 29-16 46-27 101-20 63-5 12-5 6-3 0-4-6z"/>
<path transform="translate(0 -451)" d="M505 4579l9 105 9 72 14 74 5 21 4 10-13-19-4-9-5-20-14-71-9-70-9-101zM533 4842l4 3 4-3 4-8 5-10 19-59 27-98 15-42 12-29 9-18 11-14 16-17 15-12 29-16 48-22 52-22 98-39 450-150 13 8-450 149-98 40-51 22-49 22-29 17-15 12-16 18-11 14-9 18-12 30-15 43-27 102-19 61-5 11-4 7-4 4-4-3z"/>
<path transform="translate(0 -445)" d="M511 4576l11 116 8 68 16 76 5 17 4 7-13-10-4-6-6-17-15-76-8-68-11-114zM542 4850l3 0 4-4 8-20 18-57 27-101 15-43 11-27 10-19 9-13 16-18 17-14 29-16 48-23 53-22 97-39 450-150 14 8-451 149-97 40-53 22-48 22-29 17-16 14-17 18-9 13-10 19-11 27-15 44-27 101-18 57-8 20-4 4-3 1z"/>
<path transform="translate(0 -440)" d="M518 4575l10 113 9 67 15 75 5 16 4 6 2 1-13 0-2-2-4-5-5-17-15-77-9-69-10-115zM550 4853l3-2 3-5 9-21 18-58 26-99 14-40 11-28 9-20 10-13 17-20 16-14 29-16 48-23 53-22 98-40 450-149 13 7-450 150-98 39-52 22-49 23-29 16-16 14-17 19-10 13-9 20-11 27-14 40-26 96-18 57-9 21-3 4-3 2z"/>
<path transform="translate(0 -434)" d="M524 4573l11 109 10 70 9 48 7 25 5 13 2 2 3-1-13 9-3 1-2-2-5-14-7-27-9-50-10-75-11-116zM558 4848l4-4 3-6 7-20 18-55 25-97 14-41 11-27 10-20 9-14 18-19 16-14 29-17 48-22 53-22 97-40 451-149 13 7-451 150-97 39-53 22-48 22-29 16-16 13-18 19-9 13-10 19-11 26-14 39-25 93-18 52-7 19-3 6-4 3z"/>
<path transform="translate(0 -428)" d="M531 4570l10 104 10 66 11 50 6 22 6 10 3 1 3-3-13 18-3 3-3-1-6-11-6-25-11-55-10-73-10-113zM567 4838l4-8 5-10 16-49 29-107 13-37 12-30 9-21 10-14 17-19 17-15 29-16 49-23 52-22 98-39 450-150 13 8-450 149-98 39-52 22-49 22-29 16-17 13-17 19-10 13-9 18-12 29-13 34-29 98-16 45-5 10-4 7z"/>
<path transform="translate(0 -422)" d="M537 4568l14 120 6 32 8 38 8 28 3 9 3 5 2 2 4-1 6-8-13 25-3 6-4 3-3 1-2-2-3-6-3-10-8-32-8-44-6-37-14-136zM578 4818l6-16 16-48 28-100 24-62 10-20 9-14 19-20 17-14 29-16 48-22 52-21 97-39 451-150 13 8-450 149-150 59-48 22-29 15-17 13-19 18-9 13-10 17-24 56-27 89-17 43-6 15z"/>
<path transform="translate(0 -416)" d="M544 4566l8 71 8 50 4 21 12 45 6 17 4 5 2 2 3-1 3-3 8-13-13 31-8 16-3 3-3 1-2-2-4-6-6-21-12-54-4-25-8-60-8-85zM589 4791l19-54 27-92 24-60 9-18 10-13 18-20 17-13 29-16 49-22 149-60 450-149 13 7-450 150-149 58-49 21-29 15-17 12-18 17-10 12-9 16-24 51-27 79-19 48z"/>
<path transform="translate(0 -410)" d="M550 4564l10 69 8 42 11 43 9 23 3 5 3 2 4 0 3-3 7-12 15-33-13 32-15 39-7 15-3 3-4 1-3-3-3-7-9-29-12-55-7-53-10-87zM610 4732l31-98 16-37 11-25 10-16 13-15 16-15 15-10 29-15 49-22 148-58 449-149 13 7-449 149-147 56-50 21-29 14-15 10-16 13-13 12-10 14-11 21-15 30-32 81z"/>
<path transform="translate(0 -404)" d="M557 4561l10 59 7 36 13 38 5 13 5 7 3 3 2 0 3-2 5-4 7-12 19-38-13 33-19 49-8 15-4 5-3 2-2-1-3-4-5-9-5-17-13-53-8-48-9-79zM623 4694l25-73 16-36 12-23 10-14 14-14 16-14 15-10 29-14 49-21 145-57 449-149 13 8-449 149-145 54-49 20-29 13-15 9-16 11-14 12-10 12-12 18-16 29-25 57z"/>
<path transform="translate(0 -398)" d="M563 4559l10 47 9 32 14 32 4 7 4 4 3 2 4-1 4-4 4-5 20-30 13-25-14 32-12 33-20 42-4 7-4 4-4 0-3-2-4-7-4-11-14-48-9-47-10-69zM638 4650l19-47 17-34 13-21 9-11 18-16 15-10 15-8 28-13 50-21 141-54 447-148 13 8-447 148-141 51-78 32-15 7-15 9-17 12-10 9-13 15-17 26-18 34z"/>
<path transform="translate(0 -392)" d="M570 4557l11 38 8 22 15 23 6 5 4 1 3-1 5-2 8-10 17-22 23-36 10-12-14 19-9 19-23 53-17 33-9 13-4 4-3 1-4-3-6-9-15-42-8-37-11-65zM666 4582l21-34 8-11 8-7 16-14 15-10 15-7 24-11 75-30 125-46 443-147 13 7-443 147-125 45-75 28-39 16-15 8-16 10-7 5-9 8-20 24z"/>
<path transform="translate(0 -386)" d="M576 4555l11 23 9 14 15 13 5 3 5 0 7-3 9-7 18-18 25-28 16-15-13 15-16 25-25 48-18 30-9 11-4 4-4 1-4-3-5-7-15-32-9-30-11-52zM683 4552l10-14 9-10 23-17 23-14 46-19 70-27 116-42 443-146 13 7-443 147-186 65-46 17-23 11-23 12-19 15z"/>
<path transform="translate(0 -381)" d="M583 4553l11 9 8 5 15 4 11-1 15-7 44-30 26-15-13 10-26 30-26 40-18 24-8 10-7 3-5-1-6-5-15-23-8-22-11-38zM700 4528l9-8 8-6 16-10 15-8 34-14 62-23 147-53 438-145 13 8-438 145-147 50-96 33-31 13-17 8z"/>
<path transform="translate(0 -375)" d="M590 4551l19-10 26-10 97-28-13 5-14 10-17 15-12 11-22 26-16 16-9 7-7 4-6 0-5-3-15-13-9-14-11-23zM719 4508l28-14 29-12 178-63 482-160 13 7-717 237z"/>
<path transform="translate(0 -369)" d="M583 4541l5 5 13-8-5 11zM601 4538l9-15 8-10 15-16 9-6 7-2 8 0 18 2 24 4 15 0 17 0 15-3-13 4-15 7-17 10-15 9-42 28-15 8-9 1-15-3-8-3-9-7zM733 4496l57-21 182-62 470-156 14 7-471 156-182 57-31 9-26 6z"/>
<path transform="translate(0 -363)" d="M590 4539l10-6 13-22-10 36zM613 4511l9-21 12-22 8-12 5-3 3-1 4-1 6 1 17 7 28 16 18 7 17 3 18-1-13 3-108 31-16 6-21 9zM745 4487l704-233 13 8-465 154-182 55-32 9-25 4z"/>
<path transform="translate(0 -357)" d="M596 4537l16-29 13-33-7 29-9 40zM625 4475l6-16 14-32 7-11 3-2 4 0 8 3 16 12 28 27 20 13 9 5 8 2 21 1-13 1-21 5-18 0-19 0-28-5-16-1-8 1-7 2-7 6-20 22zM756 4478l23-5 34-11 181-57 462-153 13 8-462 152-114 35-67 19-34 8-23 3z"/>
<path transform="translate(0 -351)" d="M603 4535l10-36 9-21 13-37-9 38-10 63zM635 4441l11-33 7-19 6-9 3-2 3 0 4 2 5 3 16 17 28 38 20 19 10 7 7 3 11 2 13 1-13 1-24 2-17-3-20-7-28-16-16-6-9-2-6 2-6 6-7 11-11 20zM766 4471l21-4 37-10 179-55 459-152 13 7-459 152-112 33-67 18-37 9-21 1z"/>
<path transform="translate(0 -345)" d="M609 4532l13-57 5-19 7-17 13-41-6 26-6 28-13 88zM647 4398l9-29 6-17 5-7 4 0 3 1 7 7 15 20 28 48 21 25 9 9 8 4 12 4 13 1-13 0-25 0-8-2-9-4-21-14-28-27-15-11-7-4-7 1-5 5-7 11-8 20zM774 4464l20-2 38-10 178-53 459-151 13 7-459 152-113 32-65 17-38 8-20 0z"/>
<path transform="translate(0 -339)" d="M616 4530l8-51 7-32 5-22 11-32 13-44-11 45-5 28-7 45-8 70zM660 4349l5-19 6-12 4-4 3 0 3 2 7 8 17 28 28 57 18 26 10 11 9 6 12 5 13 2-13-1-13 0-13-2-8-4-10-7-18-16-28-39-17-18-7-5-3-1-3 0-4 4-6 9-5 14zM782 4458l20-2 39-9 65-18 113-33 456-151 13 8-456 151-113 31-65 16-39 8-20 0z"/>
<path transform="translate(0 -333)" d="M622 4528l9-62 7-44 6-24 14-48 13-42-14 61-6 31-7 56-9 79zM671 4308l4-13 4-7 3-1 2 0 5 3 6 10 17 30 28 65 18 30 9 13 9 7 13 6 13 3-13-2-13-1-13-3-9-5-9-9-19-22-27-48-17-22-6-7-5-2-5 1-4 6-4 10zM789 4452l19-1 40-8 64-17 113-32 457-151 13 8-457 150-113 31-64 16-40 7-10 0-9-1z"/>
<path transform="translate(0 -327)" d="M629 4525l9-78 8-49 12-53 8-30 13-37-8 36-12 64-7 59-10 96zM679 4278l5-11 3-4 4 0 5 4 6 11 16 33 28 72 18 33 10 14 9 9 12 6 13 4-13-2-13-2-12-5-9-6-10-11-18-26-28-57-16-27-7-8-4-3-4 1-3 3-5 9zM795 4447l20 0 39-8 65-16 113-31 456-151 13 7-456 151-113 30-65 15-21 4-18 3-10 0-10-2z"/>
<path transform="translate(0 -322)" d="M635 4524l10-88 9-61 14-66 4-15 4-12 13-31-4 13-4 18-14 77-9 71-10 102zM689 4251l3-6 3-1 2 0 4 3 5 9 20 43 27 75 12 26 11 19 8 10 6 6 12 6 12 5-13-3-12-3-12-5-6-5-8-9-11-15-12-22-27-63-20-36-5-7-4-2-2 0-3 1-3 5zM801 4443l10 1 10 0 38-7 65-16 113-30 458-151 13 7-431 143-27 8-113 29-65 15-21 4-17 2-9 0-11-2z"/>
<path transform="translate(0 -316)" d="M642 4522l10-96 8-66 14-72 5-21 5-11 13-23-4 12-6 23-14 80-8 74-10 107zM697 4233l3-5 2 0 2 1 5 4 5 10 18 43 27 80 13 27 10 18 7 12 7 7 10 6 12 5-13-4-12-4-10-5-7-6-7-10-23-40-27-70-18-37-5-9-5-4-4 0-3 4zM805 4437l11 2 11 1 36-6 67-15 113-30 27-9 431-143 13 8-430 142-28 9-113 29-67 15-19 3-17 1-11 0-11-3z"/>
<path transform="translate(0 -310)" d="M648 4520l11-112 9-68 15-79 5-19 4-9 14-15-5 9-5 21-15 85-9 73-11 121zM706 4218l3-1 4 2 4 7 5 9 18 45 25 77 21 46 8 12 7 10 10 6 12 6-13-5-12-5-10-6-7-8-8-11-21-42-25-71-18-41-5-8-4-6-4-2-4 1zM810 4432l10 3 11 1 16-1 19-4 67-15 114-29 30-9 431-143 13 8-431 142-30 9-114 29-66 15-20 2-16 1-11-1-10-3z"/>
<path transform="translate(0 -304)" d="M655 4517l11-117 8-71 15-83 6-20 3-7 2-3 13-6-2 3-3 8-6 20-15 87-8 74-11 123zM713 4210l3 0 4 2 4 7 4 9 18 46 25 78 19 43 9 15 8 10 7 6 12 7-13-6-12-6-7-5-8-10-9-14-19-41-25-74-18-44-4-8-5-7-3-2-3 0zM813 4427l12 4 11 1 16 0 18-3 67-15 114-29 33-10 430-142 13 7-430 143-33 10-113 28-68 15-18 2-15 1-12-2-12-4z"/>
<path transform="translate(0 -298)" d="M661 4515l11-121 10-80 10-57 6-30 3-12 3-7 3-3 3 0 13 3-3 0-2 3-4 7-3 12-6 31-10 57-10 82-10 123zM723 4208l4 4 4 7 18 41 28 87 16 37 9 19 9 13 6 6 11 7-13-7-11-7-6-6-9-13-9-18-16-36-28-86-18-40-4-8-4-3zM815 4422l13 5 12 2 13 0 19-2 68-14 114-29 36-11 431-142 13 7-431 143-36 11-114 28-68 14-19 2-13 0-12-2-13-5z"/>
<path transform="translate(0 -292)" d="M668 4513l11-123 9-81 11-63 7-30 3-10 3-7 3-1 3 1 14 13-4-2-3 2-3 6-3 10-7 29-11 62-9 80-11 121zM732 4212l3 4 4 8 17 41 24 73 8 22 13 28 10 17 9 12 7 6-13-9-7-6-9-11-10-18-13-28-8-23-24-75-17-42-4-8-4-4zM814 4414l14 8 13 4 12 1 18-2 25-4 43-9 111-28 46-13 431-143 13 8-431 143-45 13-112 28-43 9-25 4-18 2-12-1-13-4-14-7z"/>
<path transform="translate(0 -286)" d="M675 4511l8-101 7-63 5-41 9-51 7-37 5-17 3-4 3-1 3 1 4 6 13 21-4-5-3-2-3 2-2 3-6 17-7 35-9 49-5 39-7 60-8 96zM742 4224l6 11 16 37 21 65 9 23 20 40 8 11 7 8-13-10-7-8-8-12-20-43-9-23-21-69-16-40-6-11zM816 4409l14 9 14 5 13 2 16-1 25-4 42-9 109-27 53-15 432-143 13 8-432 143-52 15-110 27-42 9-25 4-16 1-13-1-14-5-14-8z"/>
<path transform="translate(0 -280)" d="M681 4508l9-98 7-71 6-38 11-67 7-25 3-8 2-2 3-1 4 3 4 6 4 9 13 29-4-8-4-6-4-2-3 0-2 3-3 7-7 24-11 61-6 35-7 66-9 91zM754 4245l17 38 21 59 7 19 21 39 7 11 7 7-13-12-7-8-7-12-21-42-7-21-21-65-17-42zM821 4406l13 8 14 6 14 3 15-1 24-4 41-8 108-27 58-16 432-143 14 7-433 144-58 16-108 27-41 9-24 4-15 1-14-2-14-5-13-7z"/>
<path transform="translate(0 -274)" d="M688 4506l9-107 8-66 13-76 8-38 4-9 3-4 3 0 3 2 8 12 17 40 13 32-17-35-8-10-3-2-3 0-3 4-4 8-8 34-13 68-8 59-9 96zM777 4292l21 57 8 18 18 32 13 17-13-14-13-20-18-37-8-20-21-65zM824 4402l8 7 15 7 12 4 12 1 17-1 22-4 76-17 86-22 38-11 437-144 13 7-437 145-38 11-86 22-76 19-21 3-18 2-11 0-13-3-15-6-8-6z"/>
<path transform="translate(0 -268)" d="M694 4504l10-102 8-70 14-77 5-18 4-13 3-6 3-1 4 1 4 5 19 41 10 25 13 35-10-21-19-34-4-4-4-1-3 2-3 5-4 11-5 16-14 65-8 61-10 87zM791 4324l14 34 9 18-14-24-8-22-14-41zM800 4352l4 6 13 23-3-5zM817 4381l12 19 8 12-13-18-8-14-12-22zM824 4394l9 11 8 6 16 6 15 3 14-1 20-2 62-14 105-27 42-12 439-145 13 8-439 145-42 12-105 28-62 15-19 3-14 1-15-1-17-5-8-5-9-8z"/>
<path transform="translate(0 -263)" d="M701 4503l10-105 9-63 10-50 6-28 6-17 3-5 2-1 3 0 3 3 8 11 18 38 26 68 14 25 11 17 9 11 10 6 17 6 16 1 29-3 49-11 150-39 450-149 13 7-450 149-150 42-49 11-29 5-16 0-17-4-10-4-9-9-11-13-14-20-26-53-18-29-8-9-3-2-3-1-2 2-3 4-6 14-6 23-10 41-9 52-10 86z"/>
<path transform="translate(0 -257)" d="M707 4500l11-96 9-58 9-45 7-26 5-15 3-5 2-2 4 1 3 2 7 10 19 35 25 60 14 23 11 15 10 10 9 5 18 5 16 1 29-4 48-11 151-41 450-148 13 7-450 149-151 43-48 12-29 5-16 1-17-3-10-3-10-7-11-10-14-17-25-44-19-25-7-8-3-1-4 0-2 1-3 4-5 12-16 56-9 46-11 74z"/>
<path transform="translate(0 -251)" d="M714 4498l10-86 9-52 10-41 6-23 6-14 3-4 2-2 3 1 3 2 8 9 18 29 26 53 14 20 11 13 9 9 10 4 17 4 16 0 29-5 49-11 150-42 450-149 13 8-450 149-150 44-49 13-29 6-16 1-17-1-10-2-9-5-11-8-14-13-26-35-18-19-8-6-3-1-3 0-5 5-6 10-16 47-8 38-11 62z"/>
<path transform="translate(0 -245)" d="M720 4496l11-74 9-46 16-56 5-12 3-4 2-1 4 0 3 1 7 8 19 25 25 44 14 17 11 10 10 7 10 3 17 3 16-1 29-5 48-12 151-43 450-149 13 8-450 149-151 45-48 13-29 7-16 3-17 0-10-1-10-3-10-5-14-9-26-25-18-13-8-4-6-1-6 4-5 9-16 37-9 30-11 48z"/>
<path transform="translate(0 -239)" d="M727 4494l11-62 8-38 16-47 6-10 5-5 3 0 3 1 8 6 18 19 26 35 14 13 11 8 9 5 10 2 17 1 16-1 29-6 49-13 150-44 450-149 13 7-450 149-150 47-78 22-33 6-10 0-9-1-25-7-26-15-18-7-7-2-7 1-5 3-6 6-16 28-8 21-11 34z"/>
<path transform="translate(0 -233)" d="M733 4491l11-48 9-30 16-37 5-9 6-4 6 1 8 4 18 13 26 25 14 9 10 5 10 3 10 1 17 0 16-3 29-7 48-13 151-45 450-149 13 7-450 149-151 48-77 24-33 8-20 3-24 0-26-4-18 0-8 0-6 1-6 3-5 4-16 17-9 12-11 20z"/>
<path transform="translate(0 -227)" d="M740 4489l11-34 8-21 16-28 6-6 5-3 7-1 7 2 18 7 26 15 25 7 9 1 10 0 33-6 78-22 150-47 450-149 13 8-677 224-136 42-27 10-19 8z"/>
<path transform="translate(0 -221)" d="M746 4487l11-20 9-12 16-17 5-4 6-3 6-1 8 0 18 0 26 4 24 0 20-3 33-8 77-24 151-48 450-149 13 8-450 149-228 78-33 14-20 9-24 15-26 19-18 12-14 7-6 1-5 0-16-4-9-6-10-10z"/>
<path transform="translate(0 -215)" d="M766 4492l2 5-13-14-2 1zM755 4483l44-17 136-42 677-224 13 7-450 149-150 53-77 29-34 16-9 6-10 7-25 22-26 30-18 19-7 6-7 4-5 0-6-2-15-14-8-13-10-22z"/>
<path transform="translate(0 -209)" d="M773 4490l7 28-13-28-7-8zM767 4490l10 7 9 3 11 2 9-1 14-7 18-12 26-19 24-15 20-9 33-14 228-78 450-149 13 7-450 149-151 54-48 19-29 12-16 8-17 11-10 7-10 9-24 29-26 41-18 24-8 9-6 4-5 0-4-3-5-6-6-8-9-18-10-28z"/>
<path transform="translate(0 -204)" d="M779 4488l12 57-13-37-12-27zM778 4508l7 12 12 11 9 6 6 0 7-4 7-6 18-19 26-30 25-22 10-7 9-6 34-16 77-29 150-53 450-149 14 8-451 149-150 56-48 19-29 12-16 10-18 12-9 8-10 11-25 36-25 51-19 30-7 11-7 5-3 0-3-2-4-6-5-7-12-27-7-27z"/>
<path transform="translate(0 -198)" d="M786 4486l8 53 8 38-13-44-8-22-8-32zM789 4533l5 11 13 20 6 6 6 0 6-4 8-9 18-24 26-41 24-29 10-9 10-7 17-11 16-8 29-12 48-19 151-54 450-149 13 8-450 149-150 57-49 19-29 14-16 10-17 14-10 9-9 13-25 42-26 60-18 36-8 13-6 5-2 1-4-2-6-11-13-35-5-19z"/>
<path transform="translate(0 -192)" d="M792 4484l11 77 9 45-14-46-8-31-11-53zM798 4560l11 24 8 14 5 4 3 0 4-2 8-10 17-28 30-58 17-25 10-14 10-10 19-14 17-11 20-9 78-31 137-50 447-148 13 7-447 148-137 53-50 20-28 13-19 10-18 13-19 18-10 13-10 19-17 32-30 79-17 38-8 13-4 2-3 0-5-7-8-20-10-37z"/>
<path transform="translate(0 -186)" d="M799 4482l12 94 5 33 4 20-13-45-4-14-6-25-11-71zM807 4584l10 28 6 13 6 6 3 0 3-2 9-12 17-33 30-69 15-26 11-17 10-13 18-15 17-12 18-9 28-13 51-20 139-52 447-148 13 7-447 148-139 55-51 21-28 13-18 11-17 14-17 17-11 16-11 22-15 33-30 88-17 42-5 8-4 7-3 2-3 0-6-9-6-18-10-38z"/>
<path transform="translate(0 -180)" d="M805 4479l9 79 6 49 6 31 8 37-13-47-8-30-6-24-6-39-9-63zM821 4628l7 18 5 10 4 3 4-2 3-3 7-14 17-38 29-76 24-46 11-16 12-12 17-14 17-11 29-14 49-21 147-56 449-149 13 8-449 149-146 58-50 21-29 15-17 12-17 17-12 14-11 19-23 55-29 92-18 46-7 16-3 4-4 2-2-1-2-3-5-12-7-24z"/>
<path transform="translate(0 -174)" d="M812 4477l8 85 8 60 5 31 12 53-13-44-12-45-5-26-8-50-8-71zM832 4662l5 14 5 6 2 0 2-1 5-6 7-13 17-42 28-82 25-54 9-16 12-13 17-16 17-12 29-14 50-21 147-58 449-149 13 7-449 150-147 59-49 22-29 15-18 13-17 18-12 15-9 18-11 25-14 37-28 96-17 48-7 15-5 7-2 1-2-1-5-7-5-17z"/>
<path transform="translate(0 -168)" d="M818 4475l10 99 8 61 10 58 9 35-13-38-9-31-11-51-7-53-10-88zM842 4690l4 9 2 3 2 1 3-1 3-4 5-9 22-57 28-89 17-42 12-24 7-11 14-16 14-12 14-10 29-16 49-21 149-59 449-149 13 7-449 149-41 16-108 44-49 23-29 16-14 11-14 13-14 17-7 13-12 27-17 46-28 100-22 63-5 11-3 3-3 1-2-1-2-3-4-11z"/>
<path transform="translate(0 -162)" d="M825 4473l10 103 7 63 13 70 9 33-14-31-8-30-13-64-8-58-9-94zM850 4711l5 7 3 1 5-6 6-11 20-58 27-92 16-42 12-27 9-14 11-15 15-15 15-11 29-16 49-22 149-60 450-150 13 8-450 149-98 40-51 22-49 22-29 16-15 12-15 16-11 16-9 16-12 28-16 45-27 100-20 63-6 12-5 6-3-1-4-8z"/>
<path transform="translate(0 -156)" d="M831 4470l10 106 9 71 14 74 4 17 4 12-13-23-4-11-4-16-14-70-9-68-10-99zM859 4727l3 4 3 0 2-2 4-6 5-12 20-58 27-97 15-41 11-28 10-18 11-14 16-16 15-12 29-17 48-22 52-21 98-39 450-150 13 8-450 149-98 40-52 22-48 22-29 16-15 13-16 17-11 14-10 19-11 30-15 43-27 101-20 61-5 13-4 7-2 1-3 0-3-4z"/>
<path transform="translate(0 -150)" d="M838 4468l10 106 8 72 15 79 6 19 4 8-13-14-4-8-6-19-15-77-8-70-10-103zM868 4738l3 1 4-5 9-19 18-57 27-100 15-42 11-27 10-19 9-13 16-18 16-13 29-17 49-22 52-22 98-40 450-149 13 7-450 150-98 39-52 23-49 22-29 17-16 14-16 18-9 13-10 19-11 28-15 43-27 102-18 57-9 20-4 5-3-1z"/>
<path transform="translate(0 -145)" d="M844 4467l11 114 9 68 15 75 5 17 5 7-14-5-4-6-5-18-15-76-9-68-11-116zM875 4743l4-1 3-3 8-20 19-58 27-101 15-43 10-28 10-19 10-13 16-18 16-14 29-17 48-22 53-22 98-40 450-149 13 7-450 150-98 39-53 22-48 23-29 16-16 14-16 18-10 13-10 19-10 27-15 43-27 101-18 57-9 19-3 4-3 1z"/>
<path transform="translate(0 -139)" d="M851 4465l11 111 8 65 10 50 6 28 6 14 3 4 2 0-13 5-2 0-3-4-6-16-6-28-10-52-8-69-11-116zM884 4742l3-3 4-5 7-20 18-58 26-98 14-40 11-28 10-20 9-14 17-19 16-14 29-17 49-22 52-23 98-39 450-150 13 8-450 149-97 40-53 22-48 22-29 16-17 14-17 19-9 13-10 19-11 27-14 39-26 94-18 56-7 19-4 5-3 3z"/>
<path transform="translate(0 -133)" d="M858 4462l10 106 10 69 10 46 6 25 3 8 4 5 2 1 3-1-13 13-3 2-3-1-3-6-3-9-6-27-10-50-10-74-11-114zM893 4734l5-9 8-20 17-54 26-97 23-65 10-20 10-14 17-20 17-15 29-16 48-23 53-22 98-39 450-150 13 8-450 149-98 39-53 22-48 22-29 16-17 14-17 19-10 13-10 19-23 61-26 91-17 50-8 19-5 9z"/>
<path transform="translate(0 -127)" d="M864 4460l12 108 5 38 5 23 10 46 7 20 3 6 3 2 3-2 4-4-13 22-4 5-3 1-3-2-3-6-7-23-11-53-4-25-5-43-12-120zM903 4719l7-17 17-52 28-102 24-63 10-20 9-14 17-19 18-15 29-16 48-22 53-22 97-40 450-149 13 7-450 150-150 60-48 22-29 15-18 14-17 18-9 12-10 19-24 57-28 92-17 47-7 16z"/>
<path transform="translate(0 -121)" d="M871 4458l8 74 7 46 5 29 10 40 6 21 3 7 4 4 2 1 3-2 3-4 4-7-13 29-4 8-3 5-3 1-2-1-4-5-3-8-6-25-10-46-5-34-7-54-8-87zM913 4696l22-62 27-94 23-61 10-19 10-13 18-20 17-14 29-16 49-22 51-21 98-39 450-149 13 7-450 149-149 59-49 21-29 16-17 12-18 18-10 12-10 17-23 53-27 83-22 54z"/>
<path transform="translate(0 -115)" d="M877 4455l9 67 7 47 6 24 13 44 6 13 3 3 2 0 4-3 4-5 10-21-14 34-9 24-5 6-3 3-2 0-3-3-7-17-12-54-6-30-7-58-9-81zM927 4658l16-42 25-86 14-35 11-25 10-17 10-14 18-17 17-13 29-15 49-22 148-60 449-149 14 8-449 149-149 57-49 21-29 15-17 11-18 15-10 12-10 15-25 51-25 72-15 35z"/>
<path transform="translate(0 -109)" d="M884 4453l9 64 8 39 13 42 8 20 4 4 3 1 3-2 3-3 8-12 17-36-13 34-17 43-8 15-3 4-3 2-3-2-4-5-8-26-13-56-8-50-9-83zM947 4604l28-86 15-35 12-24 9-16 13-14 16-14 16-11 29-15 50-21 146-58 449-149 13 8-449 149-146 55-49 20-29 14-17 9-16 13-13 12-9 13-12 19-15 29-28 68z"/>
<path transform="translate(0 -103)" d="M890 4451l10 52 8 36 14 36 5 8 4 5 3 2 3-1 8-8 19-33 10-19-13 33-10 26-19 43-4 6-4 3-3 1-3-3-4-8-5-11-14-52-8-50-10-74zM961 4562l21-60 18-36 11-21 9-11 17-17 15-11 15-9 29-14 50-20 143-56 448-148 13 7-448 149-143 53-50 19-29 13-15 8-15 9-17 14-8 9-12 16-17 28-22 45z"/>
<path transform="translate(0 -97)" d="M897 4449l9 40 9 27 14 27 5 8 5 3 3 0 4-2 9-9 19-28 17-30-13 28-17 43-19 40-9 12-4 3-3-1-5-6-5-12-14-44-9-43-9-64zM978 4513l10-23 12-23 13-22 9-14 13-12 16-13 14-9 18-9 79-33 135-51 446-147 13 7-446 148-135 49-78 30-19 8-14 7-16 11-13 9-9 10-13 16-12 17-10 16z"/>
<path transform="translate(0 -91)" d="M903 4446l11 31 9 17 15 19 5 3 4 1 8-3 8-9 19-21 23-31 12-13-13 18-12 20-23 50-19 33-8 12-5 4-3 1-4-3-5-8-15-37-9-33-11-58zM1004 4458l21-30 7-8 11-9 14-10 14-8 41-19 73-28 121-45 444-147 13 8-444 147-194 69-41 16-28 14-18 13-21 19z"/>
<path transform="translate(0 -86)" d="M910 4445l11 16 8 9 15 8 6 2 4-1 7-3 9-6 18-14 25-22 21-16-13 12-21 29-25 43-18 27-9 10-4 3-3 1-4-1-6-6-15-28-8-26-11-44zM1021 4430l9-9 9-8 15-11 15-9 30-14 53-21 164-59 440-146 13 8-440 145-163 57-84 30-30 14-18 11z"/>
<path transform="translate(0 -80)" d="M916 4443l20 1 15-2 10-2 92-40-13 8-13 11-18 19-28 37-19 21-7 7-7 3-5-1-5-3-15-19-9-17-11-31zM1040 4408l22-14 25-12 39-15 76-28 123-43 438-145 13 7-561 186-115 39-47 17z"/>
<path transform="translate(0 -74)" d="M910 4433l2 4 13 1-2 3zM925 4438l10-12 7-8 15-12 11-6 16-3 56-4 30-5-13 4-14 8-16 11-15 12-24 21-17 14-9 6-7 3-5 1-6-2-15-8-7-8-10-13zM1057 4392l27-12 30-11 180-63 475-157 13 7-475 157-180 58-57 17z"/>
<path transform="translate(0 -68)" d="M916 4431l9 1 13-17-9 23zM938 4415l10-21 12-18 9-11 8-5 9 0 18 4 27 11 17 3 17 2 17-1-13 3-34 14-71 31-18 4-11 1-10 0zM1069 4382l238-81 469-155 13 8-469 155-181 56-31 9-26 5z"/>
<path transform="translate(0 -62)" d="M923 4429l14-18 13-29-14 54zM950 4382l6-18 14-29 8-10 3-2 3-1 9 2 17 9 28 23 18 9 17 6 21 0-13 2-21 5-17 3-18 2-28 1-26 3-6 3-8 4-14 11-6 6zM1081 4373l57-17 181-59 463-153 13 7-463 153-181 55-33 8-24 4z"/>
<path transform="translate(0 -56)" d="M929 4426l10-25 9-19 13-36-9 36-9 52zM961 4346l11-31 7-18 6-9 4-2 3-1 4 2 5 2 16 15 28 33 19 16 10 6 7 3 10 1 13 1-13 1-23 3-17-1-20-4-27-11-17-4-8 0-7 2-6 6-8 10-10 16zM1091 4365l21-4 36-11 180-56 461-152 13 7-461 152-114 34-66 19-36 8-21 2z"/>
<path transform="translate(0 -50)" d="M936 4424l12-46 9-28 14-38-10 44-12 76zM971 4312l10-36 7-16 5-8 3-1 4 0 7 6 16 19 28 44 21 22 9 8 8 4 12 2 12 2-13 0-24 1-8-1-10-4-20-10-28-23-16-9-8-2-6 1-5 6-7 10-11 23zM1100 4358l21-3 37-10 179-54 458-152 13 8-458 151-113 33-66 18-37 8-21 1z"/>
<path transform="translate(0 -44)" d="M943 4422l13-71 6-20 8-25 14-42-9 35-5 28-14 102zM984 4264l7-26 5-14 5-5 3 0 3 1 8 8 15 22 28 53 20 28 10 9 7 6 12 4 14 2-13 0-14 0-12-2-7-3-10-5-20-17-28-33-15-14-8-4-3-1-3 1-5 4-5 9-8 19zM1108 4352l20-3 38-9 65-18 113-34 458-151 13 8-458 151-112 31-66 17-38 8-9 1-11-1z"/>
<path transform="translate(0 -38)" d="M949 4420l9-57 7-41 6-22 11-39 13-43-11 51-6 29-7 54-9 75zM995 4218l6-17 4-9 2-2 2 0 6 2 6 8 17 30 28 62 19 28 9 12 9 7 13 5 13 3-13-1-13-1-13-3-9-4-9-8-19-20-28-43-17-21-6-6-6-1-4 2-4 7-6 13zM1116 4346l19-2 40-8 64-18 113-32 456-151 14 7-457 151-113 31-64 16-40 7-10 1-9-1z"/>
<path transform="translate(0 -32)" d="M956 4417l9-74 8-46 11-45 8-30 13-39-8 36-11 56-8 58-9 92zM1005 4183l4-12 4-6 2-1 2 0 5 4 7 10 16 32 28 70 18 31 10 13 8 8 13 6 13 4-13-2-13-2-13-4-8-6-10-9-18-24-28-54-16-24-7-7-5-3-4 1-4 4-4 10zM1122 4340l19 0 40-8 65-17 112-32 457-150 13 7-457 151-112 30-65 15-21 5-18 2-10 0-10-1z"/>
<path transform="translate(0 -27)" d="M962 4416l10-84 7-52 13-60 6-21 4-12 13-34-4 14-6 24-13 72-7 61-10 99zM1015 4153l4-8 3-2 5 2 5 8 21 43 26 73 14 27 11 18 7 8 6 6 12 6 12 4-13-2-12-3-12-4-7-5-6-7-11-14-14-22-27-60-20-35-5-6-5-1-3 1-4 7zM1128 4336l10 1 10-1 38-6 65-17 113-31 458-151 13 8-458 151-113 29-65 16-21 3-17 2-10 0-10-2z"/>
<path transform="translate(0 -21)" d="M969 4414l9-92 9-64 14-70 5-20 5-10 13-28-5 13-5 22-14 79-9 72-9 105zM1024 4130l3-4 2-1 2 1 4 4 6 10 18 42 27 78 13 27 9 18 8 11 6 6 12 7 12 5-13-3-12-4-12-6-6-5-8-10-22-37-27-68-18-36-6-8-4-3-4 0-3 4zM1133 4331l11 1 9 0 38-6 66-15 112-31 459-151 13 8-431 142-28 9-112 29-66 15-20 3-18 2-9-1-11-2z"/>
<path transform="translate(0 -15)" d="M975 4411l10-99 8-69 15-79 6-20 4-10 13-19-4 11-5 22-15 86-9 76-10 109zM1031 4115l3-3 5 2 4 5 4 8 19 44 25 79 12 26 11 21 7 12 8 9 10 6 11 6-13-5-11-4-10-5-8-8-7-11-11-19-12-23-25-71-19-39-4-8-4-5-5-1-3 3zM1137 4325l11 3 11 0 16-1 20-4 67-15 113-30 29-8 431-143 13 7-431 143-29 9-113 29-67 14-20 3-16 2-11-1-11-3z"/>
<path transform="translate(0 -9)" d="M982 4409l10-115 9-70 15-81 5-19 4-8 2-2 13-10-2 2-3 8-6 21-15 85-8 74-11 123zM1040 4104l3-1 3 3 5 6 4 9 18 46 25 78 20 44 9 15 7 10 9 6 12 6-13-5-12-6-9-6-7-8-9-14-20-41-25-73-18-43-4-8-5-6-3-2-3 0zM1142 4321l12 3 10 1 15-1 20-3 66-15 114-29 31-10 431-142 13 7-431 143-31 9-114 29-66 14-20 3-15 1-10-2-12-3z"/>
<path transform="translate(0 -3)" d="M988 4407l11-120 9-72 15-84 5-20 3-8 2-2 7-3-2 2-3 8-6 21-15 85-8 74-11 123zM1040 4098l3-1 3 3 5 6 4 9 18 46 25 78 19 42 9 15 7 10 8 6 12 7-7-3-12-6-7-6-8-10-8-15-20-41-24-76-19-44-4-9-4-6-3-3-4 1zM1146 4316l12 4 12 2 15-1 18-3 68-14 114-29 32-10 431-143 6 4-431 143-32 9-114 29-67 14-19 3-15 1-11-2-12-4z"/>
</g>
</g>
<path class="bx" d="M170.6 2221.3L497.4 2408.1M497.4 2408.1L927.1 2265.8M170.6 2221.3L170.6 1812.8M927.1 2265.8L927.1 1857.3M497.4 2408.1L497.4 1999.6M170.6 1812.8L497.4 1999.6M497.4 1999.6L927.1 1857.3M170.6 1812.8L600.3 1670.5M600.3 1670.5L927.1 1857.3M497.4 2408.1L506.9 2413.6M640.6 2360.7L650.2 2366.1M783.9 2313.2L793.4 2318.7M927.1 2265.8L936.6 2271.3M432.0 2370.7L421.6 2374.2M301.3 2296.0L290.9 2299.5M170.6 2221.3L160.2 2224.8M170.6 2221.3L161.1 2215.8M170.6 2119.2L161.1 2113.7M170.6 2017.1L161.1 2011.6M170.6 1914.9L161.1 1909.5M170.6 1812.8L161.1 1807.3"/>
<text class="t" x="530.4" y="2465.5" text-anchor="middle">0</text>
<text class="t" x="673.6" y="2418.1" text-anchor="middle">2</text>
<text class="t" x="816.9" y="2370.7" text-anchor="middle">4</text>
<text class="t" x="960.1" y="2323.2" text-anchor="middle">6</text>
<text class="t" x="392.0" y="2424.2" text-anchor="middle">0</text>
<text class="t" x="261.3" y="2349.5" text-anchor="middle">2</text>
<text class="t" x="130.6" y="2274.7" text-anchor="middle">4</text>
<text class="t" x="142.6" y="2228.2" text-anchor="end">-0.2</text>
<text class="t" x="142.6" y="2126.1" text-anchor="end">-0.1</text>
<text class="t" x="142.6" y="2024.0" text-anchor="end">0</text>
<text class="t" x="142.6" y="1921.9" text-anchor="end">0.1</text>
<text class="t" x="142.6" y="1819.7" text-anchor="end">0.2</text>
<text class="i" x="315.0" y="2474.0" text-anchor="middle">z</text>
<text class="i" x="701.6" y="2482.5" text-anchor="middle">x</text>
<text class="y" transform="translate(48.8 2016.6) rotate(-90)" text-anchor="middle" textLength="221" lengthAdjust="spacingAndGlyphs">The stress (<tspan class="g">σ</tspan><tspan dy="10" font-size="27">xz</tspan><tspan dy="-10"> )</tspan></text>
</g>
<g>
<path class="mn" d="M1508.4 2352.0L1177.6 2185.4M1177.6 2185.4L1177.6 1779.4M1547.3 2342.2L1216.5 2175.6M1216.5 2175.6L1216.5 1769.6M1586.1 2332.5L1255.3 2165.8M1255.3 2165.8L1255.3 1759.8M1663.8 2312.9L1333.0 2146.3M1333.0 2146.3L1333.0 1740.3M1702.7 2303.1L1371.9 2136.5M1371.9 2136.5L1371.9 1730.5M1741.5 2293.3L1410.8 2126.7M1410.8 2126.7L1410.8 1720.7M1819.2 2273.8L1488.5 2107.1M1488.5 2107.1L1488.5 1701.1M1858.1 2264.0L1527.3 2097.4M1527.3 2097.4L1527.3 1691.4M1896.9 2254.2L1566.1 2087.6M1566.1 2087.6L1566.1 1681.6M1436.5 2345.1L1902.7 2227.7M1902.7 2227.7L1902.7 1821.7M1370.4 2311.8L1836.6 2194.4M1836.6 2194.4L1836.6 1788.4M1337.3 2295.2L1803.5 2177.8M1803.5 2177.8L1803.5 1771.8M1304.2 2278.5L1770.4 2161.1M1770.4 2161.1L1770.4 1755.1M1238.0 2245.2L1704.2 2127.8M1704.2 2127.8L1704.2 1721.8M1205.0 2228.5L1671.2 2111.1M1671.2 2111.1L1671.2 1705.1M1171.9 2211.9L1638.1 2094.5M1638.1 2094.5L1638.1 1688.5"/>
<path class="mj" d="M1625.0 2322.7L1294.2 2156.1M1294.2 2156.1L1294.2 1750.1M1780.4 2283.5L1449.6 2116.9M1449.6 2116.9L1449.6 1710.9M1403.4 2328.5L1869.6 2211.1M1869.6 2211.1L1869.6 1805.1M1271.1 2261.8L1737.3 2144.4M1737.3 2144.4L1737.3 1738.4M1138.8 2093.7L1605.0 1976.3M1605.0 1976.3L1935.8 2142.9M1138.8 1992.2L1605.0 1874.8M1605.0 1874.8L1935.8 2041.4M1138.8 1890.7L1605.0 1773.3M1605.0 1773.3L1935.8 1939.9"/>
<path class="bx" d="M1138.8 2195.2L1605.0 2077.8M1605.0 2077.8L1935.8 2244.4M1605.0 2077.8L1605.0 1671.8"/>
<g class="s">
<defs><linearGradient id="mf" gradientUnits="userSpaceOnUse" x1="2939.2" y1="4723.5" x2="2747.4" y2="3961.9"><stop offset="0" stop-color="#3e26a8"/><stop offset="0.063" stop-color="#4537d5"/><stop offset="0.095" stop-color="#4741e5"/><stop offset="0.143" stop-color="#4852f4"/><stop offset="0.19" stop-color="#4563fd"/><stop offset="0.222" stop-color="#3e6fff"/><stop offset="0.254" stop-color="#327cfc"/><stop offset="0.286" stop-color="#2e87f7"/><stop offset="0.317" stop-color="#2b91ef"/><stop offset="0.397" stop-color="#1ca9df"/><stop offset="0.413" stop-color="#18addb"/><stop offset="0.429" stop-color="#12b1d6"/><stop offset="0.444" stop-color="#08b5d0"/><stop offset="0.46" stop-color="#01b8ca"/><stop offset="0.476" stop-color="#02bac3"/><stop offset="0.492" stop-color="#0bbdbd"/><stop offset="0.524" stop-color="#24c1ae"/><stop offset="0.556" stop-color="#31c69f"/><stop offset="0.587" stop-color="#3fca8e"/><stop offset="0.635" stop-color="#64cd6f"/><stop offset="0.698" stop-color="#9dc943"/><stop offset="0.73" stop-color="#b9c431"/><stop offset="0.746" stop-color="#c5c22a"/><stop offset="0.762" stop-color="#d1bf27"/><stop offset="0.778" stop-color="#dcbd29"/><stop offset="0.794" stop-color="#e6bb2d"/><stop offset="0.825" stop-color="#f8ba3d"/><stop offset="0.841" stop-color="#febe3c"/><stop offset="0.889" stop-color="#fccf30"/><stop offset="0.937" stop-color="#f5e327"/><stop offset="0.984" stop-color="#f7f51b"/><stop offset="1" stop-color="#f9fb15"/></linearGradient></defs>
<g transform="scale(0.5)" fill="url(#mf)">
<path transform="translate(0 -497)" d="M2278 4222l170 154 84 17 85 7 85-7 84-21 85-30 85-31 84-28 85-23 85-22 13 9-170 40-84 26-169 60-85 23-85 13-85 1-84-9-85-63-85-15z"/>
<path transform="translate(0 -492)" d="M2284 4268l85 45 85 70 84 13 85 3 85-10 84-22 85-29 86-31 83-27 171-42 13 8-170 39-84 25-170 59-84 24-85 15-85 4-84-5-85-55-86 11z"/>
<path transform="translate(0 -487)" d="M2291 4313l85 15 85 63 84 9 85-1 85-13 85-23 169-60 84-26 170-40 13 8-170 38-84 24-169 58-85 25-85 17-85 8-84-2-85-48-85 34z"/>
<path transform="translate(0 -482)" d="M2297 4353l86-11 85 55 84 5 85-4 85-15 84-24 170-59 84-25 170-39 13 8-170 37-84 23-169 57-85 26-85 18-85 12-84 1-85-41-85 55z"/>
<path transform="translate(0 -477)" d="M2304 4389l85-34 85 48 84 2 85-8 85-17 85-25 169-58 84-24 170-38 14 8-169 35-85 23-169 56-85 27-87 20-84 14-84 5-85-34-85 73z"/>
<path transform="translate(0 -472)" d="M2311 4422l85-55 85 41 84-1 85-12 85-18 85-26 169-57 84-23 170-37 13 8-169 35-85 22-170 55-84 26-85 23-84 16-86 9-84-27-85 90z"/>
<path transform="translate(0 -467)" d="M2317 4452l85-73 85 34 84-5 84-14 87-20 85-27 169-56 85-23 169-35 13 8-169 34-85 22-254 80-85 24-85 20-85 11-84-20-85 105z"/>
<path transform="translate(0 -462)" d="M2324 4481l85-90 84 27 86-9 84-16 85-23 84-26 170-55 85-22 169-35 14 8-86 17-83 16-86 21-255 81-84 24-85 23-85 14-84-13-85 117z"/>
<path transform="translate(0 -457)" d="M2331 4507l85-105 84 20 85-11 85-20 85-24 254-80 85-22 169-34 13 8-85 17-84 16-85 20-85 26-254 80-85 24-85 18-84-7-85 130z"/>
<path transform="translate(0 -452)" d="M2337 4530l85-117 84 13 85-14 85-23 84-24 255-81 86-21 83-16 86-17 13 8-85 17-84 16-85 19-85 25-84 26-256 82-85 20-84 1-85 140z"/>
<path transform="translate(0 -447)" d="M2344 4553l85-130 84 7 85-18 85-24 254-80 85-26 85-20 84-16 85-17 13 7-85 18-84 15-85 19-85 25-85 25-85 28-169 57-85 24-84 8-85 150z"/>
<path transform="translate(0 -442)" d="M2350 4574l85-140 84-1 85-20 256-82 84-26 85-25 85-19 84-16 85-17 13 7-85 18-84 15-86 19-84 23-85 25-85 28-84 29-85 32-84 26-85 16-85 158z"/>
<path transform="translate(0 -437)" d="M2357 4595l85-150 84-8 85-24 169-57 85-28 85-25 85-25 85-19 84-15 85-18 14 8-85 18-86 15-83 18-86 23-83 24-87 27-84 31-85 34-84 29-85 24-85 165z"/>
<path transform="translate(0 -432)" d="M2364 4614l85-158 85-16 84-26 85-32 84-29 85-28 85-25 84-23 86-19 84-15 85-18 13 8-85 18-85 15-84 18-85 21-85 24-85 27-84 32-85 36-169 64-85 171z"/>
<path transform="translate(0 -427)" d="M2370 4632l85-165 85-24 84-29 85-34 84-31 87-27 83-24 86-23 83-18 86-15 85-18 13 8-85 18-84 15-85 17-85 21-85 23-84 27-85 33-85 38-86 35-83 40-86 175z"/>
<path transform="translate(0 -422)" d="M2377 4649l85-171 169-64 85-36 84-32 85-27 85-24 85-21 84-18 85-15 85-18 13 8-85 18-169 32-85 20-85 22-84 27-85 34-85 39-84 38-85 48-85 180z"/>
<path transform="translate(0 -417)" d="M2383 4664l86-175 83-40 86-35 85-38 85-33 84-27 85-23 85-21 85-17 84-15 85-18 13 8-85 18-169 31-85 20-85 21-84 27-85 35-169 81-85 55-85 184z"/>
<path transform="translate(0 -412)" d="M2390 4679l85-180 85-48 84-38 85-39 85-34 84-27 85-22 85-20 169-32 85-18 14 8-85 18-169 31-85 18-86 21-83 27-86 36-169 86-85 61-85 188z"/>
<path transform="translate(0 -407)" d="M2397 4692l85-184 85-55 169-81 85-35 84-27 85-21 85-20 169-31 85-18 13 8-85 18-169 30-85 18-85 21-85 27-84 36-85 44-85 46-84 67-85 192z"/>
<path transform="translate(0 -402)" d="M2403 4705l85-188 85-61 169-86 86-36 83-27 86-21 85-18 169-31 85-18 13 8-85 18-170 30-84 17-85 20-85 27-84 37-85 46-85 48-84 73-85 196z"/>
<path transform="translate(0 -397)" d="M2410 4717l85-192 84-67 85-46 85-44 84-36 85-27 85-21 85-18 169-30 85-18 14 7-86 18-169 30-83 17-86 19-85 27-86 38-84 47-84 50-85 79-85 200z"/>
<path transform="translate(0 -392)" d="M2417 4729l85-196 84-73 85-48 85-46 84-37 85-27 85-20 84-17 170-30 85-18 13 7-85 18-84 16-85 14-85 16-84 19-85 26-86 39-84 49-84 51-85 86-85 202z"/>
<path transform="translate(0 -387)" d="M2423 4740l85-200 85-79 84-50 84-47 86-38 85-27 86-19 83-17 169-30 86-18 13 8-85 18-84 16-85 14-85 15-84 18-85 26-87 40-84 50-83 54-86 91-85 205z"/>
<path transform="translate(0 -382)" d="M2430 4750l85-202 85-86 84-51 84-49 86-39 85-26 84-19 85-16 85-14 84-16 85-18 13 8-85 18-84 16-170 28-85 18-84 26-85 39-85 52-84 56-85 97-85 207z"/>
<path transform="translate(0 -377)" d="M2436 4760l85-205 86-91 83-54 84-50 87-40 85-26 84-18 85-15 85-14 84-16 85-18 13 8-85 18-84 16-170 27-85 17-84 26-85 40-85 54-84 57-85 103-85 208z"/>
<path transform="translate(0 -372)" d="M2443 4769l85-207 85-97 84-56 85-52 85-39 84-26 85-18 170-28 84-16 85-18 14 7-85 19-84 16-171 26-85 17-84 25-85 41-85 55-85 61-84 107-85 211z"/>
<path transform="translate(0 -367)" d="M2450 4777l85-208 85-103 84-57 85-54 85-40 84-26 85-17 170-27 84-16 85-18 13 7-85 19-84 16-170 25-85 16-84 26-85 41-85 56-85 63-84 113-85 213z"/>
<path transform="translate(0 -362)" d="M2456 4787l85-211 84-107 85-61 85-55 85-41 84-25 85-17 171-26 84-16 85-19 13 8-85 19-84 15-170 25-85 16-84 25-85 42-85 57-86 65-83 119-86 215z"/>
<path transform="translate(0 -357)" d="M2463 4796l85-213 84-113 85-63 85-56 85-41 84-26 85-16 170-25 84-16 85-19 13 8-85 18-84 16-170 24-85 15-84 25-85 43-85 58-85 67-84 124-85 216z"/>
<path transform="translate(0 -352)" d="M2469 4805l86-215 83-119 86-65 85-57 85-42 84-25 85-16 170-25 84-15 85-19 13 7-85 19-84 16-170 23-85 15-84 25-85 43-85 59-85 69-84 128-85 218z"/>
<path transform="translate(0 -347)" d="M2476 4812l85-216 84-124 85-67 85-58 85-43 84-25 85-15 170-24 84-16 85-18 14 7-85 19-84 16-170 23-86 14-83 24-86 44-85 60-85 70-84 133-85 217z"/>
<path transform="translate(0 -342)" d="M2483 4819l85-218 84-128 85-69 85-59 85-43 84-25 85-15 170-23 84-16 85-19 13 8-85 19-84 16-85 12-85 10-85 14-84 24-85 43-85 62-85 71-84 137-85 215z"/>
<path transform="translate(0 -337)" d="M2489 4823l85-217 84-133 85-70 85-60 86-44 83-24 86-14 170-23 84-16 85-19 13 7-85 20-84 16-85 12-85 9-85 14-84 24-85 43-85 62-85 73-84 141-85 211z"/>
<path transform="translate(0 -332)" d="M2496 4825l85-215 84-137 85-71 85-62 85-43 84-24 85-14 85-10 85-12 84-16 85-19 14 7-86 19-83 17-86 12-85 9-85 13-84 24-85 43-85 62-85 74-84 144-85 209z"/>
<path transform="translate(0 -327)" d="M2503 4825l85-211 84-141 85-73 85-62 85-43 84-24 85-14 85-9 85-12 84-16 85-20 13 7-85 20-85 17-84 11-85 9-85 13-84 23-85 44-85 63-85 74-84 148-85 206z"/>
<path transform="translate(0 -322)" d="M2509 4825l85-209 84-144 85-74 85-62 85-43 84-24 85-13 85-9 86-12 83-17 86-19 13 7-85 20-85 17-84 11-85 9-85 12-84 23-85 44-86 63-85 75-84 151-85 203z"/>
<path transform="translate(0 -317)" d="M2516 4825l85-206 84-148 85-74 85-63 85-44 84-23 85-13 85-9 84-11 85-17 85-20 13 7-85 20-85 18-84 11-85 8-85 12-84 23-85 44-85 63-85 76-84 153-85 201z"/>
<path transform="translate(0 -312)" d="M2522 4824l85-203 84-151 85-75 86-63 85-44 84-23 85-12 85-9 84-11 85-17 85-20 13 7-85 20-85 18-84 11-85 8-85 11-84 23-85 44-85 64-85 76-84 155-85 199z"/>
<path transform="translate(0 -307)" d="M2529 4823l85-201 84-153 85-76 85-63 85-44 84-23 85-12 85-8 84-11 85-18 85-20 14 7-85 20-86 18-83 11-86 8-85 11-84 23-85 44-85 64-85 77-84 156-85 198z"/>
<path transform="translate(0 -302)" d="M2536 4822l85-199 84-155 85-76 85-64 85-44 84-23 85-11 85-8 84-11 85-18 85-20 13 7-85 20-85 18-84 11-85 8-85 11-84 22-85 44-85 64-85 78-84 157-85 196z"/>
<path transform="translate(0 -297)" d="M2542 4821l85-198 84-156 85-77 85-64 85-44 84-23 85-11 86-8 83-11 86-18 85-20 13 7-85 20-85 19-84 10-85 8-85 11-84 23-85 43-85 64-86 78-83 158-86 193z"/>
<path transform="translate(0 -292)" d="M2549 4819l85-196 84-157 85-78 85-64 85-44 84-22 85-11 85-8 84-11 85-18 85-20 13 6-85 21-85 18-84 11-85 8-85 11-84 22-85 43-85 64-85 77-84 159-85 188z"/>
<path transform="translate(0 -287)" d="M2555 4815l86-193 83-158 86-78 85-64 85-43 84-23 85-11 85-8 84-10 85-19 85-20 13 7-85 21-85 18-84 11-85 8-85 10-84 22-85 43-85 63-85 78-84 159-85 181z"/>
<path transform="translate(0 -282)" d="M2562 4808l85-188 84-159 85-77 85-64 85-43 84-22 85-11 85-8 84-11 85-18 85-21 14 7-85 21-85 19-84 11-85 8-86 10-83 22-86 42-85 63-85 77-84 160-85 173z"/>
<path transform="translate(0 -277)" d="M2569 4799l85-181 84-159 85-78 85-63 85-43 84-22 85-10 85-8 84-11 85-18 85-21 13 6-85 22-85 19-84 11-85 7-85 11-84 21-85 42-85 62-85 77-84 160-85 166z"/>
<path transform="translate(0 -272)" d="M2575 4789l85-173 84-160 85-77 85-63 86-42 83-22 86-10 85-8 84-11 85-19 85-21 13 7-85 21-85 20-84 11-85 7-85 10-84 21-85 42-85 61-84 75-85 163-85 157z"/>
<path transform="translate(0 -267)" d="M2582 4779l85-166 84-160 85-77 85-62 85-42 84-21 85-11 85-7 84-11 85-19 85-22 14 7-86 22-85 20-84 11-85 7-85 10-84 21-85 41-85 61-84 75-85 162-85 150z"/>
<path transform="translate(0 -262)" d="M2589 4768l85-157 85-163 84-75 85-61 85-42 84-21 85-10 85-7 84-11 85-20 85-21 13 6-85 22-85 21-84 12-85 6-85 10-84 20-85 40-85 61-84 74-85 163-85 142z"/>
<path transform="translate(0 -257)" d="M2595 4758l85-150 85-162 84-75 85-61 85-41 84-21 85-10 85-7 84-11 85-20 86-22 13 7-85 22-85 21-84 12-85 6-85 10-84 19-85 40-86 60-83 74-86 163-85 133z"/>
<path transform="translate(0 -252)" d="M2602 4747l85-142 85-163 84-74 85-61 85-40 84-20 85-10 85-6 84-12 85-21 85-22 13 7-85 22-85 22-84 12-85 6-85 9-84 20-85 39-85 59-84 74-85 163-85 124z"/>
<path transform="translate(0 -247)" d="M2608 4735l85-133 86-163 83-74 86-60 85-40 84-19 85-10 85-6 84-12 85-21 85-22 13 6-170 44-84 13-85 6-85 9-84 19-85 39-85 58-84 73-85 163-85 114z"/>
<path transform="translate(0 -242)" d="M2615 4723l85-124 85-163 84-74 85-59 85-39 84-20 85-9 85-6 84-12 85-22 85-22 14 6-171 45-83 13-86 7-85 8-84 19-85 38-85 57-84 73-85 163-85 103z"/>
<path transform="translate(0 -237)" d="M2635 4690l12-12-14 16-11 15zM2633 4694l74-99 85-163 84-73 85-58 85-39 84-19 85-9 85-6 84-13 170-44 13 7-170 45-84 13-85 7-85 8-84 18-85 38-85 56-84 72-85 162-73 81z"/>
<path transform="translate(0 -232)" d="M2641 4675l25-24-13 14-25 30zM2653 4665l60-73 85-163 84-73 85-57 85-38 84-19 85-8 86-7 83-13 171-45 13 7-170 46-84 14-85 6-84 8-85 18-85 36-85 56-84 71-85 162-61 58z"/>
<path transform="translate(0 -227)" d="M2648 4658l37-31-13 13-37 40zM2672 4640l48-53 85-162 84-72 85-56 85-38 84-18 85-8 85-7 84-13 170-45 13 6-170 47-84 14-85 6-84 8-85 17-85 36-85 54-84 71-85 161-48 39z"/>
<path transform="translate(0 -222)" d="M2655 4640l47-32-13 11-48 46zM2689 4619l38-36 85-162 84-71 85-56 85-36 85-18 84-8 85-6 84-14 170-46 13 6-170 48-84 14-85 6-85 8-84 17-85 35-85 53-84 69-85 161-38 25z"/>
<path transform="translate(0 -217)" d="M2661 4621l59-29-14 8-58 48zM2706 4600l27-22 85-161 84-71 85-54 85-36 85-17 84-8 85-6 84-14 170-47 14 6-170 50-84 14-85 6-86 7-83 17-86 33-85 52-84 69-85 160-26 14z"/>
<path transform="translate(0 -212)" d="M2668 4602l68-24-14 7-67 45zM2722 4585l18-12 85-161 84-69 85-53 85-35 84-17 85-8 85-6 84-14 170-48 13 7-170 50-84 14-85 6-85 8-84 15-85 33-85 51-84 67-85 159-17 6z"/>
<path transform="translate(0 -207)" d="M2675 4581l75-13-13 5-76 38zM2737 4573l9-5 85-160 84-69 85-52 86-33 83-17 86-7 85-6 84-14 170-50 13 7-170 51-84 15-170 13-84 15-85 32-85 49-84 66-85 158-10 2z"/>
<path transform="translate(0 -202)" d="M2681 4560l84 0-13 3-84 29zM2752 4563l1-1 85-159 84-67 85-51 85-33 84-15 85-8 85-6 84-14 170-50 14 6-171 52-84 15-169 13-85 15-85 30-85 48-84 65-85 156-1 1z"/>
<path transform="translate(0 -197)" d="M2688 4537l84 16-14 4-83 14zM2758 4557l2-1 85-158 84-66 85-49 85-32 84-15 170-13 84-15 170-51 13 6-170 53-84 16-169 13-85 14-85 29-85 46-84 64-85 154-1 1z"/>
<path transform="translate(0 -192)" d="M2694 4513l84 31 1 0-13 5-85 1zM2766 4549l85-156 84-65 85-48 85-30 85-15 169-13 84-15 171-52 13 6-170 54-84 16-169 13-85 14-85 28-86 44-83 62-86 152z"/>
<path transform="translate(0 -187)" d="M2701 4487l84 48 1 0-13 7-1 1-84-16zM2773 4542l85-154 84-64 85-46 85-29 85-14 169-13 84-16 170-53 13 6-170 55-84 17-169 13-85 13-85 26-85 43-84 60-85 149z"/>
<path transform="translate(0 -182)" d="M2708 4462l84 64 1 0-14 8-1 0-84-31zM2779 4534l86-152 83-62 86-44 85-28 85-14 169-13 84-16 170-54 13 6-170 56-84 17-169 13-85 13-85 25-85 41-84 58-85 146z"/>
<path transform="translate(0 -177)" d="M2714 4438l84 79 1 1-13 7-1 0-84-48zM2786 4525l85-149 84-60 85-43 85-26 85-13 169-13 84-17 170-55 14 6-85 28-84 29-85 18-169 13-86 12-85 24-85 38-84 57-85 144z"/>
<path transform="translate(0 -172)" d="M2721 4416l85 93-13 7-1 0-84-64zM2793 4516l85-146 84-58 85-41 85-25 85-13 169-13 84-17 170-56 13 6-85 28-84 29-85 19-170 13-84 12-86 23-84 37-84 55-85 140z"/>
<path transform="translate(0 -167)" d="M2727 4394l86 106-14 8-1-1-84-79zM2799 4508l85-144 84-57 85-38 85-24 86-12 169-13 85-18 84-29 85-28 13 6-85 28-85 30-84 19-170 14-84 11-85 22-84 34-87 56-83 135z"/>
<path transform="translate(0 -162)" d="M2734 4373l85 118-13 8-85-93zM2806 4499l85-140 84-55 84-37 86-23 84-12 170-13 85-19 84-29 85-28 14 6-86 29-85 30-84 19-170 14-84 11-85 21-84 33-86 53-84 132z"/>
<path transform="translate(0 -157)" d="M2741 4352l85 129-13 9-86-106zM2813 4490l83-135 87-56 84-34 85-22 84-11 170-14 84-19 85-30 85-28 13 6-85 29-84 30-85 20-170 15-84 10-85 20-84 31-86 51-84 128z"/>
<path transform="translate(0 -152)" d="M2747 4330l85 142-13 9-85-118zM2819 4481l84-132 86-53 84-33 85-21 84-11 170-14 84-19 85-30 86-29 13 6-85 29-84 31-85 20-85 8-86 7-83 10-86 19-83 29-87 50-84 124z"/>
<path transform="translate(0 -147)" d="M2754 4307l85 155-13 9-85-129zM2826 4471l84-128 86-51 84-31 85-20 84-10 170-15 85-20 84-30 85-29 13 6-85 29-84 32-85 20-85 9-85 7-84 9-85 18-85 28-85 47-84 120z"/>
<path transform="translate(0 -142)" d="M2761 4282l85 169-14 11-85-142zM2832 4462l84-124 87-50 83-29 86-19 83-10 86-7 85-8 85-20 84-31 85-29 13 6-85 29-84 32-85 21-85 9-85 8-84 9-85 16-85 26-85 44-84 116z"/>
<path transform="translate(0 -137)" d="M2767 4255l85 185-13 12-85-155zM2839 4452l84-120 85-47 85-28 85-18 84-9 85-7 85-9 85-20 84-32 85-29 14 6-85 30-84 32-85 22-86 9-85 7-85 9-84 15-85 23-85 43-84 111z"/>
<path transform="translate(0 -132)" d="M2774 4227l85 202-13 12-85-169zM2846 4441l84-116 85-44 85-26 85-16 84-9 85-8 85-9 85-21 84-32 85-29 13 5-85 31-84 33-85 22-85 10-170 15-84 14-85 21-85 40-84 107z"/>
<path transform="translate(0 -127)" d="M2780 4199l85 218-13 13-85-185zM2852 4430l84-111 85-43 85-23 84-15 85-9 85-7 86-9 85-22 84-32 85-30 13 5-85 31-84 33-85 23-85 10-171 16-83 12-86 18-85 38-84 102z"/>
<path transform="translate(0 -122)" d="M2787 4173l85 233-13 13-85-202zM2859 4419l84-107 85-40 85-21 84-14 170-15 85-10 85-22 84-33 85-31 13 6-85 31-84 34-85 24-85 10-170 15-84 11-85 16-85 36-84 97z"/>
<path transform="translate(0 -117)" d="M2794 4149l85 247-14 11-85-218zM2865 4407l84-102 85-38 86-18 83-12 171-16 85-10 85-23 84-33 85-31 13 6-85 31-84 35-85 24-85 10-85 8-84 7-85 10-85 14-85 33-84 94z"/>
<path transform="translate(0 -112)" d="M2800 4125l85 260-13 11-85-233zM2872 4396l84-97 85-36 85-16 84-11 170-15 85-10 85-24 84-34 85-31 14 6-85 32-84 34-85 25-85 11-86 8-85 6-84 9-85 12-85 31-84 89z"/>
<path transform="translate(0 -107)" d="M2807 4101l85 274-13 11-85-247zM2879 4386l84-94 85-33 85-14 85-10 84-7 85-8 85-10 85-24 84-35 85-31 13 6-85 32-84 35-85 25-85 11-85 9-169 13-85 10-85 29-84 85z"/>
<path transform="translate(0 -102)" d="M2813 4078l86 286-14 11-85-260zM2885 4375l84-89 85-31 85-12 84-9 85-6 86-8 85-11 85-25 84-34 85-32 13 6-85 32-84 36-85 25-85 12-84 8-170 12-85 8-86 27-83 80z"/>
<path transform="translate(0 -97)" d="M2820 4056l85 298-13 11-85-274zM2892 4365l84-85 85-29 85-10 169-13 85-9 85-11 85-25 84-35 85-32 14 6-86 32-83 36-86 26-85 12-84 9-170 10-85 7-85 24-84 76z"/>
<path transform="translate(0 -92)" d="M2827 4035l85 308-13 11-86-286zM2899 4354l83-80 86-27 85-8 170-12 84-8 85-12 85-25 84-36 85-32 13 6-85 32-84 36-85 27-85 12-85 9-254 14-84 22-85 71z"/>
<path transform="translate(0 -87)" d="M2833 4017l85 316-13 11-85-298zM2905 4344l84-76 85-24 85-7 170-10 84-9 85-12 86-26 83-36 86-32 13 6-85 32-84 37-85 26-85 14-85 9-84 5-171 6-83 19-86 67z"/>
<path transform="translate(0 -82)" d="M2840 4001l85 322-13 10-85-308zM2912 4333l85-71 84-22 254-14 85-9 85-12 85-27 84-36 85-32 13 6-85 32-84 37-85 27-85 13-85 10-85 5-169 4-84 18-85 61z"/>
<path transform="translate(0 -77)" d="M2847 3989l85 325-14 9-85-316zM2918 4323l86-67 83-19 171-6 84-5 85-9 85-14 85-26 84-37 85-32 13 6-85 32-84 37-86 27-84 14-85 10-85 5-169 2-84 16-85 57z"/>
<path transform="translate(0 -72)" d="M2853 3977l85 328-13 8-85-322zM2925 4313l85-61 84-18 169-4 85-5 85-10 85-13 85-27 84-37 85-32 14 5-85 33-84 36-85 28-86 15-85 10-85 5-84 1-85 0-85 14-84 52z"/>
<path transform="translate(0 -67)" d="M2860 3967l85 329-13 8-85-325zM2932 4304l85-57 84-16 169-2 85-5 85-10 84-14 86-27 84-37 85-32 13 5-85 33-84 36-85 28-85 15-85 11-85 5-84 1-85-2-84 13-85 47z"/>
<path transform="translate(0 -62)" d="M2866 3957l84 328 2 3 1-1-14 8-1 0-1-3-84-325zM2939 4295l83-52 85-14 85 0 84-1 85-5 85-10 86-15 85-28 84-36 85-33 13 6-85 33-84 36-85 28-85 16-85 11-85 6-84-1-85-2-84 11-84 42z"/>
<path transform="translate(0 -57)" d="M2873 3948l84 328 1 4 1-1-13 7-1 0-1-3-84-326zM2946 4286l84-47 84-13 85 2 84-1 85-5 85-11 85-15 85-28 84-36 85-33 13 6-85 32-84 37-86 29-84 15-85 12-85 6-84-1-85-3-84 9-84 38z"/>
<path transform="translate(0 -52)" d="M2880 3942l85 330-13 6-86-331zM2952 4278l85-43 84-11 85 2 84 1 85-6 85-11 85-16 85-28 84-36 85-33 13 6-85 32-84 36-86 29-84 17-85 12-85 6-84-1-85-4-84 8-85 34z"/>
<path transform="translate(0 -47)" d="M2886 3938l85 327-13 5-85-332zM2958 4270l85-39 84-9 85 3 84 1 85-6 85-12 84-15 86-29 84-37 85-32 14 6-85 32-84 36-85 29-85 17-86 13-83 6-86-1-85-5-84 7-85 30z"/>
<path transform="translate(0 -42)" d="M2893 3935l85 323-13 4-85-330zM2965 4262l85-34 84-8 85 4 84 1 85-6 85-12 84-17 86-29 84-36 85-32 13 6-85 32-85 36-84 28-85 18-85 13-84 7-85-1-85-6-84 6-85 26z"/>
<path transform="translate(0 -37)" d="M2900 3933l85 318-14 4-85-327zM2971 4255l85-30 84-7 85 5 86 1 83-6 86-13 85-17 85-29 84-36 85-32 13 7-85 31-85 35-84 29-85 18-85 14-84 7-85-1-85-6-84 4-85 22z"/>
<path transform="translate(0 -32)" d="M2906 3931l84 309 1 4 7-2-13 3-7 3-1-4-84-319zM2985 4245l78-23 84-6 85 6 85 1 84-7 85-13 85-18 84-28 85-36 85-32 14 7-86 31-85 35-84 29-85 18-85 15-84 7-85-1-85-7-84 3-78 16z"/>
<path transform="translate(0 -27)" d="M2913 3928l84 305 1 3 14-2-13 3-14 4-2-4-83-314zM2999 4237l71-18 84-4 85 6 85 1 84-7 85-14 85-18 84-29 85-35 85-31 13 6-85 30-85 35-84 29-85 19-84 15-86 8-84-1-85-7-84 2-71 10z"/>
<path transform="translate(0 -22)" d="M2919 3926l84 300 1 3 21-2-13 2-21 5-1-4-84-309zM3012 4229l64-13 84-3 85 7 85 1 84-7 85-15 85-18 84-29 85-35 86-31 13 6-85 30-85 35-84 29-85 19-84 16-87 8-83-1-86-8-83 1-65 6z"/>
<path transform="translate(0 -17)" d="M2926 3924l84 295 1 3 28-1-13 1-28 4-1-3-84-305zM3026 4222l57-8 84-2 85 7 84 1 86-8 84-15 85-19 84-29 85-35 85-30 13 6-85 30-85 34-84 29-85 20-84 16-86 9-84-1-85-8-84-1-57 3z"/>
<path transform="translate(0 -12)" d="M2933 3922l85 293 35 0-14 1-35 3-85-303zM3039 4216l51-5 83-1 86 8 83 1 87-8 84-16 85-19 84-29 85-35 85-30 13 6-85 30-85 34-84 29-85 21-85 16-85 9-84-1-85-9-134-2z"/>
<path transform="translate(0 -7)" d="M2939 3921l85 287 42 2-13 0-42 2-85-298zM3053 4210l43-2 84 1 85 8 84 1 86-9 84-16 85-20 84-29 85-34 85-30 14 6-85 29-84 34-85 29-86 22-85 17-84 9-85-1-85-9-84-3-43-3z"/>
<path transform="translate(0 -2)" d="M2939 3916l85 287 46 3-7-1-45 0-85-293zM3063 4205l124 2 85 9 84 1 85-9 85-16 85-21 84-29 85-34 85-30 7 3-85 29-84 34-85 29-86 22-85 17-84 9-85-1-85-9-84-3-39-2z"/>
</g>
</g>
<path class="bx" d="M1138.8 2195.2L1469.6 2361.8M1469.6 2361.8L1935.8 2244.4M1138.8 2195.2L1138.8 1789.2M1935.8 2244.4L1935.8 1838.4M1469.6 2361.8L1469.6 1955.8M1138.8 1789.2L1469.6 1955.8M1469.6 1955.8L1935.8 1838.4M1138.8 1789.2L1605.0 1671.8M1605.0 1671.8L1935.8 1838.4M1469.6 2361.8L1479.4 2366.7M1625.0 2322.7L1634.8 2327.6M1780.4 2283.5L1790.2 2288.5M1935.8 2244.4L1945.6 2249.3M1403.4 2328.5L1392.8 2331.2M1271.1 2261.8L1260.5 2264.5M1138.8 2195.2L1128.1 2197.9M1138.8 2195.2L1129.0 2190.3M1138.8 2093.7L1129.0 2088.8M1138.8 1992.2L1129.0 1987.3M1138.8 1890.7L1129.0 1885.8M1138.8 1789.2L1129.0 1784.3"/>
<text class="t" x="1502.6" y="2419.2" text-anchor="middle">0</text>
<text class="t" x="1658.0" y="2380.1" text-anchor="middle">2</text>
<text class="t" x="1813.4" y="2341.0" text-anchor="middle">4</text>
<text class="t" x="1968.8" y="2301.8" text-anchor="middle">6</text>
<text class="t" x="1363.4" y="2381.9" text-anchor="middle">0</text>
<text class="t" x="1231.1" y="2315.3" text-anchor="middle">2</text>
<text class="t" x="1098.8" y="2248.6" text-anchor="middle">4</text>
<text class="t" x="1110.8" y="2202.1" text-anchor="end">-0.1</text>
<text class="t" x="1110.8" y="2100.6" text-anchor="end">-0.05</text>
<text class="t" x="1110.8" y="1999.1" text-anchor="end">0</text>
<text class="t" x="1110.8" y="1897.6" text-anchor="end">0.05</text>
<text class="t" x="1110.8" y="1796.1" text-anchor="end">0.1</text>
<text class="i" x="1287.0" y="2430.0" text-anchor="middle">z</text>
<text class="i" x="1687.0" y="2440.0" text-anchor="middle">x</text>
<text class="y" transform="translate(995.6 1990.0) rotate(-90)" text-anchor="middle" textLength="404" lengthAdjust="spacingAndGlyphs">Conductive temperature (<tspan class="g">ϕ</tspan>)</text>
</g>
</svg>
</body></html>
